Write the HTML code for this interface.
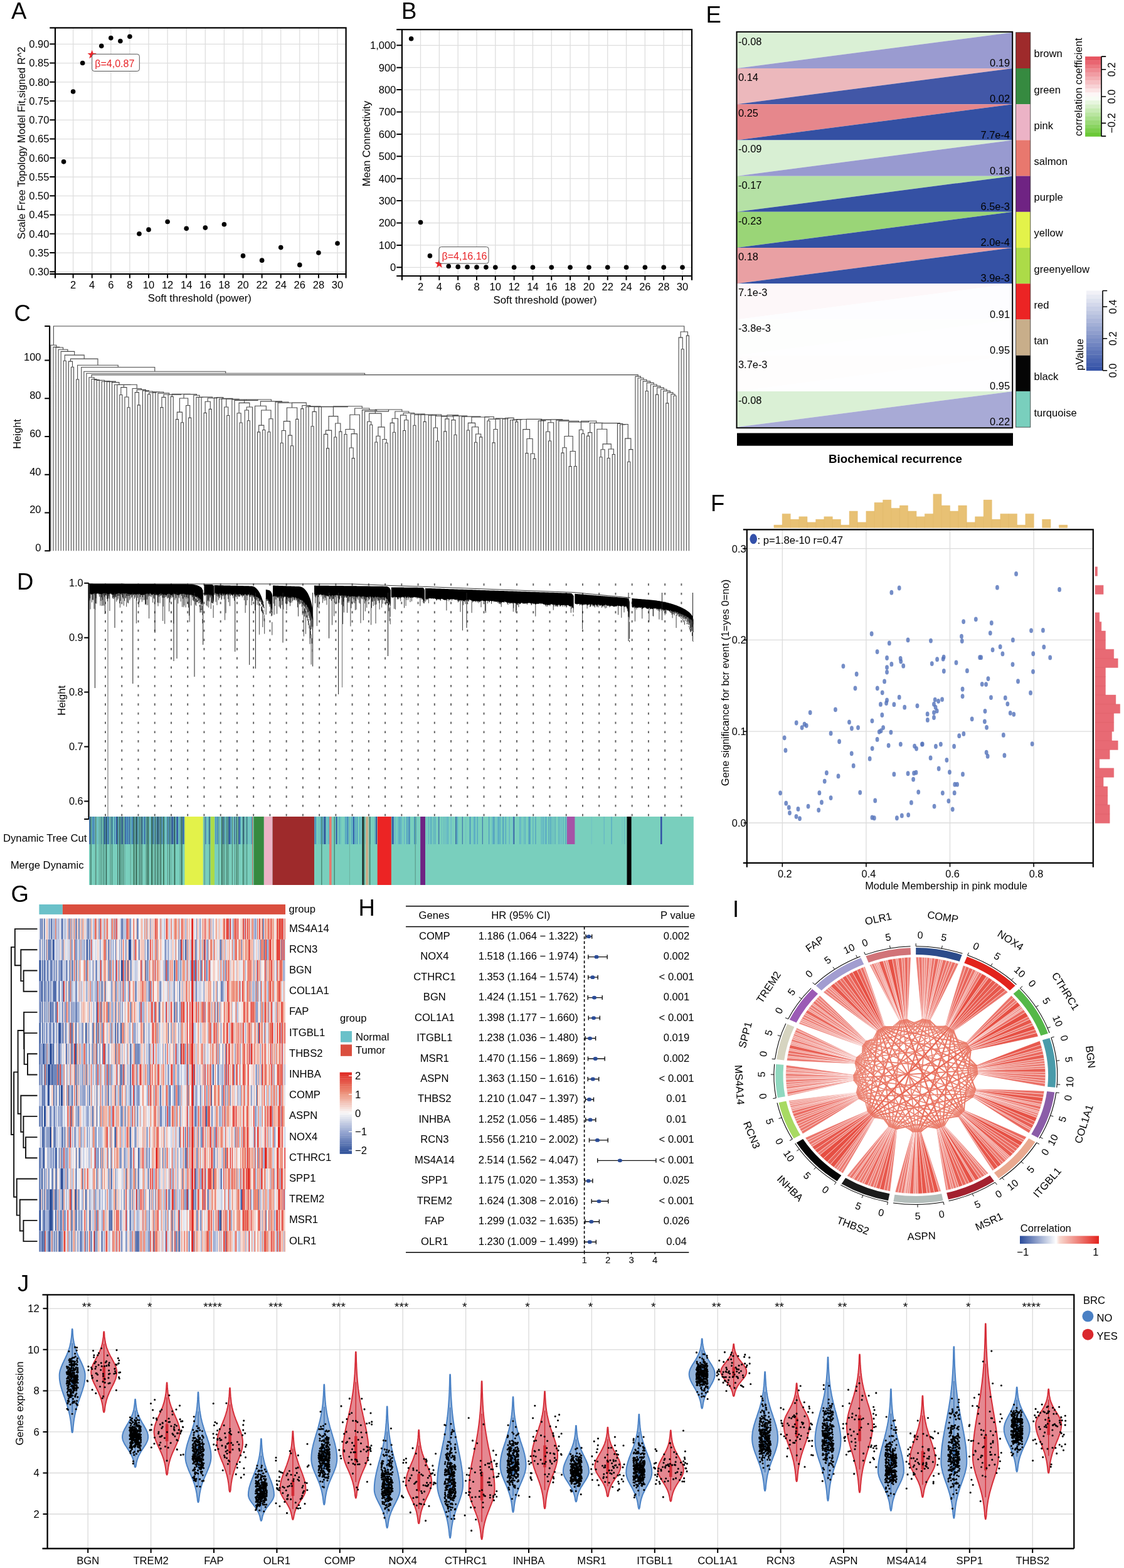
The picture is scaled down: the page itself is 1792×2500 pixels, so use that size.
<!DOCTYPE html>
<html><head><meta charset="utf-8"><title>Figure</title>
<style>html,body{margin:0;padding:0;background:#fff;width:1792px;height:2500px;overflow:hidden}</style>
</head><body>
<svg width="1792" height="2500" viewBox="0 0 1792 2500" style="font-family:'Liberation Sans',sans-serif;display:block">
<line x1="116.6" y1="44.3" x2="116.6" y2="436.8" stroke="#dedede" stroke-width="1.3"/>
<line x1="146.7" y1="44.3" x2="146.7" y2="436.8" stroke="#dedede" stroke-width="1.3"/>
<line x1="176.8" y1="44.3" x2="176.8" y2="436.8" stroke="#dedede" stroke-width="1.3"/>
<line x1="206.9" y1="44.3" x2="206.9" y2="436.8" stroke="#dedede" stroke-width="1.3"/>
<line x1="237" y1="44.3" x2="237" y2="436.8" stroke="#dedede" stroke-width="1.3"/>
<line x1="267.1" y1="44.3" x2="267.1" y2="436.8" stroke="#dedede" stroke-width="1.3"/>
<line x1="297.2" y1="44.3" x2="297.2" y2="436.8" stroke="#dedede" stroke-width="1.3"/>
<line x1="327.3" y1="44.3" x2="327.3" y2="436.8" stroke="#dedede" stroke-width="1.3"/>
<line x1="357.4" y1="44.3" x2="357.4" y2="436.8" stroke="#dedede" stroke-width="1.3"/>
<line x1="387.5" y1="44.3" x2="387.5" y2="436.8" stroke="#dedede" stroke-width="1.3"/>
<line x1="417.6" y1="44.3" x2="417.6" y2="436.8" stroke="#dedede" stroke-width="1.3"/>
<line x1="447.7" y1="44.3" x2="447.7" y2="436.8" stroke="#dedede" stroke-width="1.3"/>
<line x1="477.8" y1="44.3" x2="477.8" y2="436.8" stroke="#dedede" stroke-width="1.3"/>
<line x1="507.9" y1="44.3" x2="507.9" y2="436.8" stroke="#dedede" stroke-width="1.3"/>
<line x1="538" y1="44.3" x2="538" y2="436.8" stroke="#dedede" stroke-width="1.3"/>
<line x1="88" y1="433.3" x2="551.6" y2="433.3" stroke="#dedede" stroke-width="1.3"/>
<line x1="88" y1="403.05" x2="551.6" y2="403.05" stroke="#dedede" stroke-width="1.3"/>
<line x1="88" y1="372.8" x2="551.6" y2="372.8" stroke="#dedede" stroke-width="1.3"/>
<line x1="88" y1="342.55" x2="551.6" y2="342.55" stroke="#dedede" stroke-width="1.3"/>
<line x1="88" y1="312.3" x2="551.6" y2="312.3" stroke="#dedede" stroke-width="1.3"/>
<line x1="88" y1="282.05" x2="551.6" y2="282.05" stroke="#dedede" stroke-width="1.3"/>
<line x1="88" y1="251.8" x2="551.6" y2="251.8" stroke="#dedede" stroke-width="1.3"/>
<line x1="88" y1="221.55" x2="551.6" y2="221.55" stroke="#dedede" stroke-width="1.3"/>
<line x1="88" y1="191.3" x2="551.6" y2="191.3" stroke="#dedede" stroke-width="1.3"/>
<line x1="88" y1="161.05" x2="551.6" y2="161.05" stroke="#dedede" stroke-width="1.3"/>
<line x1="88" y1="130.8" x2="551.6" y2="130.8" stroke="#dedede" stroke-width="1.3"/>
<line x1="88" y1="100.55" x2="551.6" y2="100.55" stroke="#dedede" stroke-width="1.3"/>
<line x1="88" y1="70.3" x2="551.6" y2="70.3" stroke="#dedede" stroke-width="1.3"/>
<path d="M79.3 44.3H551.6V443.6M79.3 436.8H551.6M88 44.3V443.6" fill="none" stroke="#000" stroke-width="2.2"/>
<text x="78.4" y="439.1" font-size="16.5" text-anchor="end">0.30</text>
<text x="78.4" y="408.85" font-size="16.5" text-anchor="end">0.35</text>
<text x="78.4" y="378.6" font-size="16.5" text-anchor="end">0.40</text>
<text x="78.4" y="348.35" font-size="16.5" text-anchor="end">0.45</text>
<text x="78.4" y="318.1" font-size="16.5" text-anchor="end">0.50</text>
<text x="78.4" y="287.85" font-size="16.5" text-anchor="end">0.55</text>
<text x="78.4" y="257.6" font-size="16.5" text-anchor="end">0.60</text>
<text x="78.4" y="227.35" font-size="16.5" text-anchor="end">0.65</text>
<text x="78.4" y="197.1" font-size="16.5" text-anchor="end">0.70</text>
<text x="78.4" y="166.85" font-size="16.5" text-anchor="end">0.75</text>
<text x="78.4" y="136.6" font-size="16.5" text-anchor="end">0.80</text>
<text x="78.4" y="106.35" font-size="16.5" text-anchor="end">0.85</text>
<text x="78.4" y="76.1" font-size="16.5" text-anchor="end">0.90</text>
<text x="116.6" y="459.9" font-size="16.5" text-anchor="middle">2</text>
<text x="146.7" y="459.9" font-size="16.5" text-anchor="middle">4</text>
<text x="176.8" y="459.9" font-size="16.5" text-anchor="middle">6</text>
<text x="206.9" y="459.9" font-size="16.5" text-anchor="middle">8</text>
<text x="237" y="459.9" font-size="16.5" text-anchor="middle">10</text>
<text x="267.1" y="459.9" font-size="16.5" text-anchor="middle">12</text>
<text x="297.2" y="459.9" font-size="16.5" text-anchor="middle">14</text>
<text x="327.3" y="459.9" font-size="16.5" text-anchor="middle">16</text>
<text x="357.4" y="459.9" font-size="16.5" text-anchor="middle">18</text>
<text x="387.5" y="459.9" font-size="16.5" text-anchor="middle">20</text>
<text x="417.6" y="459.9" font-size="16.5" text-anchor="middle">22</text>
<text x="447.7" y="459.9" font-size="16.5" text-anchor="middle">24</text>
<text x="477.8" y="459.9" font-size="16.5" text-anchor="middle">26</text>
<text x="507.9" y="459.9" font-size="16.5" text-anchor="middle">28</text>
<text x="538" y="459.9" font-size="16.5" text-anchor="middle">30</text>
<path d="M79.3 433.3H88M79.3 403.05H88M79.3 372.8H88M79.3 342.55H88M79.3 312.3H88M79.3 282.05H88M79.3 251.8H88M79.3 221.55H88M79.3 191.3H88M79.3 161.05H88M79.3 130.8H88M79.3 100.55H88M79.3 70.3H88M116.6 436.8v6.8M146.7 436.8v6.8M176.8 436.8v6.8M206.9 436.8v6.8M237 436.8v6.8M267.1 436.8v6.8M297.2 436.8v6.8M327.3 436.8v6.8M357.4 436.8v6.8M387.5 436.8v6.8M417.6 436.8v6.8M447.7 436.8v6.8M477.8 436.8v6.8M507.9 436.8v6.8M538 436.8v6.8" stroke="#000" stroke-width="2"/>
<text x="318.4" y="480.5" font-size="16.8" text-anchor="middle">Soft threshold (power)</text>
<text x="40.4" y="228" font-size="16.4" text-anchor="middle" transform="rotate(-90 40.4 228)">Scale Free Topology Model Fit,signed R^2</text>
<circle cx="101.55" cy="257.85" r="3.8" fill="#000"/>
<circle cx="116.6" cy="145.93" r="3.8" fill="#000"/>
<circle cx="131.65" cy="100.55" r="3.8" fill="#000"/>
<circle cx="161.75" cy="73.33" r="3.8" fill="#000"/>
<circle cx="176.8" cy="60.62" r="3.8" fill="#000"/>
<circle cx="191.85" cy="65.46" r="3.8" fill="#000"/>
<circle cx="206.9" cy="58.2" r="3.8" fill="#000"/>
<circle cx="221.95" cy="372.8" r="3.8" fill="#000"/>
<circle cx="237" cy="366.15" r="3.8" fill="#000"/>
<circle cx="267.1" cy="353.44" r="3.8" fill="#000"/>
<circle cx="297.2" cy="364.33" r="3.8" fill="#000"/>
<circle cx="327.3" cy="363.12" r="3.8" fill="#000"/>
<circle cx="357.4" cy="357.68" r="3.8" fill="#000"/>
<circle cx="387.5" cy="407.89" r="3.8" fill="#000"/>
<circle cx="417.6" cy="415.15" r="3.8" fill="#000"/>
<circle cx="447.7" cy="394.58" r="3.8" fill="#000"/>
<circle cx="477.8" cy="422.41" r="3.8" fill="#000"/>
<circle cx="507.9" cy="403.05" r="3.8" fill="#000"/>
<circle cx="538" cy="387.93" r="3.8" fill="#000"/>
<polygon points="146.7,79.74 148.55,84.69 153.83,84.92 149.7,88.21 151.11,93.31 146.7,90.39 142.29,93.31 143.7,88.21 139.57,84.92 144.85,84.69" fill="#e8262a"/>
<rect x="146.7" y="86.3" width="75.6" height="27.2" rx="3.5" fill="#fff" stroke="#555" stroke-width="1"/>
<text x="151.3" y="106.5" font-size="16" fill="#e8262a">β=4,0.87</text>
<text x="18" y="29.5" font-size="36.5">A</text>
<line x1="670.52" y1="47.2" x2="670.52" y2="440" stroke="#dedede" stroke-width="1.3"/>
<line x1="700.34" y1="47.2" x2="700.34" y2="440" stroke="#dedede" stroke-width="1.3"/>
<line x1="730.16" y1="47.2" x2="730.16" y2="440" stroke="#dedede" stroke-width="1.3"/>
<line x1="759.98" y1="47.2" x2="759.98" y2="440" stroke="#dedede" stroke-width="1.3"/>
<line x1="789.8" y1="47.2" x2="789.8" y2="440" stroke="#dedede" stroke-width="1.3"/>
<line x1="819.62" y1="47.2" x2="819.62" y2="440" stroke="#dedede" stroke-width="1.3"/>
<line x1="849.44" y1="47.2" x2="849.44" y2="440" stroke="#dedede" stroke-width="1.3"/>
<line x1="879.26" y1="47.2" x2="879.26" y2="440" stroke="#dedede" stroke-width="1.3"/>
<line x1="909.08" y1="47.2" x2="909.08" y2="440" stroke="#dedede" stroke-width="1.3"/>
<line x1="938.9" y1="47.2" x2="938.9" y2="440" stroke="#dedede" stroke-width="1.3"/>
<line x1="968.72" y1="47.2" x2="968.72" y2="440" stroke="#dedede" stroke-width="1.3"/>
<line x1="998.54" y1="47.2" x2="998.54" y2="440" stroke="#dedede" stroke-width="1.3"/>
<line x1="1028.36" y1="47.2" x2="1028.36" y2="440" stroke="#dedede" stroke-width="1.3"/>
<line x1="1058.18" y1="47.2" x2="1058.18" y2="440" stroke="#dedede" stroke-width="1.3"/>
<line x1="1088" y1="47.2" x2="1088" y2="440" stroke="#dedede" stroke-width="1.3"/>
<line x1="640.9" y1="426.3" x2="1103" y2="426.3" stroke="#dedede" stroke-width="1.3"/>
<line x1="640.9" y1="390.9" x2="1103" y2="390.9" stroke="#dedede" stroke-width="1.3"/>
<line x1="640.9" y1="355.5" x2="1103" y2="355.5" stroke="#dedede" stroke-width="1.3"/>
<line x1="640.9" y1="320.1" x2="1103" y2="320.1" stroke="#dedede" stroke-width="1.3"/>
<line x1="640.9" y1="284.7" x2="1103" y2="284.7" stroke="#dedede" stroke-width="1.3"/>
<line x1="640.9" y1="249.3" x2="1103" y2="249.3" stroke="#dedede" stroke-width="1.3"/>
<line x1="640.9" y1="213.9" x2="1103" y2="213.9" stroke="#dedede" stroke-width="1.3"/>
<line x1="640.9" y1="178.5" x2="1103" y2="178.5" stroke="#dedede" stroke-width="1.3"/>
<line x1="640.9" y1="143.1" x2="1103" y2="143.1" stroke="#dedede" stroke-width="1.3"/>
<line x1="640.9" y1="107.7" x2="1103" y2="107.7" stroke="#dedede" stroke-width="1.3"/>
<line x1="640.9" y1="72.3" x2="1103" y2="72.3" stroke="#dedede" stroke-width="1.3"/>
<path d="M632.2 47.2H1103V446.8M632.2 440H1103M640.9 47.2V446.8" fill="none" stroke="#000" stroke-width="2.2"/>
<text x="631.3" y="432.1" font-size="16.5" text-anchor="end">0</text>
<text x="631.3" y="396.7" font-size="16.5" text-anchor="end">100</text>
<text x="631.3" y="361.3" font-size="16.5" text-anchor="end">200</text>
<text x="631.3" y="325.9" font-size="16.5" text-anchor="end">300</text>
<text x="631.3" y="290.5" font-size="16.5" text-anchor="end">400</text>
<text x="631.3" y="255.1" font-size="16.5" text-anchor="end">500</text>
<text x="631.3" y="219.7" font-size="16.5" text-anchor="end">600</text>
<text x="631.3" y="184.3" font-size="16.5" text-anchor="end">700</text>
<text x="631.3" y="148.9" font-size="16.5" text-anchor="end">800</text>
<text x="631.3" y="113.5" font-size="16.5" text-anchor="end">900</text>
<text x="631.3" y="78.1" font-size="16.5" text-anchor="end">1,000</text>
<text x="670.52" y="463" font-size="16.5" text-anchor="middle">2</text>
<text x="700.34" y="463" font-size="16.5" text-anchor="middle">4</text>
<text x="730.16" y="463" font-size="16.5" text-anchor="middle">6</text>
<text x="759.98" y="463" font-size="16.5" text-anchor="middle">8</text>
<text x="789.8" y="463" font-size="16.5" text-anchor="middle">10</text>
<text x="819.62" y="463" font-size="16.5" text-anchor="middle">12</text>
<text x="849.44" y="463" font-size="16.5" text-anchor="middle">14</text>
<text x="879.26" y="463" font-size="16.5" text-anchor="middle">16</text>
<text x="909.08" y="463" font-size="16.5" text-anchor="middle">18</text>
<text x="938.9" y="463" font-size="16.5" text-anchor="middle">20</text>
<text x="968.72" y="463" font-size="16.5" text-anchor="middle">22</text>
<text x="998.54" y="463" font-size="16.5" text-anchor="middle">24</text>
<text x="1028.36" y="463" font-size="16.5" text-anchor="middle">26</text>
<text x="1058.18" y="463" font-size="16.5" text-anchor="middle">28</text>
<text x="1088" y="463" font-size="16.5" text-anchor="middle">30</text>
<path d="M632.2 426.3H640.9M632.2 390.9H640.9M632.2 355.5H640.9M632.2 320.1H640.9M632.2 284.7H640.9M632.2 249.3H640.9M632.2 213.9H640.9M632.2 178.5H640.9M632.2 143.1H640.9M632.2 107.7H640.9M632.2 72.3H640.9M670.52 440v6.8M700.34 440v6.8M730.16 440v6.8M759.98 440v6.8M789.8 440v6.8M819.62 440v6.8M849.44 440v6.8M879.26 440v6.8M909.08 440v6.8M938.9 440v6.8M968.72 440v6.8M998.54 440v6.8M1028.36 440v6.8M1058.18 440v6.8M1088 440v6.8" stroke="#000" stroke-width="2"/>
<text x="869" y="484" font-size="16.8" text-anchor="middle">Soft threshold (power)</text>
<text x="590" y="229" font-size="16.6" text-anchor="middle" transform="rotate(-90 590 229)">Mean Connectivity</text>
<circle cx="655.61" cy="61.68" r="3.8" fill="#000"/>
<circle cx="670.52" cy="354.44" r="3.8" fill="#000"/>
<circle cx="685.43" cy="407.89" r="3.8" fill="#000"/>
<circle cx="715.25" cy="424.53" r="3.8" fill="#000"/>
<circle cx="730.16" cy="425.42" r="3.8" fill="#000"/>
<circle cx="745.07" cy="425.77" r="3.8" fill="#000"/>
<circle cx="759.98" cy="426.02" r="3.8" fill="#000"/>
<circle cx="774.89" cy="426.12" r="3.8" fill="#000"/>
<circle cx="789.8" cy="426.19" r="3.8" fill="#000"/>
<circle cx="819.62" cy="426.26" r="3.8" fill="#000"/>
<circle cx="849.44" cy="426.3" r="3.8" fill="#000"/>
<circle cx="879.26" cy="426.3" r="3.8" fill="#000"/>
<circle cx="909.08" cy="426.3" r="3.8" fill="#000"/>
<circle cx="938.9" cy="426.3" r="3.8" fill="#000"/>
<circle cx="968.72" cy="426.3" r="3.8" fill="#000"/>
<circle cx="998.54" cy="426.3" r="3.8" fill="#000"/>
<circle cx="1028.36" cy="426.3" r="3.8" fill="#000"/>
<circle cx="1058.18" cy="426.3" r="3.8" fill="#000"/>
<circle cx="1088" cy="426.3" r="3.8" fill="#000"/>
<polygon points="700.34,413.08 702.19,418.03 707.47,418.26 703.34,421.55 704.75,426.65 700.34,423.73 695.93,426.65 697.34,421.55 693.21,418.26 698.49,418.03" fill="#e8262a"/>
<rect x="700" y="393.6" width="79" height="26.5" rx="3.5" fill="#fff" stroke="#555" stroke-width="1"/>
<text x="704.5" y="413.5" font-size="16" fill="#e8262a">β=4,16.16</text>
<text x="640" y="30.3" font-size="36.5">B</text>
<path d="M85.39 550.31V519.95H1090.77V529.06M80.9 878.2V550.31H89.88V553.35M84.97 878.2V553.35H94.79V553.96M89.04 878.2V553.96H100.54V557.29M93.11 878.2V557.29H107.96V560.33M97.18 878.2V560.33H118.74V566.1M103.29 575.21V566.1H134.2V572.17M101.25 878.2V575.21H105.32V878.2M112.44 576.12V572.17H155.95V582.19M109.39 878.2V576.12H115.5V585.23M113.46 878.2V585.23H117.53V878.2M123.64 604.96V582.19H188.26V585.53M121.6 878.2V604.96H125.67V878.2M129.74 878.2V585.53H246.78V592.21M133.81 878.2V592.21H359.75V595.24M137.88 878.2V595.24H581.62V597.67M146.02 601.79V597.67H1017.22V600.1M141.95 878.2V601.79H150.1V604.53M146.02 878.2V604.53H154.17V605.6M150.09 878.2V605.6H158.26V606.48M154.16 878.2V606.48H162.35V606.18M158.23 878.2V606.18H166.47V608.27M162.3 878.2V608.27H170.64V607.43M166.37 878.2V607.43H174.92V608.61M170.44 878.2V608.61H179.39V608.15M174.51 878.2V608.15H184.27V609.58M178.58 878.2V609.58H189.96V613.18M182.65 878.2V613.18H197.27V613.57M186.72 878.2V613.57H207.82V613.21M197.4 617.64V613.21H218.24V619.53M192.82 629.54V617.64H201.98V633M190.79 878.2V629.54H194.86V878.2M198.93 878.2V633H205.04V649.77M203 878.2V649.77H207.07V878.2M211.14 878.2V619.53H225.33V621.37M218.26 625.63V621.37H232.41V622.85M215.21 878.2V625.63H221.32V645.86M219.28 878.2V645.86H223.35V878.2M227.42 878.2V622.85H237.39V624.01M231.49 878.2V624.01H243.29V626.04M237.6 628.81V626.04H248.99V624.84M235.56 878.2V628.81H239.63V878.2M243.7 878.2V624.84H254.27V625.07M247.77 878.2V625.07H260.78V626.88M251.84 878.2V626.88H269.71V629M261 633.34V629H278.43V629.28M257.95 649.62V633.34H264.05V878.2M255.91 878.2V649.62H259.98V878.2M268.12 878.2V629.28H288.74V628.24M274.23 632.35V628.24H303.26V628.59M272.19 878.2V632.35H276.26V878.2M293.05 635.04V628.59H313.48V630.3M286.44 657.1V635.04H299.66V646.45M282.37 668.67V657.1H290.5V673.71M280.33 878.2V668.67H284.4V878.2M288.47 878.2V673.71H292.54V878.2M296.61 878.2V646.45H302.72V666.16M300.68 878.2V666.16H304.75V878.2M308.82 878.2V630.3H318.14V633.37M312.89 878.2V633.37H323.39V633.31M316.96 878.2V633.31H329.82V633.09M321.03 878.2V633.09H338.62V634.69M331.21 640.32V634.69H346.03V633.95M327.13 658.35V640.32H335.28V652.38M325.1 878.2V658.35H329.17V878.2M333.24 878.2V652.38H337.31V878.2M341.38 878.2V633.95H350.67V633.65M345.45 878.2V633.65H355.89V635.99M349.52 878.2V635.99H362.26V635.41M353.59 878.2V635.41H370.94V636.25M360.71 649V636.25H381.16V636.95M357.66 878.2V649H363.76V662.56M361.73 878.2V662.56H365.8V878.2M369.87 878.2V636.95H392.45V638.35M373.94 878.2V638.35H410.96V637.07M389.46 642.39V637.07H432.47V639.87M381.06 658.79V642.39H397.85V648.96M378.01 878.2V658.79H384.12V673.94M382.08 878.2V673.94H386.15V878.2M393.27 654.02V648.96H402.43V878.2M390.22 878.2V654.02H396.33V670.69M394.29 878.2V670.69H398.36V878.2M415.4 647.19V639.87H449.53V640.98M406.5 878.2V647.19H424.31V654.02M416.67 678.17V654.02H431.94V667.77M412.61 688.88V678.17H420.75V685.57M410.57 878.2V688.88H414.64V878.2M418.71 878.2V685.57H422.78V878.2M428.89 688.68V667.77H434.99V878.2M426.85 878.2V688.68H430.92V878.2M439.06 878.2V640.98H460V642.27M443.13 878.2V642.27H476.88V642.15M465.51 650.05V642.15H488.24V646.49M457.38 671.65V650.05H473.66V668.35M452.29 686.43V671.65H462.46V694.12M449.24 706.22V686.43H455.34V878.2M447.2 878.2V706.22H451.27V878.2M459.41 878.2V694.12H465.51V710.78M463.48 878.2V710.78H467.55V878.2M471.62 878.2V668.35H475.69V878.2M481.8 651.62V646.49H494.68V648.33M479.76 878.2V651.62H483.83V878.2M487.9 878.2V648.33H501.46V647.82M491.97 878.2V647.82H510.96V648.8M501.13 656.33V648.8H520.79V648.36M498.08 679.73V656.33H504.18V878.2M496.04 878.2V679.73H500.11V878.2M508.25 878.2V648.36H533.33V648.64M512.32 878.2V648.64H554.35V647.81M531.4 663.63V647.81H577.3V650.95M524.02 686.12V663.63H538.78V674.97M519.44 692.35V686.12H528.6V878.2M516.39 878.2V692.35H522.5V714.86M520.46 878.2V714.86H524.53V878.2M534.71 697.07V674.97H542.85V688.09M532.67 878.2V697.07H536.74V878.2M540.81 878.2V688.09H544.88V878.2M565.61 661.32V650.95H588.99V653.64M557.85 684.55V661.32H573.37V878.2M550.99 692.46V684.55H564.72V691.61M548.95 878.2V692.46H553.02V878.2M560.14 714.02V691.61H569.3V878.2M557.09 878.2V714.02H563.2V730.65M561.16 878.2V730.65H565.23V878.2M577.44 878.2V653.64H600.54V655.91M581.51 878.2V655.91H619.57V653.02M598.3 659.08V653.02H640.84V656.06M588.63 672.2V659.08H607.97V680.84M585.58 878.2V672.2H591.69V677.31M589.65 878.2V677.31H593.72V878.2M602.88 695.29V680.84H613.05V700.47M599.83 704.96V695.29H605.93V878.2M597.79 878.2V704.96H601.86V878.2M610 878.2V700.47H616.11V706.22M614.07 878.2V706.22H618.14V878.2M629.84 667.23V656.06H651.84V658.52M625.26 674.37V667.23H634.42V878.2M622.21 878.2V674.37H628.32V689.25M626.28 878.2V689.25H630.35V878.2M643.07 661.83V658.52H660.62V659.97M638.49 878.2V661.83H647.65V669.78M644.6 686.55V669.78H650.7V878.2M642.56 878.2V686.55H646.63V878.2M654.77 878.2V659.97H666.47V661.28M660.88 678.31V661.28H672.07V660.03M658.84 878.2V678.31H662.91V878.2M666.98 878.2V660.03H677.15V661.12M671.05 878.2V661.12H683.25V660.97M677.16 672.34V660.97H689.35V662.21M675.12 878.2V672.34H679.19V878.2M683.26 878.2V662.21H695.44V661.04M687.33 878.2V661.04H703.56V663.12M694.45 682.06V663.12H712.66V664M691.4 878.2V682.06H697.5V703.19M695.47 878.2V703.19H699.54V878.2M703.61 878.2V664H721.71V661.9M712.77 667.85V661.9H730.66V663.12M709.72 687.87V667.85H715.82V878.2M707.68 878.2V687.87H711.75V878.2M722.94 669.65V663.12H738.37V663.13M719.89 878.2V669.65H726V693.3M723.96 878.2V693.3H728.03V878.2M732.1 878.2V663.13H744.65V664.09M736.17 878.2V664.09H753.12V664.12M740.24 878.2V664.12H766V665M751.94 674.41V665H780.06V664.47M746.35 686V674.41H757.54V680.78M744.31 878.2V686H748.38V878.2M752.45 878.2V680.78H762.62V692M758.55 705.25V692H766.7V696.92M756.52 878.2V705.25H760.59V878.2M764.66 878.2V696.92H768.73V878.2M772.8 878.2V664.47H787.32V668.08M778.9 671.07V668.08H795.74V667.09M776.87 878.2V671.07H780.94V878.2M790.1 684.54V667.09H801.39V667.21M787.05 705.86V684.54H793.15V878.2M785.01 878.2V705.86H789.08V878.2M797.22 878.2V667.21H805.56V668.06M801.29 878.2V668.06H809.83V666.51M805.36 878.2V666.51H814.31V666.33M809.43 878.2V666.33H819.19V669.7M813.5 878.2V669.7H824.87V668.98M817.57 878.2V668.98H832.18V668.45M823.67 672.67V668.45H840.68V668.43M821.64 878.2V672.67H825.71V878.2M829.78 878.2V668.43H851.57V668.33M839.19 684.6V668.33H863.95V670.89M833.85 878.2V684.6H844.53V699.55M839.96 722.62V699.55H849.11V723.24M837.92 878.2V722.62H841.99V878.2M846.06 878.2V723.24H852.17V731.36M850.13 878.2V731.36H854.2V878.2M858.27 878.2V670.89H869.63V669.36M862.34 878.2V669.36H876.92V669.05M866.41 878.2V669.05H887.43V668.75M878.11 673.69V668.75H896.74V669.85M873.53 688.23V673.69H882.69V878.2M870.48 878.2V688.23H876.59V702.93M874.55 878.2V702.93H878.62V878.2M886.76 878.2V669.85H906.73V671.2M890.83 878.2V671.2H922.62V672.92M906.6 695.56V672.92H938.64V671.2M899.99 713.69V695.56H913.22V719.5M896.93 722.16V713.69H903.04V878.2M894.9 878.2V722.16H898.97V878.2M909.15 743.58V719.5H917.29V743.44M907.11 878.2V743.58H911.18V878.2M915.25 878.2V743.44H919.32V878.2M926.44 685.24V671.2H950.84V674.31M923.39 878.2V685.24H929.5V691.46M927.46 878.2V691.46H931.53V878.2M940.69 689.67V674.31H960.99V674.44M937.64 695.12V689.67H943.74V878.2M935.6 878.2V695.12H939.67V878.2M947.81 878.2V674.44H974.17V674.6M959.77 684.23V674.6H988.57V675.48M951.88 878.2V684.23H967.65V707.84M961.04 716.69V707.84H974.27V716M957.99 728.78V716.69H964.09V878.2M955.95 878.2V728.78H960.02V878.2M970.2 730.48V716H978.34V724.52M968.16 878.2V730.48H972.23V878.2M976.3 878.2V724.52H980.37V878.2M984.44 878.2V675.48H992.71V677.02M988.51 878.2V677.02H996.9V676.43M992.58 878.2V676.43H1001.23V699.09M996.65 878.2V699.09H1005.81V716.62M1002.75 736.26V716.62H1008.86V878.2M1000.72 878.2V736.26H1004.79V878.2M1012.93 878.2V600.1H1021.5V602.68M1017 878.2V602.68H1026.01V605.26M1021.07 878.2V605.26H1030.95V607.84M1025.14 878.2V607.84H1036.75V610.42M1031.25 623.47V610.42H1042.26V613.01M1029.21 878.2V623.47H1033.28V878.2M1037.35 878.2V613.01H1047.18V615.59M1041.42 878.2V615.59H1052.93V618.17M1047.53 629.11V618.17H1058.34V620.75M1045.49 878.2V629.11H1049.56V878.2M1053.63 878.2V620.75H1063.04V623.33M1057.7 878.2V623.33H1068.38V625.91M1063.81 642.92V625.91H1072.96V628.49M1061.77 878.2V642.92H1065.84V878.2M1069.91 878.2V628.49H1076.02V631.07M1073.98 878.2V631.07H1078.05V878.2M1085.17 538.17V529.06H1096.37V535.13M1082.12 878.2V538.17H1088.23V556.69M1086.19 878.2V556.69H1090.26V878.2M1094.33 878.2V535.13H1098.4V878.2" fill="none" stroke="#4a4a4a" stroke-width="1.1"/>
<path d="M79.1 520V879" stroke="#000" stroke-width="2.2"/>
<text x="65.5" y="879" font-size="16.5" text-anchor="end">0</text>
<text x="65.5" y="818.28" font-size="16.5" text-anchor="end">20</text>
<text x="65.5" y="757.56" font-size="16.5" text-anchor="end">40</text>
<text x="65.5" y="696.84" font-size="16.5" text-anchor="end">60</text>
<text x="65.5" y="636.12" font-size="16.5" text-anchor="end">80</text>
<text x="65.5" y="575.4" font-size="16.5" text-anchor="end">100</text>
<path d="M71.2 878.2H80M71.2 817.48H80M71.2 756.76H80M71.2 696.04H80M71.2 635.32H80M71.2 574.6H80M71.2 520H80" stroke="#000" stroke-width="2"/>
<text x="33.3" y="692" font-size="16.5" text-anchor="middle" transform="rotate(-90 33.3 692)">Height</text>
<text x="22.5" y="512" font-size="36.5">C</text>
<!-- leaves 251 -->
<path d="M168 930.2V1302M194.24 930.2V1302M220.48 930.2V1302M246.72 930.2V1302M272.96 930.2V1302M299.2 930.2V1302M325.44 930.2V1302M351.68 930.2V1302M377.92 930.2V1302M404.16 930.2V1302M430.4 930.2V1302M456.64 930.2V1302M482.88 930.2V1302M509.12 930.2V1302M535.36 930.2V1302M561.6 930.2V1302M587.84 930.2V1302M614.08 930.2V1302M640.32 930.2V1302M666.56 930.2V1302M692.8 930.2V1302M719.04 930.2V1302M745.28 930.2V1302M771.52 930.2V1302M797.76 930.2V1302M824 930.2V1302M850.24 930.2V1302M876.48 930.2V1302M902.72 930.2V1302M928.96 930.2V1302M955.2 930.2V1302M981.44 930.2V1302M1007.68 930.2V1302M1033.92 930.2V1302M1060.16 930.2V1302M1086.4 930.2V1302" stroke="#666" stroke-width="2" stroke-dasharray="3.6 11.1"/>
<line x1="172" y1="940" x2="172" y2="1302" stroke="#8a8a8a" stroke-width="1.3"/>
<line x1="545.5" y1="950" x2="545.5" y2="1096" stroke="#777" stroke-width="1.1"/>
<path d="M142 931H560L622 933.5L680 935.5L915 944.5L1005 953" fill="none" stroke="#333" stroke-width="1"/>
<polygon points="142.5,930.6 144.76,930.61 147.03,930.62 149.29,930.63 151.56,930.64 153.82,930.66 156.09,930.67 158.35,930.68 160.62,930.69 162.88,930.7 165.15,930.71 167.41,930.72 169.68,930.74 171.94,930.75 174.21,930.76 176.47,930.77 178.74,930.78 181,930.79 183.27,930.8 185.53,930.81 187.8,930.83 190.06,930.84 192.33,930.85 194.59,930.86 196.86,930.87 199.12,930.88 201.39,930.89 203.66,930.9 205.92,930.91 208.19,930.93 210.45,930.94 212.72,930.95 214.98,930.96 217.25,930.97 219.51,930.98 221.78,930.99 224.04,931 226.31,931.02 228.57,931.03 230.83,931.04 233.1,931.05 235.37,931.06 237.63,931.07 239.89,931.08 242.16,931.1 244.42,931.11 246.69,931.12 248.95,931.13 251.22,931.14 253.48,931.15 255.75,931.16 258.01,931.17 260.28,931.19 262.54,931.2 264.81,931.21 267.07,931.22 269.34,931.23 271.61,931.24 273.87,931.25 276.13,931.26 278.4,931.27 280.66,931.29 282.93,931.3 285.19,931.31 287.46,931.32 289.73,931.33 291.99,931.34 294.25,931.35 296.52,931.37 298.78,931.38 301.05,931.39 303.31,931.43 305.58,931.57 307.84,931.82 310.11,932.19 312.38,932.7 314.64,933.37 316.9,934.24 319.17,935.4 321.44,937.07 323.7,941.5 323.7,967.13 321.44,958.08 319.17,955.12 316.9,953.62 314.64,951.35 312.38,951.39 310.11,949.18 307.84,949.85 305.58,947.95 303.31,948.13 301.05,948.1 298.78,947.04 296.52,948.49 294.25,946.7 291.99,946.78 289.73,947.11 287.46,946.78 285.19,948.3 282.93,948.78 280.66,947.24 278.4,946.63 276.13,947.05 273.87,948.26 271.61,947.88 269.34,946.53 267.07,947.29 264.81,948.67 262.54,947.42 260.28,948.46 258.01,946.76 255.75,946.24 253.48,948.25 251.22,948.5 248.95,947.11 246.69,948.19 244.42,947.1 242.16,947.96 239.89,946.27 237.63,946.78 235.37,946.62 233.1,946.81 230.83,947.73 228.57,948.03 226.31,948.38 224.04,948.37 221.78,946.62 219.51,947.04 217.25,947.51 214.98,947.1 212.72,947.42 210.45,947.11 208.19,947.87 205.92,946.88 203.66,946.92 201.39,945.86 199.12,946.35 196.86,946.21 194.59,945.87 192.33,946.98 190.06,945.73 187.8,946.05 185.53,947.13 183.27,947.21 181,947.93 178.74,947.96 176.47,945.68 174.21,947.23 171.94,947.49 169.68,945.74 167.41,946.23 165.15,945.71 162.88,947.37 160.62,946.96 158.35,946.66 156.09,945.86 153.82,946.8 151.56,946.59 149.29,946.47 147.03,947.56 144.76,946.66 142.5,946.39" fill="#000"/>
<polygon points="325.4,932 325.59,932 325.79,932 325.98,932 326.18,932 326.38,932 326.57,932 326.76,932 326.96,932 327.15,932 327.35,932 327.54,932 327.74,932 327.94,932 328.13,932 328.32,932 328.52,932 328.71,932 328.91,932 329.1,932 329.3,932 329.5,932 329.69,932 329.88,932 330.08,932 330.27,932 330.47,932 330.66,932 330.86,932 331.06,932 331.25,932 331.44,932 331.64,932 331.83,932 332.03,932 332.22,932 332.42,932 332.62,932 332.81,932 333,932 333.2,932 333.39,932 333.59,932 333.78,932 333.98,932 334.18,932 334.37,932 334.56,932 334.76,932 334.95,932 335.15,932 335.34,932 335.54,932 335.74,932 335.93,932 336.12,932 336.32,932 336.51,932 336.71,932 336.9,932 337.1,932 337.3,932.01 337.49,932.02 337.69,932.04 337.88,932.07 338.07,932.11 338.27,932.16 338.46,932.21 338.66,932.27 338.86,932.34 339.05,932.42 339.25,932.52 339.44,932.62 339.63,932.74 339.83,932.88 340.02,933.04 340.22,933.22 340.42,933.44 340.61,933.71 340.81,934.07 341,935 341,965.73 340.81,960.59 340.61,959.54 340.42,957.53 340.22,955.96 340.02,956.89 339.83,955.54 339.63,954.29 339.44,954.46 339.25,953.69 339.05,952.26 338.86,952.59 338.66,952.79 338.46,952.47 338.27,950.14 338.07,949.42 337.88,949.19 337.69,950.02 337.49,948.87 337.3,950.16 337.1,949.32 336.9,948.31 336.71,949.7 336.51,948.08 336.32,949.22 336.12,947.41 335.93,948.46 335.74,948.9 335.54,949.25 335.34,949.01 335.15,947.44 334.95,948.14 334.76,948.15 334.56,948.1 334.37,948.97 334.18,947.13 333.98,949.14 333.78,947.1 333.59,947.91 333.39,947.67 333.2,949.03 333,947.59 332.81,948.47 332.62,948.18 332.42,947.39 332.22,947 332.03,947.27 331.83,948.31 331.64,949.07 331.44,947.27 331.25,948.81 331.06,948.52 330.86,948.04 330.66,949.17 330.47,948.51 330.27,947.14 330.08,948 329.88,947.65 329.69,948.12 329.5,948.97 329.3,948.64 329.1,947.18 328.91,948.27 328.71,948.78 328.52,948.69 328.32,948.02 328.13,947.71 327.94,947.06 327.74,948.36 327.54,947.62 327.35,947.59 327.15,946.84 326.96,948.26 326.76,948.38 326.57,948.7 326.38,949.16 326.18,948.48 325.98,947.76 325.79,946.84 325.59,947.79 325.4,947.6" fill="#000"/>
<polygon points="341.5,933 342.52,933.02 343.54,933.05 344.56,933.08 345.57,933.1 346.59,933.12 347.61,933.15 348.63,933.17 349.65,933.2 350.67,933.23 351.69,933.25 352.71,933.27 353.73,933.3 354.74,933.33 355.76,933.35 356.78,933.38 357.8,933.4 358.82,933.42 359.84,933.45 360.86,933.48 361.88,933.5 362.89,933.52 363.91,933.55 364.93,933.58 365.95,933.6 366.97,933.62 367.99,933.65 369.01,933.67 370.02,933.7 371.04,933.73 372.06,933.75 373.08,933.77 374.1,933.8 375.12,933.83 376.14,933.85 377.16,933.88 378.18,933.9 379.19,933.92 380.21,933.95 381.23,933.98 382.25,934 383.27,934.02 384.29,934.05 385.31,934.08 386.32,934.1 387.34,934.12 388.36,934.15 389.38,934.17 390.4,934.2 391.42,934.23 392.44,934.25 393.46,934.27 394.48,934.3 395.49,934.33 396.51,934.35 397.53,934.38 398.55,934.4 399.57,934.42 400.59,934.45 401.61,934.5 402.62,934.65 403.64,934.92 404.66,935.32 405.68,935.83 406.7,936.48 407.72,937.25 408.74,938.16 409.76,939.22 410.77,940.43 411.79,941.8 412.81,943.35 413.83,945.1 414.85,947.07 415.87,949.29 416.89,951.81 417.91,954.68 418.93,958.01 419.94,961.96 420.96,966.83 421.98,973.43 423,990 423,992.13 421.98,974.66 420.96,968.83 419.94,964.99 418.93,959.84 417.91,959.39 416.89,957.53 415.87,955.46 414.85,956.82 413.83,955.75 412.81,953.28 411.79,953.45 410.77,952.16 409.76,951.5 408.74,952.19 407.72,950.57 406.7,949.65 405.68,950.97 404.66,949.28 403.64,949.03 402.62,949.5 401.61,947.91 400.59,948.86 399.57,948.66 398.55,948.3 397.53,949.47 396.51,947.24 395.49,948.5 394.48,947.59 393.46,948.49 392.44,949.09 391.42,947.55 390.4,947.35 389.38,948.18 388.36,948.86 387.34,948.3 386.32,947.57 385.31,948.54 384.29,948.21 383.27,947.15 382.25,946.98 381.23,946.99 380.21,948.19 379.19,947.19 378.18,946.96 377.16,946.58 376.14,947.43 375.12,948.58 374.1,947.97 373.08,946.59 372.06,947.95 371.04,948.29 370.02,948.34 369.01,946.89 367.99,947.85 366.97,946.34 365.95,946.17 364.93,948.13 363.91,946.45 362.89,947.47 361.88,946.41 360.86,948.28 359.84,947.97 358.82,946.24 357.8,946.93 356.78,946.62 355.76,947.75 354.74,946.18 353.73,947.83 352.71,947.86 351.69,946.32 350.67,946.08 349.65,946.68 348.63,947.86 347.61,947.73 346.59,946.65 345.57,946.16 344.56,947.55 343.54,945.44 342.52,945.44 341.5,946.71" fill="#000"/>
<polygon points="423.8,940 423.93,940.02 424.06,940.05 424.2,940.08 424.33,940.1 424.46,940.12 424.6,940.15 424.73,940.17 424.86,940.2 424.99,940.23 425.12,940.25 425.26,940.27 425.39,940.3 425.52,940.33 425.66,940.35 425.79,940.38 425.92,940.4 426.05,940.42 426.19,940.45 426.32,940.48 426.45,940.5 426.58,940.52 426.71,940.55 426.85,940.58 426.98,940.6 427.11,940.62 427.25,940.65 427.38,940.67 427.51,940.7 427.64,940.73 427.77,940.75 427.91,940.77 428.04,940.8 428.17,940.83 428.31,940.85 428.44,940.88 428.57,940.9 428.7,940.94 428.83,940.98 428.97,941.02 429.1,941.07 429.23,941.12 429.37,941.18 429.5,941.24 429.63,941.31 429.76,941.39 429.89,941.47 430.03,941.55 430.16,941.64 430.29,941.74 430.43,941.84 430.56,941.94 430.69,942.06 430.82,942.18 430.95,942.3 431.09,942.43 431.22,942.57 431.35,942.72 431.49,942.87 431.62,943.03 431.75,943.2 431.88,943.38 432.01,943.57 432.15,943.77 432.28,943.97 432.41,944.19 432.54,944.42 432.68,944.66 432.81,944.92 432.94,945.19 433.07,945.48 433.21,945.79 433.34,946.12 433.47,946.48 433.6,946.88 433.74,947.31 433.87,947.79 434,948.35 434.13,949.01 434.27,949.89 434.4,952 434.4,984.58 434.27,981.37 434.13,977.37 434,977.47 433.87,975.21 433.74,975.49 433.6,972.91 433.47,973.83 433.34,972.03 433.21,970.76 433.07,970.25 432.94,969.83 432.81,968.01 432.68,968.43 432.54,967.67 432.41,966.63 432.28,966.02 432.15,965.7 432.01,966.43 431.88,965.65 431.75,965.68 431.62,963.98 431.49,964.85 431.35,963.48 431.22,962.52 431.09,962.7 430.95,963.75 430.82,961.91 430.69,961.76 430.56,962.12 430.43,961.16 430.29,961.94 430.16,961.28 430.03,960.31 429.89,960.09 429.76,959.45 429.63,960.04 429.5,958.47 429.37,960.37 429.23,958.57 429.1,959.44 428.97,958.51 428.83,959.63 428.7,957.4 428.57,959.34 428.44,958.65 428.31,958.62 428.17,958.41 428.04,957.28 427.91,957.95 427.77,957.94 427.64,957.86 427.51,957.05 427.38,955.7 427.25,957.87 427.11,955.97 426.98,955.39 426.85,956.51 426.71,955.94 426.58,956.93 426.45,955.91 426.32,955.17 426.19,955.21 426.05,955.27 425.92,954.86 425.79,955.16 425.66,956.41 425.52,956.61 425.39,955.61 425.26,956.87 425.12,956.5 424.99,956.62 424.86,954.97 424.73,955.73 424.6,955.75 424.46,955.43 424.33,954.19 424.2,954.94 424.06,955.86 423.93,954.86 423.8,954.96" fill="#000"/>
<polygon points="435,933.5 435.8,933.53 436.61,933.56 437.41,933.59 438.21,933.62 439.02,933.66 439.82,933.69 440.63,933.72 441.43,933.75 442.23,933.78 443.04,933.81 443.84,933.84 444.64,933.88 445.45,933.91 446.25,933.94 447.06,933.97 447.86,934 448.66,934.03 449.47,934.06 450.27,934.09 451.07,934.12 451.88,934.16 452.68,934.19 453.49,934.22 454.29,934.25 455.09,934.28 455.9,934.31 456.7,934.34 457.5,934.38 458.31,934.41 459.11,934.44 459.92,934.47 460.72,934.5 461.52,934.53 462.33,934.56 463.13,934.59 463.94,934.62 464.74,934.66 465.54,934.69 466.35,934.72 467.15,934.75 467.95,934.78 468.76,934.81 469.56,934.84 470.37,934.88 471.17,934.91 471.97,934.94 472.78,934.97 473.58,935 474.38,935.03 475.19,935.06 475.99,935.09 476.8,935.12 477.6,935.16 478.4,935.25 479.21,935.41 480.01,935.63 480.81,935.92 481.62,936.28 482.42,936.72 483.23,937.22 484.03,937.8 484.83,938.46 485.64,939.2 486.44,940.02 487.24,940.93 488.05,941.93 488.85,943.04 489.66,944.25 490.46,945.59 491.26,947.05 492.07,948.65 492.87,950.43 493.67,952.39 494.48,954.57 495.28,957.04 496.09,959.85 496.89,963.15 497.69,967.18 498.5,972.58 499.3,986 499.3,1001.79 498.5,990.99 497.69,987.43 496.89,983.96 496.09,981.91 495.28,977.58 494.48,975.84 493.67,974.53 492.87,973.58 492.07,970 491.26,968.55 490.46,967.99 489.66,967.26 488.85,964.71 488.05,963.72 487.24,963.91 486.44,962.72 485.64,961.03 484.83,961.01 484.03,959.46 483.23,958.76 482.42,957.28 481.62,957.63 480.81,957.59 480.01,955.89 479.21,956.63 478.4,956.51 477.6,955.47 476.8,954.04 475.99,955.55 475.19,953.02 474.38,954.71 473.58,953.76 472.78,954.09 471.97,952.8 471.17,952.14 470.37,951.86 469.56,953.49 468.76,953.5 467.95,952.19 467.15,951.39 466.35,951.48 465.54,952.05 464.74,951.48 463.94,952.96 463.13,953.16 462.33,952.24 461.52,952.71 460.72,952.85 459.92,952.66 459.11,951.26 458.31,951.79 457.5,952.44 456.7,951.82 455.9,950.6 455.09,951.91 454.29,950.97 453.49,950.71 452.68,952.25 451.88,951.4 451.07,951.14 450.27,951.92 449.47,950.53 448.66,951.57 447.86,951.89 447.06,949.89 446.25,952.06 445.45,950.84 444.64,951.46 443.84,951.48 443.04,951.68 442.23,950.92 441.43,951.32 440.63,949.8 439.82,950.35 439.02,951.49 438.21,949.35 437.41,951.07 436.61,949.89 435.8,951.24 435,950.57" fill="#000"/>
<polygon points="501,933.6 502.52,933.62 504.05,933.63 505.57,933.65 507.09,933.67 508.61,933.69 510.13,933.71 511.66,933.72 513.18,933.74 514.7,933.76 516.23,933.77 517.75,933.79 519.27,933.81 520.79,933.83 522.31,933.85 523.84,933.86 525.36,933.88 526.88,933.9 528.4,933.91 529.93,933.93 531.45,933.95 532.97,933.97 534.5,933.99 536.02,934 537.54,934.02 539.06,934.04 540.59,934.06 542.11,934.07 543.63,934.09 545.15,934.11 546.67,934.12 548.2,934.14 549.72,934.16 551.24,934.18 552.76,934.2 554.29,934.21 555.81,934.23 557.33,934.25 558.86,934.26 560.38,934.28 561.9,934.3 563.42,934.32 564.94,934.34 566.47,934.35 567.99,934.37 569.51,934.39 571.03,934.4 572.56,934.42 574.08,934.44 575.6,934.46 577.12,934.48 578.65,934.49 580.17,934.51 581.69,934.53 583.21,934.54 584.74,934.56 586.26,934.58 587.78,934.6 589.3,934.62 590.83,934.63 592.35,934.65 593.87,934.67 595.39,934.69 596.92,934.7 598.44,934.72 599.96,934.74 601.49,934.75 603.01,934.77 604.53,934.79 606.05,934.81 607.57,934.83 609.1,934.84 610.62,934.86 612.14,934.88 613.66,934.89 615.19,934.92 616.71,935.1 618.23,935.53 619.75,936.25 621.28,937.46 622.8,941 622.8,968.98 621.28,961.63 619.75,958.43 618.23,957.26 616.71,954.9 615.19,952.62 613.66,952.03 612.14,953.06 610.62,951.45 609.1,953.33 607.57,951.92 606.05,953.49 604.53,951.34 603.01,952.34 601.49,951.17 599.96,953.03 598.44,950.97 596.92,952.31 595.39,952.93 593.87,950.88 592.35,952.83 590.83,951.04 589.3,951.26 587.78,951.72 586.26,951.51 584.74,952.5 583.21,951.93 581.69,951 580.17,951.14 578.65,950.55 577.12,951.81 575.6,950.73 574.08,952.05 572.56,949.87 571.03,950.3 569.51,951.47 567.99,951.76 566.47,951.07 564.94,950.71 563.42,951.12 561.9,950.61 560.38,950.7 558.86,951.23 557.33,951.18 555.81,949.43 554.29,951.08 552.76,950.15 551.24,949.53 549.72,949.48 548.2,949.39 546.67,949.84 545.15,948.93 543.63,949.16 542.11,949.19 540.59,949.03 539.06,949.65 537.54,948.35 536.02,948.84 534.5,948.81 532.97,949.86 531.45,950.11 529.93,948.69 528.4,949.65 526.88,950.14 525.36,948.67 523.84,949.39 522.31,949.89 520.79,949.77 519.27,948.95 517.75,949.32 516.23,947.71 514.7,948.83 513.18,948.58 511.66,947.72 510.13,947.7 508.61,948.99 507.09,947.28 505.57,948.92 504.05,948.76 502.52,949.14 501,947.16" fill="#000"/>
<polygon points="623.8,936.4 624.46,936.41 625.13,936.41 625.79,936.42 626.46,936.43 627.12,936.44 627.79,936.44 628.45,936.45 629.12,936.46 629.78,936.47 630.45,936.48 631.12,936.48 631.78,936.49 632.44,936.5 633.11,936.5 633.77,936.51 634.44,936.52 635.11,936.53 635.77,936.53 636.43,936.54 637.1,936.55 637.76,936.56 638.43,936.56 639.09,936.57 639.76,936.58 640.42,936.59 641.09,936.6 641.75,936.6 642.42,936.61 643.08,936.62 643.75,936.62 644.41,936.63 645.08,936.64 645.75,936.65 646.41,936.65 647.07,936.66 647.74,936.67 648.4,936.68 649.07,936.68 649.74,936.69 650.4,936.7 651.06,936.71 651.73,936.72 652.39,936.72 653.06,936.73 653.73,936.74 654.39,936.75 655.05,936.75 655.72,936.76 656.38,936.77 657.05,936.77 657.72,936.78 658.38,936.79 659.04,936.8 659.71,936.8 660.38,936.81 661.04,936.82 661.7,936.83 662.37,936.84 663.03,936.84 663.7,936.85 664.37,936.86 665.03,936.87 665.69,936.87 666.36,936.88 667.02,936.89 667.69,936.89 668.36,936.9 669.02,936.91 669.68,936.92 670.35,936.92 671.01,936.93 671.68,936.94 672.35,936.95 673.01,936.96 673.67,937.02 674.34,937.2 675,937.52 675.67,938.01 676.34,938.78 677,941 677,963.1 676.34,958.79 675.67,958.57 675,957.04 674.34,955.45 673.67,954.68 673.01,953.94 672.35,953.57 671.68,952.96 671.01,952.8 670.35,952.89 669.68,953.32 669.02,953.23 668.36,953.13 667.69,953.43 667.02,953.74 666.36,952.35 665.69,952.82 665.03,952.7 664.37,953.59 663.7,951.82 663.03,952.18 662.37,952.95 661.7,952.26 661.04,951.54 660.38,952.11 659.71,952.18 659.04,952.06 658.38,952.31 657.72,952.29 657.05,952.77 656.38,952.11 655.72,952.52 655.05,952.16 654.39,953.04 653.73,952.96 653.06,952 652.39,951.76 651.73,953 651.06,951.36 650.4,951.54 649.74,951.44 649.07,953.34 648.4,952.7 647.74,953.61 647.07,952.08 646.41,951.33 645.75,951.44 645.08,952.6 644.41,952.49 643.75,953.19 643.08,951.31 642.42,952.82 641.75,951.25 641.09,952.85 640.42,951.66 639.76,951.97 639.09,951.63 638.43,953.17 637.76,953.18 637.1,951.57 636.43,952.73 635.77,951.88 635.11,951.42 634.44,952.62 633.77,953.18 633.11,952.96 632.44,952 631.78,952.01 631.12,951.76 630.45,953.24 629.78,951.27 629.12,952.39 628.45,951.42 627.79,951.41 627.12,953.23 626.46,952.31 625.79,952.21 625.13,952.77 624.46,951.87 623.8,951.55" fill="#000"/>
<polygon points="678,937.8 680.96,937.9 683.91,938 686.87,938.11 689.83,938.21 692.79,938.31 695.75,938.41 698.7,938.52 701.66,938.62 704.62,938.72 707.58,938.82 710.53,938.93 713.49,939.03 716.45,939.13 719.4,939.24 722.36,939.34 725.32,939.44 728.28,939.54 731.24,939.64 734.19,939.75 737.15,939.85 740.11,939.95 743.07,940.05 746.02,940.16 748.98,940.26 751.94,940.36 754.89,940.46 757.85,940.57 760.81,940.67 763.77,940.77 766.73,940.88 769.68,940.98 772.64,941.08 775.6,941.18 778.56,941.28 781.51,941.39 784.47,941.49 787.43,941.59 790.38,941.69 793.34,941.8 796.3,941.9 799.26,942 802.22,942.11 805.17,942.21 808.13,942.31 811.09,942.41 814.05,942.51 817,942.62 819.96,942.72 822.92,942.82 825.88,942.92 828.83,943.03 831.79,943.13 834.75,943.23 837.71,943.34 840.66,943.44 843.62,943.54 846.58,943.64 849.54,943.75 852.49,943.85 855.45,943.95 858.41,944.05 861.37,944.15 864.32,944.26 867.28,944.36 870.24,944.46 873.2,944.56 876.15,944.67 879.11,944.77 882.07,944.87 885.02,944.98 887.98,945.08 890.94,945.18 893.9,945.28 896.86,945.38 899.81,945.49 902.77,945.59 905.73,945.69 908.69,945.79 911.64,946.25 914.6,950 914.6,972.11 911.64,966.11 908.69,966.92 905.73,964.82 902.77,964.97 899.81,964.63 896.86,964.69 893.9,965.59 890.94,964.19 887.98,965.02 885.02,964.16 882.07,963.9 879.11,963.36 876.15,964.42 873.2,964.75 870.24,963.86 867.28,963.54 864.32,962.25 861.37,961.93 858.41,962.87 855.45,962.72 852.49,962.8 849.54,961.84 846.58,962.21 843.62,960.95 840.66,961.9 837.71,962.15 834.75,962.34 831.79,961.03 828.83,962.53 825.88,961.68 822.92,961.98 819.96,961.16 817,960.94 814.05,961.59 811.09,961.07 808.13,960.79 805.17,959.32 802.22,959.72 799.26,960.72 796.3,960.05 793.34,958.76 790.38,959.59 787.43,958.32 784.47,958.41 781.51,957.95 778.56,958.28 775.6,957.65 772.64,958.98 769.68,957.57 766.73,958.04 763.77,959.06 760.81,958.17 757.85,958.36 754.89,958.55 751.94,957.53 748.98,956.37 746.02,956.37 743.07,956.13 740.11,958.17 737.15,957.32 734.19,956.93 731.24,957.16 728.28,955.7 725.32,956.11 722.36,955.06 719.4,955.22 716.45,956.16 713.49,955.03 710.53,956.72 707.58,956.13 704.62,954.47 701.66,955.61 698.7,954.93 695.75,955.45 692.79,954.28 689.83,954.33 686.87,954 683.91,954.1 680.96,955.19 678,954.86" fill="#000"/>
<polygon points="916.4,946.7 917.49,946.79 918.58,946.88 919.68,946.97 920.77,947.06 921.86,947.14 922.95,947.23 924.05,947.32 925.14,947.41 926.23,947.5 927.32,947.59 928.42,947.68 929.51,947.76 930.6,947.85 931.69,947.94 932.79,948.03 933.88,948.12 934.97,948.21 936.06,948.3 937.16,948.39 938.25,948.48 939.34,948.56 940.43,948.65 941.53,948.74 942.62,948.83 943.71,948.92 944.8,949.01 945.9,949.1 946.99,949.19 948.08,949.27 949.17,949.36 950.27,949.45 951.36,949.54 952.45,949.63 953.54,949.72 954.64,949.81 955.73,949.89 956.82,949.98 957.91,950.07 959.01,950.16 960.1,950.25 961.19,950.34 962.28,950.43 963.38,950.52 964.47,950.61 965.56,950.69 966.65,950.78 967.75,950.87 968.84,950.96 969.93,951.05 971.02,951.14 972.12,951.23 973.21,951.31 974.3,951.4 975.39,951.49 976.49,951.58 977.58,951.67 978.67,951.76 979.76,951.85 980.86,951.94 981.95,952.02 983.04,952.11 984.13,952.2 985.23,952.29 986.32,952.38 987.41,952.47 988.5,952.56 989.6,952.65 990.69,952.74 991.78,952.82 992.88,952.91 993.97,953 995.06,953.09 996.15,953.18 997.25,953.27 998.34,953.36 999.43,953.44 1000.52,953.63 1001.62,954.28 1002.71,955.59 1003.8,959.8 1003.8,992.39 1002.71,979.04 1001.62,974 1000.52,970.47 999.43,968.49 998.34,966.91 997.25,966.32 996.15,967.58 995.06,967.07 993.97,966.08 992.88,965.87 991.78,966.28 990.69,966.66 989.6,966.47 988.5,966.57 987.41,965.65 986.32,966.59 985.23,965.2 984.13,965.49 983.04,966.18 981.95,966.46 980.86,966.6 979.76,966.69 978.67,967.02 977.58,966.71 976.49,965.83 975.39,966.52 974.3,965.44 973.21,965.95 972.12,965.7 971.02,965.83 969.93,965.35 968.84,965.63 967.75,965.41 966.65,964.55 965.56,964.21 964.47,964.44 963.38,965.21 962.28,965.35 961.19,965.77 960.1,965.02 959.01,964.31 957.91,965.54 956.82,965.52 955.73,964.16 954.64,963.71 953.54,965.34 952.45,963.56 951.36,964.99 950.27,965.11 949.17,963.33 948.08,964.13 946.99,965.51 945.9,965.33 944.8,963.16 943.71,963.36 942.62,963.53 941.53,963.23 940.43,964.41 939.34,963.22 938.25,964.57 937.16,963.9 936.06,964.98 934.97,963.37 933.88,963.21 932.79,963.73 931.69,962.75 930.6,963.77 929.51,964.28 928.42,963.37 927.32,963.94 926.23,963.28 925.14,963.63 924.05,962.74 922.95,963.07 921.86,962.66 920.77,963.76 919.68,962.3 918.58,963.13 917.49,963.01 916.4,961.82" fill="#000"/>
<polygon points="1007.4,954 1008.63,954.1 1009.86,954.2 1011.08,954.3 1012.31,954.4 1013.54,954.5 1014.76,954.6 1015.99,954.7 1017.22,954.8 1018.45,954.9 1019.67,955 1020.9,955.1 1022.13,955.2 1023.36,955.3 1024.59,955.4 1025.81,955.5 1027.04,955.6 1028.27,955.7 1029.49,955.8 1030.72,955.9 1031.95,956 1033.18,956.1 1034.4,956.2 1035.63,956.3 1036.86,956.4 1038.09,956.52 1039.32,956.64 1040.54,956.76 1041.77,956.9 1043,957.05 1044.22,957.2 1045.45,957.36 1046.68,957.53 1047.91,957.71 1049.13,957.89 1050.36,958.08 1051.59,958.29 1052.82,958.5 1054.04,958.72 1055.27,958.95 1056.5,959.19 1057.73,959.43 1058.95,959.69 1060.18,959.96 1061.41,960.23 1062.64,960.52 1063.87,960.81 1065.09,961.12 1066.32,961.44 1067.55,961.77 1068.77,962.11 1070,962.46 1071.23,962.82 1072.46,963.2 1073.68,963.58 1074.91,963.99 1076.14,964.4 1077.37,964.84 1078.6,965.28 1079.82,965.75 1081.05,966.23 1082.28,966.72 1083.5,967.24 1084.73,967.78 1085.96,968.34 1087.19,968.93 1088.41,969.54 1089.64,970.17 1090.87,970.84 1092.1,971.55 1093.32,972.29 1094.55,973.08 1095.78,973.92 1097.01,974.82 1098.23,975.79 1099.46,976.85 1100.69,978.03 1101.92,979.38 1103.14,980.97 1104.37,983.05 1105.6,988 1105.6,995.85 1104.37,993.27 1103.14,990.2 1101.92,987.86 1100.69,987.48 1099.46,985.98 1098.23,986.7 1097.01,983.88 1095.78,984.37 1094.55,982.82 1093.32,981.85 1092.1,981.86 1090.87,982.19 1089.64,979.72 1088.41,980.73 1087.19,979.27 1085.96,979.42 1084.73,978.05 1083.5,978.37 1082.28,977.86 1081.05,976.55 1079.82,975.99 1078.6,976.67 1077.37,975.1 1076.14,975.81 1074.91,974.84 1073.68,975.53 1072.46,975.96 1071.23,974.27 1070,974.15 1068.77,973.03 1067.55,974.55 1066.32,973.77 1065.09,972.98 1063.87,973.52 1062.64,971.96 1061.41,972.25 1060.18,972.17 1058.95,972.42 1057.73,972.26 1056.5,971.19 1055.27,972.71 1054.04,970.59 1052.82,970.48 1051.59,971.88 1050.36,970.05 1049.13,972.1 1047.91,970.4 1046.68,970.64 1045.45,969.71 1044.22,969.77 1043,969.75 1041.77,970.61 1040.54,970.68 1039.32,970.95 1038.09,970.2 1036.86,970.77 1035.63,969.03 1034.4,970 1033.18,970.84 1031.95,970.81 1030.72,970.36 1029.49,968.58 1028.27,968.48 1027.04,968.39 1025.81,969.74 1024.59,968.84 1023.36,970.14 1022.13,967.91 1020.9,969.32 1019.67,968.81 1018.45,967.78 1017.22,969.82 1015.99,968.5 1014.76,969.18 1013.54,968.15 1012.31,969.5 1011.08,967.08 1009.86,967.69 1008.63,968.98 1007.4,967.07" fill="#000"/>
<path d="M307.3 948.9V950.5M308.5 948.9V950.9M309.6 948.2V951M310.5 948.2V952.5M311.8 950.4V952.4M312.7 950.4V952.6M313.3 950.4V953M314.3 950.3V954.1M315.5 950.3V956.4M316.2 952.6V958.9M317.3 952.6V956.9M318.2 954.1V960.6M318.9 954.1V959.9M319.9 954.1V963.7M320.5 957.1V963.1M321.3 957.1V970.5M321.9 957.1V963.4M322.8 966.1V980.6M337.5 947.9V950.8M338.4 951.5V955.2M339.4 953.5V961.1M340.1 955.9V959.4M404.4 948.3V951.1M405 948.3V951M405.6 950V952M406.5 948.6V951.7M407.2 949.6V953.1M407.9 949.6V953.6M409.1 951.2V954.9M410.1 950.5V956M411.1 951.2V954.9M412.4 952.3V960.7M413.4 954.8V959.1M414.5 955.8V958.7M415.7 954.5V960.1M416.6 956.5V963.6M417.4 956.5V963.8M418.2 958.4V968.5M418.8 958.8V965M419.4 958.8V967.3M420.4 964V969.2M421.1 967.8V969.2M421.7 973.7V974.7M430 959.3V963.1M431.2 961.5V968.4M432 965.4V969.9M432.5 966.7V976.2M433.8 974.5V981.6M477 953V955.9M477.6 954.5V956.2M478.8 955.5V957.2M480.1 954.9V960.1M481.2 956.6V960.6M482.2 956.3V962.5M483.4 957.8V964.7M484.3 958.5V965.8M485.4 960V967.2M486.2 961.7V966.2M486.8 961.7V971.9M487.4 962.9V969.3M488.1 962.7V972M489.3 966.3V976.5M490.3 967V984.6M491.5 967.5V975.9M492.1 969V981.7M493 972.6V985.1M494 973.5V989.7M494.7 974.8V988.6M495.2 976.6V1004.4M496.2 980.9V1002.9M497.1 983V999.3M498.3 990V1004.6M616.5 953.9V955.5M617.7 956.3V958.4M618.2 956.3V958.3M619.4 957.4V964.2M620 957.4V963.5M621 960.6V963.6M622.1 968V983.4M673.4 953.7V955.6M674.6 954.5V956.6M675.1 956V957.5M676.1 957.8V962M910.3 965.1V968.2M911.2 965.1V968.1M912.1 965.1V969.1M913 965.1V968.4M914 971.1V976.6M999.4 967.5V970.2M1000.4 969.5V974.5M1001.6 973V981M1002.2 978V984.1M1003.5 991.4V1018.6M1067.7 973.5V975.5M1069 972V975.6M1070.1 973.1V976.2M1070.9 973.3V976.8M1072.1 975V977.5M1072.9 975V976.4M1074.2 974.5V978M1075.3 973.8V977.2M1075.9 974.8V978M1077.2 974.1V978.1M1078.1 975.7V978.4M1079.3 975V981.8M1080.3 975V979.7M1081.5 975.6V979.1M1082 976.9V983.1M1082.9 976.9V982.8M1083.8 977.4V984.2M1084.6 977V981.9M1085.8 978.4V985.6M1086.4 978.4V983.2M1087.2 978.3V983.1M1088.4 979.7V986.2M1089.5 978.7V987.1M1090.7 981.2V984.2M1091.5 981.2V986.8M1092.4 980.9V989.9M1093.4 980.8V986.3M1094.3 981.8V986.7M1095 981.8V991.6M1096 983.4V995.3M1097.1 982.9V991M1098.1 985.7V996.1M1098.8 985.7V996.1M1099.3 985V993M1100.2 986.5V1001.8M1100.9 986.5V1000.9M1101.7 986.9V1006.6M1102.7 989.2V1005.5M1103.4 989.2V999.7M1104 992.3V1006.1M1105.1 994.8V1008" stroke="#000" stroke-width="0.75"/>
<path d="M142.9 945.4v11.9M143.6 945.4v8.7M144.1 945.7v25.8M145.3 945.7v2.4M145.8 945.7v2.1M146.6 946.6v13.8M147.6 946.6v9.9M148.8 945.5v11M149.9 945.5v25.3M151.1 945.6v3.2M151.7 945.6v26.6M152.4 945.6v16.5M153 945.8v8.1M153.9 945.8v16.8M155.2 944.9v1.1M156 944.9v1.8M157 944.9v2.8M158.3 945.7v5.7M158.9 945.7v1.1M160 946v19.7M160.8 946v12.1M161.4 946v6.3M162.5 946.4v19.7M163.3 946.4v10.2M164.1 944.7v20.8M165.1 944.7v4.5M165.7 944.7v21M166.7 945.2v6.3M167.6 945.2v8.3M168.1 945.2v3.6M169.2 944.7v4.8M169.9 944.7v2.4M170.5 944.7v10.4M171.4 946.5v12.2M172.1 946.5v7.6M173.3 946.2v4.5M173.9 946.2v8.3M174.9 946.2v27.9M175.8 944.7v2M176.8 944.7v2.5M178.1 947v1.3M179.3 947v5.9M180 946.9v7.3M180.9 946.9v8.1M181.5 946.9v5M182.5 946.2v7.6M183.6 946.2v3.6M184.1 946.2v6M184.8 946.1v5.8M185.8 946.1v13.3M187 945.1v11.8M187.6 945.1v4.9M188.4 945.1v9.5M189.7 944.7v5.2M190.7 944.7v17.3M191.4 946v22.7M192.3 946v12.1M193.5 944.9v1.3M194.5 944.9v14.8M195.6 944.9v7.4M196.4 945.2v9.2M197.3 945.2v20.4M198.6 945.3v12.9M199.2 945.3v2.4M200.2 945.3v8.4M201 944.9v8.5M201.7 944.9v22.5M202.6 945.9v4.1M203.6 945.9v14.9M204.4 945.9v16M205.5 945.9v4.1M206.7 945.9v11.3M207.3 946.9v7.8M208.2 946.9v1.9M209.5 946.1v7M210.1 946.1v5.6M210.9 946.1v1.4M211.5 946.1v2.2M212.4 946.4v2.9M213.3 946.4v1.9M214.4 946.1v8.6M215.5 946.1v6.4M216.8 946.5v2.5M217.4 946.5v47.4M218.1 946.5v11.2M219.3 946v7.2M220.1 946v1.1M221.2 945.6v22.5M222.1 945.6v15M222.7 945.6v1.4M223.7 947.4v4.4M224.3 947.4v8.3M225.6 947.4v1.3M226.4 947.4v12.2M227.3 947.4v4.7M228.4 947v9.9M229.5 947v1.9M230.4 946.7v9.9M231.5 946.7v17.1M232.4 945.8v17.2M233.1 945.8v18.9M234.3 945.6v10.1M235.4 945.6v19.2M236.4 945.6v2.7M236.9 945.8v5.1M237.6 945.8v40.3M238.7 945.8v4M240 945.3v5.8M241.2 947v4.8M241.9 947v1.2M242.7 947v2.2M243.7 946.1v14.7M245 946.1v7.6M246 947.2v7.7M246.6 947.2v1.7M247.6 947.2v12.6M248.5 946.1v2.8M249.5 946.1v2.3M250.3 947.5v2.1M250.9 947.5v13.2M252 947.5v19M252.5 947.3v13.9M253.8 947.3v4M254.9 945.2v16.4M255.9 945.2v4.9M256.5 945.2v4M257.4 945.8v3.4M258.4 945.8v7M259.7 947.5v42.5M260.3 947.5v19.5M261 947.5v5.6M262 946.4v6.6M262.7 946.4v48.3M263.2 946.4v2.3M264.2 947.7v4.1M264.8 947.7v4.2M265.6 947.7v1.9M266.7 946.3v8.2M267.9 946.3v6.9M268.7 945.5v7.6M269.7 945.5v29.4M270.8 946.9v13.8M271.4 946.9v8.3M272.3 946.9v5.6M273.5 947.3v2M274 947.3v6.2M274.8 947.3v2.8M275.5 946.1v5.9M276.8 946.1v48.2M277.9 945.6v2.5M279.2 945.6v11M280 946.2v3M280.6 946.2v7.4M281.8 946.2v1.8M283 947.8v1.1M283.9 947.8v14.6M285.1 947.3v4.2M285.6 947.3v6.3M286.2 947.3v1.6M287.2 945.8v2M288.1 945.8v13.3M289.4 946.1v3.7M290.5 946.1v21.6M291.7 945.8v8.7M292.8 945.8v22.3M293.7 945.7v19.8M294.6 945.7v6.4M295.4 945.7v1.9M296.1 947.5v20.9M296.7 947.5v7M297.3 947.5v4.5M297.8 946v1.8M298.5 946v16.5M299.1 946v1.8M299.9 946v7.8M300.6 947.1v21.6M301.5 947.1v34.4M302.1 947.1v44.6M303 947.1v2.3M304 947.1v1M304.8 947v18.4M305.4 947v2.6M306.6 947v5.1M307.3 950v6.9M308.5 950v8.3M309.6 951.7v3.5M310.5 951.7v7.2M311.8 953.9v10.3M312.7 953.9v12M313.3 953.9v6M314.3 956.6v3.5M315.5 956.6v2.9M316.2 960v1M317.3 960v2.4M318.2 964.4v3M318.9 964.4v12.3M319.9 964.4v8M320.5 970.7v5.9M321.3 970.7v1.4M321.9 970.7v1.3M322.8 987v6.8M325.8 945.8v1.8M326.5 947.7v2.6M327 947.3v1.6M328 946.1v3.1M329.1 946.2v19M330.4 946.1v20.7M331.2 947.8v10.4M332.1 946v10.4M332.7 947.2v21.4M333.7 946.9v11.9M334.2 946.1v3.4M335 947.1v5.7M335.7 947.9v3M336.3 948.2v22.5M337.5 950.6v10.5M338.4 954.3v7.3M339.4 960.1v2.1M340.1 965.1v20M341.9 945.7v2.8M343 944.4v3.8M344.1 946.6v13.1M345.2 945.2v4.7M346 945.2v19.6M346.7 945.7v2M347.6 946.7v4.6M348.6 946.9v9.9M349.1 946.9v3.3M349.8 945.7v8.2M350.8 945.1v7.3M351.4 945.3v1.2M352.4 946.9v2.2M353 946.9v9.7M353.6 946.8v8.1M354.1 946.8v2.8M355.4 946.7v3.7M356.7 945.6v3.4M357.2 945.6v9.8M358 945.9v3.2M358.6 945.2v43.4M359.3 945.2v4.2M360.1 947v30.6M361.4 945.4v1.2M362.4 946.5v2.7M363.6 945.4v9.7M364.4 947.1v13.1M365.1 947.1v1.8M365.7 945.2v2M366.5 945.3v21M367.7 946.9v2.9M368.7 945.9v2.3M369.4 945.9v3M370.5 947.3v2.8M371.7 946.9v6.8M372.9 945.6v2.6M373.5 945.6v12.2M374.4 947v3M374.9 947.6v4.6M375.7 946.4v4.1M376.8 945.6v6.2M377.4 945.6v2.3M378.2 946v9M378.9 946.2v2M379.5 946.2v4.3M380.7 946v5.4M381.4 946v5.4M382.6 946v5M383.4 946.1v1.2M384.2 947.2v2.3M385 947.5v1.7M385.7 947.5v2.7M386.3 946.6v5.8M387.4 947.3v3M387.9 947.9v1.2M388.9 947.2v2.6M389.4 947.2v9.9M390.1 946.3v1.8M391.1 946.6v30.6M392.4 948.1v17M393.2 947.5v2.3M394.4 946.6v10.6M395 947.5v2.5M396.3 946.2v1.9M397.4 948.5v1M398.2 947.3v3.7M399.1 947.7v4.3M400.4 947.9v2.7M401.1 946.9v18.1M402.4 948.5v9.6M403.3 948v2.8M404.4 950.6v2.1M405 950.6v1.3M405.6 951.4v3.4M406.5 952.3v20.9M407.2 953.2v13.3M407.9 953.2v2.6M409.1 954.3v3.2M410.1 955.4v9M411.1 956.7v1.1M412.4 959.6v5.7M413.4 961.2v50.6M414.5 963.1v2.3M415.7 965.1v1.1M416.6 967.4v7.4M417.4 967.4v6.8M418.2 969.9v7.4M418.8 972.9v27M419.4 972.9v4.3M420.4 976.3v3.6M421.1 980.5v9.9M421.7 986.1v24.5M424.2 953.9v26M425.3 955.9v2.3M426.5 955.9v1.8M427.8 956.9v5M428.8 958.6v4.8M430 962.9v4.4M431.2 968.6v5.4M432 973.7v4.4M432.5 977.9v4.6M433.8 991.8v20.8M435.4 949.6v1.6M436.2 948.9v13.5M437.1 950.1v30.1M437.8 948.4v2.3M438.6 948.4v17.8M439.8 949.4v6.4M440.7 948.8v3.2M441.5 950.3v28.4M442.6 949.9v3.1M443.8 950.5v3.2M444.9 950.5v16.5M445.5 949.8v8.4M446.3 951.1v17.7M447.5 950.9v19.7M448.4 950.6v3.5M449.4 949.5v15.1M450.7 950.1v8.1M451.8 950.4v21.1M452.6 951.3v2M453.3 949.7v1.6M454.4 950v1.7M455.4 950.9v11.1M456.5 950.8v8.9M457 950.8v22.1M457.5 951.4v4.1M458.1 950.8v11.8M458.7 950.8v1.6M459.6 951.7v7M460.4 951.9v2M461.4 951.7v8.6M462.5 951.2v15.1M463.4 952.2v9M464.2 952v1.7M465.3 951.1v9.5M465.8 951.1v2.4M466.8 950.4v7.7M467.4 950.4v1.5M468.2 951.2v5.2M469.4 952.5v3.8M470.2 950.9v6.4M471 951.1v3.6M471.9 951.8v1.2M472.4 953.1v4.2M473.1 953.1v2.9M474 952.8v6.5M474.5 953.7v14.6M475.5 952v30.7M476.3 954.5v4.8M477 955.6v6.6M477.6 956.4v7.4M478.8 957.3v5.6M480.1 959.4v2.5M481.2 960.6v6.8M482.2 963.3v17.2M483.4 964.7v1M484.3 966.3v48.3M485.4 969.9v13M486.2 971.8v6.3M486.8 971.8v4.2M487.4 973.9v36.9M488.1 976.2v8.3M489.3 981.1v3.3M490.3 983.9v5.7M491.5 986.8v9.7M492.1 990.1v2.7M493 993.5v8.4M494 997.3v29.5M494.7 1001.5v16.2M495.2 1006.2v6M496.2 1011.5v48.1M497.1 1017.6v8.6M498.3 1034.8v4.4M501.4 946.2v1.3M502 948.1v2.7M502.7 948.1v13.7M503.3 948.1v4.3M504.2 947.8v2.4M505.3 947.9v50.2M506.5 946.3v22M507.4 946.3v5.6M508.4 948v21.8M509.7 946.7v1.5M510.9 946.7v1.1M512 946.7v4.5M513.1 947.6v1.3M514.4 947.8v13.5M515.2 947.8v6.9M516.2 946.7v2.6M517 948.3v9.5M517.6 948.3v3.6M518.4 948.3v5.2M519.3 947.9v9.4M520 947.9v2.6M521.1 948.8v15.6M522.2 948.9v2M523.5 948.4v2.8M524.7 947.7v1.6M525.9 947.7v7.3M526.6 949.1v6.4M527.8 948.6v3.8M528.3 948.6v9.3M529.5 947.7v48.8M530.8 949.1v6M531.4 949.1v5.5M532.5 948.9v33.5M533.1 948.9v12.2M533.7 947.8v1.2M534.4 947.8v4M535.3 947.8v15.4M535.9 947.8v1.3M537 947.3v15.1M537.8 947.3v2.4M539.1 948.7v4.7M539.9 948v12.5M540.4 948v13.4M541.1 948v6.3M541.6 948.2v7.4M542.6 948.2v1.8M543.4 948.2v2.2M544.2 948.2v4.9M544.9 947.9v16.3M545.9 947.9v2.6M546.6 948.8v46.3M547.2 948.8v17.7M547.8 948.4v10.8M548.4 948.4v28.1M549.5 948.5v4.3M550.7 948.5v2.9M551.6 948.5v4.4M552.5 949.1v3.8M553.5 949.1v28M554.1 950.1v10.8M555.2 948.4v10.3M556.1 948.4v12.7M556.9 950.2v8.4M557.7 950.2v2M558.9 950.2v48.3M560 949.7v20M560.6 949.7v11.9M561.9 949.6v3.9M563 950.1v10.7M564 950.1v5.4M565.3 949.7v12M566.4 950.1v22.8M567 950.1v7.9M568.1 950.8v21M569.3 950.5v3.7M570.1 950.5v1.7M570.8 949.3v7M571.7 949.3v2.3M572.7 948.9v12.4M574 951v11.6M575 949.7v43.8M575.7 949.7v3.7M576.9 950.8v3.6M577.6 950.8v4.5M578.3 949.5v1.2M579.3 949.5v39.5M580.1 950.1v3.6M580.7 950.1v5.6M581.6 950v12.1M582.3 950v24.7M583 950.9v7.9M583.9 950.9v6.1M584.7 951.5v17.4M585.6 950.5v1.5M586.8 950.5v7.9M587.5 950.7v3.3M588.4 950.7v6.5M589.4 950.3v4.8M590.5 950v1.2M591 950v3M591.6 950v46.3M592.5 951.8v17.5M593.3 949.9v9M594.1 949.9v9.7M595.2 951.9v14.2M596.1 951.9v2.5M596.9 951.3v6.9M597.8 950v14.3M599 950v44.1M600 952v11.7M601.3 950.2v5.4M602.3 951.3v6.9M603.6 951.3v6M604.4 950.3v11.2M605.1 950.3v21.3M606.4 952.5v4.5M607.5 950.9v4.6M608.6 952.3v16.3M609.7 952.3v4.1M610.3 950.4v12.2M611.6 952.1v4.3M612.5 952.1v4.9M613.5 951v7.6M614.1 951v3.5M615.4 951.6v13.3M616.5 956.2v5.7M617.7 959.1v2.8M618.2 959.1v1.6M619.4 963.2v1.8M620 963.2v11.2M621 969.4v20.8M622.1 986v9.4M624.2 950.9v1.1M625.2 951.8v1.8M628.5 950.4v20.4M630.5 952.2v19.4M631.3 950.8v1.5M633.6 952.2v3.5M634.6 951.6v3.4M635.4 950.4v5M636 950.9v2M637.7 952.2v2.2M638.8 950.6v7.9M639.9 951v1.9M644.5 951.5v17.8M645.1 951.6v2.4M647 951.1v14.9M647.9 952.6v4M650.6 950.5v6.2M651.8 952v1.8M654 952v8M654.7 952v1.1M655.5 951.5v1.2M656.5 951.1v7.6M657.2 951.8v1.5M658.2 951.3v1.7M659.8 951.2v1.2M660.5 951.1v1M665.1 951.7v3M669.8 952.3v13.9M670.6 951.9v1.6M671.2 951.8v2.3M672.1 952.6v3.4M674.6 957.3v2.7M675.1 959.5v2.3M678.4 953.9v5.5M679.9 954.2v2.8M681.7 954.2v2M683.3 953.1v8.7M687.6 953v1.6M691.2 953.3v1.4M695.7 954.4v2.9M696.5 954.4v2.7M698.5 953.9v2.2M699.9 953.9v1.6M701.1 954.6v2.2M702.5 954.6v3.2M704.3 953.5v1.5M705.4 953.5v1.1M706.4 955.1v1.1M708.4 955.1v1.5M709 955.1v1.4M711.9 955.7v17.7M712.8 954v3.9M714.4 954v1.2M715.7 955.2v3.3M720.4 954.2v3.5M721.5 954.1v1.6M722.4 954.1v1M723.6 954.1v1.7M726.1 955.1v1.5M727.4 954.7v2.1M729.3 954.7v3.4M730.4 956.2v4.3M730.9 956.2v2.8M732 956.2v2.8M733.3 955.9v1.1M734 955.9v19.7M735.4 955.9v2.8M737.5 956.3v49M738.8 957.2v7.5M740.7 957.2v2.4M742 955.1v7.9M743.2 955.1v3.1M744 955.1v2.4M745.1 955.4v3.7M745.8 955.4v2.4M746.4 955.4v3.6M747.6 955.4v3.3M752.1 956.5v20.7M753.7 957.5v2.9M754.4 957.5v1.6M756.9 957.4v1.3M758.5 957.4v2.7M760.4 957.2v1.5M761.2 957.2v3.3M763.2 958.1v3.5M764.7 958.1v1.9M765.9 957v2.1M767 957v11.2M770.3 956.6v2.6M773.3 958v16.1M774.4 956.6v20.4M777.3 957.3v5.1M779.8 957.3v3M780.5 956.9v3.1M781.7 956.9v1.1M783.5 957.4v5.4M787.7 957.3v2.8M791.3 958.6v1M793.1 957.8v2.5M793.7 957.8v3.2M795.2 959v2.4M795.9 959v4M796.8 959v2.7M799.2 959.7v7.9M802.8 958.7v1.3M803.5 958.7v2.4M806 958.3v1.3M808.9 959.8v3.4M810 960.1v4M812.7 960.6v2.4M815 960.6v1.7M816.7 959.9v1.6M817.6 959.9v2.8M818.3 959.9v15.5M818.8 960.2v9.3M821 960.2v1.7M822.2 961v15.7M823.5 961v12.7M824.3 961v3.3M825.3 960.7v4.1M826.9 960.7v7.3M828.9 961.5v1.9M829.6 961.5v1.4M830.5 960v1.5M832.8 960v1.3M833.8 961.3v1.5M836.1 961.3v1.1M840.4 960.9v3.3M842.4 959.9v1.3M843.7 959.9v1.6M844.2 959.9v1.3M847 961.2v3.5M847.6 961.2v3.2M850.4 960.8v1.2M853.2 961.8v1.9M853.8 961.8v20.9M854.3 961.7v2.1M862.3 960.9v2.6M864.3 961.3v1.1M867.1 962.5v1.5M869.2 962.9v1.8M869.8 962.9v2.3M870.5 962.9v4M872.5 963.7v3.5M876.9 963.4v2.9M881.4 962.9v1.7M882.2 962.9v9.8M883.2 962.9v3.9M885.6 963.2v3.3M886.2 963.2v3.6M887.4 964v2.6M888.9 964v3.7M889.5 963.2v3.3M892.6 964.6v2.2M893.4 964.6v2.2M897.4 963.7v3.7M897.9 963.7v1.1M900.5 963.6v3.6M901.8 964v1.9M902.9 964v4.5M903.6 964v3.8M906.5 963.8v1.4M907.1 963.8v1.4M910.3 968.3v8.7M911.2 968.3v2.3M914 979.6v2.8M919.6 961.3v2.3M922 961.7v1.1M924.3 961.7v3.7M925 962.6v1.6M927.6 962.9v2.4M928.6 962.4v40.7M929.8 963.3v1.9M931.7 961.8v2.7M932.3 962.7v1.5M934.2 962.2v2.3M936.1 964v6.3M936.9 962.9v2.6M937.5 962.9v1.4M940.7 963.4v4.6M941.5 962.2v4.9M942.6 962.5v3.2M943.8 962.4v1.6M944.5 962.2v3.1M945.4 964.3v2.5M947.4 964.5v2.6M948.3 963.1v5.5M948.8 962.3v2.4M949.6 962.3v1.1M950.7 964.1v1.4M951.2 964v3.7M952.4 962.6v4M953.5 964.3v4.1M955.6 963.2v3.3M956.1 963.2v1.5M957.7 964.5v1M959.5 963.3v5.6M960.4 964v3.1M961.1 964.8v1.9M962 964.3v1.2M963.1 964.2v3.6M964.9 963.4v6.6M966.9 963.6v5.7M968.9 964.6v1.8M970 964.4v1.2M971.2 964.8v1.8M971.8 964.7v3.5M972.5 964.7v1.7M973.5 964.9v2.2M977.4 965.7v1.3M978.5 966v1.2M979.7 965.7v2M981.9 965.5v1.8M983.2 965.2v1.7M984.3 964.5v1.3M985.6 964.2v16.1M990.8 965.7v19.2M991.8 965.3v2M994.3 965.1v2.3M995 966.1v10.3M995.9 966.6v1.1M996.9 965.3v1.3M997.8 965.3v2M1001.6 981v2.2M1003.5 1021v2.7M1010.1 966.7v2.5M1011.8 968.5v1.2M1012.4 968.5v22.3M1013.6 967.2v1M1014.4 968.2v1.3M1014.9 968.2v3.6M1018.1 966.8v1.8M1023.1 969.1v1.8M1023.8 969.1v17.2M1024.5 967.8v3M1029 967.6v2M1034.8 969v22.6M1036.5 969.8v1.8M1037.5 969.2v1.6M1041.1 969.7v12.3M1041.7 969.6v13.2M1043.4 968.7v1.9M1044.5 968.8v1.4M1045.3 968.7v1.7M1046.9 969.6v2.8M1048.5 969.4v1.4M1049.2 971.1v2.8M1050.4 969v2.3M1050.9 969v18.5M1051.9 970.9v4M1053.9 969.6v2.7M1055 971.7v2M1056.7 970.2v2.2M1057.8 971.3v3.4M1058.5 971.4v1.9M1059 971.4v2.2M1060.2 971.2v9.7M1060.9 971.3v3.8M1062 971.3v7.3M1062.8 971v1M1066.8 972.8v1.2M1069 975.1v1.9M1070.1 975.6v1.1M1070.9 976.1v3.7M1072.1 976.7v8.7M1072.9 976.7v3M1074.2 977.3v1.3M1075.3 977.9v3.2M1078.1 980v21.1M1086.4 985.1v1.4M1088.4 987.1v1.7M1089.5 988.3v3.8M1091.5 989.4v6.7M1095 993.5v1.4M1098.1 998.4v1.4M1099.3 1000.4v2.8M1100.2 1002.6v2.8M1100.9 1002.6v5.3M1101.7 1005.2v2.3M1103.4 1008.2v5.7M1105.1 1022v1.1" stroke="#000" stroke-width="0.75"/>
<path d="M151.4 945V1097M167.4 945V979M183 945V1001M211.8 945V1090M247 945V1009M277 945V1054M282 945V1050M310 945V1079M323.7 945V1028M374.7 945V1039M397.7 945V1060M407.4 945V1066M451 945V1024.6M498.6 945V1062.5M524.5 945V1017.7M539.6 945V1107M618.5 945V1046M744 945V1001M1002 945V1022M1055.5 945V988.8M1104.5 945V1022" stroke="#222" stroke-width="1"/>
<path d="M141.5 929.8V1306.5" stroke="#000" stroke-width="2.2"/>
<text x="132.6" y="1283" font-size="16.3" text-anchor="end">0.6</text>
<text x="132.6" y="1196.1" font-size="16.3" text-anchor="end">0.7</text>
<text x="132.6" y="1109.2" font-size="16.3" text-anchor="end">0.8</text>
<text x="132.6" y="1022.3" font-size="16.3" text-anchor="end">0.9</text>
<text x="132.6" y="935.4" font-size="16.3" text-anchor="end">1.0</text>
<path d="M134.2 1277.4H141.5M134.2 1190.5H141.5M134.2 1103.6H141.5M134.2 1016.7H141.5M134.2 929.8H141.5M134.2 1306H141.5" stroke="#000" stroke-width="2"/>
<text x="103.8" y="1116.8" font-size="16.6" text-anchor="middle" transform="rotate(-90 103.8 1116.8)">Height</text>
<text x="27" y="940" font-size="36.5">D</text>
<rect x="142" y="1302" width="963.8" height="109" fill="#79cfbd"/>
<path d="M142.65 1302V1346" stroke="#2a4a9a" stroke-width="0.7"/>
<path d="M143.45 1302V1346M144.35 1302V1346M187.45 1302V1346M266.45 1302V1346M294.25 1302V1346M373.45 1302V1346M737.25 1302V1346M769.25 1302V1346" stroke="#2f55a6" stroke-width="0.9"/>
<path d="M147.5 1302V1346M210.8 1302V1346M257.6 1302V1346M553.5 1302V1346M660.9 1302V1346M749.5 1302V1346M843.6 1302V1346" stroke="#4b95c0" stroke-width="1.8"/>
<path d="M149.1 1302V1346M200.5 1302V1346M216 1302V1346M277.3 1302V1346M327.9 1302V1346M652 1302V1346" stroke="#3b6db2" stroke-width="1.4"/>
<path d="M150.35 1302V1346M755.25 1302V1346M793.25 1302V1346M895.95 1302V1346" stroke="#68b8c6" stroke-width="1.1"/>
<path d="M151.25 1302V1346M161.75 1302V1346M227.35 1302V1346M258.85 1302V1346M260.45 1302V1346" stroke="#2f55a6" stroke-width="0.7"/>
<path d="M151.95 1302V1346M204.95 1302V1346M209.55 1302V1346M265.65 1302V1346M293.45 1302V1346M512.05 1302V1346M636.25 1302V1346M698.95 1302V1346M742.65 1302V1346" stroke="#68b8c6" stroke-width="0.7"/>
<path d="M155.3 1302V1346M184.3 1302V1346M234.2 1302V1346M238.9 1302V1346M351.1 1302V1346M630.3 1302V1346M650.4 1302V1346M719.2 1302V1346M817.8 1302V1346M893.6 1302V1346" stroke="#6dbdc8" stroke-width="1.8"/>
<path d="M158.25 1302V1346M201.65 1302V1346M220.95 1302V1346M228.15 1302V1346M357.35 1302V1346M597.45 1302V1346M729.55 1302V1346M797.65 1302V1346M898.35 1302V1346" stroke="#55a6c3" stroke-width="0.9"/>
<path d="M160.95 1302V1346M242.75 1302V1346M392.75 1302V1346M504.05 1302V1346M543.05 1302V1346M552.15 1302V1346M796.75 1302V1346M830.55 1302V1346M995.65 1302V1346" stroke="#5fb2c4" stroke-width="0.9"/>
<path d="M162.45 1302V1346M163.15 1302V1346M204.25 1302V1346M247.15 1302V1346M395.75 1302V1346M522.85 1302V1346M638.75 1302V1346M704.45 1302V1346M803.05 1302V1346M834.35 1302V1346" stroke="#5fb2c4" stroke-width="0.7"/>
<path d="M165.85 1302V1346M235.65 1302V1346M248.05 1302V1346M276.05 1302V1346M356.35 1302V1346M364.25 1302V1346" stroke="#2f55a6" stroke-width="1.1"/>
<path d="M167.1 1302V1346M226.3 1302V1346M230.4 1302V1346" stroke="#2f55a6" stroke-width="1.4"/>
<path d="M168.25 1302V1346M190.15 1302V1346M217.15 1302V1346M261.25 1302V1346M560.25 1302V1346M884.95 1302V1346M901.75 1302V1346" stroke="#4b95c0" stroke-width="0.9"/>
<path d="M169.05 1302V1346M251.15 1302V1346M663.55 1302V1346M683.45 1302V1346M691.15 1302V1346" stroke="#4b95c0" stroke-width="0.7"/>
<path d="M170.3 1302V1346M203 1302V1346M288.4 1302V1346M354.9 1302V1346M627.1 1302V1346" stroke="#3b6db2" stroke-width="1.8"/>
<path d="M171.9 1302V1346M179.1 1302V1346M196.3 1302V1346M208.5 1302V1346M245 1302V1346M269.4 1302V1346M376.2 1302V1346M502 1302V1346M569.4 1302V1346M589.8 1302V1346M648.8 1302V1346M787.7 1302V1346" stroke="#4b95c0" stroke-width="1.4"/>
<path d="M173.15 1302V1346M243.75 1302V1346M254.55 1302V1346M281.75 1302V1346M346.05 1302V1346M518.55 1302V1346" stroke="#2a4a9a" stroke-width="1.1"/>
<path d="M176.95 1302V1346M383.35 1302V1346M401.45 1302V1346M535.55 1302V1346M540.95 1302V1346M566.75 1302V1346M653.25 1302V1346M779.65 1302V1346M802.15 1302V1346M853.95 1302V1346M875.15 1302V1346" stroke="#4b95c0" stroke-width="1.1"/>
<path d="M177.95 1302V1346M343.65 1302V1346M382.35 1302V1346M503.15 1302V1346M554.85 1302V1346" stroke="#3b6db2" stroke-width="0.9"/>
<path d="M180.35 1302V1346M207.25 1302V1346M249.15 1302V1346M387.65 1302V1346M576.85 1302V1346M829.55 1302V1346M863.85 1302V1346" stroke="#6dbdc8" stroke-width="1.1"/>
<path d="M182.85 1302V1346M250.25 1302V1346M268.15 1302V1346M333.25 1302V1346M365.35 1302V1346M393.75 1302V1346M514.95 1302V1346" stroke="#3b6db2" stroke-width="1.1"/>
<path d="M186.1 1302V1346M274.6 1302V1346M599.9 1302V1346" stroke="#2a4a9a" stroke-width="1.8"/>
<path d="M188.8 1302V1346M347.5 1302V1346M368.9 1302V1346M550.8 1302V1346M637.5 1302V1346M756.7 1302V1346M870.5 1302V1346M878.2 1302V1346" stroke="#55a6c3" stroke-width="1.8"/>
<path d="M191.15 1302V1346M231.65 1302V1346M232.75 1302V1346M246.25 1302V1346M524.45 1302V1346M573.65 1302V1346M687.75 1302V1346M891.05 1302V1346" stroke="#55a6c3" stroke-width="1.1"/>
<path d="M192.4 1302V1346M334.5 1302V1346M562.3 1302V1346M693.6 1302V1346M761.3 1302V1346M794.5 1302V1346M806.3 1302V1346M845.2 1302V1346" stroke="#55a6c3" stroke-width="1.4"/>
<path d="M193.45 1302V1346M256.35 1302V1346M279.05 1302V1346M389.45 1302V1346M390.85 1302V1346M680.05 1302V1346M790.55 1302V1346M868.35 1302V1346M991.95 1302V1346" stroke="#6dbdc8" stroke-width="0.7"/>
<path d="M194.7 1302V1346M218.5 1302V1346M252.4 1302V1346M283.2 1302V1346M292.2 1302V1346M381 1302V1346M563.9 1302V1346" stroke="#2f55a6" stroke-width="1.8"/>
<path d="M199.1 1302V1346M206 1302V1346M224.9 1302V1346M366.6 1302V1346M517.3 1302V1346M536.8 1302V1346M625.5 1302V1346M727 1302V1346M819.4 1302V1346" stroke="#2a4a9a" stroke-width="1.4"/>
<path d="M212.15 1302V1346M213.05 1302V1346M272.35 1302V1346M273.25 1302V1346M388.65 1302V1346M699.75 1302V1346" stroke="#2a4a9a" stroke-width="0.9"/>
<path d="M214.05 1302V1346M286.05 1302V1346M400.35 1302V1346M513.85 1302V1346M635.35 1302V1346M707.85 1302V1346M785.05 1302V1346M795.75 1302V1346M828.45 1302V1346M881.65 1302V1346" stroke="#5fb2c4" stroke-width="1.1"/>
<path d="M221.75 1302V1346M278.35 1302V1346" stroke="#3b6db2" stroke-width="0.7"/>
<path d="M240.5 1302V1346M344.8 1302V1346M386.4 1302V1346M586.6 1302V1346M710.9 1302V1346M713 1302V1346M902.9 1302V1346M963.2 1302V1346" stroke="#68b8c6" stroke-width="1.4"/>
<path d="M262.6 1302V1346M359.6 1302V1346M510.8 1302V1346M583.4 1302V1346M837 1302V1346M866 1302V1346M975 1302V1346" stroke="#5fb2c4" stroke-width="1.8"/>
<path d="M267.25 1302V1346M279.75 1302V1346M520.15 1302V1346M555.65 1302V1346M801.25 1302V1346M862.95 1302V1346" stroke="#55a6c3" stroke-width="0.7"/>
<path d="M284.8 1302V1346M398.2 1302V1346M574.9 1302V1346" stroke="#6dbdc8" stroke-width="1.4"/>
<path d="M331.15 1302V1346M377.35 1302V1346M507.65 1302V1346M520.95 1302V1346M869.15 1302V1346" stroke="#68b8c6" stroke-width="0.9"/>
<path d="M335.65 1302V1346M375.05 1302V1346M634.35 1302V1346M758.05 1302V1346M943.15 1302V1346" stroke="#6dbdc8" stroke-width="0.9"/>
<path d="M362.8 1302V1346M640 1302V1346M644.7 1302V1346M812.2 1302V1346" stroke="#68b8c6" stroke-width="1.8"/>
<path d="M565.5 1302V1346M686.5 1302V1346M714.4 1302V1346M728.4 1302V1346M786.3 1302V1346M849.8 1302V1346" stroke="#5fb2c4" stroke-width="1.4"/>
<path d="M144.35 1302V1411M158.25 1302V1411M198.85 1302V1411M325.85 1302V1411" stroke="#5f968a" stroke-width="0.9"/>
<path d="M145.15 1302V1411M165.65 1302V1411M169.75 1302V1411M334.15 1302V1411" stroke="#244a3a" stroke-width="0.7"/>
<path d="M152.2 1302V1411M253.9 1302V1411M288.1 1302V1411" stroke="#6aa597" stroke-width="1.2"/>
<path d="M152.9 1302V1411M370.4 1302V1411M379.8 1302V1411" stroke="#55897a" stroke-width="1.2"/>
<path d="M160.95 1302V1411M193.55 1302V1411M223.95 1302V1411M356.25 1302V1411" stroke="#477767" stroke-width="0.9"/>
<path d="M163.15 1302V1411M208.15 1302V1411" stroke="#55897a" stroke-width="0.7"/>
<path d="M169.15 1302V1411M241.65 1302V1411M251.25 1302V1411" stroke="#244a3a" stroke-width="0.9"/>
<path d="M175.85 1302V1411M255.45 1302V1411M358.15 1302V1411M662.15 1302V1411" stroke="#477767" stroke-width="0.7"/>
<path d="M176.75 1302V1411M224.55 1302V1411M232.55 1302V1411M557.45 1302V1411" stroke="#6aa597" stroke-width="0.7"/>
<path d="M178.75 1302V1411M251.85 1302V1411M364.05 1302V1411M393.55 1302V1411" stroke="#2d5b47" stroke-width="0.7"/>
<path d="M187.6 1302V1411M196.2 1302V1411M222 1302V1411M226.2 1302V1411M236.8 1302V1411M248.1 1302V1411M256.6 1302V1411" stroke="#477767" stroke-width="1.2"/>
<path d="M190.3 1302V1411M246.3 1302V1411M267.5 1302V1411M374.5 1302V1411" stroke="#5f968a" stroke-width="1.2"/>
<path d="M191.2 1302V1411M217.3 1302V1411M353.7 1302V1411M387.7 1302V1411" stroke="#2d5b47" stroke-width="1.2"/>
<path d="M213.2 1302V1411M242.9 1302V1411M260.7 1302V1411M377.5 1302V1411M589.7 1302V1411" stroke="#3a6e55" stroke-width="1.2"/>
<path d="M213.95 1302V1411M233.75 1302V1411M261.25 1302V1411" stroke="#3a6e55" stroke-width="0.9"/>
<path d="M215.75 1302V1411M273.25 1302V1411M277.05 1302V1411M326.75 1302V1411M390.25 1302V1411" stroke="#6aa597" stroke-width="0.9"/>
<path d="M218.05 1302V1411M235.55 1302V1411M270.55 1302V1411M361.65 1302V1411M512.85 1302V1411M533.15 1302V1411" stroke="#2d5b47" stroke-width="0.9"/>
<path d="M278.6 1302V1411M289.9 1302V1411M580.3 1302V1411" stroke="#244a3a" stroke-width="1.2"/>
<path d="M286.95 1302V1411M362.25 1302V1411" stroke="#5f968a" stroke-width="0.7"/>
<path d="M348.85 1302V1411M354.45 1302V1411" stroke="#55897a" stroke-width="0.9"/>
<path d="M402.6 1302V1411" stroke="#b8735f" stroke-width="1.2"/>
<rect x="294.4" y="1302" width="29.3" height="109" fill="#e3f24a"/>
<rect x="335.7" y="1302" width="6.3" height="109" fill="#acdb48"/>
<rect x="404.6" y="1302" width="16.2" height="109" fill="#368a40"/>
<rect x="420.8" y="1302" width="13.8" height="109" fill="#ecb3c6"/>
<rect x="434.6" y="1302" width="66.4" height="109" fill="#9e2a2b"/>
<rect x="525" y="1302" width="3.6" height="109" fill="#e8786e"/>
<rect x="577.5" y="1302" width="1.9" height="109" fill="#111"/>
<rect x="583" y="1302" width="4.5" height="109" fill="#c8ae8a"/>
<rect x="601.7" y="1302" width="22.1" height="109" fill="#ec2424"/>
<rect x="670.2" y="1302" width="7.8" height="109" fill="#6f2383"/>
<rect x="903.9" y="1302" width="12.5" height="44" fill="#a653a7"/>
<rect x="999.5" y="1302" width="7.1" height="109" fill="#050505"/>
<rect x="1053" y="1302" width="2.5" height="44" fill="#3151a6"/>
<text x="138.5" y="1341.5" font-size="16.7" text-anchor="end">Dynamic Tree Cut</text>
<text x="133.5" y="1385" font-size="16.7" text-anchor="end">Merge Dynamic</text>
<polygon points="1174.5,51.8 1614.2,51.8 1174.5,109.01" fill="#daf0d5"/>
<polygon points="1174.5,109.01 1614.2,51.8 1614.2,109.01" fill="#9a9bd0"/>
<text x="1177" y="71.8" font-size="16.4">-0.08</text>
<text x="1610" y="106.21" font-size="16.4" text-anchor="end">0.19</text>
<rect x="1619.6" y="51.8" width="23.2" height="57.21" fill="#9e2a2b"/>
<text x="1648.5" y="91.41" font-size="16.6">brown</text>
<polygon points="1174.5,109.01 1614.2,109.01 1174.5,166.22" fill="#ecb8bc"/>
<polygon points="1174.5,166.22 1614.2,109.01 1614.2,166.22" fill="#4257a7"/>
<text x="1177" y="129.01" font-size="16.4">0.14</text>
<text x="1610" y="163.42" font-size="16.4" text-anchor="end">0.02</text>
<rect x="1619.6" y="109.01" width="23.2" height="57.21" fill="#368a40"/>
<text x="1648.5" y="148.61" font-size="16.6">green</text>
<polygon points="1174.5,166.22 1614.2,166.22 1174.5,223.43" fill="#e6878c"/>
<polygon points="1174.5,223.43 1614.2,166.22 1614.2,223.43" fill="#3450a3"/>
<text x="1177" y="186.22" font-size="16.4">0.25</text>
<text x="1610" y="220.63" font-size="16.4" text-anchor="end">7.7e-4</text>
<rect x="1619.6" y="166.22" width="23.2" height="57.21" fill="#ecb3c6"/>
<text x="1648.5" y="205.82" font-size="16.6">pink</text>
<polygon points="1174.5,223.43 1614.2,223.43 1174.5,280.64" fill="#d8efd3"/>
<polygon points="1174.5,280.64 1614.2,223.43 1614.2,280.64" fill="#989ad0"/>
<text x="1177" y="243.43" font-size="16.4">-0.09</text>
<text x="1610" y="277.84" font-size="16.4" text-anchor="end">0.18</text>
<rect x="1619.6" y="223.43" width="23.2" height="57.21" fill="#e8786e"/>
<text x="1648.5" y="263.03" font-size="16.6">salmon</text>
<polygon points="1174.5,280.64 1614.2,280.64 1174.5,337.85" fill="#b5e1a5"/>
<polygon points="1174.5,337.85 1614.2,280.64 1614.2,337.85" fill="#3551a4"/>
<text x="1177" y="300.64" font-size="16.4">-0.17</text>
<text x="1610" y="335.05" font-size="16.4" text-anchor="end">6.5e-3</text>
<rect x="1619.6" y="280.64" width="23.2" height="57.21" fill="#6f2383"/>
<text x="1648.5" y="320.25" font-size="16.6">purple</text>
<polygon points="1174.5,337.85 1614.2,337.85 1174.5,395.06" fill="#9ad577"/>
<polygon points="1174.5,395.06 1614.2,337.85 1614.2,395.06" fill="#3450a3"/>
<text x="1177" y="357.85" font-size="16.4">-0.23</text>
<text x="1610" y="392.26" font-size="16.4" text-anchor="end">2.0e-4</text>
<rect x="1619.6" y="337.85" width="23.2" height="57.21" fill="#e3f24a"/>
<text x="1648.5" y="377.46" font-size="16.6">yellow</text>
<polygon points="1174.5,395.06 1614.2,395.06 1174.5,452.27" fill="#e9a0a3"/>
<polygon points="1174.5,452.27 1614.2,395.06 1614.2,452.27" fill="#3551a4"/>
<text x="1177" y="415.06" font-size="16.4">0.18</text>
<text x="1610" y="449.47" font-size="16.4" text-anchor="end">3.9e-3</text>
<rect x="1619.6" y="395.06" width="23.2" height="57.21" fill="#acdb48"/>
<text x="1648.5" y="434.67" font-size="16.6">greenyellow</text>
<polygon points="1174.5,452.27 1614.2,452.27 1174.5,509.48" fill="#fdf7f9"/>
<polygon points="1174.5,509.48 1614.2,452.27 1614.2,509.48" fill="#fdfdff"/>
<text x="1177" y="472.27" font-size="16.4">7.1e-3</text>
<text x="1610" y="506.68" font-size="16.4" text-anchor="end">0.91</text>
<rect x="1619.6" y="452.27" width="23.2" height="57.21" fill="#ec2424"/>
<text x="1648.5" y="491.88" font-size="16.6">red</text>
<polygon points="1174.5,509.48 1614.2,509.48 1174.5,566.69" fill="#fdfefd"/>
<polygon points="1174.5,566.69 1614.2,509.48 1614.2,566.69" fill="#fefeff"/>
<text x="1177" y="529.48" font-size="16.4">-3.8e-3</text>
<text x="1610" y="563.89" font-size="16.4" text-anchor="end">0.95</text>
<rect x="1619.6" y="509.48" width="23.2" height="57.21" fill="#c8ae8a"/>
<text x="1648.5" y="549.09" font-size="16.6">tan</text>
<polygon points="1174.5,566.69 1614.2,566.69 1174.5,623.9" fill="#fefdfd"/>
<polygon points="1174.5,623.9 1614.2,566.69 1614.2,623.9" fill="#fefeff"/>
<text x="1177" y="586.69" font-size="16.4">3.7e-3</text>
<text x="1610" y="621.1" font-size="16.4" text-anchor="end">0.95</text>
<rect x="1619.6" y="566.69" width="23.2" height="57.21" fill="#050505"/>
<text x="1648.5" y="606.29" font-size="16.6">black</text>
<polygon points="1174.5,623.9 1614.2,623.9 1174.5,681.11" fill="#daf0d5"/>
<polygon points="1174.5,681.11 1614.2,623.9 1614.2,681.11" fill="#a8aad6"/>
<text x="1177" y="643.9" font-size="16.4">-0.08</text>
<text x="1610" y="678.31" font-size="16.4" text-anchor="end">0.22</text>
<rect x="1619.6" y="623.9" width="23.2" height="57.21" fill="#79cfbd"/>
<text x="1648.5" y="663.5" font-size="16.6">turquoise</text>
<rect x="1619.6" y="51.8" width="23.2" height="629.31" fill="none" stroke="#333" stroke-width="0.8"/>
<rect x="1174.5" y="50.8" width="439.7" height="631.4" fill="none" stroke="#000" stroke-width="2"/>
<rect x="1175" y="690.5" width="440" height="20.2" fill="#000"/>
<text x="1427.5" y="738" font-size="18.8" text-anchor="middle" font-weight="bold">Biochemical recurrence</text>
<text x="1125.5" y="36.4" font-size="36.5">E</text>
<rect x="1730.1" y="90.1" width="25.6" height="6.67" fill="#e75460"/>
<rect x="1730.1" y="96.47" width="25.6" height="6.67" fill="#e96571"/>
<rect x="1730.1" y="102.84" width="25.6" height="6.67" fill="#ec7881"/>
<rect x="1730.1" y="109.21" width="25.6" height="6.67" fill="#ee8a92"/>
<rect x="1730.1" y="115.58" width="25.6" height="6.67" fill="#f19ca3"/>
<rect x="1730.1" y="121.95" width="25.6" height="6.67" fill="#f3aeb3"/>
<rect x="1730.1" y="128.32" width="25.6" height="6.67" fill="#f6c0c4"/>
<rect x="1730.1" y="134.69" width="25.6" height="6.67" fill="#f8d2d5"/>
<rect x="1730.1" y="141.06" width="25.6" height="6.67" fill="#fbe4e5"/>
<rect x="1730.1" y="147.43" width="25.6" height="6.67" fill="#fdf6f6"/>
<rect x="1730.1" y="153.8" width="25.6" height="6.67" fill="#f7fcf4"/>
<rect x="1730.1" y="160.17" width="25.6" height="6.67" fill="#e7f6df"/>
<rect x="1730.1" y="166.54" width="25.6" height="6.67" fill="#d8f0ca"/>
<rect x="1730.1" y="172.91" width="25.6" height="6.67" fill="#c8ebb5"/>
<rect x="1730.1" y="179.28" width="25.6" height="6.67" fill="#b9e5a0"/>
<rect x="1730.1" y="185.65" width="25.6" height="6.67" fill="#a9df8b"/>
<rect x="1730.1" y="192.02" width="25.6" height="6.67" fill="#9ad976"/>
<rect x="1730.1" y="198.39" width="25.6" height="6.67" fill="#8ad461"/>
<rect x="1730.1" y="204.76" width="25.6" height="6.67" fill="#7bce4c"/>
<rect x="1730.1" y="211.13" width="25.6" height="6.67" fill="#6bc837"/>
<path d="M1756 90.1V217.5M1756 90.1h7.2M1756 110.8h7.2M1756 154h7.2M1756 196.4h7.2M1756 217.1h7.2" stroke="#000" stroke-width="1.6" fill="none"/>
<text x="1778" y="110.8" font-size="16.4" text-anchor="middle" transform="rotate(-90 1778 110.8)">0.2</text>
<text x="1778" y="154" font-size="16.4" text-anchor="middle" transform="rotate(-90 1778 154)">0.0</text>
<text x="1778" y="196.4" font-size="16.4" text-anchor="middle" transform="rotate(-90 1778 196.4)">−0.2</text>
<text x="1725.3" y="217" font-size="16.6" transform="rotate(-90 1725.3 217)">correlation coefficient</text>
<rect x="1731.9" y="463.5" width="25.6" height="6.66" fill="#f1f1f7"/>
<rect x="1731.9" y="469.87" width="25.6" height="6.66" fill="#e7e9f3"/>
<rect x="1731.9" y="476.23" width="25.6" height="6.66" fill="#dde1ef"/>
<rect x="1731.9" y="482.59" width="25.6" height="6.66" fill="#d3d8eb"/>
<rect x="1731.9" y="488.96" width="25.6" height="6.66" fill="#c9d0e7"/>
<rect x="1731.9" y="495.32" width="25.6" height="6.66" fill="#c0c8e2"/>
<rect x="1731.9" y="501.69" width="25.6" height="6.66" fill="#b6c0de"/>
<rect x="1731.9" y="508.06" width="25.6" height="6.66" fill="#acb7da"/>
<rect x="1731.9" y="514.42" width="25.6" height="6.66" fill="#a2afd6"/>
<rect x="1731.9" y="520.78" width="25.6" height="6.66" fill="#98a7d2"/>
<rect x="1731.9" y="527.15" width="25.6" height="6.66" fill="#8f9ecd"/>
<rect x="1731.9" y="533.51" width="25.6" height="6.66" fill="#8596c9"/>
<rect x="1731.9" y="539.88" width="25.6" height="6.66" fill="#7b8ec5"/>
<rect x="1731.9" y="546.25" width="25.6" height="6.66" fill="#7185c1"/>
<rect x="1731.9" y="552.61" width="25.6" height="6.66" fill="#677dbd"/>
<rect x="1731.9" y="558.97" width="25.6" height="6.66" fill="#5e75b8"/>
<rect x="1731.9" y="565.34" width="25.6" height="6.66" fill="#546db4"/>
<rect x="1731.9" y="571.7" width="25.6" height="6.66" fill="#4a64b0"/>
<rect x="1731.9" y="578.07" width="25.6" height="6.66" fill="#405cac"/>
<rect x="1731.9" y="584.43" width="25.6" height="6.66" fill="#3654a8"/>
<path d="M1758 463.5V590.8M1758 463.5h7.2M1758 489h7.2M1758 539.7h7.2M1758 590.8h7.2" stroke="#000" stroke-width="1.6" fill="none"/>
<text x="1780" y="489" font-size="16.4" text-anchor="middle" transform="rotate(-90 1780 489)">0.4</text>
<text x="1780" y="539.7" font-size="16.4" text-anchor="middle" transform="rotate(-90 1780 539.7)">0.2</text>
<text x="1780" y="590.8" font-size="16.4" text-anchor="middle" transform="rotate(-90 1780 590.8)">0.0</text>
<text x="1726.9" y="590.5" font-size="16.6" transform="rotate(-90 1726.9 590.5)">pValue</text>
<line x1="1247.3" y1="844.4" x2="1247.3" y2="1375.8" stroke="#dcdcdc" stroke-width="1.3"/>
<line x1="1380.9" y1="844.4" x2="1380.9" y2="1375.8" stroke="#dcdcdc" stroke-width="1.3"/>
<line x1="1514.5" y1="844.4" x2="1514.5" y2="1375.8" stroke="#dcdcdc" stroke-width="1.3"/>
<line x1="1648.1" y1="844.4" x2="1648.1" y2="1375.8" stroke="#dcdcdc" stroke-width="1.3"/>
<line x1="1190.8" y1="1312" x2="1742.8" y2="1312" stroke="#dcdcdc" stroke-width="1.3"/>
<line x1="1190.8" y1="1166.2" x2="1742.8" y2="1166.2" stroke="#dcdcdc" stroke-width="1.3"/>
<line x1="1190.8" y1="1020.4" x2="1742.8" y2="1020.4" stroke="#dcdcdc" stroke-width="1.3"/>
<line x1="1190.8" y1="874.6" x2="1742.8" y2="874.6" stroke="#dcdcdc" stroke-width="1.3"/>
<path d="M1233.84 837.04H1247.06V841.5H1233.84ZM1247.06 819.2H1260.28V841.5H1247.06ZM1260.28 828.12H1273.81V841.5H1260.28ZM1273.81 823.81H1287.04V841.5H1273.81ZM1287.04 832.73H1300.57V841.5H1287.04ZM1300.57 828.12H1313.79V841.5H1300.57ZM1313.79 823.81H1327.32V841.5H1313.79ZM1327.32 828.12H1340.54V841.5H1327.32ZM1340.54 837.04H1354.07V841.5H1340.54ZM1354.07 814.9H1367.29V841.5H1354.07ZM1367.29 832.73H1380.82V841.5H1367.29ZM1380.82 814.9H1394.05V841.5H1380.82ZM1394.05 801.37H1407.58V841.5H1394.05ZM1407.58 797.06H1420.8V841.5H1407.58ZM1420.8 810.28H1434.33V841.5H1420.8ZM1434.33 805.98H1447.55V841.5H1434.33ZM1447.55 814.9H1461.08V841.5H1447.55ZM1461.08 823.81H1474.31V841.5H1461.08ZM1474.31 819.2H1487.84V841.5H1474.31ZM1487.84 787.84H1501.06V841.5H1487.84ZM1501.06 805.98H1514.59V841.5H1501.06ZM1514.59 814.9H1527.81V841.5H1514.59ZM1527.81 805.98H1541.34V841.5H1527.81ZM1541.34 832.73H1554.56V841.5H1541.34ZM1554.56 823.81H1568.09V841.5H1554.56ZM1568.09 797.06H1581.32V841.5H1568.09ZM1581.32 828.12H1594.85V841.5H1581.32ZM1594.85 819.2H1608.07V841.5H1594.85ZM1608.07 819.2H1621.6V841.5H1608.07ZM1621.6 837.04H1634.82V841.5H1621.6ZM1634.82 819.2H1648.35V841.5H1634.82ZM1661.57 828.12H1675.1V841.5H1661.57ZM1688.33 837.04H1701.86V841.5H1688.33Z" fill="#e8c174" stroke="#e3bb6c" stroke-width="0.4"/>
<path d="M1746 903.8H1749.57V918.27H1746ZM1746 933.14H1759.09V947.42H1746ZM1746 976.77H1752.75V991.44H1746ZM1746 991.44H1755.92V1005.92H1746ZM1746 1005.92H1762.46V1020.59H1746ZM1746 1020.59H1762.46V1035.26H1746ZM1746 1035.26H1775.75V1049.94H1746ZM1746 1049.94H1782.29V1064.41H1746ZM1746 1064.41H1762.46V1078.89H1746ZM1746 1078.89H1762.46V1093.56H1746ZM1746 1093.56H1762.46V1108.04H1746ZM1746 1108.04H1778.92V1122.71H1746ZM1746 1122.71H1785.66V1137.19H1746ZM1746 1137.19H1775.75V1151.66H1746ZM1746 1151.66H1775.75V1166.34H1746ZM1746 1166.34H1772.58V1181.01H1746ZM1746 1181.01H1782.29V1195.49H1746ZM1746 1195.49H1769.2V1210.16H1746ZM1746 1210.16H1752.75V1224.83H1746ZM1746 1224.83H1775.75V1239.31H1746ZM1746 1239.31H1759.09V1253.98H1746ZM1746 1253.98H1765.83V1268.66H1746ZM1746 1268.66H1765.83V1283.13H1746ZM1746 1283.13H1769.2V1297.81H1746ZM1746 1297.81H1769.2V1312.38H1746Z" fill="#e86a74" stroke="#e0636d" stroke-width="0.4"/>
<g fill="#5574bb" fill-opacity="0.82"><ellipse cx="1433.69" cy="937.52" rx="2.9" ry="3.9"/><ellipse cx="1421.39" cy="944.66" rx="2.9" ry="3.9"/><ellipse cx="1389.66" cy="1010.5" rx="2.9" ry="3.9"/><ellipse cx="1447.57" cy="1020.42" rx="2.9" ry="3.9"/><ellipse cx="1417.82" cy="1025.38" rx="2.9" ry="3.9"/><ellipse cx="1398.58" cy="1039.06" rx="2.9" ry="3.9"/><ellipse cx="1414.05" cy="1048.98" rx="2.9" ry="3.9"/><ellipse cx="1435.67" cy="1049.97" rx="2.9" ry="3.9"/><ellipse cx="1436.27" cy="1054.53" rx="2.9" ry="3.9"/><ellipse cx="1421.39" cy="1058.9" rx="2.9" ry="3.9"/><ellipse cx="1440.23" cy="1061.67" rx="2.9" ry="3.9"/><ellipse cx="1414.05" cy="1064.05" rx="2.9" ry="3.9"/><ellipse cx="1344.44" cy="1062.07" rx="2.9" ry="3.9"/><ellipse cx="1365.66" cy="1074.76" rx="2.9" ry="3.9"/><ellipse cx="1414.05" cy="1071.59" rx="2.9" ry="3.9"/><ellipse cx="1410.09" cy="1086.47" rx="2.9" ry="3.9"/><ellipse cx="1363.48" cy="1097.37" rx="2.9" ry="3.9"/><ellipse cx="1398.78" cy="1097.37" rx="2.9" ry="3.9"/><ellipse cx="1406.72" cy="1104.32" rx="2.9" ry="3.9"/><ellipse cx="1433.69" cy="1111.65" rx="2.9" ry="3.9"/><ellipse cx="1414.05" cy="1116.41" rx="2.9" ry="3.9"/><ellipse cx="1413.06" cy="1120.98" rx="2.9" ry="3.9"/><ellipse cx="1403.94" cy="1122.96" rx="2.9" ry="3.9"/><ellipse cx="1425.36" cy="1123.16" rx="2.9" ry="3.9"/><ellipse cx="1442.22" cy="1127.72" rx="2.9" ry="3.9"/><ellipse cx="1462.45" cy="1125.34" rx="2.9" ry="3.9"/><ellipse cx="1291.68" cy="1136.05" rx="2.9" ry="3.9"/><ellipse cx="1331.94" cy="1131.29" rx="2.9" ry="3.9"/><ellipse cx="1406.32" cy="1140.02" rx="2.9" ry="3.9"/><ellipse cx="1269.67" cy="1152.51" rx="2.9" ry="3.9"/><ellipse cx="1282.56" cy="1154.69" rx="2.9" ry="3.9"/><ellipse cx="1285.73" cy="1156.87" rx="2.9" ry="3.9"/><ellipse cx="1278.59" cy="1160.05" rx="2.9" ry="3.9"/><ellipse cx="1353.96" cy="1151.32" rx="2.9" ry="3.9"/><ellipse cx="1357.93" cy="1161.24" rx="2.9" ry="3.9"/><ellipse cx="1368.04" cy="1160.05" rx="2.9" ry="3.9"/><ellipse cx="1390.45" cy="1149.34" rx="2.9" ry="3.9"/><ellipse cx="1408.1" cy="1160.05" rx="2.9" ry="3.9"/><ellipse cx="1404.53" cy="1165.2" rx="2.9" ry="3.9"/><ellipse cx="1401.76" cy="1166.79" rx="2.9" ry="3.9"/><ellipse cx="1420.4" cy="1167.58" rx="2.9" ry="3.9"/><ellipse cx="1324.61" cy="1169.17" rx="2.9" ry="3.9"/><ellipse cx="1250.63" cy="1176.31" rx="2.9" ry="3.9"/><ellipse cx="1338.09" cy="1182.26" rx="2.9" ry="3.9"/><ellipse cx="1398.58" cy="1178.89" rx="2.9" ry="3.9"/><ellipse cx="1416.63" cy="1188.61" rx="2.9" ry="3.9"/><ellipse cx="1435.87" cy="1186.62" rx="2.9" ry="3.9"/><ellipse cx="1458.08" cy="1189.6" rx="2.9" ry="3.9"/><ellipse cx="1461.06" cy="1193.57" rx="2.9" ry="3.9"/><ellipse cx="1469.98" cy="1186.62" rx="2.9" ry="3.9"/><ellipse cx="1252.41" cy="1196.34" rx="2.9" ry="3.9"/><ellipse cx="1357.73" cy="1201.3" rx="2.9" ry="3.9"/><ellipse cx="1390.65" cy="1193.37" rx="2.9" ry="3.9"/><ellipse cx="1386.68" cy="1209.63" rx="2.9" ry="3.9"/><ellipse cx="1360.7" cy="1220.94" rx="2.9" ry="3.9"/><ellipse cx="1317.86" cy="1232.24" rx="2.9" ry="3.9"/><ellipse cx="1336.51" cy="1237.4" rx="2.9" ry="3.9"/><ellipse cx="1314.69" cy="1245.53" rx="2.9" ry="3.9"/><ellipse cx="1425.36" cy="1234.42" rx="2.9" ry="3.9"/><ellipse cx="1447.57" cy="1233.23" rx="2.9" ry="3.9"/><ellipse cx="1457.09" cy="1232.64" rx="2.9" ry="3.9"/><ellipse cx="1460.46" cy="1231.65" rx="2.9" ry="3.9"/><ellipse cx="1456.1" cy="1242.55" rx="2.9" ry="3.9"/><ellipse cx="1244.08" cy="1264.37" rx="2.9" ry="3.9"/><ellipse cx="1306.36" cy="1264.17" rx="2.9" ry="3.9"/><ellipse cx="1371.21" cy="1263.58" rx="2.9" ry="3.9"/><ellipse cx="1464.23" cy="1262.78" rx="2.9" ry="3.9"/><ellipse cx="1324.61" cy="1272.11" rx="2.9" ry="3.9"/><ellipse cx="1395.21" cy="1276.47" rx="2.9" ry="3.9"/><ellipse cx="1452.93" cy="1279.64" rx="2.9" ry="3.9"/><ellipse cx="1253.21" cy="1280.63" rx="2.9" ry="3.9"/><ellipse cx="1309.93" cy="1279.25" rx="2.9" ry="3.9"/><ellipse cx="1257.77" cy="1287.38" rx="2.9" ry="3.9"/><ellipse cx="1272.44" cy="1289.96" rx="2.9" ry="3.9"/><ellipse cx="1288.51" cy="1285.59" rx="2.9" ry="3.9"/><ellipse cx="1305.17" cy="1291.54" rx="2.9" ry="3.9"/><ellipse cx="1258.96" cy="1296.1" rx="2.9" ry="3.9"/><ellipse cx="1269.47" cy="1301.86" rx="2.9" ry="3.9"/><ellipse cx="1275.02" cy="1305.03" rx="2.9" ry="3.9"/><ellipse cx="1390.45" cy="1303.44" rx="2.9" ry="3.9"/><ellipse cx="1393.82" cy="1304.24" rx="2.9" ry="3.9"/><ellipse cx="1429.92" cy="1304.24" rx="2.9" ry="3.9"/><ellipse cx="1437.85" cy="1300.47" rx="2.9" ry="3.9"/><ellipse cx="1448.17" cy="1299.28" rx="2.9" ry="3.9"/><ellipse cx="1620.06" cy="914.91" rx="2.9" ry="3.9"/><ellipse cx="1589.91" cy="936.72" rx="2.9" ry="3.9"/><ellipse cx="1689.08" cy="939.9" rx="2.9" ry="3.9"/><ellipse cx="1536.16" cy="991.07" rx="2.9" ry="3.9"/><ellipse cx="1555.8" cy="987.3" rx="2.9" ry="3.9"/><ellipse cx="1580.79" cy="993.25" rx="2.9" ry="3.9"/><ellipse cx="1578.8" cy="1009.31" rx="2.9" ry="3.9"/><ellipse cx="1644.05" cy="1005.35" rx="2.9" ry="3.9"/><ellipse cx="1662.9" cy="1004.95" rx="2.9" ry="3.9"/><ellipse cx="1484" cy="1021.61" rx="2.9" ry="3.9"/><ellipse cx="1532.99" cy="1014.67" rx="2.9" ry="3.9"/><ellipse cx="1533.78" cy="1022.01" rx="2.9" ry="3.9"/><ellipse cx="1614.9" cy="1020.42" rx="2.9" ry="3.9"/><ellipse cx="1594.67" cy="1031.13" rx="2.9" ry="3.9"/><ellipse cx="1582.57" cy="1036.09" rx="2.9" ry="3.9"/><ellipse cx="1664.28" cy="1031.53" rx="2.9" ry="3.9"/><ellipse cx="1598.44" cy="1042.44" rx="2.9" ry="3.9"/><ellipse cx="1647.23" cy="1042.24" rx="2.9" ry="3.9"/><ellipse cx="1504.63" cy="1047.59" rx="2.9" ry="3.9"/><ellipse cx="1503.63" cy="1050.57" rx="2.9" ry="3.9"/><ellipse cx="1494.11" cy="1051.16" rx="2.9" ry="3.9"/><ellipse cx="1485.78" cy="1058.1" rx="2.9" ry="3.9"/><ellipse cx="1524.46" cy="1056.52" rx="2.9" ry="3.9"/><ellipse cx="1562.14" cy="1048.19" rx="2.9" ry="3.9"/><ellipse cx="1564.13" cy="1048.19" rx="2.9" ry="3.9"/><ellipse cx="1674.2" cy="1048.39" rx="2.9" ry="3.9"/><ellipse cx="1614.5" cy="1059.29" rx="2.9" ry="3.9"/><ellipse cx="1504.82" cy="1070" rx="2.9" ry="3.9"/><ellipse cx="1541.91" cy="1069.41" rx="2.9" ry="3.9"/><ellipse cx="1647.03" cy="1070.8" rx="2.9" ry="3.9"/><ellipse cx="1575.43" cy="1082.1" rx="2.9" ry="3.9"/><ellipse cx="1565.71" cy="1090.83" rx="2.9" ry="3.9"/><ellipse cx="1572.06" cy="1091.03" rx="2.9" ry="3.9"/><ellipse cx="1623.03" cy="1086.27" rx="2.9" ry="3.9"/><ellipse cx="1534.57" cy="1098.76" rx="2.9" ry="3.9"/><ellipse cx="1534.57" cy="1110.07" rx="2.9" ry="3.9"/><ellipse cx="1643.06" cy="1104.71" rx="2.9" ry="3.9"/><ellipse cx="1490.74" cy="1115.62" rx="2.9" ry="3.9"/><ellipse cx="1496.1" cy="1117.8" rx="2.9" ry="3.9"/><ellipse cx="1502.05" cy="1115.03" rx="2.9" ry="3.9"/><ellipse cx="1579.99" cy="1112.05" rx="2.9" ry="3.9"/><ellipse cx="1602.8" cy="1112.65" rx="2.9" ry="3.9"/><ellipse cx="1488.96" cy="1122.76" rx="2.9" ry="3.9"/><ellipse cx="1491.54" cy="1127.72" rx="2.9" ry="3.9"/><ellipse cx="1493.72" cy="1133.47" rx="2.9" ry="3.9"/><ellipse cx="1606.37" cy="1122.36" rx="2.9" ry="3.9"/><ellipse cx="1488.96" cy="1136.05" rx="2.9" ry="3.9"/><ellipse cx="1478.64" cy="1138.43" rx="2.9" ry="3.9"/><ellipse cx="1478.84" cy="1147.95" rx="2.9" ry="3.9"/><ellipse cx="1488.96" cy="1143.98" rx="2.9" ry="3.9"/><ellipse cx="1570.47" cy="1133.87" rx="2.9" ry="3.9"/><ellipse cx="1610.73" cy="1136.84" rx="2.9" ry="3.9"/><ellipse cx="1616.29" cy="1138.83" rx="2.9" ry="3.9"/><ellipse cx="1549.65" cy="1146.36" rx="2.9" ry="3.9"/><ellipse cx="1569.88" cy="1150.33" rx="2.9" ry="3.9"/><ellipse cx="1573.05" cy="1159.85" rx="2.9" ry="3.9"/><ellipse cx="1536.36" cy="1169.96" rx="2.9" ry="3.9"/><ellipse cx="1529.22" cy="1173.14" rx="2.9" ry="3.9"/><ellipse cx="1599.83" cy="1171.95" rx="2.9" ry="3.9"/><ellipse cx="1470.71" cy="1186.43" rx="2.9" ry="3.9"/><ellipse cx="1491.93" cy="1190" rx="2.9" ry="3.9"/><ellipse cx="1499.87" cy="1186.62" rx="2.9" ry="3.9"/><ellipse cx="1521.09" cy="1190" rx="2.9" ry="3.9"/><ellipse cx="1645.64" cy="1186.03" rx="2.9" ry="3.9"/><ellipse cx="1572.65" cy="1199.71" rx="2.9" ry="3.9"/><ellipse cx="1574.64" cy="1205.66" rx="2.9" ry="3.9"/><ellipse cx="1601.41" cy="1204.47" rx="2.9" ry="3.9"/><ellipse cx="1483.6" cy="1208.44" rx="2.9" ry="3.9"/><ellipse cx="1509.39" cy="1211.81" rx="2.9" ry="3.9"/><ellipse cx="1496.69" cy="1225.5" rx="2.9" ry="3.9"/><ellipse cx="1513.95" cy="1231.05" rx="2.9" ry="3.9"/><ellipse cx="1534.97" cy="1234.42" rx="2.9" ry="3.9"/><ellipse cx="1522.28" cy="1250.69" rx="2.9" ry="3.9"/><ellipse cx="1526.05" cy="1250.69" rx="2.9" ry="3.9"/><ellipse cx="1502.84" cy="1264.37" rx="2.9" ry="3.9"/><ellipse cx="1521.68" cy="1264.17" rx="2.9" ry="3.9"/><ellipse cx="1512.36" cy="1277.06" rx="2.9" ry="3.9"/><ellipse cx="1489.55" cy="1285.59" rx="2.9" ry="3.9"/><ellipse cx="1518.71" cy="1290.35" rx="2.9" ry="3.9"/></g>
<path d="M1184.8 844.4H1742.8V1382.8M1184.8 1375.8H1742.8M1190.8 844.4V1382.8" fill="none" stroke="#000" stroke-width="2.2"/>
<text x="1251.3" y="1398.5" font-size="16.3" text-anchor="middle">0.2</text>
<text x="1384.9" y="1398.5" font-size="16.3" text-anchor="middle">0.4</text>
<text x="1518.5" y="1398.5" font-size="16.3" text-anchor="middle">0.6</text>
<text x="1652.1" y="1398.5" font-size="16.3" text-anchor="middle">0.8</text>
<text x="1189.5" y="1318" font-size="16.3" text-anchor="end">0.0</text>
<text x="1189.5" y="1172.2" font-size="16.3" text-anchor="end">0.1</text>
<text x="1189.5" y="1026.4" font-size="16.3" text-anchor="end">0.2</text>
<text x="1189.5" y="880.6" font-size="16.3" text-anchor="end">0.3</text>
<path d="M1247.3 1375.8v6.5M1380.9 1375.8v6.5M1514.5 1375.8v6.5M1648.1 1375.8v6.5M1185.5 1312H1190.8M1185.5 1166.2H1190.8M1185.5 1020.4H1190.8M1185.5 874.6H1190.8" stroke="#000" stroke-width="1.6"/>
<text x="1508.6" y="1418" font-size="16.4" text-anchor="middle">Module Membership in pink module</text>
<text x="1161.8" y="1088.5" font-size="16.5" text-anchor="middle" transform="rotate(-90 1161.8 1088.5)">Gene significance for bcr event (1=yes 0=no)</text>
<ellipse cx="1201.2" cy="859.3" rx="5.8" ry="8" fill="#3350aa"/>
<text x="1207.5" y="867.1" font-size="16.6">: p=1.8e-10 r=0.47</text>
<text x="1133" y="815" font-size="36.5">F</text>
<rect x="62.4" y="1442" width="37.46" height="15.9" fill="#6ac1c9"/>
<rect x="99.86" y="1442" width="355.14" height="15.9" fill="#da4e3e"/>
<text x="460.6" y="1455" font-size="16.6">group</text>
<path d="M69.9 1481.1h1.5M81.9 1481.1h1.5M120.8 1481.1h1.5M125.3 1481.1h1.5M194.3 1481.1h1.5M218.2 1481.1h1.5M419 1481.1h1.5M69.9 1514.3h1.5M77.4 1514.3h1.5M80.4 1514.3h1.5M83.4 1514.3h3M141.8 1514.3h1.5M204.8 1514.3h4.5M221.2 1514.3h1.5M234.7 1514.3h1.5M287.2 1514.3h1.5M62.4 1547.5h3M66.9 1547.5h1.5M69.9 1547.5h1.5M75.9 1547.5h1.5M80.4 1547.5h1.5M89.4 1547.5h1.5M96.9 1547.5h1.5M105.9 1547.5h1.5M110.4 1547.5h1.5M120.8 1547.5h1.5M137.3 1547.5h1.5M176.3 1547.5h1.5M192.8 1547.5h3M198.8 1547.5h1.5M203.3 1547.5h1.5M231.7 1547.5h1.5M329.1 1547.5h1.5M66.9 1580.7h1.5M69.9 1580.7h1.5M75.9 1580.7h1.5M87.9 1580.7h1.5M93.9 1580.7h1.5M120.8 1580.7h1.5M161.3 1580.7h1.5M167.3 1580.7h1.5M276.7 1580.7h1.5M285.7 1580.7h1.5M66.9 1613.9h1.5M75.9 1613.9h1.5M83.4 1613.9h1.5M153.8 1613.9h1.5M62.4 1647.1h1.5M66.9 1647.1h1.5M93.9 1647.1h3M99.9 1647.1h1.5M113.3 1647.1h1.5M120.8 1647.1h1.5M137.3 1647.1h1.5M147.8 1647.1h1.5M153.8 1647.1h1.5M156.8 1647.1h1.5M183.8 1647.1h1.5M186.8 1647.1h1.5M228.7 1647.1h1.5M62.4 1680.3h1.5M68.4 1680.3h3M78.9 1680.3h3M84.9 1680.3h1.5M93.9 1680.3h1.5M113.3 1680.3h1.5M119.3 1680.3h3M153.8 1680.3h1.5M183.8 1680.3h1.5M207.8 1680.3h1.5M287.2 1680.3h1.5M69.9 1713.5h1.5M72.9 1713.5h1.5M75.9 1713.5h4.5M83.4 1713.5h1.5M92.4 1713.5h1.5M120.8 1713.5h1.5M137.3 1713.5h1.5M207.8 1713.5h1.5M276.7 1713.5h1.5M299.2 1713.5h1.5M339.6 1713.5h1.5M347.1 1713.5h1.5M69.9 1746.7h1.5M75.9 1746.7h3M84.9 1746.7h1.5M93.9 1746.7h1.5M96.9 1746.7h3M108.9 1746.7h1.5M120.8 1746.7h1.5M141.8 1746.7h1.5M153.8 1746.7h1.5M171.8 1746.7h1.5M191.3 1746.7h1.5M207.8 1746.7h1.5M284.2 1746.7h1.5M336.6 1746.7h1.5M408.5 1746.7h1.5M66.9 1779.9h1.5M69.9 1779.9h3M86.4 1779.9h1.5M113.3 1779.9h1.5M153.8 1779.9h1.5M198.8 1779.9h1.5M329.1 1779.9h1.5M66.9 1813.1h1.5M69.9 1813.1h1.5M75.9 1813.1h1.5M78.9 1813.1h3M86.4 1813.1h1.5M98.4 1813.1h1.5M182.3 1813.1h1.5M207.8 1813.1h1.5M294.7 1813.1h1.5M68.4 1846.3h3M120.8 1846.3h1.5M207.8 1846.3h1.5M296.2 1846.3h1.5M359.1 1846.3h1.5M66.9 1879.5h1.5M83.4 1879.5h1.5M89.4 1879.5h1.5M96.9 1879.5h3M120.8 1879.5h1.5M131.3 1879.5h1.5M153.8 1879.5h1.5M200.3 1879.5h1.5M219.7 1879.5h1.5M311.1 1879.5h1.5M339.6 1879.5h1.5M351.6 1879.5h1.5M63.9 1912.7h1.5M69.9 1912.7h1.5M75.9 1912.7h1.5M78.9 1912.7h4.5M98.4 1912.7h1.5M113.3 1912.7h1.5M119.3 1912.7h3M135.8 1912.7h1.5M197.3 1912.7h1.5M299.2 1912.7h1.5M308.1 1912.7h1.5M330.6 1912.7h1.5M384.6 1912.7h1.5M62.4 1945.9h3M69.9 1945.9h1.5M78.9 1945.9h4.5M87.9 1945.9h1.5M96.9 1945.9h1.5M113.3 1945.9h1.5M120.8 1945.9h1.5M125.3 1945.9h1.5M143.3 1945.9h1.5M173.3 1945.9h1.5M177.8 1945.9h1.5M273.7 1945.9h1.5M66.9 1979.1h1.5M69.9 1979.1h1.5M78.9 1979.1h1.5M86.4 1979.1h1.5M89.4 1979.1h1.5M93.9 1979.1h1.5M113.3 1979.1h1.5M150.8 1979.1h1.5M161.3 1979.1h1.5M218.2 1979.1h1.5M245.2 1979.1h1.5M273.7 1979.1h1.5" stroke="#2c4e98" stroke-width="33.300000000000004"/>
<path d="M98.4 1481.1h1.5M140.3 1481.1h1.5M137.3 1514.3h3M263.2 1514.3h1.5M294.7 1514.3h1.5M351.6 1514.3h1.5M114.8 1547.5h1.5M173.3 1547.5h1.5M207.8 1547.5h1.5M263.2 1547.5h1.5M278.2 1547.5h1.5M320.1 1547.5h1.5M65.4 1580.7h1.5M72.9 1580.7h1.5M99.9 1580.7h1.5M215.2 1580.7h1.5M72.9 1613.9h1.5M80.4 1613.9h1.5M120.8 1613.9h1.5M161.3 1613.9h1.5M183.8 1613.9h1.5M207.8 1613.9h1.5M84.9 1647.1h1.5M104.4 1647.1h1.5M135.8 1647.1h1.5M176.3 1647.1h1.5M192.8 1647.1h1.5M411.5 1647.1h1.5M72.9 1680.3h1.5M105.9 1680.3h1.5M215.2 1680.3h1.5M81.9 1713.5h1.5M86.4 1713.5h1.5M123.8 1713.5h1.5M191.3 1713.5h1.5M66.9 1746.7h1.5M89.4 1746.7h1.5M114.8 1746.7h1.5M270.7 1746.7h1.5M278.2 1746.7h1.5M329.1 1746.7h1.5M62.4 1779.9h1.5M123.8 1779.9h1.5M218.2 1779.9h1.5M255.7 1779.9h1.5M263.2 1779.9h1.5M311.1 1779.9h1.5M102.9 1813.1h1.5M183.8 1813.1h1.5M285.7 1813.1h1.5M62.4 1846.3h1.5M87.9 1846.3h3M126.8 1846.3h1.5M176.3 1846.3h1.5M233.2 1846.3h1.5M341.1 1846.3h1.5M62.4 1879.5h1.5M236.2 1879.5h1.5M89.4 1912.7h1.5M183.8 1912.7h1.5M221.2 1912.7h1.5M237.7 1912.7h1.5M269.2 1912.7h1.5M311.1 1912.7h1.5M83.4 1945.9h1.5M153.8 1945.9h1.5M350.1 1945.9h3M77.4 1979.1h1.5M95.4 1979.1h1.5M144.8 1979.1h1.5M153.8 1979.1h1.5M219.7 1979.1h1.5M284.2 1979.1h1.5M300.7 1979.1h1.5" stroke="#3d5ca1" stroke-width="33.300000000000004"/>
<path d="M66.9 1481.1h1.5M183.8 1514.3h1.5M284.2 1514.3h1.5M296.2 1514.3h1.5M311.1 1514.3h1.5M324.6 1514.3h1.5M420.5 1514.3h1.5M86.4 1547.5h1.5M234.7 1547.5h1.5M287.2 1547.5h1.5M309.6 1547.5h1.5M84.9 1580.7h3M183.8 1580.7h1.5M254.2 1580.7h1.5M351.6 1580.7h1.5M63.9 1613.9h1.5M69.9 1613.9h1.5M78.9 1613.9h1.5M89.4 1613.9h1.5M113.3 1613.9h1.5M171.8 1613.9h1.5M194.3 1613.9h1.5M281.2 1613.9h1.5M345.6 1613.9h1.5M63.9 1647.1h1.5M89.4 1647.1h1.5M92.4 1647.1h1.5M110.4 1647.1h1.5M131.3 1647.1h1.5M191.3 1647.1h1.5M267.7 1647.1h1.5M81.9 1680.3h1.5M137.3 1680.3h1.5M158.3 1680.3h1.5M218.2 1680.3h1.5M263.2 1680.3h1.5M62.4 1713.5h1.5M89.4 1713.5h1.5M176.3 1713.5h1.5M192.8 1713.5h1.5M197.3 1713.5h1.5M308.1 1713.5h1.5M131.3 1746.7h1.5M134.3 1746.7h1.5M183.8 1746.7h1.5M255.7 1746.7h1.5M299.2 1746.7h1.5M308.1 1746.7h1.5M147.8 1779.9h1.5M327.6 1779.9h1.5M68.4 1813.1h1.5M110.4 1813.1h1.5M215.2 1813.1h1.5M320.1 1813.1h1.5M96.9 1846.3h1.5M155.3 1846.3h1.5M159.8 1846.3h1.5M191.3 1846.3h1.5M219.7 1846.3h3M258.7 1846.3h1.5M69.9 1879.5h1.5M99.9 1879.5h1.5M215.2 1879.5h1.5M290.2 1879.5h1.5M62.4 1912.7h1.5M66.9 1912.7h1.5M83.4 1912.7h1.5M87.9 1912.7h1.5M150.8 1912.7h1.5M383.1 1912.7h1.5M191.3 1945.9h1.5M206.3 1945.9h1.5M285.7 1945.9h1.5M62.4 1979.1h1.5M200.3 1979.1h1.5M281.2 1979.1h1.5M285.7 1979.1h1.5" stroke="#4e6aaa" stroke-width="33.300000000000004"/>
<path d="M63.9 1481.1h1.5M110.4 1481.1h1.5M66.9 1514.3h1.5M72.9 1514.3h1.5M99.9 1514.3h1.5M120.8 1514.3h1.5M192.8 1514.3h1.5M384.6 1514.3h1.5M93.9 1547.5h1.5M98.4 1547.5h1.5M147.8 1547.5h1.5M183.8 1547.5h1.5M188.3 1547.5h1.5M276.7 1547.5h1.5M303.7 1547.5h1.5M312.6 1547.5h1.5M80.4 1580.7h1.5M104.4 1580.7h1.5M110.4 1580.7h1.5M153.8 1580.7h1.5M158.3 1580.7h1.5M177.8 1580.7h1.5M191.3 1580.7h1.5M198.8 1580.7h1.5M204.8 1580.7h1.5M237.7 1580.7h1.5M312.6 1580.7h1.5M354.6 1580.7h1.5M408.5 1580.7h1.5M87.9 1613.9h1.5M98.4 1613.9h1.5M188.3 1613.9h1.5M245.2 1613.9h1.5M252.7 1613.9h3M276.7 1613.9h3M69.9 1647.1h1.5M114.8 1647.1h1.5M272.2 1647.1h1.5M75.9 1680.3h1.5M141.8 1680.3h1.5M146.3 1680.3h1.5M162.8 1680.3h1.5M167.3 1680.3h1.5M237.7 1680.3h1.5M294.7 1680.3h1.5M354.6 1680.3h1.5M359.1 1680.3h1.5M65.4 1713.5h1.5M171.8 1713.5h1.5M218.2 1713.5h1.5M237.7 1713.5h1.5M267.7 1713.5h1.5M282.7 1713.5h1.5M372.6 1713.5h1.5M128.3 1746.7h1.5M213.7 1746.7h1.5M221.2 1746.7h1.5M269.2 1746.7h1.5M318.6 1746.7h1.5M359.1 1746.7h1.5M146.3 1779.9h1.5M407 1779.9h1.5M72.9 1813.1h1.5M119.3 1813.1h1.5M152.3 1813.1h1.5M206.3 1813.1h1.5M93.9 1846.3h1.5M104.4 1846.3h1.5M107.4 1846.3h1.5M125.3 1846.3h1.5M152.3 1846.3h1.5M237.7 1846.3h1.5M294.7 1846.3h1.5M65.4 1879.5h1.5M77.4 1879.5h1.5M107.4 1879.5h1.5M176.3 1879.5h3M183.8 1879.5h1.5M207.8 1879.5h1.5M86.4 1912.7h1.5M137.3 1912.7h1.5M158.3 1912.7h1.5M210.7 1912.7h1.5M218.2 1912.7h1.5M296.2 1912.7h1.5M411.5 1912.7h1.5M68.4 1945.9h1.5M77.4 1945.9h1.5M102.9 1945.9h1.5M128.3 1945.9h1.5M137.3 1945.9h1.5M141.8 1945.9h1.5M174.8 1945.9h3M207.8 1945.9h1.5M237.7 1945.9h1.5M263.2 1945.9h1.5M314.1 1945.9h1.5M423.5 1945.9h1.5M68.4 1979.1h1.5M75.9 1979.1h1.5M98.4 1979.1h1.5M135.8 1979.1h1.5M138.8 1979.1h1.5M192.8 1979.1h1.5M215.2 1979.1h3M236.2 1979.1h1.5M263.2 1979.1h1.5M308.1 1979.1h1.5M359.1 1979.1h1.5" stroke="#5f79b4" stroke-width="33.300000000000004"/>
<path d="M77.4 1481.1h1.5M102.9 1481.1h1.5M113.3 1481.1h1.5M192.8 1481.1h1.5M207.8 1481.1h1.5M239.2 1481.1h1.5M63.9 1514.3h1.5M113.3 1514.3h1.5M119.3 1514.3h1.5M126.8 1514.3h1.5M171.8 1514.3h3M176.3 1514.3h1.5M330.6 1514.3h1.5M350.1 1514.3h1.5M414.5 1514.3h1.5M71.4 1547.5h1.5M81.9 1547.5h1.5M152.3 1547.5h3M266.2 1547.5h3M284.2 1547.5h1.5M308.1 1547.5h1.5M359.1 1547.5h1.5M452 1547.5h1.5M62.4 1580.7h1.5M108.9 1580.7h1.5M137.3 1580.7h1.5M236.2 1580.7h1.5M345.6 1580.7h1.5M353.1 1580.7h1.5M402.6 1580.7h1.5M62.4 1613.9h1.5M102.9 1613.9h1.5M108.9 1613.9h1.5M116.3 1613.9h1.5M158.3 1613.9h1.5M177.8 1613.9h1.5M191.3 1613.9h1.5M285.7 1613.9h1.5M342.6 1613.9h1.5M408.5 1613.9h1.5M78.9 1647.1h3M119.3 1647.1h1.5M140.3 1647.1h1.5M162.8 1647.1h1.5M206.3 1647.1h1.5M215.2 1647.1h1.5M284.2 1647.1h1.5M351.6 1647.1h1.5M83.4 1680.3h1.5M92.4 1680.3h1.5M104.4 1680.3h1.5M114.8 1680.3h1.5M219.7 1680.3h3M276.7 1680.3h1.5M66.9 1713.5h1.5M87.9 1713.5h1.5M96.9 1713.5h1.5M119.3 1713.5h1.5M131.3 1713.5h1.5M173.3 1713.5h1.5M234.7 1713.5h1.5M354.6 1713.5h1.5M359.1 1713.5h1.5M408.5 1713.5h1.5M68.4 1746.7h1.5M105.9 1746.7h1.5M113.3 1746.7h1.5M162.8 1746.7h1.5M176.3 1746.7h1.5M254.2 1746.7h1.5M353.1 1746.7h1.5M366.6 1746.7h1.5M65.4 1779.9h1.5M78.9 1779.9h3M92.4 1779.9h1.5M98.4 1779.9h1.5M120.8 1779.9h1.5M140.3 1779.9h1.5M192.8 1779.9h3M269.2 1779.9h3M287.2 1779.9h1.5M309.6 1779.9h1.5M336.6 1779.9h1.5M350.1 1779.9h1.5M84.9 1813.1h1.5M138.8 1813.1h1.5M156.8 1813.1h1.5M176.3 1813.1h1.5M198.8 1813.1h1.5M233.2 1813.1h1.5M315.6 1813.1h1.5M341.1 1813.1h1.5M374.1 1813.1h1.5M63.9 1846.3h1.5M80.4 1846.3h1.5M84.9 1846.3h1.5M162.8 1846.3h1.5M209.3 1846.3h1.5M263.2 1846.3h1.5M282.7 1846.3h1.5M314.1 1846.3h1.5M72.9 1879.5h1.5M87.9 1879.5h1.5M102.9 1879.5h1.5M161.3 1879.5h1.5M173.3 1879.5h1.5M245.2 1879.5h1.5M72.9 1912.7h1.5M99.9 1912.7h1.5M125.3 1912.7h1.5M167.3 1912.7h1.5M206.3 1912.7h1.5M246.7 1912.7h1.5M276.7 1912.7h1.5M293.2 1912.7h1.5M399.6 1912.7h1.5M92.4 1945.9h1.5M95.4 1945.9h1.5M119.3 1945.9h1.5M348.6 1945.9h1.5M368.1 1945.9h1.5M65.4 1979.1h1.5M83.4 1979.1h1.5M123.8 1979.1h1.5M126.8 1979.1h4.5M221.2 1979.1h1.5M279.7 1979.1h1.5" stroke="#7087bd" stroke-width="33.300000000000004"/>
<path d="M65.4 1481.1h1.5M96.9 1481.1h1.5M99.9 1481.1h1.5M108.9 1481.1h1.5M138.8 1481.1h1.5M143.3 1481.1h1.5M206.3 1481.1h1.5M219.7 1481.1h1.5M312.6 1481.1h1.5M318.6 1481.1h1.5M371.1 1481.1h1.5M405.6 1481.1h1.5M75.9 1514.3h1.5M78.9 1514.3h1.5M129.8 1514.3h1.5M134.3 1514.3h1.5M168.8 1514.3h1.5M200.3 1514.3h1.5M236.2 1514.3h1.5M267.7 1514.3h1.5M291.7 1514.3h1.5M312.6 1514.3h1.5M426.5 1514.3h1.5M74.4 1547.5h1.5M113.3 1547.5h1.5M161.3 1547.5h1.5M404.1 1547.5h1.5M63.9 1580.7h1.5M83.4 1580.7h1.5M113.3 1580.7h1.5M162.8 1580.7h1.5M216.7 1580.7h1.5M240.7 1580.7h1.5M255.7 1580.7h1.5M324.6 1580.7h1.5M414.5 1580.7h1.5M81.9 1613.9h1.5M104.4 1613.9h1.5M119.3 1613.9h1.5M122.3 1613.9h1.5M125.3 1613.9h1.5M141.8 1613.9h1.5M173.3 1613.9h1.5M228.7 1613.9h1.5M72.9 1647.1h3M96.9 1647.1h1.5M161.3 1647.1h1.5M182.3 1647.1h1.5M197.3 1647.1h1.5M212.2 1647.1h1.5M236.2 1647.1h1.5M249.7 1647.1h1.5M276.7 1647.1h1.5M287.2 1647.1h1.5M308.1 1647.1h1.5M365.1 1647.1h1.5M420.5 1647.1h1.5M66.9 1680.3h1.5M89.4 1680.3h1.5M96.9 1680.3h1.5M108.9 1680.3h1.5M147.8 1680.3h1.5M171.8 1680.3h1.5M216.7 1680.3h1.5M236.2 1680.3h1.5M251.2 1680.3h1.5M281.2 1680.3h1.5M348.6 1680.3h1.5M80.4 1713.5h1.5M84.9 1713.5h1.5M93.9 1713.5h1.5M105.9 1713.5h1.5M126.8 1713.5h1.5M134.3 1713.5h1.5M141.8 1713.5h1.5M147.8 1713.5h1.5M152.3 1713.5h3M194.3 1713.5h1.5M206.3 1713.5h1.5M263.2 1713.5h1.5M338.1 1713.5h1.5M411.5 1713.5h1.5M138.8 1746.7h1.5M218.2 1746.7h3M245.2 1746.7h1.5M287.2 1746.7h1.5M354.6 1746.7h1.5M362.1 1746.7h1.5M378.6 1746.7h1.5M399.6 1746.7h1.5M89.4 1779.9h1.5M96.9 1779.9h1.5M110.4 1779.9h1.5M158.3 1779.9h1.5M191.3 1779.9h1.5M207.8 1779.9h1.5M215.2 1779.9h1.5M257.2 1779.9h1.5M278.2 1779.9h1.5M312.6 1779.9h1.5M318.6 1779.9h3M338.1 1779.9h1.5M87.9 1813.1h1.5M99.9 1813.1h1.5M128.3 1813.1h1.5M321.6 1813.1h1.5M342.6 1813.1h1.5M404.1 1813.1h1.5M437 1813.1h1.5M75.9 1846.3h1.5M99.9 1846.3h1.5M171.8 1846.3h1.5M197.3 1846.3h3M287.2 1846.3h1.5M312.6 1846.3h1.5M411.5 1846.3h1.5M81.9 1879.5h1.5M95.4 1879.5h1.5M105.9 1879.5h1.5M282.7 1879.5h1.5M314.1 1879.5h1.5M320.1 1879.5h1.5M123.8 1912.7h1.5M141.8 1912.7h1.5M174.8 1912.7h1.5M207.8 1912.7h1.5M243.7 1912.7h1.5M267.7 1912.7h1.5M278.2 1912.7h1.5M101.4 1945.9h1.5M114.8 1945.9h1.5M129.8 1945.9h1.5M201.8 1945.9h1.5M218.2 1945.9h1.5M245.2 1945.9h1.5M312.6 1945.9h1.5M318.6 1945.9h3M339.6 1945.9h1.5M437 1945.9h1.5M63.9 1979.1h1.5M92.4 1979.1h1.5M96.9 1979.1h1.5M119.3 1979.1h1.5M162.8 1979.1h1.5M207.8 1979.1h1.5M237.7 1979.1h1.5M320.1 1979.1h1.5M333.6 1979.1h1.5M339.6 1979.1h1.5" stroke="#8296c6" stroke-width="33.300000000000004"/>
<path d="M80.4 1481.1h1.5M84.9 1481.1h1.5M89.4 1481.1h1.5M92.4 1481.1h1.5M156.8 1481.1h3M407 1481.1h1.5M62.4 1514.3h1.5M86.4 1514.3h1.5M89.4 1514.3h1.5M98.4 1514.3h1.5M114.8 1514.3h1.5M132.8 1514.3h1.5M159.8 1514.3h1.5M179.3 1514.3h1.5M189.8 1514.3h1.5M213.7 1514.3h1.5M249.7 1514.3h1.5M299.2 1514.3h1.5M318.6 1514.3h1.5M329.1 1514.3h1.5M404.1 1514.3h1.5M425 1514.3h1.5M447.5 1514.3h1.5M83.4 1547.5h1.5M95.4 1547.5h1.5M171.8 1547.5h1.5M225.7 1547.5h1.5M318.6 1547.5h1.5M354.6 1547.5h1.5M408.5 1547.5h1.5M71.4 1580.7h1.5M77.4 1580.7h1.5M89.4 1580.7h1.5M92.4 1580.7h1.5M129.8 1580.7h1.5M146.3 1580.7h1.5M150.8 1580.7h1.5M185.3 1580.7h1.5M194.3 1580.7h1.5M233.2 1580.7h1.5M290.2 1580.7h1.5M311.1 1580.7h1.5M339.6 1580.7h1.5M398.1 1580.7h1.5M405.6 1580.7h1.5M426.5 1580.7h1.5M99.9 1613.9h1.5M110.4 1613.9h1.5M221.2 1613.9h3M225.7 1613.9h1.5M263.2 1613.9h1.5M269.2 1613.9h1.5M287.2 1613.9h1.5M324.6 1613.9h1.5M350.1 1613.9h1.5M410 1613.9h1.5M414.5 1613.9h1.5M419 1613.9h1.5M428 1613.9h1.5M77.4 1647.1h1.5M83.4 1647.1h1.5M98.4 1647.1h1.5M125.3 1647.1h1.5M129.8 1647.1h1.5M146.3 1647.1h1.5M152.3 1647.1h1.5M170.3 1647.1h1.5M179.3 1647.1h1.5M188.3 1647.1h1.5M213.7 1647.1h1.5M218.2 1647.1h1.5M390.6 1647.1h1.5M63.9 1680.3h3M95.4 1680.3h1.5M125.3 1680.3h1.5M129.8 1680.3h1.5M173.3 1680.3h1.5M194.3 1680.3h1.5M201.8 1680.3h1.5M206.3 1680.3h1.5M222.7 1680.3h1.5M233.2 1680.3h1.5M258.7 1680.3h1.5M300.7 1680.3h1.5M324.6 1680.3h1.5M345.6 1680.3h1.5M374.1 1680.3h1.5M414.5 1680.3h1.5M98.4 1713.5h1.5M129.8 1713.5h1.5M158.3 1713.5h1.5M167.3 1713.5h3M186.8 1713.5h1.5M203.3 1713.5h1.5M284.2 1713.5h1.5M407 1713.5h1.5M416 1713.5h1.5M71.4 1746.7h1.5M167.3 1746.7h3M189.8 1746.7h1.5M200.3 1746.7h1.5M206.3 1746.7h1.5M234.7 1746.7h1.5M276.7 1746.7h1.5M282.7 1746.7h1.5M311.1 1746.7h3M63.9 1779.9h1.5M84.9 1779.9h1.5M95.4 1779.9h1.5M125.3 1779.9h1.5M137.3 1779.9h3M162.8 1779.9h1.5M254.2 1779.9h1.5M267.7 1779.9h1.5M434 1779.9h1.5M108.9 1813.1h1.5M114.8 1813.1h1.5M117.8 1813.1h1.5M141.8 1813.1h1.5M150.8 1813.1h1.5M159.8 1813.1h1.5M234.7 1813.1h1.5M261.7 1813.1h1.5M309.6 1813.1h1.5M381.6 1813.1h1.5M66.9 1846.3h1.5M83.4 1846.3h1.5M98.4 1846.3h1.5M192.8 1846.3h1.5M230.2 1846.3h1.5M299.2 1846.3h1.5M345.6 1846.3h1.5M407 1846.3h1.5M171.8 1879.5h1.5M206.3 1879.5h1.5M209.3 1879.5h1.5M254.2 1879.5h1.5M296.2 1879.5h1.5M312.6 1879.5h1.5M318.6 1879.5h1.5M327.6 1879.5h1.5M353.1 1879.5h1.5M381.6 1879.5h1.5M407 1879.5h1.5M446 1879.5h1.5M74.4 1912.7h1.5M92.4 1912.7h1.5M131.3 1912.7h1.5M147.8 1912.7h1.5M173.3 1912.7h1.5M176.3 1912.7h1.5M240.7 1912.7h1.5M263.2 1912.7h1.5M285.7 1912.7h1.5M294.7 1912.7h1.5M324.6 1912.7h1.5M332.1 1912.7h1.5M71.4 1945.9h1.5M75.9 1945.9h1.5M89.4 1945.9h1.5M152.3 1945.9h1.5M192.8 1945.9h1.5M212.2 1945.9h1.5M233.2 1945.9h1.5M260.2 1945.9h1.5M267.7 1945.9h1.5M278.2 1945.9h1.5M362.1 1945.9h1.5M143.3 1979.1h1.5M165.8 1979.1h1.5M173.3 1979.1h1.5M194.3 1979.1h1.5M206.3 1979.1h1.5M209.3 1979.1h1.5M345.6 1979.1h1.5" stroke="#93a4cf" stroke-width="33.300000000000004"/>
<path d="M78.9 1481.1h1.5M86.4 1481.1h1.5M116.3 1481.1h1.5M119.3 1481.1h1.5M129.8 1481.1h1.5M137.3 1481.1h1.5M147.8 1481.1h1.5M176.3 1481.1h1.5M180.8 1481.1h1.5M183.8 1481.1h1.5M195.8 1481.1h1.5M261.7 1481.1h1.5M269.2 1481.1h1.5M285.7 1481.1h1.5M294.7 1481.1h1.5M335.1 1481.1h1.5M339.6 1481.1h1.5M365.1 1481.1h1.5M93.9 1514.3h1.5M110.4 1514.3h1.5M122.3 1514.3h1.5M143.3 1514.3h1.5M146.3 1514.3h1.5M158.3 1514.3h1.5M198.8 1514.3h1.5M230.2 1514.3h1.5M272.2 1514.3h1.5M303.7 1514.3h1.5M339.6 1514.3h1.5M354.6 1514.3h1.5M372.6 1514.3h1.5M450.5 1514.3h1.5M78.9 1547.5h1.5M92.4 1547.5h1.5M104.4 1547.5h1.5M125.3 1547.5h1.5M143.3 1547.5h1.5M209.3 1547.5h1.5M215.2 1547.5h1.5M233.2 1547.5h1.5M260.2 1547.5h1.5M357.6 1547.5h1.5M390.6 1547.5h1.5M423.5 1547.5h1.5M440 1547.5h1.5M78.9 1580.7h1.5M119.3 1580.7h1.5M126.8 1580.7h1.5M144.8 1580.7h1.5M152.3 1580.7h1.5M176.3 1580.7h1.5M188.3 1580.7h1.5M266.2 1580.7h1.5M269.2 1580.7h1.5M273.7 1580.7h1.5M282.7 1580.7h1.5M308.1 1580.7h1.5M411.5 1580.7h1.5M84.9 1613.9h1.5M93.9 1613.9h1.5M114.8 1613.9h1.5M117.8 1613.9h1.5M123.8 1613.9h1.5M152.3 1613.9h1.5M179.3 1613.9h1.5M227.2 1613.9h1.5M336.6 1613.9h1.5M407 1613.9h1.5M440 1613.9h1.5M86.4 1647.1h1.5M102.9 1647.1h1.5M345.6 1647.1h1.5M71.4 1680.3h1.5M131.3 1680.3h1.5M186.8 1680.3h1.5M191.3 1680.3h1.5M228.7 1680.3h1.5M269.2 1680.3h1.5M330.6 1680.3h1.5M383.1 1680.3h1.5M63.9 1713.5h1.5M74.4 1713.5h1.5M99.9 1713.5h1.5M110.4 1713.5h1.5M156.8 1713.5h1.5M228.7 1713.5h1.5M236.2 1713.5h1.5M288.7 1713.5h1.5M296.2 1713.5h1.5M314.1 1713.5h1.5M317.1 1713.5h1.5M351.6 1713.5h1.5M437 1713.5h1.5M453.5 1713.5h1.5M62.4 1746.7h1.5M86.4 1746.7h1.5M99.9 1746.7h1.5M110.4 1746.7h1.5M132.8 1746.7h1.5M150.8 1746.7h1.5M173.3 1746.7h1.5M204.8 1746.7h1.5M216.7 1746.7h1.5M267.7 1746.7h1.5M285.7 1746.7h1.5M320.1 1746.7h1.5M381.6 1746.7h3M401.1 1746.7h1.5M423.5 1746.7h1.5M72.9 1779.9h1.5M93.9 1779.9h1.5M143.3 1779.9h1.5M176.3 1779.9h3M201.8 1779.9h1.5M209.3 1779.9h1.5M251.2 1779.9h1.5M282.7 1779.9h1.5M299.2 1779.9h1.5M353.1 1779.9h1.5M359.1 1779.9h1.5M414.5 1779.9h1.5M447.5 1779.9h1.5M63.9 1813.1h1.5M96.9 1813.1h1.5M123.8 1813.1h1.5M129.8 1813.1h1.5M132.8 1813.1h1.5M146.3 1813.1h1.5M161.3 1813.1h1.5M192.8 1813.1h1.5M213.7 1813.1h1.5M216.7 1813.1h1.5M299.2 1813.1h3M327.6 1813.1h1.5M336.6 1813.1h1.5M428 1813.1h1.5M431 1813.1h1.5M65.4 1846.3h1.5M78.9 1846.3h1.5M81.9 1846.3h1.5M105.9 1846.3h1.5M132.8 1846.3h1.5M141.8 1846.3h1.5M153.8 1846.3h1.5M156.8 1846.3h1.5M189.8 1846.3h1.5M201.8 1846.3h1.5M206.3 1846.3h1.5M213.7 1846.3h1.5M236.2 1846.3h1.5M254.2 1846.3h1.5M276.7 1846.3h1.5M339.6 1846.3h1.5M419 1846.3h3M63.9 1879.5h1.5M75.9 1879.5h1.5M119.3 1879.5h1.5M221.2 1879.5h1.5M234.7 1879.5h1.5M260.2 1879.5h1.5M272.2 1879.5h3M276.7 1879.5h1.5M303.7 1879.5h1.5M377.1 1879.5h1.5M431 1879.5h1.5M437 1879.5h1.5M77.4 1912.7h1.5M95.4 1912.7h1.5M105.9 1912.7h1.5M129.8 1912.7h1.5M153.8 1912.7h1.5M162.8 1912.7h1.5M192.8 1912.7h1.5M228.7 1912.7h3M261.7 1912.7h1.5M270.7 1912.7h1.5M309.6 1912.7h1.5M353.1 1912.7h1.5M365.1 1912.7h1.5M402.6 1912.7h1.5M414.5 1912.7h1.5M426.5 1912.7h1.5M66.9 1945.9h1.5M72.9 1945.9h3M104.4 1945.9h1.5M147.8 1945.9h1.5M156.8 1945.9h1.5M161.3 1945.9h3M167.3 1945.9h1.5M221.2 1945.9h1.5M236.2 1945.9h1.5M276.7 1945.9h1.5M417.5 1945.9h1.5M72.9 1979.1h1.5M80.4 1979.1h1.5M108.9 1979.1h3M131.3 1979.1h1.5M201.8 1979.1h1.5M231.7 1979.1h1.5M341.1 1979.1h3M350.1 1979.1h1.5M381.6 1979.1h1.5M390.6 1979.1h1.5M414.5 1979.1h1.5M440 1979.1h1.5M443 1979.1h1.5M452 1979.1h1.5" stroke="#a6b4d7" stroke-width="33.300000000000004"/>
<path d="M93.9 1481.1h1.5M141.8 1481.1h1.5M149.3 1481.1h1.5M164.3 1481.1h1.5M167.3 1481.1h1.5M191.3 1481.1h1.5M197.3 1481.1h4.5M234.7 1481.1h1.5M254.2 1481.1h1.5M296.2 1481.1h1.5M317.1 1481.1h1.5M389.1 1481.1h1.5M404.1 1481.1h1.5M408.5 1481.1h1.5M96.9 1514.3h1.5M107.4 1514.3h1.5M125.3 1514.3h1.5M131.3 1514.3h1.5M180.8 1514.3h1.5M231.7 1514.3h1.5M245.2 1514.3h1.5M261.7 1514.3h1.5M278.2 1514.3h1.5M359.1 1514.3h1.5M371.1 1514.3h1.5M411.5 1514.3h1.5M68.4 1547.5h1.5M84.9 1547.5h1.5M102.9 1547.5h1.5M116.3 1547.5h1.5M123.8 1547.5h1.5M135.8 1547.5h1.5M141.8 1547.5h1.5M180.8 1547.5h1.5M197.3 1547.5h1.5M218.2 1547.5h1.5M236.2 1547.5h1.5M261.7 1547.5h1.5M282.7 1547.5h1.5M299.2 1547.5h1.5M324.6 1547.5h1.5M350.1 1547.5h1.5M414.5 1547.5h1.5M96.9 1580.7h3M114.8 1580.7h1.5M147.8 1580.7h1.5M197.3 1580.7h1.5M270.7 1580.7h1.5M317.1 1580.7h1.5M341.1 1580.7h1.5M65.4 1613.9h1.5M95.4 1613.9h1.5M147.8 1613.9h3M182.3 1613.9h1.5M233.2 1613.9h1.5M239.2 1613.9h1.5M282.7 1613.9h1.5M348.6 1613.9h1.5M369.6 1613.9h1.5M377.1 1613.9h3M68.4 1647.1h1.5M141.8 1647.1h1.5M233.2 1647.1h1.5M237.7 1647.1h1.5M252.7 1647.1h3M311.1 1647.1h1.5M318.6 1647.1h3M330.6 1647.1h1.5M336.6 1647.1h1.5M426.5 1647.1h1.5M437 1647.1h1.5M447.5 1647.1h1.5M99.9 1680.3h1.5M116.3 1680.3h1.5M135.8 1680.3h1.5M140.3 1680.3h1.5M150.8 1680.3h1.5M209.3 1680.3h1.5M245.2 1680.3h1.5M282.7 1680.3h3M312.6 1680.3h1.5M398.1 1680.3h1.5M161.3 1713.5h1.5M177.8 1713.5h3M266.2 1713.5h1.5M269.2 1713.5h1.5M293.2 1713.5h1.5M312.6 1713.5h1.5M324.6 1713.5h1.5M327.6 1713.5h1.5M348.6 1713.5h1.5M353.1 1713.5h1.5M362.1 1713.5h1.5M434 1713.5h1.5M65.4 1746.7h1.5M74.4 1746.7h1.5M87.9 1746.7h1.5M95.4 1746.7h1.5M111.8 1746.7h1.5M123.8 1746.7h1.5M146.3 1746.7h1.5M186.8 1746.7h1.5M192.8 1746.7h1.5M201.8 1746.7h1.5M233.2 1746.7h1.5M263.2 1746.7h1.5M275.2 1746.7h1.5M314.1 1746.7h1.5M404.1 1746.7h1.5M447.5 1746.7h1.5M81.9 1779.9h1.5M101.4 1779.9h1.5M122.3 1779.9h1.5M132.8 1779.9h1.5M171.8 1779.9h1.5M183.8 1779.9h1.5M219.7 1779.9h1.5M260.2 1779.9h1.5M314.1 1779.9h1.5M342.6 1779.9h1.5M348.6 1779.9h1.5M351.6 1779.9h1.5M405.6 1779.9h1.5M408.5 1779.9h1.5M74.4 1813.1h1.5M77.4 1813.1h1.5M89.4 1813.1h3M101.4 1813.1h1.5M120.8 1813.1h1.5M137.3 1813.1h1.5M158.3 1813.1h1.5M194.3 1813.1h1.5M272.2 1813.1h1.5M278.2 1813.1h1.5M284.2 1813.1h1.5M312.6 1813.1h1.5M345.6 1813.1h1.5M365.1 1813.1h1.5M377.1 1813.1h1.5M386.1 1813.1h1.5M438.5 1813.1h1.5M453.5 1813.1h1.5M77.4 1846.3h1.5M86.4 1846.3h1.5M102.9 1846.3h1.5M113.3 1846.3h1.5M140.3 1846.3h1.5M167.3 1846.3h1.5M200.3 1846.3h1.5M234.7 1846.3h1.5M261.7 1846.3h1.5M269.2 1846.3h1.5M275.2 1846.3h1.5M278.2 1846.3h1.5M293.2 1846.3h1.5M353.1 1846.3h3M71.4 1879.5h1.5M113.3 1879.5h3M156.8 1879.5h1.5M159.8 1879.5h1.5M186.8 1879.5h1.5M230.2 1879.5h1.5M243.7 1879.5h1.5M252.7 1879.5h1.5M269.2 1879.5h1.5M384.6 1879.5h1.5M414.5 1879.5h1.5M425 1879.5h1.5M90.9 1912.7h1.5M96.9 1912.7h1.5M108.9 1912.7h1.5M143.3 1912.7h3M152.3 1912.7h1.5M156.8 1912.7h1.5M177.8 1912.7h1.5M188.3 1912.7h1.5M201.8 1912.7h1.5M204.8 1912.7h1.5M213.7 1912.7h1.5M281.2 1912.7h3M366.6 1912.7h1.5M420.5 1912.7h1.5M453.5 1912.7h1.5M93.9 1945.9h1.5M98.4 1945.9h1.5M122.3 1945.9h1.5M131.3 1945.9h1.5M210.7 1945.9h1.5M219.7 1945.9h1.5M234.7 1945.9h1.5M414.5 1945.9h1.5M429.5 1945.9h1.5M74.4 1979.1h1.5M114.8 1979.1h1.5M122.3 1979.1h1.5M137.3 1979.1h1.5M146.3 1979.1h1.5M152.3 1979.1h1.5M183.8 1979.1h1.5M227.2 1979.1h1.5M233.2 1979.1h3M257.2 1979.1h1.5M276.7 1979.1h1.5M353.1 1979.1h1.5M380.1 1979.1h1.5M419 1979.1h1.5" stroke="#b8c3de" stroke-width="33.300000000000004"/>
<path d="M62.4 1481.1h1.5M71.4 1481.1h1.5M83.4 1481.1h1.5M90.9 1481.1h1.5M105.9 1481.1h1.5M123.8 1481.1h1.5M134.3 1481.1h1.5M153.8 1481.1h1.5M162.8 1481.1h1.5M228.7 1481.1h1.5M231.7 1481.1h1.5M242.2 1481.1h1.5M309.6 1481.1h1.5M338.1 1481.1h1.5M351.6 1481.1h1.5M369.6 1481.1h1.5M399.6 1481.1h1.5M90.9 1514.3h3M104.4 1514.3h1.5M123.8 1514.3h1.5M140.3 1514.3h1.5M152.3 1514.3h1.5M209.3 1514.3h1.5M219.7 1514.3h1.5M264.7 1514.3h3M269.2 1514.3h1.5M285.7 1514.3h1.5M314.1 1514.3h1.5M320.1 1514.3h1.5M327.6 1514.3h1.5M453.5 1514.3h1.5M65.4 1547.5h1.5M72.9 1547.5h1.5M99.9 1547.5h3M119.3 1547.5h1.5M146.3 1547.5h1.5M150.8 1547.5h1.5M156.8 1547.5h3M216.7 1547.5h1.5M245.2 1547.5h1.5M269.2 1547.5h1.5M288.7 1547.5h1.5M294.7 1547.5h3M302.2 1547.5h1.5M314.1 1547.5h1.5M327.6 1547.5h1.5M330.6 1547.5h1.5M335.1 1547.5h1.5M366.6 1547.5h1.5M375.6 1547.5h1.5M381.6 1547.5h1.5M437 1547.5h1.5M450.5 1547.5h1.5M453.5 1547.5h1.5M116.3 1580.7h1.5M122.3 1580.7h1.5M138.8 1580.7h1.5M141.8 1580.7h1.5M156.8 1580.7h1.5M164.3 1580.7h1.5M189.8 1580.7h1.5M203.3 1580.7h1.5M234.7 1580.7h1.5M257.2 1580.7h1.5M278.2 1580.7h1.5M303.7 1580.7h1.5M318.6 1580.7h3M323.1 1580.7h1.5M356.1 1580.7h3M380.1 1580.7h1.5M383.1 1580.7h1.5M392.1 1580.7h1.5M404.1 1580.7h1.5M419 1580.7h1.5M425 1580.7h1.5M437 1580.7h1.5M71.4 1613.9h1.5M86.4 1613.9h1.5M128.3 1613.9h1.5M176.3 1613.9h1.5M206.3 1613.9h1.5M218.2 1613.9h1.5M314.1 1613.9h1.5M318.6 1613.9h1.5M327.6 1613.9h1.5M434 1613.9h1.5M126.8 1647.1h3M174.8 1647.1h1.5M204.8 1647.1h1.5M230.2 1647.1h1.5M258.7 1647.1h1.5M309.6 1647.1h1.5M384.6 1647.1h1.5M401.1 1647.1h1.5M408.5 1647.1h1.5M423.5 1647.1h1.5M128.3 1680.3h1.5M155.3 1680.3h1.5M240.7 1680.3h1.5M252.7 1680.3h3M311.1 1680.3h1.5M327.6 1680.3h1.5M350.1 1680.3h1.5M432.5 1680.3h1.5M438.5 1680.3h1.5M450.5 1680.3h1.5M113.3 1713.5h1.5M128.3 1713.5h1.5M140.3 1713.5h1.5M201.8 1713.5h1.5M215.2 1713.5h1.5M219.7 1713.5h1.5M249.7 1713.5h1.5M255.7 1713.5h1.5M285.7 1713.5h1.5M294.7 1713.5h1.5M318.6 1713.5h1.5M336.6 1713.5h1.5M345.6 1713.5h1.5M350.1 1713.5h1.5M378.6 1713.5h1.5M383.1 1713.5h1.5M450.5 1713.5h1.5M63.9 1746.7h1.5M78.9 1746.7h1.5M126.8 1746.7h1.5M129.8 1746.7h1.5M135.8 1746.7h1.5M140.3 1746.7h1.5M143.3 1746.7h1.5M158.3 1746.7h1.5M161.3 1746.7h1.5M185.3 1746.7h1.5M209.3 1746.7h1.5M215.2 1746.7h1.5M237.7 1746.7h1.5M290.2 1746.7h1.5M296.2 1746.7h1.5M333.6 1746.7h1.5M374.1 1746.7h1.5M416 1746.7h1.5M428 1746.7h3M434 1746.7h1.5M438.5 1746.7h1.5M441.5 1746.7h1.5M75.9 1779.9h1.5M83.4 1779.9h1.5M119.3 1779.9h1.5M131.3 1779.9h1.5M135.8 1779.9h1.5M224.2 1779.9h1.5M236.2 1779.9h1.5M264.7 1779.9h1.5M410 1779.9h1.5M413 1779.9h1.5M416 1779.9h1.5M93.9 1813.1h3M105.9 1813.1h1.5M131.3 1813.1h1.5M153.8 1813.1h1.5M162.8 1813.1h1.5M219.7 1813.1h1.5M228.7 1813.1h1.5M239.2 1813.1h1.5M281.2 1813.1h1.5M318.6 1813.1h1.5M357.6 1813.1h1.5M416 1813.1h1.5M74.4 1846.3h1.5M92.4 1846.3h1.5M116.3 1846.3h1.5M129.8 1846.3h1.5M137.3 1846.3h1.5M143.3 1846.3h1.5M149.3 1846.3h1.5M222.7 1846.3h1.5M288.7 1846.3h3M308.1 1846.3h1.5M320.1 1846.3h1.5M342.6 1846.3h1.5M404.1 1846.3h1.5M434 1846.3h3M93.9 1879.5h1.5M101.4 1879.5h1.5M110.4 1879.5h1.5M135.8 1879.5h1.5M146.3 1879.5h1.5M194.3 1879.5h3M198.8 1879.5h1.5M210.7 1879.5h1.5M218.2 1879.5h1.5M264.7 1879.5h1.5M294.7 1879.5h1.5M348.6 1879.5h3M366.6 1879.5h1.5M408.5 1879.5h1.5M104.4 1912.7h1.5M114.8 1912.7h1.5M161.3 1912.7h1.5M249.7 1912.7h1.5M257.2 1912.7h3M284.2 1912.7h1.5M287.2 1912.7h1.5M312.6 1912.7h1.5M318.6 1912.7h1.5M335.1 1912.7h1.5M347.1 1912.7h1.5M350.1 1912.7h1.5M359.1 1912.7h1.5M416 1912.7h1.5M437 1912.7h1.5M450.5 1912.7h1.5M110.4 1945.9h1.5M146.3 1945.9h1.5M149.3 1945.9h1.5M194.3 1945.9h1.5M209.3 1945.9h1.5M216.7 1945.9h1.5M228.7 1945.9h1.5M255.7 1945.9h1.5M264.7 1945.9h1.5M282.7 1945.9h1.5M329.1 1945.9h1.5M438.5 1945.9h1.5M84.9 1979.1h1.5M105.9 1979.1h1.5M132.8 1979.1h1.5M164.3 1979.1h1.5M174.8 1979.1h1.5M186.8 1979.1h1.5M212.2 1979.1h1.5M260.2 1979.1h1.5M266.2 1979.1h3M302.2 1979.1h1.5M344.1 1979.1h1.5M372.6 1979.1h1.5M378.6 1979.1h1.5M395.1 1979.1h1.5M404.1 1979.1h1.5M416 1979.1h1.5" stroke="#cbd2e6" stroke-width="33.300000000000004"/>
<path d="M75.9 1481.1h1.5M104.4 1481.1h1.5M173.3 1481.1h1.5M186.8 1481.1h1.5M257.2 1481.1h4.5M273.7 1481.1h3M282.7 1481.1h1.5M320.1 1481.1h1.5M330.6 1481.1h1.5M347.1 1481.1h1.5M368.1 1481.1h1.5M420.5 1481.1h1.5M452 1481.1h1.5M102.9 1514.3h1.5M108.9 1514.3h1.5M147.8 1514.3h1.5M150.8 1514.3h1.5M162.8 1514.3h1.5M177.8 1514.3h1.5M194.3 1514.3h1.5M210.7 1514.3h1.5M233.2 1514.3h1.5M237.7 1514.3h1.5M243.7 1514.3h1.5M258.7 1514.3h1.5M293.2 1514.3h1.5M345.6 1514.3h3M360.6 1514.3h1.5M407 1514.3h1.5M410 1514.3h1.5M77.4 1547.5h1.5M87.9 1547.5h1.5M107.4 1547.5h3M182.3 1547.5h1.5M191.3 1547.5h1.5M206.3 1547.5h1.5M212.2 1547.5h3M248.2 1547.5h1.5M255.7 1547.5h1.5M285.7 1547.5h1.5M348.6 1547.5h1.5M353.1 1547.5h1.5M384.6 1547.5h1.5M426.5 1547.5h1.5M68.4 1580.7h1.5M81.9 1580.7h1.5M117.8 1580.7h1.5M123.8 1580.7h1.5M135.8 1580.7h1.5M149.3 1580.7h1.5M170.3 1580.7h1.5M174.8 1580.7h1.5M218.2 1580.7h1.5M252.7 1580.7h1.5M263.2 1580.7h1.5M287.2 1580.7h1.5M294.7 1580.7h1.5M314.1 1580.7h3M348.6 1580.7h1.5M360.6 1580.7h1.5M401.1 1580.7h1.5M449 1580.7h3M453.5 1580.7h1.5M197.3 1613.9h1.5M200.3 1613.9h1.5M266.2 1613.9h1.5M294.7 1613.9h3M308.1 1613.9h1.5M339.6 1613.9h1.5M374.1 1613.9h1.5M425 1613.9h1.5M435.5 1613.9h3M71.4 1647.1h1.5M75.9 1647.1h1.5M81.9 1647.1h1.5M105.9 1647.1h3M158.3 1647.1h1.5M207.8 1647.1h1.5M221.2 1647.1h1.5M239.2 1647.1h1.5M282.7 1647.1h1.5M293.2 1647.1h1.5M338.1 1647.1h1.5M372.6 1647.1h1.5M77.4 1680.3h1.5M86.4 1680.3h1.5M110.4 1680.3h1.5M143.3 1680.3h1.5M156.8 1680.3h1.5M170.3 1680.3h1.5M176.3 1680.3h1.5M198.8 1680.3h1.5M210.7 1680.3h1.5M234.7 1680.3h1.5M242.2 1680.3h1.5M246.7 1680.3h1.5M255.7 1680.3h1.5M296.2 1680.3h1.5M308.1 1680.3h1.5M336.6 1680.3h1.5M372.6 1680.3h1.5M425 1680.3h1.5M102.9 1713.5h1.5M108.9 1713.5h1.5M143.3 1713.5h1.5M146.3 1713.5h1.5M149.3 1713.5h1.5M162.8 1713.5h1.5M183.8 1713.5h1.5M204.8 1713.5h1.5M275.2 1713.5h1.5M278.2 1713.5h1.5M287.2 1713.5h1.5M374.1 1713.5h1.5M402.6 1713.5h1.5M72.9 1746.7h1.5M102.9 1746.7h1.5M119.3 1746.7h1.5M156.8 1746.7h1.5M164.3 1746.7h1.5M203.3 1746.7h1.5M210.7 1746.7h1.5M222.7 1746.7h1.5M273.7 1746.7h1.5M323.1 1746.7h3M350.1 1746.7h1.5M380.1 1746.7h1.5M390.6 1746.7h3M443 1746.7h1.5M453.5 1746.7h1.5M87.9 1779.9h1.5M102.9 1779.9h1.5M105.9 1779.9h1.5M134.3 1779.9h1.5M150.8 1779.9h1.5M197.3 1779.9h1.5M227.2 1779.9h1.5M233.2 1779.9h1.5M258.7 1779.9h1.5M288.7 1779.9h1.5M300.7 1779.9h1.5M308.1 1779.9h1.5M384.6 1779.9h1.5M420.5 1779.9h1.5M65.4 1813.1h1.5M71.4 1813.1h1.5M92.4 1813.1h1.5M113.3 1813.1h1.5M140.3 1813.1h1.5M143.3 1813.1h1.5M171.8 1813.1h3M246.7 1813.1h1.5M263.2 1813.1h1.5M273.7 1813.1h1.5M276.7 1813.1h1.5M282.7 1813.1h1.5M293.2 1813.1h1.5M303.7 1813.1h1.5M356.1 1813.1h1.5M372.6 1813.1h1.5M398.1 1813.1h1.5M401.1 1813.1h1.5M407 1813.1h3M413 1813.1h1.5M423.5 1813.1h1.5M123.8 1846.3h1.5M179.3 1846.3h1.5M240.7 1846.3h1.5M281.2 1846.3h1.5M317.1 1846.3h1.5M324.6 1846.3h1.5M374.1 1846.3h1.5M392.1 1846.3h1.5M426.5 1846.3h1.5M122.3 1879.5h1.5M125.3 1879.5h1.5M141.8 1879.5h3M152.3 1879.5h1.5M185.3 1879.5h1.5M192.8 1879.5h1.5M222.7 1879.5h1.5M225.7 1879.5h1.5M231.7 1879.5h1.5M258.7 1879.5h1.5M278.2 1879.5h1.5M281.2 1879.5h1.5M324.6 1879.5h1.5M357.6 1879.5h1.5M380.1 1879.5h1.5M440 1879.5h1.5M68.4 1912.7h1.5M102.9 1912.7h1.5M126.8 1912.7h1.5M159.8 1912.7h1.5M171.8 1912.7h1.5M179.3 1912.7h1.5M194.3 1912.7h1.5M236.2 1912.7h1.5M272.2 1912.7h1.5M300.7 1912.7h1.5M351.6 1912.7h1.5M360.6 1912.7h1.5M375.6 1912.7h1.5M390.6 1912.7h1.5M428 1912.7h1.5M86.4 1945.9h1.5M123.8 1945.9h1.5M126.8 1945.9h1.5M158.3 1945.9h3M198.8 1945.9h1.5M215.2 1945.9h1.5M225.7 1945.9h1.5M254.2 1945.9h1.5M270.7 1945.9h1.5M279.7 1945.9h1.5M291.7 1945.9h3M296.2 1945.9h1.5M324.6 1945.9h1.5M345.6 1945.9h1.5M369.6 1945.9h1.5M384.6 1945.9h1.5M87.9 1979.1h1.5M99.9 1979.1h1.5M111.8 1979.1h1.5M171.8 1979.1h1.5M177.8 1979.1h1.5M191.3 1979.1h1.5M198.8 1979.1h1.5M242.2 1979.1h1.5M254.2 1979.1h1.5M287.2 1979.1h1.5M299.2 1979.1h1.5M311.1 1979.1h1.5M324.6 1979.1h1.5M371.1 1979.1h1.5M377.1 1979.1h1.5M393.6 1979.1h1.5M399.6 1979.1h1.5M402.6 1979.1h1.5M428 1979.1h1.5M438.5 1979.1h1.5" stroke="#dee2ed" stroke-width="33.300000000000004"/>
<path d="M95.4 1481.1h1.5M101.4 1481.1h1.5M174.8 1481.1h1.5M189.8 1481.1h1.5M209.3 1481.1h3M215.2 1481.1h1.5M221.2 1481.1h3M227.2 1481.1h1.5M245.2 1481.1h1.5M270.7 1481.1h1.5M287.2 1481.1h1.5M303.7 1481.1h1.5M437 1481.1h1.5M68.4 1514.3h1.5M71.4 1514.3h1.5M81.9 1514.3h1.5M87.9 1514.3h1.5M153.8 1514.3h1.5M182.3 1514.3h1.5M186.8 1514.3h3M260.2 1514.3h1.5M276.7 1514.3h1.5M281.2 1514.3h1.5M308.1 1514.3h1.5M333.6 1514.3h1.5M342.6 1514.3h1.5M366.6 1514.3h3M378.6 1514.3h1.5M405.6 1514.3h1.5M129.8 1547.5h1.5M144.8 1547.5h1.5M162.8 1547.5h1.5M168.8 1547.5h1.5M177.8 1547.5h1.5M257.2 1547.5h1.5M323.1 1547.5h1.5M345.6 1547.5h1.5M392.1 1547.5h1.5M419 1547.5h1.5M74.4 1580.7h1.5M90.9 1580.7h1.5M95.4 1580.7h1.5M131.3 1580.7h1.5M171.8 1580.7h1.5M200.3 1580.7h1.5M207.8 1580.7h1.5M258.7 1580.7h1.5M261.7 1580.7h1.5M275.2 1580.7h1.5M284.2 1580.7h1.5M299.2 1580.7h1.5M347.1 1580.7h1.5M390.6 1580.7h1.5M417.5 1580.7h1.5M74.4 1613.9h1.5M92.4 1613.9h1.5M96.9 1613.9h1.5M126.8 1613.9h1.5M137.3 1613.9h1.5M146.3 1613.9h1.5M167.3 1613.9h1.5M192.8 1613.9h1.5M201.8 1613.9h1.5M234.7 1613.9h1.5M261.7 1613.9h1.5M275.2 1613.9h1.5M284.2 1613.9h1.5M300.7 1613.9h1.5M353.1 1613.9h1.5M381.6 1613.9h1.5M65.4 1647.1h1.5M87.9 1647.1h1.5M122.3 1647.1h1.5M180.8 1647.1h1.5M209.3 1647.1h1.5M234.7 1647.1h1.5M255.7 1647.1h1.5M285.7 1647.1h1.5M296.2 1647.1h1.5M312.6 1647.1h1.5M381.6 1647.1h1.5M389.1 1647.1h1.5M419 1647.1h1.5M435.5 1647.1h1.5M87.9 1680.3h1.5M101.4 1680.3h1.5M161.3 1680.3h1.5M174.8 1680.3h1.5M200.3 1680.3h1.5M204.8 1680.3h1.5M231.7 1680.3h1.5M249.7 1680.3h1.5M261.7 1680.3h1.5M267.7 1680.3h1.5M285.7 1680.3h1.5M329.1 1680.3h1.5M342.6 1680.3h1.5M384.6 1680.3h1.5M407 1680.3h1.5M447.5 1680.3h1.5M68.4 1713.5h1.5M164.3 1713.5h1.5M188.3 1713.5h1.5M209.3 1713.5h1.5M281.2 1713.5h1.5M290.2 1713.5h3M303.7 1713.5h1.5M341.1 1713.5h1.5M344.1 1713.5h1.5M356.1 1713.5h1.5M368.1 1713.5h1.5M392.1 1713.5h1.5M405.6 1713.5h1.5M438.5 1713.5h1.5M80.4 1746.7h1.5M92.4 1746.7h1.5M116.3 1746.7h1.5M147.8 1746.7h1.5M174.8 1746.7h1.5M230.2 1746.7h1.5M252.7 1746.7h1.5M257.2 1746.7h1.5M261.7 1746.7h1.5M272.2 1746.7h1.5M302.2 1746.7h1.5M315.6 1746.7h3M339.6 1746.7h1.5M368.1 1746.7h1.5M375.6 1746.7h1.5M407 1746.7h1.5M414.5 1746.7h1.5M68.4 1779.9h1.5M77.4 1779.9h1.5M90.9 1779.9h1.5M99.9 1779.9h1.5M104.4 1779.9h1.5M129.8 1779.9h1.5M141.8 1779.9h1.5M156.8 1779.9h1.5M221.2 1779.9h1.5M225.7 1779.9h1.5M237.7 1779.9h1.5M242.2 1779.9h1.5M293.2 1779.9h1.5M339.6 1779.9h1.5M368.1 1779.9h1.5M390.6 1779.9h1.5M398.1 1779.9h1.5M419 1779.9h1.5M62.4 1813.1h1.5M83.4 1813.1h1.5M122.3 1813.1h1.5M155.3 1813.1h1.5M179.3 1813.1h3M197.3 1813.1h1.5M209.3 1813.1h1.5M212.2 1813.1h1.5M222.7 1813.1h1.5M225.7 1813.1h1.5M236.2 1813.1h1.5M255.7 1813.1h1.5M258.7 1813.1h1.5M267.7 1813.1h4.5M290.2 1813.1h1.5M363.6 1813.1h1.5M420.5 1813.1h1.5M432.5 1813.1h1.5M440 1813.1h1.5M452 1813.1h1.5M90.9 1846.3h1.5M131.3 1846.3h1.5M134.3 1846.3h1.5M146.3 1846.3h3M168.8 1846.3h1.5M180.8 1846.3h1.5M210.7 1846.3h1.5M216.7 1846.3h1.5M239.2 1846.3h1.5M246.7 1846.3h1.5M267.7 1846.3h1.5M270.7 1846.3h3M285.7 1846.3h1.5M332.1 1846.3h1.5M368.1 1846.3h1.5M378.6 1846.3h1.5M408.5 1846.3h1.5M438.5 1846.3h1.5M444.5 1846.3h1.5M452 1846.3h1.5M80.4 1879.5h1.5M108.9 1879.5h1.5M117.8 1879.5h1.5M123.8 1879.5h1.5M132.8 1879.5h1.5M144.8 1879.5h1.5M158.3 1879.5h1.5M167.3 1879.5h1.5M189.8 1879.5h1.5M224.2 1879.5h1.5M255.7 1879.5h1.5M266.2 1879.5h1.5M285.7 1879.5h1.5M308.1 1879.5h1.5M329.1 1879.5h1.5M345.6 1879.5h1.5M354.6 1879.5h1.5M419 1879.5h1.5M452 1879.5h1.5M128.3 1912.7h1.5M164.3 1912.7h1.5M168.8 1912.7h1.5M215.2 1912.7h1.5M245.2 1912.7h1.5M320.1 1912.7h1.5M345.6 1912.7h1.5M356.1 1912.7h1.5M362.1 1912.7h1.5M372.6 1912.7h1.5M381.6 1912.7h1.5M401.1 1912.7h1.5M438.5 1912.7h1.5M441.5 1912.7h1.5M65.4 1945.9h1.5M84.9 1945.9h1.5M105.9 1945.9h1.5M189.8 1945.9h1.5M203.3 1945.9h3M287.2 1945.9h1.5M294.7 1945.9h1.5M299.2 1945.9h3M317.1 1945.9h1.5M323.1 1945.9h1.5M363.6 1945.9h1.5M374.1 1945.9h1.5M398.1 1945.9h1.5M407 1945.9h1.5M104.4 1979.1h1.5M125.3 1979.1h1.5M158.3 1979.1h1.5M197.3 1979.1h1.5M261.7 1979.1h1.5M269.2 1979.1h1.5M291.7 1979.1h1.5M318.6 1979.1h1.5M338.1 1979.1h1.5M398.1 1979.1h1.5M408.5 1979.1h1.5" stroke="#f0f1f5" stroke-width="33.300000000000004"/>
<path d="M68.4 1481.1h1.5M146.3 1481.1h1.5M252.7 1481.1h1.5M299.2 1481.1h1.5M308.1 1481.1h1.5M311.1 1481.1h1.5M324.6 1481.1h1.5M341.1 1481.1h1.5M353.1 1481.1h1.5M359.1 1481.1h1.5M380.1 1481.1h1.5M392.1 1481.1h1.5M65.4 1514.3h1.5M105.9 1514.3h1.5M116.3 1514.3h1.5M135.8 1514.3h1.5M149.3 1514.3h1.5M156.8 1514.3h1.5M161.3 1514.3h1.5M197.3 1514.3h1.5M218.2 1514.3h1.5M240.7 1514.3h1.5M252.7 1514.3h1.5M257.2 1514.3h1.5M270.7 1514.3h1.5M282.7 1514.3h1.5M315.6 1514.3h1.5M389.1 1514.3h1.5M437 1514.3h1.5M90.9 1547.5h1.5M128.3 1547.5h1.5M131.3 1547.5h1.5M155.3 1547.5h1.5M186.8 1547.5h1.5M219.7 1547.5h3M228.7 1547.5h1.5M240.7 1547.5h1.5M275.2 1547.5h1.5M336.6 1547.5h3M342.6 1547.5h3M369.6 1547.5h1.5M374.1 1547.5h1.5M383.1 1547.5h1.5M386.1 1547.5h1.5M417.5 1547.5h1.5M438.5 1547.5h1.5M102.9 1580.7h1.5M173.3 1580.7h1.5M245.2 1580.7h4.5M264.7 1580.7h1.5M281.2 1580.7h1.5M321.6 1580.7h1.5M336.6 1580.7h3M350.1 1580.7h1.5M413 1580.7h1.5M68.4 1613.9h1.5M143.3 1613.9h1.5M150.8 1613.9h1.5M195.8 1613.9h1.5M219.7 1613.9h1.5M243.7 1613.9h1.5M249.7 1613.9h1.5M257.2 1613.9h1.5M303.7 1613.9h1.5M329.1 1613.9h1.5M354.6 1613.9h1.5M359.1 1613.9h1.5M366.6 1613.9h1.5M371.1 1613.9h3M383.1 1613.9h1.5M386.1 1613.9h1.5M413 1613.9h1.5M90.9 1647.1h1.5M117.8 1647.1h1.5M134.3 1647.1h1.5M143.3 1647.1h3M167.3 1647.1h1.5M171.8 1647.1h1.5M189.8 1647.1h1.5M216.7 1647.1h1.5M219.7 1647.1h1.5M222.7 1647.1h1.5M240.7 1647.1h1.5M270.7 1647.1h1.5M281.2 1647.1h1.5M300.7 1647.1h1.5M317.1 1647.1h1.5M327.6 1647.1h1.5M353.1 1647.1h1.5M359.1 1647.1h1.5M363.6 1647.1h1.5M404.1 1647.1h1.5M425 1647.1h1.5M440 1647.1h1.5M98.4 1680.3h1.5M138.8 1680.3h1.5M179.3 1680.3h1.5M195.8 1680.3h1.5M227.2 1680.3h1.5M257.2 1680.3h1.5M264.7 1680.3h1.5M273.7 1680.3h1.5M317.1 1680.3h1.5M332.1 1680.3h1.5M351.6 1680.3h3M356.1 1680.3h1.5M362.1 1680.3h1.5M366.6 1680.3h1.5M429.5 1680.3h1.5M104.4 1713.5h1.5M116.3 1713.5h1.5M180.8 1713.5h1.5M243.7 1713.5h1.5M261.7 1713.5h1.5M270.7 1713.5h1.5M300.7 1713.5h1.5M311.1 1713.5h1.5M321.6 1713.5h1.5M380.1 1713.5h1.5M384.6 1713.5h1.5M396.6 1713.5h4.5M426.5 1713.5h1.5M440 1713.5h1.5M90.9 1746.7h1.5M104.4 1746.7h1.5M152.3 1746.7h1.5M197.3 1746.7h1.5M224.2 1746.7h1.5M231.7 1746.7h1.5M242.2 1746.7h1.5M291.7 1746.7h1.5M294.7 1746.7h1.5M303.7 1746.7h1.5M327.6 1746.7h1.5M338.1 1746.7h1.5M386.1 1746.7h1.5M402.6 1746.7h1.5M411.5 1746.7h1.5M419 1746.7h1.5M422 1746.7h1.5M117.8 1779.9h1.5M155.3 1779.9h1.5M189.8 1779.9h1.5M212.2 1779.9h1.5M216.7 1779.9h1.5M234.7 1779.9h1.5M261.7 1779.9h1.5M272.2 1779.9h1.5M284.2 1779.9h1.5M291.7 1779.9h1.5M296.2 1779.9h1.5M324.6 1779.9h1.5M335.1 1779.9h1.5M401.1 1779.9h1.5M428 1779.9h1.5M453.5 1779.9h1.5M135.8 1813.1h1.5M144.8 1813.1h1.5M200.3 1813.1h1.5M240.7 1813.1h1.5M288.7 1813.1h1.5M324.6 1813.1h1.5M360.6 1813.1h1.5M366.6 1813.1h1.5M383.1 1813.1h1.5M399.6 1813.1h1.5M417.5 1813.1h1.5M441.5 1813.1h1.5M71.4 1846.3h3M108.9 1846.3h1.5M114.8 1846.3h1.5M117.8 1846.3h3M135.8 1846.3h1.5M138.8 1846.3h1.5M158.3 1846.3h1.5M173.3 1846.3h3M183.8 1846.3h1.5M218.2 1846.3h1.5M257.2 1846.3h1.5M321.6 1846.3h1.5M363.6 1846.3h1.5M371.1 1846.3h1.5M380.1 1846.3h3M384.6 1846.3h1.5M68.4 1879.5h1.5M78.9 1879.5h1.5M84.9 1879.5h1.5M92.4 1879.5h1.5M126.8 1879.5h1.5M164.3 1879.5h1.5M179.3 1879.5h1.5M182.3 1879.5h1.5M188.3 1879.5h1.5M191.3 1879.5h1.5M237.7 1879.5h1.5M300.7 1879.5h1.5M401.1 1879.5h1.5M423.5 1879.5h1.5M428 1879.5h1.5M107.4 1912.7h1.5M134.3 1912.7h1.5M140.3 1912.7h1.5M146.3 1912.7h1.5M165.8 1912.7h1.5M191.3 1912.7h1.5M195.8 1912.7h1.5M203.3 1912.7h1.5M233.2 1912.7h3M339.6 1912.7h1.5M348.6 1912.7h1.5M354.6 1912.7h1.5M368.1 1912.7h1.5M132.8 1945.9h1.5M138.8 1945.9h1.5M171.8 1945.9h1.5M183.8 1945.9h1.5M222.7 1945.9h1.5M239.2 1945.9h1.5M252.7 1945.9h1.5M258.7 1945.9h1.5M269.2 1945.9h1.5M290.2 1945.9h1.5M309.6 1945.9h1.5M327.6 1945.9h1.5M354.6 1945.9h1.5M383.1 1945.9h1.5M404.1 1945.9h1.5M408.5 1945.9h1.5M426.5 1945.9h1.5M140.3 1979.1h1.5M147.8 1979.1h1.5M159.8 1979.1h1.5M176.3 1979.1h1.5M195.8 1979.1h1.5M303.7 1979.1h1.5M347.1 1979.1h1.5M354.6 1979.1h1.5M407 1979.1h1.5" stroke="#f8efed" stroke-width="33.300000000000004"/>
<path d="M72.9 1481.1h1.5M135.8 1481.1h1.5M171.8 1481.1h1.5M188.3 1481.1h1.5M236.2 1481.1h1.5M251.2 1481.1h1.5M263.2 1481.1h1.5M267.7 1481.1h1.5M315.6 1481.1h1.5M342.6 1481.1h1.5M345.6 1481.1h1.5M350.1 1481.1h1.5M381.6 1481.1h3M411.5 1481.1h1.5M429.5 1481.1h1.5M438.5 1481.1h1.5M95.4 1514.3h1.5M170.3 1514.3h1.5M191.3 1514.3h1.5M203.3 1514.3h1.5M222.7 1514.3h1.5M254.2 1514.3h1.5M273.7 1514.3h1.5M348.6 1514.3h1.5M363.6 1514.3h1.5M432.5 1514.3h1.5M438.5 1514.3h1.5M149.3 1547.5h1.5M210.7 1547.5h1.5M222.7 1547.5h1.5M258.7 1547.5h1.5M272.2 1547.5h1.5M380.1 1547.5h1.5M416 1547.5h1.5M420.5 1547.5h1.5M107.4 1580.7h1.5M134.3 1580.7h1.5M159.8 1580.7h1.5M168.8 1580.7h1.5M209.3 1580.7h3M213.7 1580.7h1.5M221.2 1580.7h1.5M242.2 1580.7h1.5M249.7 1580.7h1.5M272.2 1580.7h1.5M279.7 1580.7h1.5M302.2 1580.7h1.5M326.1 1580.7h1.5M329.1 1580.7h1.5M342.6 1580.7h1.5M366.6 1580.7h1.5M384.6 1580.7h1.5M432.5 1580.7h1.5M438.5 1580.7h3M77.4 1613.9h1.5M111.8 1613.9h1.5M135.8 1613.9h1.5M162.8 1613.9h1.5M186.8 1613.9h1.5M212.2 1613.9h1.5M216.7 1613.9h1.5M255.7 1613.9h1.5M270.7 1613.9h1.5M344.1 1613.9h1.5M380.1 1613.9h1.5M384.6 1613.9h1.5M396.6 1613.9h3M411.5 1613.9h1.5M446 1613.9h1.5M101.4 1647.1h1.5M132.8 1647.1h1.5M138.8 1647.1h1.5M150.8 1647.1h1.5M168.8 1647.1h1.5M200.3 1647.1h3M231.7 1647.1h1.5M257.2 1647.1h1.5M261.7 1647.1h3M269.2 1647.1h1.5M299.2 1647.1h1.5M303.7 1647.1h1.5M314.1 1647.1h1.5M321.6 1647.1h1.5M329.1 1647.1h1.5M348.6 1647.1h3M375.6 1647.1h1.5M392.1 1647.1h1.5M402.6 1647.1h1.5M414.5 1647.1h1.5M443 1647.1h1.5M90.9 1680.3h1.5M102.9 1680.3h1.5M107.4 1680.3h1.5M144.8 1680.3h1.5M159.8 1680.3h1.5M168.8 1680.3h1.5M192.8 1680.3h1.5M272.2 1680.3h1.5M278.2 1680.3h1.5M318.6 1680.3h1.5M333.6 1680.3h1.5M380.1 1680.3h1.5M390.6 1680.3h3M395.1 1680.3h1.5M402.6 1680.3h1.5M416 1680.3h1.5M426.5 1680.3h1.5M435.5 1680.3h1.5M443 1680.3h1.5M452 1680.3h1.5M125.3 1713.5h1.5M200.3 1713.5h1.5M240.7 1713.5h1.5M254.2 1713.5h1.5M264.7 1713.5h1.5M315.6 1713.5h1.5M329.1 1713.5h1.5M332.1 1713.5h1.5M365.1 1713.5h1.5M137.3 1746.7h1.5M149.3 1746.7h1.5M155.3 1746.7h1.5M177.8 1746.7h1.5M180.8 1746.7h1.5M195.8 1746.7h1.5M225.7 1746.7h1.5M228.7 1746.7h1.5M249.7 1746.7h1.5M293.2 1746.7h1.5M309.6 1746.7h1.5M345.6 1746.7h1.5M351.6 1746.7h1.5M396.6 1746.7h3M452 1746.7h1.5M74.4 1779.9h1.5M152.3 1779.9h1.5M182.3 1779.9h1.5M200.3 1779.9h1.5M230.2 1779.9h1.5M321.6 1779.9h1.5M356.1 1779.9h1.5M374.1 1779.9h1.5M402.6 1779.9h1.5M104.4 1813.1h1.5M116.3 1813.1h1.5M164.3 1813.1h1.5M188.3 1813.1h1.5M221.2 1813.1h1.5M224.2 1813.1h1.5M231.7 1813.1h1.5M252.7 1813.1h3M296.2 1813.1h1.5M329.1 1813.1h1.5M332.1 1813.1h1.5M348.6 1813.1h1.5M396.6 1813.1h1.5M402.6 1813.1h1.5M447.5 1813.1h1.5M122.3 1846.3h1.5M128.3 1846.3h1.5M165.8 1846.3h1.5M194.3 1846.3h3M215.2 1846.3h1.5M284.2 1846.3h1.5M303.7 1846.3h1.5M335.1 1846.3h1.5M344.1 1846.3h1.5M348.6 1846.3h1.5M351.6 1846.3h1.5M365.1 1846.3h1.5M450.5 1846.3h1.5M74.4 1879.5h1.5M86.4 1879.5h1.5M90.9 1879.5h1.5M137.3 1879.5h1.5M168.8 1879.5h3M203.3 1879.5h1.5M240.7 1879.5h1.5M249.7 1879.5h1.5M284.2 1879.5h1.5M287.2 1879.5h1.5M390.6 1879.5h1.5M426.5 1879.5h1.5M438.5 1879.5h1.5M116.3 1912.7h1.5M138.8 1912.7h1.5M155.3 1912.7h1.5M189.8 1912.7h1.5M198.8 1912.7h1.5M219.7 1912.7h1.5M225.7 1912.7h1.5M266.2 1912.7h1.5M329.1 1912.7h1.5M396.6 1912.7h1.5M417.5 1912.7h1.5M108.9 1945.9h1.5M140.3 1945.9h1.5M144.8 1945.9h1.5M179.3 1945.9h1.5M195.8 1945.9h1.5M240.7 1945.9h1.5M261.7 1945.9h1.5M338.1 1945.9h1.5M341.1 1945.9h1.5M375.6 1945.9h1.5M420.5 1945.9h1.5M425 1945.9h1.5M447.5 1945.9h1.5M453.5 1945.9h1.5M90.9 1979.1h1.5M120.8 1979.1h1.5M155.3 1979.1h1.5M203.3 1979.1h3M240.7 1979.1h1.5M251.2 1979.1h1.5M255.7 1979.1h1.5M294.7 1979.1h1.5M315.6 1979.1h1.5M384.6 1979.1h1.5M413 1979.1h1.5M447.5 1979.1h1.5" stroke="#f6ddd6" stroke-width="33.300000000000004"/>
<path d="M114.8 1481.1h1.5M126.8 1481.1h1.5M132.8 1481.1h1.5M155.3 1481.1h1.5M161.3 1481.1h1.5M213.7 1481.1h1.5M216.7 1481.1h1.5M224.2 1481.1h1.5M237.7 1481.1h1.5M240.7 1481.1h1.5M302.2 1481.1h1.5M321.6 1481.1h1.5M327.6 1481.1h1.5M377.1 1481.1h1.5M384.6 1481.1h1.5M398.1 1481.1h1.5M416 1481.1h1.5M423.5 1481.1h1.5M440 1481.1h1.5M155.3 1514.3h1.5M174.8 1514.3h1.5M185.3 1514.3h1.5M201.8 1514.3h1.5M224.2 1514.3h1.5M227.2 1514.3h1.5M300.7 1514.3h3M338.1 1514.3h1.5M344.1 1514.3h1.5M356.1 1514.3h1.5M362.1 1514.3h1.5M386.1 1514.3h1.5M399.6 1514.3h1.5M402.6 1514.3h1.5M408.5 1514.3h1.5M413 1514.3h1.5M140.3 1547.5h1.5M170.3 1547.5h1.5M200.3 1547.5h1.5M227.2 1547.5h1.5M239.2 1547.5h1.5M254.2 1547.5h1.5M300.7 1547.5h1.5M317.1 1547.5h1.5M339.6 1547.5h3M362.1 1547.5h1.5M368.1 1547.5h1.5M378.6 1547.5h1.5M402.6 1547.5h1.5M407 1547.5h1.5M434 1547.5h1.5M443 1547.5h1.5M105.9 1580.7h1.5M128.3 1580.7h1.5M179.3 1580.7h3M192.8 1580.7h1.5M201.8 1580.7h1.5M219.7 1580.7h1.5M228.7 1580.7h1.5M260.2 1580.7h1.5M288.7 1580.7h1.5M291.7 1580.7h1.5M309.6 1580.7h1.5M327.6 1580.7h1.5M330.6 1580.7h1.5M359.1 1580.7h1.5M420.5 1580.7h1.5M101.4 1613.9h1.5M131.3 1613.9h1.5M134.3 1613.9h1.5M138.8 1613.9h3M215.2 1613.9h1.5M230.2 1613.9h1.5M237.7 1613.9h1.5M267.7 1613.9h1.5M299.2 1613.9h1.5M429.5 1613.9h1.5M453.5 1613.9h1.5M108.9 1647.1h1.5M123.8 1647.1h1.5M165.8 1647.1h1.5M185.3 1647.1h1.5M245.2 1647.1h1.5M260.2 1647.1h1.5M291.7 1647.1h1.5M324.6 1647.1h1.5M354.6 1647.1h1.5M366.6 1647.1h1.5M378.6 1647.1h1.5M123.8 1680.3h1.5M224.2 1680.3h1.5M270.7 1680.3h1.5M323.1 1680.3h1.5M341.1 1680.3h1.5M368.1 1680.3h1.5M377.1 1680.3h1.5M413 1680.3h1.5M419 1680.3h1.5M423.5 1680.3h1.5M441.5 1680.3h1.5M107.4 1713.5h1.5M114.8 1713.5h1.5M122.3 1713.5h1.5M150.8 1713.5h1.5M182.3 1713.5h1.5M198.8 1713.5h1.5M221.2 1713.5h1.5M225.7 1713.5h3M233.2 1713.5h1.5M245.2 1713.5h1.5M320.1 1713.5h1.5M401.1 1713.5h1.5M410 1713.5h1.5M414.5 1713.5h1.5M420.5 1713.5h1.5M431 1713.5h1.5M452 1713.5h1.5M81.9 1746.7h3M125.3 1746.7h1.5M165.8 1746.7h1.5M260.2 1746.7h1.5M321.6 1746.7h1.5M330.6 1746.7h1.5M360.6 1746.7h1.5M371.1 1746.7h3M377.1 1746.7h1.5M405.6 1746.7h1.5M413 1746.7h1.5M425 1746.7h1.5M128.3 1779.9h1.5M144.8 1779.9h1.5M149.3 1779.9h1.5M170.3 1779.9h1.5M206.3 1779.9h1.5M240.7 1779.9h1.5M243.7 1779.9h1.5M249.7 1779.9h1.5M290.2 1779.9h1.5M294.7 1779.9h1.5M341.1 1779.9h1.5M347.1 1779.9h1.5M365.1 1779.9h3M377.1 1779.9h1.5M380.1 1779.9h1.5M386.1 1779.9h1.5M389.1 1779.9h1.5M396.6 1779.9h1.5M399.6 1779.9h1.5M441.5 1779.9h1.5M81.9 1813.1h1.5M165.8 1813.1h1.5M186.8 1813.1h1.5M189.8 1813.1h1.5M210.7 1813.1h1.5M218.2 1813.1h1.5M242.2 1813.1h3M266.2 1813.1h1.5M311.1 1813.1h1.5M317.1 1813.1h1.5M362.1 1813.1h1.5M371.1 1813.1h1.5M392.1 1813.1h1.5M414.5 1813.1h1.5M419 1813.1h1.5M429.5 1813.1h1.5M450.5 1813.1h1.5M95.4 1846.3h1.5M111.8 1846.3h1.5M203.3 1846.3h1.5M225.7 1846.3h1.5M228.7 1846.3h1.5M231.7 1846.3h1.5M255.7 1846.3h1.5M300.7 1846.3h1.5M327.6 1846.3h1.5M330.6 1846.3h1.5M347.1 1846.3h1.5M350.1 1846.3h1.5M372.6 1846.3h1.5M414.5 1846.3h1.5M437 1846.3h1.5M440 1846.3h1.5M128.3 1879.5h1.5M204.8 1879.5h1.5M216.7 1879.5h1.5M233.2 1879.5h1.5M246.7 1879.5h1.5M257.2 1879.5h1.5M261.7 1879.5h3M267.7 1879.5h1.5M293.2 1879.5h1.5M347.1 1879.5h1.5M362.1 1879.5h1.5M399.6 1879.5h1.5M402.6 1879.5h1.5M65.4 1912.7h1.5M71.4 1912.7h1.5M186.8 1912.7h1.5M209.3 1912.7h1.5M239.2 1912.7h1.5M302.2 1912.7h1.5M327.6 1912.7h1.5M344.1 1912.7h1.5M371.1 1912.7h1.5M374.1 1912.7h1.5M425 1912.7h1.5M434 1912.7h1.5M440 1912.7h1.5M447.5 1912.7h1.5M135.8 1945.9h1.5M168.8 1945.9h3M180.8 1945.9h1.5M197.3 1945.9h1.5M224.2 1945.9h1.5M242.2 1945.9h1.5M281.2 1945.9h1.5M326.1 1945.9h1.5M357.6 1945.9h1.5M401.1 1945.9h1.5M410 1945.9h1.5M416 1945.9h1.5M443 1945.9h1.5M167.3 1979.1h1.5M275.2 1979.1h1.5M290.2 1979.1h1.5M296.2 1979.1h1.5M317.1 1979.1h1.5M369.6 1979.1h1.5M383.1 1979.1h1.5M386.1 1979.1h1.5M411.5 1979.1h1.5M450.5 1979.1h1.5" stroke="#f3cac0" stroke-width="33.300000000000004"/>
<path d="M74.4 1481.1h1.5M107.4 1481.1h1.5M122.3 1481.1h1.5M128.3 1481.1h1.5M168.8 1481.1h1.5M243.7 1481.1h1.5M276.7 1481.1h1.5M291.7 1481.1h3M300.7 1481.1h1.5M314.1 1481.1h1.5M329.1 1481.1h1.5M336.6 1481.1h1.5M348.6 1481.1h1.5M354.6 1481.1h1.5M414.5 1481.1h1.5M434 1481.1h1.5M74.4 1514.3h1.5M101.4 1514.3h1.5M128.3 1514.3h1.5M225.7 1514.3h1.5M228.7 1514.3h1.5M275.2 1514.3h1.5M332.1 1514.3h1.5M377.1 1514.3h1.5M393.6 1514.3h1.5M111.8 1547.5h1.5M122.3 1547.5h1.5M132.8 1547.5h1.5M164.3 1547.5h1.5M252.7 1547.5h1.5M347.1 1547.5h1.5M372.6 1547.5h1.5M377.1 1547.5h1.5M393.6 1547.5h1.5M401.1 1547.5h1.5M405.6 1547.5h1.5M411.5 1547.5h1.5M444.5 1547.5h1.5M125.3 1580.7h1.5M132.8 1580.7h1.5M140.3 1580.7h1.5M186.8 1580.7h1.5M222.7 1580.7h1.5M231.7 1580.7h1.5M267.7 1580.7h1.5M293.2 1580.7h1.5M333.6 1580.7h1.5M378.6 1580.7h1.5M447.5 1580.7h1.5M107.4 1613.9h1.5M129.8 1613.9h1.5M144.8 1613.9h1.5M180.8 1613.9h1.5M185.3 1613.9h1.5M189.8 1613.9h1.5M198.8 1613.9h1.5M210.7 1613.9h1.5M231.7 1613.9h1.5M251.2 1613.9h1.5M260.2 1613.9h1.5M273.7 1613.9h1.5M309.6 1613.9h3M317.1 1613.9h1.5M335.1 1613.9h1.5M351.6 1613.9h1.5M356.1 1613.9h1.5M362.1 1613.9h1.5M390.6 1613.9h3M420.5 1613.9h1.5M438.5 1613.9h1.5M443 1613.9h1.5M452 1613.9h1.5M198.8 1647.1h1.5M203.3 1647.1h1.5M227.2 1647.1h1.5M266.2 1647.1h1.5M273.7 1647.1h3M278.2 1647.1h3M342.6 1647.1h1.5M407 1647.1h1.5M438.5 1647.1h1.5M452 1647.1h1.5M74.4 1680.3h1.5M177.8 1680.3h1.5M180.8 1680.3h3M197.3 1680.3h1.5M212.2 1680.3h1.5M225.7 1680.3h1.5M230.2 1680.3h1.5M260.2 1680.3h1.5M275.2 1680.3h1.5M314.1 1680.3h1.5M326.1 1680.3h1.5M357.6 1680.3h1.5M371.1 1680.3h1.5M404.1 1680.3h1.5M408.5 1680.3h4.5M420.5 1680.3h1.5M453.5 1680.3h1.5M132.8 1713.5h1.5M138.8 1713.5h1.5M189.8 1713.5h1.5M230.2 1713.5h1.5M258.7 1713.5h1.5M393.6 1713.5h1.5M413 1713.5h1.5M425 1713.5h1.5M179.3 1746.7h1.5M288.7 1746.7h1.5M344.1 1746.7h1.5M357.6 1746.7h1.5M369.6 1746.7h1.5M431 1746.7h1.5M450.5 1746.7h1.5M108.9 1779.9h1.5M126.8 1779.9h1.5M165.8 1779.9h3M186.8 1779.9h1.5M231.7 1779.9h1.5M248.2 1779.9h1.5M279.7 1779.9h1.5M303.7 1779.9h1.5M317.1 1779.9h1.5M369.6 1779.9h1.5M378.6 1779.9h1.5M381.6 1779.9h1.5M425 1779.9h1.5M438.5 1779.9h3M125.3 1813.1h1.5M177.8 1813.1h1.5M195.8 1813.1h1.5M257.2 1813.1h1.5M264.7 1813.1h1.5M275.2 1813.1h1.5M338.1 1813.1h3M350.1 1813.1h1.5M354.6 1813.1h1.5M368.1 1813.1h3M380.1 1813.1h1.5M426.5 1813.1h1.5M188.3 1846.3h1.5M204.8 1846.3h1.5M243.7 1846.3h3M264.7 1846.3h1.5M311.1 1846.3h1.5M329.1 1846.3h1.5M375.6 1846.3h3M398.1 1846.3h3M104.4 1879.5h1.5M111.8 1879.5h1.5M140.3 1879.5h1.5M150.8 1879.5h1.5M155.3 1879.5h1.5M174.8 1879.5h1.5M288.7 1879.5h1.5M315.6 1879.5h1.5M360.6 1879.5h1.5M371.1 1879.5h1.5M374.1 1879.5h1.5M386.1 1879.5h1.5M411.5 1879.5h1.5M429.5 1879.5h1.5M450.5 1879.5h1.5M84.9 1912.7h1.5M93.9 1912.7h1.5M122.3 1912.7h1.5M132.8 1912.7h1.5M185.3 1912.7h1.5M212.2 1912.7h1.5M222.7 1912.7h1.5M254.2 1912.7h1.5M290.2 1912.7h1.5M317.1 1912.7h1.5M333.6 1912.7h1.5M341.1 1912.7h1.5M393.6 1912.7h1.5M116.3 1945.9h1.5M246.7 1945.9h1.5M288.7 1945.9h1.5M297.7 1945.9h1.5M303.7 1945.9h1.5M311.1 1945.9h1.5M335.1 1945.9h1.5M342.6 1945.9h1.5M371.1 1945.9h1.5M405.6 1945.9h1.5M434 1945.9h3M446 1945.9h1.5M452 1945.9h1.5M188.3 1979.1h1.5M258.7 1979.1h1.5M270.7 1979.1h1.5M282.7 1979.1h1.5M321.6 1979.1h3M327.6 1979.1h1.5M348.6 1979.1h1.5M351.6 1979.1h1.5M365.1 1979.1h1.5M368.1 1979.1h1.5M387.6 1979.1h3M392.1 1979.1h1.5M429.5 1979.1h3M434 1979.1h1.5" stroke="#f1b7a9" stroke-width="33.300000000000004"/>
<path d="M111.8 1481.1h1.5M144.8 1481.1h1.5M225.7 1481.1h1.5M281.2 1481.1h1.5M386.1 1481.1h1.5M395.1 1481.1h1.5M425 1481.1h3M164.3 1514.3h1.5M212.2 1514.3h1.5M216.7 1514.3h1.5M246.7 1514.3h1.5M255.7 1514.3h1.5M290.2 1514.3h1.5M309.6 1514.3h1.5M317.1 1514.3h1.5M321.6 1514.3h3M353.1 1514.3h1.5M357.6 1514.3h1.5M365.1 1514.3h1.5M383.1 1514.3h1.5M387.6 1514.3h1.5M401.1 1514.3h1.5M428 1514.3h1.5M435.5 1514.3h1.5M189.8 1547.5h1.5M242.2 1547.5h1.5M279.7 1547.5h1.5M290.2 1547.5h1.5M365.1 1547.5h1.5M371.1 1547.5h1.5M389.1 1547.5h1.5M435.5 1547.5h1.5M182.3 1580.7h1.5M224.2 1580.7h1.5M344.1 1580.7h1.5M365.1 1580.7h1.5M368.1 1580.7h3M374.1 1580.7h1.5M389.1 1580.7h1.5M407 1580.7h1.5M423.5 1580.7h1.5M452 1580.7h1.5M132.8 1613.9h1.5M156.8 1613.9h1.5M164.3 1613.9h1.5M236.2 1613.9h1.5M279.7 1613.9h1.5M330.6 1613.9h1.5M338.1 1613.9h1.5M368.1 1613.9h1.5M395.1 1613.9h1.5M431 1613.9h1.5M444.5 1613.9h1.5M173.3 1647.1h1.5M177.8 1647.1h1.5M225.7 1647.1h1.5M294.7 1647.1h1.5M323.1 1647.1h1.5M339.6 1647.1h1.5M357.6 1647.1h1.5M374.1 1647.1h1.5M393.6 1647.1h3M398.1 1647.1h1.5M410 1647.1h1.5M428 1647.1h1.5M450.5 1647.1h1.5M111.8 1680.3h1.5M203.3 1680.3h1.5M239.2 1680.3h1.5M290.2 1680.3h1.5M299.2 1680.3h1.5M315.6 1680.3h1.5M320.1 1680.3h1.5M339.6 1680.3h1.5M428 1680.3h1.5M135.8 1713.5h1.5M174.8 1713.5h1.5M213.7 1713.5h1.5M248.2 1713.5h1.5M257.2 1713.5h1.5M366.6 1713.5h1.5M386.1 1713.5h1.5M404.1 1713.5h1.5M419 1713.5h1.5M428 1713.5h3M444.5 1713.5h1.5M101.4 1746.7h1.5M170.3 1746.7h1.5M188.3 1746.7h1.5M198.8 1746.7h1.5M240.7 1746.7h1.5M243.7 1746.7h1.5M246.7 1746.7h1.5M258.7 1746.7h1.5M279.7 1746.7h1.5M393.6 1746.7h1.5M116.3 1779.9h1.5M161.3 1779.9h1.5M168.8 1779.9h1.5M195.8 1779.9h1.5M203.3 1779.9h1.5M222.7 1779.9h1.5M252.7 1779.9h1.5M276.7 1779.9h1.5M360.6 1779.9h1.5M383.1 1779.9h1.5M392.1 1779.9h1.5M423.5 1779.9h1.5M435.5 1779.9h3M450.5 1779.9h1.5M134.3 1813.1h1.5M204.8 1813.1h1.5M230.2 1813.1h1.5M279.7 1813.1h1.5M390.6 1813.1h1.5M434 1813.1h1.5M144.8 1846.3h1.5M161.3 1846.3h1.5M164.3 1846.3h1.5M177.8 1846.3h1.5M260.2 1846.3h1.5M279.7 1846.3h1.5M309.6 1846.3h1.5M323.1 1846.3h1.5M357.6 1846.3h1.5M387.6 1846.3h1.5M401.1 1846.3h1.5M432.5 1846.3h1.5M447.5 1846.3h1.5M116.3 1879.5h1.5M147.8 1879.5h1.5M162.8 1879.5h1.5M180.8 1879.5h1.5M197.3 1879.5h1.5M227.2 1879.5h1.5M279.7 1879.5h1.5M297.7 1879.5h1.5M338.1 1879.5h1.5M420.5 1879.5h1.5M434 1879.5h1.5M117.8 1912.7h1.5M149.3 1912.7h1.5M180.8 1912.7h3M231.7 1912.7h1.5M242.2 1912.7h1.5M248.2 1912.7h1.5M260.2 1912.7h1.5M303.7 1912.7h1.5M314.1 1912.7h1.5M336.6 1912.7h1.5M413 1912.7h1.5M422 1912.7h1.5M431 1912.7h1.5M90.9 1945.9h1.5M111.8 1945.9h1.5M117.8 1945.9h1.5M165.8 1945.9h1.5M213.7 1945.9h1.5M230.2 1945.9h1.5M249.7 1945.9h1.5M275.2 1945.9h1.5M315.6 1945.9h1.5M321.6 1945.9h1.5M330.6 1945.9h1.5M372.6 1945.9h1.5M377.1 1945.9h1.5M419 1945.9h1.5M116.3 1979.1h3M156.8 1979.1h1.5M180.8 1979.1h3M213.7 1979.1h1.5M222.7 1979.1h1.5M225.7 1979.1h1.5M230.2 1979.1h1.5M252.7 1979.1h1.5M272.2 1979.1h1.5M288.7 1979.1h1.5M314.1 1979.1h1.5M326.1 1979.1h1.5M335.1 1979.1h1.5M363.6 1979.1h1.5M374.1 1979.1h1.5M401.1 1979.1h1.5M410 1979.1h1.5M437 1979.1h1.5M449 1979.1h1.5M453.5 1979.1h1.5" stroke="#efa592" stroke-width="33.300000000000004"/>
<path d="M117.8 1481.1h1.5M131.3 1481.1h1.5M179.3 1481.1h1.5M203.3 1481.1h1.5M230.2 1481.1h1.5M297.7 1481.1h1.5M332.1 1481.1h1.5M344.1 1481.1h1.5M401.1 1481.1h1.5M435.5 1481.1h1.5M443 1481.1h1.5M111.8 1514.3h1.5M251.2 1514.3h1.5M279.7 1514.3h1.5M297.7 1514.3h1.5M374.1 1514.3h1.5M380.1 1514.3h3M390.6 1514.3h3M395.1 1514.3h1.5M398.1 1514.3h1.5M434 1514.3h1.5M440 1514.3h1.5M126.8 1547.5h1.5M165.8 1547.5h1.5M174.8 1547.5h1.5M204.8 1547.5h1.5M230.2 1547.5h1.5M249.7 1547.5h3M291.7 1547.5h3M396.6 1547.5h1.5M399.6 1547.5h1.5M413 1547.5h1.5M425 1547.5h1.5M428 1547.5h4.5M165.8 1580.7h1.5M225.7 1580.7h1.5M230.2 1580.7h1.5M251.2 1580.7h1.5M297.7 1580.7h1.5M332.1 1580.7h1.5M335.1 1580.7h1.5M372.6 1580.7h1.5M375.6 1580.7h1.5M387.6 1580.7h1.5M395.1 1580.7h1.5M399.6 1580.7h1.5M410 1580.7h1.5M428 1580.7h1.5M174.8 1613.9h1.5M204.8 1613.9h1.5M209.3 1613.9h1.5M258.7 1613.9h1.5M321.6 1613.9h1.5M360.6 1613.9h1.5M401.1 1613.9h1.5M404.1 1613.9h1.5M416 1613.9h1.5M450.5 1613.9h1.5M116.3 1647.1h1.5M149.3 1647.1h1.5M155.3 1647.1h1.5M159.8 1647.1h1.5M251.2 1647.1h1.5M264.7 1647.1h1.5M288.7 1647.1h3M315.6 1647.1h1.5M326.1 1647.1h1.5M347.1 1647.1h1.5M416 1647.1h1.5M122.3 1680.3h1.5M126.8 1680.3h1.5M132.8 1680.3h1.5M149.3 1680.3h1.5M185.3 1680.3h1.5M213.7 1680.3h1.5M309.6 1680.3h1.5M335.1 1680.3h1.5M347.1 1680.3h1.5M369.6 1680.3h1.5M375.6 1680.3h1.5M386.1 1680.3h1.5M437 1680.3h1.5M444.5 1680.3h1.5M159.8 1713.5h1.5M165.8 1713.5h1.5M302.2 1713.5h1.5M333.6 1713.5h1.5M342.6 1713.5h1.5M369.6 1713.5h1.5M390.6 1713.5h1.5M435.5 1713.5h1.5M447.5 1713.5h1.5M107.4 1746.7h1.5M122.3 1746.7h1.5M144.8 1746.7h1.5M363.6 1746.7h3M387.6 1746.7h1.5M410 1746.7h1.5M417.5 1746.7h1.5M426.5 1746.7h1.5M114.8 1779.9h1.5M164.3 1779.9h1.5M173.3 1779.9h3M185.3 1779.9h1.5M188.3 1779.9h1.5M204.8 1779.9h1.5M228.7 1779.9h1.5M239.2 1779.9h1.5M285.7 1779.9h1.5M344.1 1779.9h3M362.1 1779.9h3M395.1 1779.9h1.5M411.5 1779.9h1.5M452 1779.9h1.5M126.8 1813.1h1.5M147.8 1813.1h3M167.3 1813.1h1.5M174.8 1813.1h1.5M191.3 1813.1h1.5M203.3 1813.1h1.5M227.2 1813.1h1.5M248.2 1813.1h3M260.2 1813.1h1.5M314.1 1813.1h1.5M326.1 1813.1h1.5M330.6 1813.1h1.5M347.1 1813.1h1.5M351.6 1813.1h1.5M425 1813.1h1.5M186.8 1846.3h1.5M224.2 1846.3h1.5M242.2 1846.3h1.5M251.2 1846.3h1.5M291.7 1846.3h1.5M315.6 1846.3h1.5M318.6 1846.3h1.5M333.6 1846.3h1.5M383.1 1846.3h1.5M389.1 1846.3h1.5M402.6 1846.3h1.5M429.5 1846.3h1.5M165.8 1879.5h1.5M212.2 1879.5h3M228.7 1879.5h1.5M251.2 1879.5h1.5M302.2 1879.5h1.5M330.6 1879.5h1.5M336.6 1879.5h1.5M344.1 1879.5h1.5M368.1 1879.5h1.5M378.6 1879.5h1.5M410 1879.5h1.5M413 1879.5h1.5M444.5 1879.5h1.5M101.4 1912.7h1.5M255.7 1912.7h1.5M279.7 1912.7h1.5M321.6 1912.7h1.5M369.6 1912.7h1.5M378.6 1912.7h1.5M392.1 1912.7h1.5M407 1912.7h3M419 1912.7h1.5M423.5 1912.7h1.5M432.5 1912.7h1.5M435.5 1912.7h1.5M182.3 1945.9h1.5M186.8 1945.9h1.5M231.7 1945.9h1.5M257.2 1945.9h1.5M266.2 1945.9h1.5M353.1 1945.9h1.5M360.6 1945.9h1.5M380.1 1945.9h1.5M395.1 1945.9h3M402.6 1945.9h1.5M431 1945.9h3M81.9 1979.1h1.5M170.3 1979.1h1.5M246.7 1979.1h1.5M312.6 1979.1h1.5M362.1 1979.1h1.5M366.6 1979.1h1.5M417.5 1979.1h1.5M425 1979.1h1.5" stroke="#ec927b" stroke-width="33.300000000000004"/>
<path d="M87.9 1481.1h1.5M165.8 1481.1h1.5M204.8 1481.1h1.5M233.2 1481.1h1.5M248.2 1481.1h1.5M255.7 1481.1h1.5M278.2 1481.1h3M284.2 1481.1h1.5M323.1 1481.1h1.5M372.6 1481.1h1.5M402.6 1481.1h1.5M410 1481.1h1.5M417.5 1481.1h1.5M432.5 1481.1h1.5M242.2 1514.3h1.5M335.1 1514.3h3M369.6 1514.3h1.5M417.5 1514.3h3M422 1514.3h1.5M446 1514.3h1.5M138.8 1547.5h1.5M167.3 1547.5h1.5M201.8 1547.5h1.5M237.7 1547.5h1.5M270.7 1547.5h1.5M315.6 1547.5h1.5M332.1 1547.5h1.5M351.6 1547.5h1.5M356.1 1547.5h1.5M111.8 1580.7h1.5M143.3 1580.7h1.5M212.2 1580.7h1.5M300.7 1580.7h1.5M396.6 1580.7h1.5M435.5 1580.7h1.5M441.5 1580.7h1.5M165.8 1613.9h1.5M168.8 1613.9h1.5M203.3 1613.9h1.5M213.7 1613.9h1.5M290.2 1613.9h1.5M320.1 1613.9h1.5M347.1 1613.9h1.5M417.5 1613.9h1.5M423.5 1613.9h1.5M426.5 1613.9h1.5M447.5 1613.9h1.5M194.3 1647.1h1.5M210.7 1647.1h1.5M246.7 1647.1h3M332.1 1647.1h1.5M386.1 1647.1h1.5M399.6 1647.1h1.5M417.5 1647.1h1.5M422 1647.1h1.5M429.5 1647.1h1.5M444.5 1647.1h1.5M152.3 1680.3h1.5M188.3 1680.3h3M248.2 1680.3h1.5M302.2 1680.3h1.5M381.6 1680.3h1.5M434 1680.3h1.5M440 1680.3h1.5M71.4 1713.5h1.5M101.4 1713.5h1.5M111.8 1713.5h1.5M117.8 1713.5h1.5M216.7 1713.5h1.5M231.7 1713.5h1.5M246.7 1713.5h1.5M279.7 1713.5h1.5M375.6 1713.5h1.5M423.5 1713.5h1.5M159.8 1746.7h1.5M182.3 1746.7h1.5M194.3 1746.7h1.5M227.2 1746.7h1.5M251.2 1746.7h1.5M266.2 1746.7h1.5M300.7 1746.7h1.5M341.1 1746.7h3M347.1 1746.7h3M384.6 1746.7h1.5M432.5 1746.7h1.5M435.5 1746.7h3M440 1746.7h1.5M159.8 1779.9h1.5M213.7 1779.9h1.5M245.2 1779.9h1.5M302.2 1779.9h1.5M330.6 1779.9h1.5M417.5 1779.9h1.5M107.4 1813.1h1.5M168.8 1813.1h1.5M237.7 1813.1h1.5M308.1 1813.1h1.5M333.6 1813.1h1.5M384.6 1813.1h1.5M110.4 1846.3h1.5M182.3 1846.3h1.5M185.3 1846.3h1.5M252.7 1846.3h1.5M360.6 1846.3h1.5M395.1 1846.3h1.5M413 1846.3h1.5M416 1846.3h1.5M425 1846.3h1.5M428 1846.3h1.5M431 1846.3h1.5M446 1846.3h1.5M129.8 1879.5h1.5M149.3 1879.5h1.5M201.8 1879.5h1.5M291.7 1879.5h1.5M317.1 1879.5h1.5M342.6 1879.5h1.5M359.1 1879.5h1.5M375.6 1879.5h1.5M389.1 1879.5h1.5M432.5 1879.5h1.5M110.4 1912.7h1.5M170.3 1912.7h1.5M251.2 1912.7h1.5M288.7 1912.7h1.5M291.7 1912.7h1.5M338.1 1912.7h1.5M377.1 1912.7h1.5M404.1 1912.7h1.5M243.7 1945.9h1.5M248.2 1945.9h1.5M272.2 1945.9h1.5M308.1 1945.9h1.5M333.6 1945.9h1.5M344.1 1945.9h1.5M366.6 1945.9h1.5M378.6 1945.9h1.5M386.1 1945.9h1.5M389.1 1945.9h1.5M392.1 1945.9h1.5M450.5 1945.9h1.5M107.4 1979.1h1.5M210.7 1979.1h1.5M224.2 1979.1h1.5M332.1 1979.1h1.5M420.5 1979.1h1.5M423.5 1979.1h1.5M426.5 1979.1h1.5M444.5 1979.1h1.5" stroke="#ea806b" stroke-width="33.300000000000004"/>
<path d="M150.8 1481.1h3M177.8 1481.1h1.5M212.2 1481.1h1.5M266.2 1481.1h1.5M272.2 1481.1h1.5M288.7 1481.1h1.5M333.6 1481.1h1.5M356.1 1481.1h3M422 1481.1h1.5M447.5 1481.1h1.5M453.5 1481.1h1.5M117.8 1514.3h1.5M165.8 1514.3h3M195.8 1514.3h1.5M341.1 1514.3h1.5M416 1514.3h1.5M117.8 1547.5h1.5M134.3 1547.5h1.5M179.3 1547.5h1.5M273.7 1547.5h1.5M297.7 1547.5h1.5M321.6 1547.5h1.5M360.6 1547.5h1.5M387.6 1547.5h1.5M447.5 1547.5h3M363.6 1580.7h1.5M371.1 1580.7h1.5M377.1 1580.7h1.5M416 1580.7h1.5M434 1580.7h1.5M443 1580.7h1.5M446 1580.7h1.5M105.9 1613.9h1.5M159.8 1613.9h1.5M170.3 1613.9h1.5M293.2 1613.9h1.5M332.1 1613.9h3M341.1 1613.9h1.5M365.1 1613.9h1.5M375.6 1613.9h1.5M387.6 1613.9h1.5M405.6 1613.9h1.5M441.5 1613.9h1.5M195.8 1647.1h1.5M224.2 1647.1h1.5M333.6 1647.1h1.5M371.1 1647.1h1.5M377.1 1647.1h1.5M383.1 1647.1h1.5M405.6 1647.1h1.5M431 1647.1h3M293.2 1680.3h1.5M338.1 1680.3h1.5M363.6 1680.3h1.5M387.6 1680.3h1.5M405.6 1680.3h1.5M446 1680.3h1.5M90.9 1713.5h1.5M144.8 1713.5h1.5M212.2 1713.5h1.5M252.7 1713.5h1.5M260.2 1713.5h1.5M323.1 1713.5h1.5M381.6 1713.5h1.5M441.5 1713.5h1.5M117.8 1746.7h1.5M297.7 1746.7h1.5M332.1 1746.7h1.5M449 1746.7h1.5M180.8 1779.9h1.5M273.7 1779.9h3M281.2 1779.9h1.5M354.6 1779.9h1.5M446 1779.9h1.5M185.3 1813.1h1.5M245.2 1813.1h1.5M287.2 1813.1h1.5M353.1 1813.1h1.5M359.1 1813.1h1.5M375.6 1813.1h1.5M411.5 1813.1h1.5M435.5 1813.1h1.5M446 1813.1h1.5M170.3 1846.3h1.5M273.7 1846.3h1.5M302.2 1846.3h1.5M338.1 1846.3h1.5M356.1 1846.3h1.5M405.6 1846.3h1.5M449 1846.3h1.5M134.3 1879.5h1.5M275.2 1879.5h1.5M323.1 1879.5h1.5M363.6 1879.5h1.5M383.1 1879.5h1.5M393.6 1879.5h1.5M398.1 1879.5h1.5M405.6 1879.5h1.5M422 1879.5h1.5M443 1879.5h1.5M453.5 1879.5h1.5M342.6 1912.7h1.5M357.6 1912.7h1.5M398.1 1912.7h1.5M405.6 1912.7h1.5M410 1912.7h1.5M446 1912.7h1.5M99.9 1945.9h1.5M150.8 1945.9h1.5M155.3 1945.9h1.5M356.1 1945.9h1.5M381.6 1945.9h1.5M422 1945.9h1.5M134.3 1979.1h1.5M228.7 1979.1h1.5M249.7 1979.1h1.5M293.2 1979.1h1.5M297.7 1979.1h1.5M309.6 1979.1h1.5M336.6 1979.1h1.5M357.6 1979.1h1.5M405.6 1979.1h1.5" stroke="#e86e5c" stroke-width="33.300000000000004"/>
<path d="M182.3 1481.1h1.5M290.2 1481.1h1.5M374.1 1481.1h1.5M396.6 1481.1h1.5M248.2 1514.3h1.5M243.7 1547.5h1.5M395.1 1547.5h1.5M398.1 1547.5h1.5M441.5 1547.5h1.5M155.3 1580.7h1.5M206.3 1580.7h1.5M243.7 1580.7h1.5M296.2 1580.7h1.5M393.6 1580.7h1.5M422 1580.7h1.5M431 1580.7h1.5M240.7 1613.9h1.5M248.2 1613.9h1.5M315.6 1613.9h1.5M357.6 1613.9h1.5M111.8 1647.1h1.5M242.2 1647.1h1.5M360.6 1647.1h1.5M368.1 1647.1h1.5M380.1 1647.1h1.5M266.2 1680.3h1.5M303.7 1680.3h1.5M321.6 1680.3h1.5M344.1 1680.3h1.5M393.6 1680.3h1.5M417.5 1680.3h1.5M224.2 1713.5h1.5M239.2 1713.5h1.5M242.2 1713.5h1.5M297.7 1713.5h1.5M357.6 1713.5h1.5M389.1 1713.5h1.5M236.2 1746.7h1.5M264.7 1746.7h1.5M281.2 1746.7h1.5M335.1 1746.7h1.5M389.1 1746.7h1.5M444.5 1746.7h1.5M315.6 1779.9h1.5M333.6 1779.9h1.5M422 1779.9h1.5M443 1779.9h3M302.2 1813.1h1.5M378.6 1813.1h1.5M389.1 1813.1h1.5M395.1 1813.1h1.5M266.2 1846.3h1.5M297.7 1846.3h1.5M386.1 1846.3h1.5M390.6 1846.3h1.5M410 1846.3h1.5M417.5 1846.3h1.5M270.7 1879.5h1.5M299.2 1879.5h1.5M341.1 1879.5h1.5M365.1 1879.5h1.5M372.6 1879.5h1.5M417.5 1879.5h1.5M435.5 1879.5h1.5M447.5 1879.5h1.5M227.2 1912.7h1.5M363.6 1912.7h1.5M380.1 1912.7h1.5M387.6 1912.7h1.5M429.5 1912.7h1.5M164.3 1945.9h1.5M227.2 1945.9h1.5M428 1945.9h1.5M444.5 1945.9h1.5M71.4 1979.1h1.5M141.8 1979.1h1.5M179.3 1979.1h1.5M248.2 1979.1h1.5M329.1 1979.1h1.5M435.5 1979.1h1.5" stroke="#e65d4e" stroke-width="33.300000000000004"/>
<path d="M170.3 1481.1h1.5M249.7 1481.1h1.5M363.6 1481.1h1.5M428 1481.1h1.5M431 1481.1h1.5M444.5 1481.1h1.5M450.5 1481.1h1.5M144.8 1514.3h1.5M431 1514.3h1.5M264.7 1547.5h1.5M281.2 1547.5h1.5M333.6 1547.5h1.5M363.6 1547.5h1.5M446 1547.5h1.5M195.8 1580.7h1.5M227.2 1580.7h1.5M239.2 1580.7h1.5M429.5 1580.7h1.5M90.9 1613.9h1.5M246.7 1613.9h1.5M326.1 1613.9h1.5M393.6 1613.9h1.5M164.3 1647.1h1.5M335.1 1647.1h1.5M344.1 1647.1h1.5M356.1 1647.1h1.5M453.5 1647.1h1.5M134.3 1680.3h1.5M389.1 1680.3h1.5M401.1 1680.3h1.5M422 1680.3h1.5M155.3 1713.5h1.5M170.3 1713.5h1.5M185.3 1713.5h1.5M195.8 1713.5h1.5M272.2 1713.5h1.5M330.6 1713.5h1.5M335.1 1713.5h1.5M422 1713.5h1.5M446 1713.5h1.5M356.1 1746.7h1.5M395.1 1746.7h1.5M420.5 1746.7h1.5M107.4 1779.9h1.5M111.8 1779.9h1.5M210.7 1779.9h1.5M246.7 1779.9h1.5M305.2 1779.9h1.5M432.5 1779.9h1.5M101.4 1846.3h1.5M212.2 1846.3h1.5M369.6 1846.3h1.5M396.6 1846.3h1.5M443 1846.3h1.5M138.8 1879.5h1.5M356.1 1879.5h1.5M369.6 1879.5h1.5M404.1 1879.5h1.5M200.3 1912.7h1.5M252.7 1912.7h1.5M389.1 1912.7h1.5M443 1912.7h1.5M449 1912.7h1.5M134.3 1945.9h1.5M188.3 1945.9h1.5M302.2 1945.9h1.5M336.6 1945.9h1.5M359.1 1945.9h1.5M390.6 1945.9h1.5M411.5 1945.9h3M440 1945.9h1.5M101.4 1979.1h3M185.3 1979.1h1.5M189.8 1979.1h1.5M239.2 1979.1h1.5M243.7 1979.1h1.5M278.2 1979.1h1.5M375.6 1979.1h1.5M441.5 1979.1h1.5M446 1979.1h1.5" stroke="#e44b3f" stroke-width="33.300000000000004"/>
<path d="M159.8 1481.1h1.5M246.7 1481.1h1.5M264.7 1481.1h1.5M326.1 1481.1h1.5M360.6 1481.1h1.5M375.6 1481.1h1.5M393.6 1481.1h1.5M215.2 1514.3h1.5M375.6 1514.3h1.5M423.5 1514.3h1.5M443 1514.3h1.5M246.7 1547.5h1.5M410 1547.5h1.5M422 1547.5h1.5M381.6 1580.7h1.5M444.5 1580.7h1.5M288.7 1613.9h1.5M312.6 1613.9h1.5M389.1 1613.9h1.5M243.7 1647.1h1.5M387.6 1647.1h1.5M396.6 1647.1h1.5M164.3 1680.3h1.5M378.6 1680.3h1.5M95.4 1713.5h1.5M326.1 1713.5h1.5M360.6 1713.5h1.5M377.1 1713.5h1.5M248.2 1746.7h1.5M326.1 1746.7h1.5M446 1746.7h1.5M323.1 1779.9h1.5M357.6 1779.9h1.5M371.1 1779.9h1.5M387.6 1779.9h1.5M393.6 1779.9h1.5M404.1 1779.9h1.5M429.5 1779.9h1.5M111.8 1813.1h1.5M201.8 1813.1h1.5M291.7 1813.1h1.5M297.7 1813.1h1.5M387.6 1813.1h1.5M449 1813.1h1.5M150.8 1846.3h1.5M362.1 1846.3h1.5M366.6 1846.3h1.5M333.6 1879.5h1.5M111.8 1912.7h1.5M264.7 1912.7h1.5M273.7 1912.7h3M365.1 1945.9h1.5M399.6 1945.9h1.5M149.3 1979.1h1.5M330.6 1979.1h1.5" stroke="#e23931" stroke-width="33.300000000000004"/>
<path d="M185.3 1481.1h1.5M201.8 1481.1h1.5M305.2 1481.1h3M362.1 1481.1h1.5M366.6 1481.1h1.5M378.6 1481.1h1.5M387.6 1481.1h1.5M390.6 1481.1h1.5M413 1481.1h1.5M441.5 1481.1h1.5M446 1481.1h1.5M449 1481.1h1.5M239.2 1514.3h1.5M288.7 1514.3h1.5M305.2 1514.3h3M326.1 1514.3h1.5M396.6 1514.3h1.5M429.5 1514.3h1.5M441.5 1514.3h1.5M444.5 1514.3h1.5M449 1514.3h1.5M452 1514.3h1.5M159.8 1547.5h1.5M185.3 1547.5h1.5M195.8 1547.5h1.5M224.2 1547.5h1.5M305.2 1547.5h3M311.1 1547.5h1.5M326.1 1547.5h1.5M432.5 1547.5h1.5M101.4 1580.7h1.5M305.2 1580.7h3M362.1 1580.7h1.5M386.1 1580.7h1.5M155.3 1613.9h1.5M224.2 1613.9h1.5M242.2 1613.9h1.5M264.7 1613.9h1.5M272.2 1613.9h1.5M291.7 1613.9h1.5M297.7 1613.9h1.5M302.2 1613.9h1.5M305.2 1613.9h3M323.1 1613.9h1.5M363.6 1613.9h1.5M399.6 1613.9h1.5M402.6 1613.9h1.5M422 1613.9h1.5M432.5 1613.9h1.5M449 1613.9h1.5M297.7 1647.1h1.5M302.2 1647.1h1.5M305.2 1647.1h3M341.1 1647.1h1.5M362.1 1647.1h1.5M369.6 1647.1h1.5M413 1647.1h1.5M434 1647.1h1.5M441.5 1647.1h1.5M446 1647.1h1.5M449 1647.1h1.5M117.8 1680.3h1.5M165.8 1680.3h1.5M243.7 1680.3h1.5M279.7 1680.3h1.5M288.7 1680.3h1.5M291.7 1680.3h1.5M297.7 1680.3h1.5M305.2 1680.3h3M360.6 1680.3h1.5M365.1 1680.3h1.5M396.6 1680.3h1.5M399.6 1680.3h1.5M431 1680.3h1.5M449 1680.3h1.5M210.7 1713.5h1.5M222.7 1713.5h1.5M251.2 1713.5h1.5M273.7 1713.5h1.5M305.2 1713.5h3M309.6 1713.5h1.5M363.6 1713.5h1.5M371.1 1713.5h1.5M387.6 1713.5h1.5M395.1 1713.5h1.5M417.5 1713.5h1.5M432.5 1713.5h1.5M443 1713.5h1.5M449 1713.5h1.5M212.2 1746.7h1.5M239.2 1746.7h1.5M305.2 1746.7h3M179.3 1779.9h1.5M266.2 1779.9h1.5M297.7 1779.9h1.5M306.7 1779.9h1.5M326.1 1779.9h1.5M332.1 1779.9h1.5M372.6 1779.9h1.5M375.6 1779.9h1.5M426.5 1779.9h1.5M431 1779.9h1.5M449 1779.9h1.5M170.3 1813.1h1.5M251.2 1813.1h1.5M305.2 1813.1h3M323.1 1813.1h1.5M335.1 1813.1h1.5M344.1 1813.1h1.5M393.6 1813.1h1.5M405.6 1813.1h1.5M410 1813.1h1.5M422 1813.1h1.5M443 1813.1h3M227.2 1846.3h1.5M248.2 1846.3h3M305.2 1846.3h3M326.1 1846.3h1.5M336.6 1846.3h1.5M393.6 1846.3h1.5M422 1846.3h3M441.5 1846.3h1.5M453.5 1846.3h1.5M239.2 1879.5h1.5M242.2 1879.5h1.5M248.2 1879.5h1.5M305.2 1879.5h3M309.6 1879.5h1.5M321.6 1879.5h1.5M326.1 1879.5h1.5M332.1 1879.5h1.5M335.1 1879.5h1.5M387.6 1879.5h1.5M392.1 1879.5h1.5M395.1 1879.5h3M416 1879.5h1.5M441.5 1879.5h1.5M449 1879.5h1.5M216.7 1912.7h1.5M224.2 1912.7h1.5M297.7 1912.7h1.5M305.2 1912.7h3M315.6 1912.7h1.5M323.1 1912.7h1.5M326.1 1912.7h1.5M386.1 1912.7h1.5M395.1 1912.7h1.5M444.5 1912.7h1.5M452 1912.7h1.5M107.4 1945.9h1.5M185.3 1945.9h1.5M200.3 1945.9h1.5M251.2 1945.9h1.5M284.2 1945.9h1.5M305.2 1945.9h3M332.1 1945.9h1.5M347.1 1945.9h1.5M387.6 1945.9h1.5M393.6 1945.9h1.5M441.5 1945.9h1.5M449 1945.9h1.5M168.8 1979.1h1.5M264.7 1979.1h1.5M305.2 1979.1h3M356.1 1979.1h1.5M360.6 1979.1h1.5M396.6 1979.1h1.5M422 1979.1h1.5M432.5 1979.1h1.5" stroke="#e02823" stroke-width="33.300000000000004"/>
<text x="461" y="1485.6" font-size="16.6">MS4A14</text>
<text x="461" y="1518.8" font-size="16.6">RCN3</text>
<text x="461" y="1552" font-size="16.6">BGN</text>
<text x="461" y="1585.2" font-size="16.6">COL1A1</text>
<text x="461" y="1618.4" font-size="16.6">FAP</text>
<text x="461" y="1651.6" font-size="16.6">ITGBL1</text>
<text x="461" y="1684.8" font-size="16.6">THBS2</text>
<text x="461" y="1718" font-size="16.6">INHBA</text>
<text x="461" y="1751.2" font-size="16.6">COMP</text>
<text x="461" y="1784.4" font-size="16.6">ASPN</text>
<text x="461" y="1817.6" font-size="16.6">NOX4</text>
<text x="461" y="1850.8" font-size="16.6">CTHRC1</text>
<text x="461" y="1884" font-size="16.6">SPP1</text>
<text x="461" y="1917.2" font-size="16.6">TREM2</text>
<text x="461" y="1950.4" font-size="16.6">MSR1</text>
<text x="461" y="1983.6" font-size="16.6">OLR1</text>
<path d="M59.5 1547.5H37.6V1580.7H59.5M59.5 1514.3H33.3V1564.1H37.6M59.5 1481.1H23.8V1539.2H33.3M59.5 1680.3H44V1713.5H59.5M59.5 1647.1H38.6V1696.9H44M59.5 1613.9H38.1V1672H38.6M59.5 1813.1H41V1846.3H59.5M59.5 1779.9H37.4V1829.7H41M59.5 1746.7H33.3V1804.8H37.4M38.1 1642.95H28.6V1775.75H33.3M59.5 1945.9H37.4V1979.1H59.5M59.5 1912.7H31.7V1962.5H37.4M59.5 1879.5H26.7V1937.6H31.7M28.6 1709.35H22.1V1908.55H26.7M23.8 1510.15H17.9V1808.95H22.1" fill="none" stroke="#111" stroke-width="1.9"/>
<text x="542" y="1628.5" font-size="16.6">group</text>
<rect x="543" y="1644" width="18" height="17.7" fill="#6ac1c9"/>
<rect x="543" y="1665.4" width="18" height="18.4" fill="#da4e3e"/>
<text x="567" y="1658.5" font-size="16.6">Normal</text>
<text x="567" y="1680" font-size="16.6">Tumor</text>
<rect x="541.7" y="1709.7" width="19.3" height="3.54" fill="#e02d27"/>
<rect x="541.7" y="1712.94" width="19.3" height="3.54" fill="#e1372f"/>
<rect x="541.7" y="1716.19" width="19.3" height="3.54" fill="#e34137"/>
<rect x="541.7" y="1719.43" width="19.3" height="3.54" fill="#e44b40"/>
<rect x="541.7" y="1722.68" width="19.3" height="3.54" fill="#e55548"/>
<rect x="541.7" y="1725.92" width="19.3" height="3.54" fill="#e66050"/>
<rect x="541.7" y="1729.17" width="19.3" height="3.54" fill="#e76a58"/>
<rect x="541.7" y="1732.41" width="19.3" height="3.54" fill="#e97461"/>
<rect x="541.7" y="1735.66" width="19.3" height="3.54" fill="#ea7e69"/>
<rect x="541.7" y="1738.9" width="19.3" height="3.54" fill="#eb8871"/>
<rect x="541.7" y="1742.15" width="19.3" height="3.54" fill="#ec937c"/>
<rect x="541.7" y="1745.39" width="19.3" height="3.54" fill="#ee9e89"/>
<rect x="541.7" y="1748.64" width="19.3" height="3.54" fill="#efa896"/>
<rect x="541.7" y="1751.88" width="19.3" height="3.54" fill="#f0b3a3"/>
<rect x="541.7" y="1755.13" width="19.3" height="3.54" fill="#f2beb0"/>
<rect x="541.7" y="1758.38" width="19.3" height="3.54" fill="#f3c8be"/>
<rect x="541.7" y="1761.62" width="19.3" height="3.54" fill="#f5d3cb"/>
<rect x="541.7" y="1764.87" width="19.3" height="3.54" fill="#f6ded8"/>
<rect x="541.7" y="1768.11" width="19.3" height="3.54" fill="#f7e8e5"/>
<rect x="541.7" y="1771.36" width="19.3" height="3.54" fill="#f9f3f2"/>
<rect x="541.7" y="1774.6" width="19.3" height="3.54" fill="#f4f4f6"/>
<rect x="541.7" y="1777.85" width="19.3" height="3.54" fill="#e9ebf2"/>
<rect x="541.7" y="1781.09" width="19.3" height="3.54" fill="#dfe3ee"/>
<rect x="541.7" y="1784.34" width="19.3" height="3.54" fill="#d4dae9"/>
<rect x="541.7" y="1787.58" width="19.3" height="3.54" fill="#c9d1e5"/>
<rect x="541.7" y="1790.83" width="19.3" height="3.54" fill="#bfc8e1"/>
<rect x="541.7" y="1794.07" width="19.3" height="3.54" fill="#b4bfdd"/>
<rect x="541.7" y="1797.32" width="19.3" height="3.54" fill="#a9b7d8"/>
<rect x="541.7" y="1800.56" width="19.3" height="3.54" fill="#9faed4"/>
<rect x="541.7" y="1803.81" width="19.3" height="3.54" fill="#94a5d0"/>
<rect x="541.7" y="1807.05" width="19.3" height="3.54" fill="#8a9ccb"/>
<rect x="541.7" y="1810.3" width="19.3" height="3.54" fill="#8094c5"/>
<rect x="541.7" y="1813.54" width="19.3" height="3.54" fill="#768cc0"/>
<rect x="541.7" y="1816.79" width="19.3" height="3.54" fill="#6c83bb"/>
<rect x="541.7" y="1820.03" width="19.3" height="3.54" fill="#627bb5"/>
<rect x="541.7" y="1823.28" width="19.3" height="3.54" fill="#5873b0"/>
<rect x="541.7" y="1826.52" width="19.3" height="3.54" fill="#4e6baa"/>
<rect x="541.7" y="1829.77" width="19.3" height="3.54" fill="#4462a5"/>
<rect x="541.7" y="1833.01" width="19.3" height="3.54" fill="#3a5aa0"/>
<rect x="541.7" y="1836.26" width="19.3" height="3.54" fill="#30529a"/>
<text x="566" y="1721.2" font-size="16.6">2</text>
<text x="566" y="1750.9" font-size="16.6">1</text>
<text x="566" y="1780.6" font-size="16.6">0</text>
<text x="566" y="1810.3" font-size="16.6">−1</text>
<text x="566" y="1840" font-size="16.6">−2</text>
<path d="M556 1715.2h5M556 1744.9h5M556 1774.6h5M556 1804.3h5M556 1834h5" stroke="#fff" stroke-width="1.2"/>
<text x="17.5" y="1437.5" font-size="36.5">G</text>
<path d="M647 1444.7H1098.3M647 1477.5H1098.3M647 1996.8H1098.3" stroke="#000" stroke-width="1.6"/>
<text x="692" y="1465" font-size="16.6" text-anchor="middle">Genes</text>
<text x="830.3" y="1465" font-size="16.6" text-anchor="middle">HR (95% CI)</text>
<text x="1080.6" y="1465" font-size="16.6" text-anchor="middle">P value</text>
<line x1="931.6" y1="1477.5" x2="931.6" y2="1996.8" stroke="#000" stroke-width="1.6" stroke-dasharray="4.5 3.2"/>
<text x="692.8" y="1497.7" font-size="16.6" text-anchor="middle">COMP</text>
<text x="762.7" y="1497.7" font-size="16.6">1.186 (1.064 − 1.322)</text>
<text x="1078.5" y="1497.7" font-size="16.6" text-anchor="middle">0.002</text>
<text x="692.8" y="1530.17" font-size="16.6" text-anchor="middle">NOX4</text>
<text x="762.7" y="1530.17" font-size="16.6">1.518 (1.166 − 1.974)</text>
<text x="1078.5" y="1530.17" font-size="16.6" text-anchor="middle">0.002</text>
<text x="692.8" y="1562.64" font-size="16.6" text-anchor="middle">CTHRC1</text>
<text x="762.7" y="1562.64" font-size="16.6">1.353 (1.164 − 1.574)</text>
<text x="1078.5" y="1562.64" font-size="16.6" text-anchor="middle">&lt; 0.001</text>
<text x="692.8" y="1595.11" font-size="16.6" text-anchor="middle">BGN</text>
<text x="762.7" y="1595.11" font-size="16.6">1.424 (1.151 − 1.762)</text>
<text x="1078.5" y="1595.11" font-size="16.6" text-anchor="middle">0.001</text>
<text x="692.8" y="1627.58" font-size="16.6" text-anchor="middle">COL1A1</text>
<text x="762.7" y="1627.58" font-size="16.6">1.398 (1.177 − 1.660)</text>
<text x="1078.5" y="1627.58" font-size="16.6" text-anchor="middle">&lt; 0.001</text>
<text x="692.8" y="1660.05" font-size="16.6" text-anchor="middle">ITGBL1</text>
<text x="762.7" y="1660.05" font-size="16.6">1.238 (1.036 − 1.480)</text>
<text x="1078.5" y="1660.05" font-size="16.6" text-anchor="middle">0.019</text>
<text x="692.8" y="1692.52" font-size="16.6" text-anchor="middle">MSR1</text>
<text x="762.7" y="1692.52" font-size="16.6">1.470 (1.156 − 1.869)</text>
<text x="1078.5" y="1692.52" font-size="16.6" text-anchor="middle">0.002</text>
<text x="692.8" y="1724.99" font-size="16.6" text-anchor="middle">ASPN</text>
<text x="762.7" y="1724.99" font-size="16.6">1.363 (1.150 − 1.616)</text>
<text x="1078.5" y="1724.99" font-size="16.6" text-anchor="middle">&lt; 0.001</text>
<text x="692.8" y="1757.46" font-size="16.6" text-anchor="middle">THBS2</text>
<text x="762.7" y="1757.46" font-size="16.6">1.210 (1.047 − 1.397)</text>
<text x="1078.5" y="1757.46" font-size="16.6" text-anchor="middle">0.01</text>
<text x="692.8" y="1789.93" font-size="16.6" text-anchor="middle">INHBA</text>
<text x="762.7" y="1789.93" font-size="16.6">1.252 (1.056 − 1.485)</text>
<text x="1078.5" y="1789.93" font-size="16.6" text-anchor="middle">0.01</text>
<text x="692.8" y="1822.4" font-size="16.6" text-anchor="middle">RCN3</text>
<text x="762.7" y="1822.4" font-size="16.6">1.556 (1.210 − 2.002)</text>
<text x="1078.5" y="1822.4" font-size="16.6" text-anchor="middle">&lt; 0.001</text>
<text x="692.8" y="1854.87" font-size="16.6" text-anchor="middle">MS4A14</text>
<text x="762.7" y="1854.87" font-size="16.6">2.514 (1.562 − 4.047)</text>
<text x="1078.5" y="1854.87" font-size="16.6" text-anchor="middle">&lt; 0.001</text>
<text x="692.8" y="1887.34" font-size="16.6" text-anchor="middle">SPP1</text>
<text x="762.7" y="1887.34" font-size="16.6">1.175 (1.020 − 1.353)</text>
<text x="1078.5" y="1887.34" font-size="16.6" text-anchor="middle">0.025</text>
<text x="692.8" y="1919.81" font-size="16.6" text-anchor="middle">TREM2</text>
<text x="762.7" y="1919.81" font-size="16.6">1.624 (1.308 − 2.016)</text>
<text x="1078.5" y="1919.81" font-size="16.6" text-anchor="middle">&lt; 0.001</text>
<text x="692.8" y="1952.28" font-size="16.6" text-anchor="middle">FAP</text>
<text x="762.7" y="1952.28" font-size="16.6">1.299 (1.032 − 1.635)</text>
<text x="1078.5" y="1952.28" font-size="16.6" text-anchor="middle">0.026</text>
<text x="692.8" y="1984.75" font-size="16.6" text-anchor="middle">OLR1</text>
<text x="762.7" y="1984.75" font-size="16.6">1.230 (1.009 − 1.499)</text>
<text x="1078.5" y="1984.75" font-size="16.6" text-anchor="middle">0.04</text>
<path d="M934 1493.2H943.68M934 1489.7v7M943.68 1489.7v7M937.83 1525.67H968.12M937.83 1522.17v7M968.12 1522.17v7M937.75 1558.14H953.12M937.75 1554.64v7M953.12 1554.64v7M937.26 1590.61H960.18M937.26 1587.11v7M960.18 1587.11v7M938.24 1623.08H956.35M938.24 1619.58v7M956.35 1619.58v7M932.95 1655.55H949.6M932.95 1652.05v7M949.6 1652.05v7M937.45 1688.02H964.19M937.45 1684.52v7M964.19 1684.52v7M937.23 1720.49H954.7M937.23 1716.99v7M954.7 1716.99v7M933.36 1752.96H946.49M933.36 1749.46v7M946.49 1749.46v7M933.7 1785.43H949.79M933.7 1781.93v7M949.79 1781.93v7M939.48 1817.9H969.17M939.48 1814.4v7M969.17 1814.4v7M952.68 1850.37H1045.86M952.68 1846.87v7M1045.86 1846.87v7M932.35 1882.84H944.84M932.35 1879.34v7M944.84 1879.34v7M943.15 1915.31H969.7M943.15 1911.81v7M969.7 1911.81v7M932.8 1947.78H955.41M932.8 1944.28v7M955.41 1944.28v7M931.94 1980.25H950.31M931.94 1976.75v7M950.31 1976.75v7" stroke="#111" stroke-width="1.4" fill="none"/>
<g fill="#2b4c96"><ellipse cx="938.58" cy="1493.2" rx="3.6" ry="2.9"/><ellipse cx="951.02" cy="1525.67" rx="3.6" ry="2.9"/><ellipse cx="944.84" cy="1558.14" rx="3.6" ry="2.9"/><ellipse cx="947.5" cy="1590.61" rx="3.6" ry="2.9"/><ellipse cx="946.52" cy="1623.08" rx="3.6" ry="2.9"/><ellipse cx="940.52" cy="1655.55" rx="3.6" ry="2.9"/><ellipse cx="949.23" cy="1688.02" rx="3.6" ry="2.9"/><ellipse cx="945.21" cy="1720.49" rx="3.6" ry="2.9"/><ellipse cx="939.48" cy="1752.96" rx="3.6" ry="2.9"/><ellipse cx="941.05" cy="1785.43" rx="3.6" ry="2.9"/><ellipse cx="952.45" cy="1817.9" rx="3.6" ry="2.9"/><ellipse cx="988.38" cy="1850.37" rx="3.6" ry="2.9"/><ellipse cx="938.16" cy="1882.84" rx="3.6" ry="2.9"/><ellipse cx="955" cy="1915.31" rx="3.6" ry="2.9"/><ellipse cx="942.81" cy="1947.78" rx="3.6" ry="2.9"/><ellipse cx="940.23" cy="1980.25" rx="3.6" ry="2.9"/></g>
<text x="931.6" y="2014.3" font-size="15" text-anchor="middle">1</text>
<text x="969.1" y="2014.3" font-size="15" text-anchor="middle">2</text>
<text x="1006.6" y="2014.3" font-size="15" text-anchor="middle">3</text>
<text x="1044.1" y="2014.3" font-size="15" text-anchor="middle">4</text>
<path d="M931.6 1996.8v3M969.1 1996.8v3M1006.6 1996.8v3M1044.1 1996.8v3" stroke="#000" stroke-width="1.3"/>
<text x="571.5" y="1460" font-size="36.5">H</text>
<g transform="translate(1459.8 1714.6) scale(1 0.911)">
<g fill-opacity="0.85" stroke="#fff" stroke-width="0.6" stroke-opacity="0.9"><path d="M-16.2 206.37A207 207 0 0 1 -18.59 206.16Q-8.55 136.35 -2.65 99.32Q-50.85 53.57 -99.05 7.81Q-135.86 14.39 -205.36 25.98A207 207 0 0 1 -205.65 23.61Q-135.98 13.21 -99.09 7.33Q-50.63 53.33 -2.16 99.34Q-7.37 136.42 -16.2 206.37Z" fill="#ee8981"/><path d="M170.53 -117.34A207 207 0 0 1 172 -115.18Q114.49 -74.54 84.18 -52.79Q-7.55 -24.36 -99.28 4.06Q-136.52 5.19 -206.87 7.42A207 207 0 0 1 -206.94 4.81Q-136.56 3.9 -99.3 3.53Q-7.7 -24.85 83.9 -53.23Q113.78 -75.63 170.53 -117.34Z" fill="#ed857d"/><path d="M-206.97 -3.38A207 207 0 0 1 -206.91 -6.07Q-136.61 -1.48 -99.35 1.34Q-61.85 -47.49 -24.35 -96.33Q-38.44 -131.1 -63.87 -196.9A207 207 0 0 1 -61.3 -197.71Q-37.16 -131.47 -23.83 -96.46Q-61.59 -47.29 -99.34 1.88Q-136.62 -0.15 -206.97 -3.38Z" fill="#ed847c"/><path d="M-201.63 46.84A207 207 0 0 1 -202.25 44.1Q-132.29 34.12 -94.86 29.58Q-55.22 11.25 -98.87 9.9Q-135.22 19.52 -203.79 36.3A207 207 0 0 1 -204.27 33.53Q-135.41 18.14 -98.92 9.34Q-55.19 11.25 -94.69 30.12Q-131.94 35.46 -201.63 46.84Z" fill="#ed8279"/><path d="M-198.41 59.02A207 207 0 0 1 -199.2 56.27Q-130.6 40.1 -94.07 31.98Q-58.95 -32.24 -23.83 -96.46Q-37.16 -131.47 -61.3 -197.71A207 207 0 0 1 -58.57 -198.54Q-35.8 -131.85 -23.27 -96.6Q-58.58 -32.04 -93.89 32.53Q-130.18 41.45 -198.41 59.02Z" fill="#ed8179"/><path d="M167.07 -122.22A207 207 0 0 1 168.76 -119.88Q112.92 -76.9 83.56 -53.76Q1.25 -55.61 -81.07 -57.45Q-110.24 -80.7 -165.58 -124.22A207 207 0 0 1 -163.84 -126.52Q-109.39 -81.85 -80.73 -57.92Q1.26 -56.09 83.24 -54.25Q112.11 -78.08 167.07 -122.22Z" fill="#ed8178"/><path d="M-98.88 181.86A207 207 0 0 1 -101.45 180.44Q-62.89 121.28 -41.76 90.16Q-70.38 49.28 -99 8.4Q-135.7 15.84 -204.97 28.9A207 207 0 0 1 -205.36 25.98Q-135.86 14.39 -99.05 7.81Q-70.14 49.11 -41.22 90.41Q-61.6 121.95 -98.88 181.86Z" fill="#ed8077"/><path d="M-83.58 -189.38A207 207 0 0 1 -80.88 -190.54Q-59.43 -123.01 -48.88 -86.51Q-23.12 -56.02 -26.35 -95.8Q-43.27 -129.59 -73.51 -193.51A207 207 0 0 1 -70.75 -194.53Q-41.88 -130.04 -25.78 -95.96Q-23.1 -55.98 -49.39 -86.21Q-60.74 -122.37 -83.58 -189.38Z" fill="#ed8077"/><path d="M95.92 -183.43A207 207 0 0 1 98.52 -182.05Q67.62 -118.71 51.63 -84.89Q-21.73 -56.86 -95.09 -28.82Q-129.95 -42.16 -195.94 -66.77A207 207 0 0 1 -194.97 -69.55Q-129.49 -43.55 -94.91 -29.39Q-21.89 -57.3 51.12 -85.2Q66.35 -119.43 95.92 -183.43Z" fill="#ed8077"/><path d="M197.04 63.43A207 207 0 0 1 196.11 66.24Q129.49 43.57 94.22 31.55Q-0.73 2.39 -95.69 -26.77Q-131.48 -37.12 -199.11 -56.61A207 207 0 0 1 -198.28 -59.46Q-131.07 -38.53 -95.52 -27.34Q-0.56 1.82 94.41 30.98Q129.95 42.18 197.04 63.43Z" fill="#ed7f77"/><path d="M-200.93 49.75A207 207 0 0 1 -201.63 46.84Q-131.94 35.46 -94.69 30.12Q-72.46 3.22 -96.98 -21.6Q-134.43 -24.39 -204.69 -30.81A207 207 0 0 1 -204.23 -33.77Q-134.15 -25.84 -96.85 -22.19Q-72.34 3.21 -94.5 30.69Q-131.54 36.89 -200.93 49.75Z" fill="#ed7f76"/><path d="M150.55 142.07A207 207 0 0 1 148.45 144.26Q98.65 94.51 72.39 68.06Q-5.01 6.28 -82.41 -55.5Q-113.57 -75.94 -172.36 -114.63A207 207 0 0 1 -170.67 -117.14Q-112.73 -77.18 -82.07 -56.01Q-4.63 5.8 72.81 67.61Q99.69 93.42 150.55 142.07Z" fill="#ed7e76"/><path d="M148.45 144.26A207 207 0 0 1 146.3 146.44Q97.6 95.6 71.97 68.51Q-11.94 21.17 -95.85 -26.17Q-131.88 -35.66 -199.92 -53.66A207 207 0 0 1 -199.11 -56.61Q-131.48 -37.12 -95.69 -26.77Q-11.65 20.65 72.39 68.06Q98.65 94.51 148.45 144.26Z" fill="#ec7e75"/><path d="M-193.67 -73.08A207 207 0 0 1 -192.57 -75.94Q-128.38 -46.74 -94.5 -30.7Q-59.73 -63.44 -24.95 -96.18Q-39.89 -130.67 -66.78 -195.93A207 207 0 0 1 -63.87 -196.9Q-38.44 -131.1 -24.35 -96.33Q-59.52 -63.22 -94.69 -30.12Q-128.89 -45.3 -193.67 -73.08Z" fill="#ec7e75"/><path d="M168.76 -119.88A207 207 0 0 1 170.53 -117.34Q113.78 -75.63 83.9 -53.23Q-5.69 -40.73 -95.27 -28.23Q-130.42 -40.7 -196.91 -63.83A207 207 0 0 1 -195.94 -66.77Q-129.95 -42.16 -95.09 -28.82Q-5.76 -41.29 83.56 -53.76Q112.92 -76.9 168.76 -119.88Z" fill="#ec7d74"/><path d="M-200.15 52.83A207 207 0 0 1 -200.93 49.75Q-131.54 36.89 -94.5 30.69Q-85.12 -10.07 -84.73 -51.9Q-119.08 -66.98 -183.21 -96.35A207 207 0 0 1 -181.71 -99.16Q-118.3 -68.34 -84.39 -52.44Q-84.87 -10.04 -94.3 31.3Q-131.11 38.41 -200.15 52.83Z" fill="#ec7c73"/><path d="M40.39 -203.02A207 207 0 0 1 43.52 -202.37Q27.3 -133.86 18.49 -97.62Q30.49 -3.91 42.5 89.81Q61 122.25 95.34 183.74A207 207 0 0 1 92.49 185.19Q59.58 122.94 41.91 90.09Q29.88 -3.83 17.85 -97.74Q25.75 -134.17 40.39 -203.02Z" fill="#ec7b73"/><path d="M-206.76 -9.91A207 207 0 0 1 -206.58 -13.14Q-136.53 -4.99 -99.36 -0.09Q-70.06 -19.54 -85.07 -51.34Q-119.85 -65.57 -184.69 -93.48A207 207 0 0 1 -183.21 -96.35Q-119.08 -66.98 -84.73 -51.9Q-69.93 -19.5 -99.36 0.57Q-136.58 -3.38 -206.76 -9.91Z" fill="#ec7b72"/><path d="M22.69 -205.75A207 207 0 0 1 25.93 -205.37Q18.59 -135.35 14.94 -98.23Q-39.36 -32.54 -93.67 33.15Q-129.68 42.99 -197.45 62.14A207 207 0 0 1 -198.41 59.02Q-130.18 41.45 -93.89 32.53Q-39.8 -32.9 14.29 -98.33Q16.99 -135.56 22.69 -205.75Z" fill="#ec7a71"/><path d="M-12.94 206.6A207 207 0 0 1 -16.2 206.37Q-7.37 136.42 -2.16 99.34Q-49.26 37.55 -96.36 -24.23Q-133.08 -30.89 -202.27 -44A207 207 0 0 1 -201.55 -47.19Q-132.71 -32.46 -96.2 -24.87Q-48.85 37.24 -1.5 99.35Q-5.75 136.5 -12.94 206.6Z" fill="#ec7a71"/><path d="M0.1 207A207 207 0 0 1 -3.25 206.97Q-0.95 136.62 0.45 99.36Q-10.34 1.14 -21.13 -97.09Q-30.56 -133.16 -48.03 -201.35A207 207 0 0 1 -44.77 -202.1Q-28.94 -133.52 -20.47 -97.23Q-9.67 1.06 1.13 99.35Q0.7 136.62 0.1 207Z" fill="#ec7970"/><path d="M200.64 50.92A207 207 0 0 1 199.78 54.21Q131.34 37.63 94.99 29.13Q38.59 -34.31 -17.81 -97.75Q-22.43 -134.77 -31.6 -204.57A207 207 0 0 1 -28.23 -205.07Q-20.76 -135.03 -17.14 -97.87Q39.03 -34.7 95.19 28.47Q131.79 36 200.64 50.92Z" fill="#ec786f"/><path d="M-9.54 206.78A207 207 0 0 1 -12.94 206.6Q-5.75 136.5 -1.5 99.35Q-42.48 22.72 -83.46 -53.92Q-116.1 -72.02 -177.4 -106.66A207 207 0 0 1 -175.62 -109.57Q-115.2 -73.44 -83.08 -54.49Q-41.95 22.43 -0.82 99.36Q-4.07 136.56 -9.54 206.78Z" fill="#ec786f"/><path d="M-190.89 -80.07A207 207 0 0 1 -189.54 -83.2Q-126.99 -50.38 -93.99 -32.21Q-51.47 -23.8 -85.42 -50.75Q-120.66 -64.09 -186.21 -90.42A207 207 0 0 1 -184.69 -93.48Q-119.85 -65.57 -85.07 -51.34Q-51.43 -23.78 -94.22 -31.56Q-127.61 -48.8 -190.89 -80.07Z" fill="#ec786f"/><path d="M146.3 146.44A207 207 0 0 1 143.84 148.86Q96.39 96.82 71.48 69.01Q-13.83 37.75 -99.15 6.49Q-136.16 11.16 -206.08 19.46A207 207 0 0 1 -206.38 16.01Q-136.29 9.45 -99.19 5.79Q-13.61 37.15 71.97 68.51Q97.6 95.6 146.3 146.44Z" fill="#ec776e"/><path d="M51.69 200.44A207 207 0 0 1 48.32 201.28Q37.83 131.28 33.12 93.68Q13.04 59.18 9.32 98.92Q20.78 135.03 40.56 202.99A207 207 0 0 1 37.15 203.64Q19.08 135.28 8.63 98.98Q13.03 59.13 33.78 93.44Q39.48 130.79 51.69 200.44Z" fill="#ec776e"/><path d="M98.52 -182.05A207 207 0 0 1 101.57 -180.37Q69.11 -117.85 52.23 -84.52Q-23.53 -40.5 -99.3 3.53Q-136.56 3.9 -206.94 4.81A207 207 0 0 1 -207 1.33Q-136.6 2.18 -99.32 2.83Q-23.84 -41.03 51.63 -84.89Q67.62 -118.71 98.52 -182.05Z" fill="#ec776e"/><path d="M125.35 164.73A207 207 0 0 1 122.55 166.83Q86.14 106.04 67.47 72.94Q35.69 50.13 46.84 87.63Q71.43 116.46 116.05 171.41A207 207 0 0 1 113.14 173.34Q69.95 117.35 46.22 87.96Q35.65 50.08 67.98 72.46Q87.48 104.94 125.35 164.73Z" fill="#eb776d"/><path d="M185.1 92.67A207 207 0 0 1 183.48 95.83Q123.53 58.35 91.96 37.63Q60.38 54.88 46.22 87.96Q69.95 117.35 113.14 173.34A207 207 0 0 1 110.15 175.26Q68.44 118.24 45.58 88.29Q60.22 54.73 92.23 36.97Q124.27 56.75 185.1 92.67Z" fill="#eb766c"/><path d="M-199.2 56.27A207 207 0 0 1 -200.15 52.83Q-131.11 38.41 -94.3 31.3Q-77.33 -23.81 -60.37 -78.92Q-87.77 -104.69 -138.29 -154.03A207 207 0 0 1 -135.61 -156.39Q-86.41 -105.82 -59.79 -79.35Q-76.93 -23.69 -94.07 31.98Q-130.6 40.1 -199.2 56.27Z" fill="#eb756c"/><path d="M36.82 -203.7A207 207 0 0 1 40.39 -203.02Q25.75 -134.17 17.85 -97.74Q9.86 0.8 1.86 99.34Q2.5 136.6 3.73 206.97A207 207 0 0 1 0.1 207Q0.7 136.62 1.13 99.35Q9.13 0.74 17.13 -97.87Q23.98 -134.5 36.82 -203.7Z" fill="#eb746b"/><path d="M14.25 -206.51A207 207 0 0 1 18 -206.22Q14.67 -135.83 13.35 -98.46Q-40.78 -63.93 -94.91 -29.39Q-129.49 -43.55 -194.97 -69.55A207 207 0 0 1 -193.67 -73.08Q-128.89 -45.3 -94.69 -30.12Q-41.04 -64.34 12.6 -98.56Q12.82 -136.02 14.25 -206.51Z" fill="#eb7269"/><path d="M-206.91 -6.07A207 207 0 0 1 -206.76 -9.91Q-136.58 -3.38 -99.36 0.57Q-78.84 -38.3 -60.98 -78.45Q-89.22 -103.46 -141.13 -151.43A207 207 0 0 1 -138.29 -154.03Q-87.77 -104.69 -60.37 -78.92Q-78.54 -38.15 -99.35 1.34Q-136.61 -1.48 -206.91 -6.07Z" fill="#eb7167"/><path d="M60.57 197.94A207 207 0 0 1 56.85 199.04Q42.01 130 34.8 93.07Q-15.93 83.37 -66.66 73.68Q-85.95 106.2 -123.4 166.2A207 207 0 0 1 -126.49 163.86Q-87.43 104.98 -67.24 73.15Q-15.86 82.97 35.53 92.79Q43.83 129.4 60.57 197.94Z" fill="#eb7067"/><path d="M-155.24 -136.93A207 207 0 0 1 -152.62 -139.85Q-104 -88.59 -78.63 -60.74Q-42.54 -41.7 -62.3 -77.4Q-92.32 -100.71 -147.14 -145.6A207 207 0 0 1 -144.35 -148.36Q-90.88 -102.01 -61.69 -77.89Q-42.5 -41.66 -79.11 -60.12Q-105.25 -87.11 -155.24 -136.93Z" fill="#ea7066"/><path d="M196.11 66.24A207 207 0 0 1 194.82 69.97Q128.85 45.42 93.96 32.3Q-2.61 19.05 -99.19 5.79Q-136.29 9.45 -206.38 16.01A207 207 0 0 1 -206.65 12.08Q-136.41 7.5 -99.23 5Q-2.51 18.27 94.22 31.55Q129.49 43.57 196.11 66.24Z" fill="#ea6f66"/><path d="M-82.16 190A207 207 0 0 1 -85.85 188.36Q-55.08 125.02 -38.53 91.58Q-30.23 -2.66 -21.92 -96.91Q-32.5 -132.7 -51.95 -200.37A207 207 0 0 1 -48.03 -201.35Q-30.56 -133.16 -21.13 -97.09Q-29.45 -2.6 -37.78 91.9Q-53.25 125.82 -82.16 190Z" fill="#ea6e64"/><path d="M198.27 59.49A207 207 0 0 1 197.04 63.43Q129.95 42.18 94.41 30.98Q6.17 -12.51 -82.07 -56.01Q-112.73 -77.18 -170.67 -117.14A207 207 0 0 1 -168.3 -120.52Q-111.56 -78.86 -81.6 -56.69Q6.53 -13.25 94.66 30.19Q130.56 40.23 198.27 59.49Z" fill="#ea6c62"/><path d="M194.82 69.97A207 207 0 0 1 193.38 73.84Q128.16 47.34 93.69 33.09Q0.69 34.93 -92.3 36.77Q-126.38 51.9 -190.84 80.17A207 207 0 0 1 -192.41 76.35Q-127.14 50 -92.61 36Q0.68 34.15 93.96 32.3Q128.85 45.42 194.82 69.97Z" fill="#ea6c62"/><path d="M10.1 -206.75A207 207 0 0 1 14.25 -206.51Q12.82 -136.02 12.6 -98.56Q-33.76 -78.66 -80.12 -58.76Q-107.84 -83.87 -160.65 -130.54A207 207 0 0 1 -157.99 -133.75Q-106.57 -85.49 -79.62 -59.44Q-33.93 -79.05 11.77 -98.66Q10.77 -136.19 10.1 -206.75Z" fill="#ea6c62"/><path d="M68.96 195.18A207 207 0 0 1 65.02 196.52Q46.01 128.64 36.4 92.45Q-31.34 49.89 -99.09 7.33Q-135.98 13.21 -205.65 23.61A207 207 0 0 1 -206.08 19.46Q-136.16 11.16 -99.15 6.49Q-30.98 49.31 37.18 92.14Q47.95 127.93 68.96 195.18Z" fill="#ea6c62"/><path d="M113.2 -173.31A207 207 0 0 1 116.69 -170.97Q76.57 -113.15 55.25 -82.58Q9.69 5.04 -35.87 92.66Q-48.57 127.7 -72.71 193.81A207 207 0 0 1 -76.63 192.29Q-50.51 126.94 -36.66 92.35Q8.94 4.65 54.54 -83.05Q74.84 -114.3 113.2 -173.31Z" fill="#ea6b61"/><path d="M-157.99 -133.75A207 207 0 0 1 -155.24 -136.93Q-105.25 -87.11 -79.11 -60.12Q-43.96 -65.42 -25.78 -95.96Q-41.88 -130.04 -70.75 -194.53A207 207 0 0 1 -66.78 -195.93Q-39.89 -130.67 -24.95 -96.18Q-43.83 -65.22 -79.62 -59.44Q-106.57 -85.49 -157.99 -133.75Z" fill="#ea6b61"/><path d="M-105.78 177.93A207 207 0 0 1 -109.39 175.74Q-66.91 119.11 -43.44 89.36Q-34.45 52.04 -65.3 74.89Q-82.43 108.95 -116.05 171.41A207 207 0 0 1 -119.52 169.01Q-84.09 107.68 -65.94 74.33Q-34.41 51.98 -42.68 89.73Q-65.08 120.12 -105.78 177.93Z" fill="#ea6b61"/><path d="M-165.13 124.82A207 207 0 0 1 -167.68 121.38Q-107.82 83.9 -75.54 64.54Q-79.97 6.05 -84.39 -52.44Q-118.3 -68.34 -181.71 -99.16A207 207 0 0 1 -179.62 -102.89Q-117.22 -70.17 -83.93 -53.17Q-79.46 6.01 -74.98 65.2Q-106.51 85.56 -165.13 124.82Z" fill="#ea6a60"/><path d="M206.34 -16.51A207 207 0 0 1 206.64 -12.15Q136.29 -9.47 99.01 -8.27Q3.2 13.86 -92.61 36Q-127.14 50 -192.41 76.35A207 207 0 0 1 -193.98 72.26Q-127.92 47.98 -92.93 35.17Q3.01 13.01 98.94 -9.15Q136.12 -11.62 206.34 -16.51Z" fill="#e9685e"/><path d="M-90.28 186.28A207 207 0 0 1 -94.2 184.33Q-59.25 123.1 -40.25 90.84Q-62.09 18.83 -83.93 -53.17Q-117.22 -70.17 -179.62 -102.89A207 207 0 0 1 -177.4 -106.66Q-116.1 -72.02 -83.46 -53.92Q-61.45 18.64 -39.44 91.2Q-57.29 124.03 -90.28 186.28Z" fill="#e9685e"/><path d="M159.6 -131.82A207 207 0 0 1 162.37 -128.4Q109.87 -81.2 82.38 -55.55Q33.21 -76.81 -15.96 -98.07Q-17.85 -135.45 -22.34 -205.79A207 207 0 0 1 -17.96 -206.22Q-15.69 -135.72 -15.08 -98.21Q33.4 -77.25 81.88 -56.29Q108.56 -82.94 159.6 -131.82Z" fill="#e9685e"/><path d="M-192.57 -75.94A207 207 0 0 1 -190.89 -80.07Q-127.61 -48.8 -94.22 -31.56Q-62.16 -43.64 -61.69 -77.89Q-90.88 -102.01 -144.35 -148.36A207 207 0 0 1 -141.13 -151.43Q-89.22 -103.46 -60.98 -78.45Q-61.99 -43.52 -94.5 -30.7Q-128.38 -46.74 -192.57 -75.94Z" fill="#e9675d"/><path d="M0.36 -207A207 207 0 0 1 4.92 -206.94Q8.21 -136.37 10.73 -98.78Q-0.96 -59 -13.92 -98.38Q-12.82 -136.02 -12.14 -206.64A207 207 0 0 1 -7.59 -206.86Q-10.57 -136.21 -13.01 -98.5Q-0.96 -59.07 9.81 -98.87Q5.96 -136.49 0.36 -207Z" fill="#e9655b"/><path d="M205.4 -25.7A207 207 0 0 1 205.92 -21.15Q135.91 -13.92 98.85 -10.09Q1.66 -18.71 -95.52 -27.34Q-131.07 -38.53 -198.28 -59.46A207 207 0 0 1 -196.91 -63.83Q-130.42 -40.7 -95.27 -28.23Q1.74 -19.62 98.75 -11.01Q135.66 -16.17 205.4 -25.7Z" fill="#e9655a"/><path d="M204.78 -30.25A207 207 0 0 1 205.4 -25.7Q135.66 -16.17 98.75 -11.01Q8.58 -33.85 -81.6 -56.69Q-111.56 -78.86 -168.3 -120.52A207 207 0 0 1 -165.58 -124.22Q-110.24 -80.7 -81.07 -57.45Q8.79 -34.69 98.64 -11.92Q135.37 -18.43 204.78 -30.25Z" fill="#e9655a"/><path d="M206.93 -5.55A207 207 0 0 1 207 -0.96Q136.56 -3.93 99.18 -6.02Q32.58 43.67 -34.01 93.36Q-43.96 129.35 -63.37 197.06A207 207 0 0 1 -67.73 195.61Q-46.11 128.61 -34.88 93.04Q32.12 43.05 99.12 -6.95Q136.48 -6.2 206.93 -5.55Z" fill="#e9655a"/><path d="M54.08 -199.81A207 207 0 0 1 58.5 -198.56Q34.75 -132.13 21.54 -97Q59.85 -56.19 98.16 -15.38Q133.95 -26.88 201.53 -47.26A207 207 0 0 1 202.53 -42.77Q134.38 -24.65 98.3 -14.47Q59.47 -55.83 20.64 -97.19Q32.55 -132.69 54.08 -199.81Z" fill="#e9655a"/><path d="M205.92 -21.15A207 207 0 0 1 206.34 -16.51Q136.12 -11.62 98.94 -9.15Q-0.15 -2.08 -99.23 5Q-136.41 7.5 -206.65 12.08A207 207 0 0 1 -206.87 7.42Q-136.52 5.19 -99.28 4.06Q-0.22 -3.01 98.85 -10.09Q135.91 -13.92 205.92 -21.15Z" fill="#e96459"/><path d="M65.02 196.52A207 207 0 0 1 60.57 197.94Q43.83 129.4 35.53 92.79Q-28.01 65.7 -91.55 38.62Q-124.44 56.4 -186.8 89.2A207 207 0 0 1 -188.76 84.96Q-125.37 54.29 -91.91 37.75Q-27.75 65.1 36.4 92.45Q46.01 128.64 65.02 196.52Z" fill="#e96359"/><path d="M-170.63 117.19A207 207 0 0 1 -173.24 113.29Q-110.74 80.01 -76.81 63.03Q-70.89 29.19 -98.92 9.34Q-135.41 18.14 -204.27 33.53A207 207 0 0 1 -204.97 28.9Q-135.7 15.84 -99 8.4Q-70.68 29.11 -76.21 63.75Q-109.36 81.88 -170.63 117.19Z" fill="#e96359"/><path d="M18 -206.22A207 207 0 0 1 22.69 -205.75Q16.99 -135.56 14.29 -98.33Q-42.52 -47.75 -99.32 2.83Q-136.6 2.18 -207 1.33A207 207 0 0 1 -206.97 -3.38Q-136.62 -0.15 -99.34 1.88Q-43 -48.29 13.35 -98.46Q14.67 -135.83 18 -206.22Z" fill="#e96358"/><path d="M-18.59 206.16A207 207 0 0 1 -23.28 205.69Q-10.88 136.19 -3.6 99.29Q-47.39 69.39 -91.17 39.49Q-123.45 58.52 -184.71 93.43A207 207 0 0 1 -186.8 89.2Q-124.44 56.4 -91.55 38.62Q-47.1 68.97 -2.65 99.32Q-8.55 136.35 -18.59 206.16Z" fill="#e96358"/><path d="M-28.04 205.09A207 207 0 0 1 -32.74 204.39Q-15.58 135.73 -5.52 99.21Q-10.76 59.64 -29.5 94.88Q-32.76 132.63 -40.56 202.99A207 207 0 0 1 -45.21 202Q-35.04 132.05 -30.42 94.59Q-10.75 59.57 -4.56 99.26Q-13.24 135.98 -28.04 205.09Z" fill="#e96257"/><path d="M140.03 152.45A207 207 0 0 1 136.49 155.63Q92.83 100.24 70.07 70.45Q1.42 71.8 -67.24 73.15Q-87.43 104.98 -126.49 163.86A207 207 0 0 1 -130.22 160.91Q-89.23 103.46 -67.94 72.5Q1.4 71.13 70.75 69.77Q94.54 98.62 140.03 152.45Z" fill="#e96257"/><path d="M206.79 9.29A207 207 0 0 1 206.52 14.07Q136.57 3.51 99.31 -2.99Q77.86 25.92 77.71 61.92Q111.36 79.15 173.56 112.81A207 207 0 0 1 170.91 116.79Q109.97 81.07 77.1 62.67Q77.58 25.82 99.28 -3.96Q136.62 1.14 206.79 9.29Z" fill="#e96257"/><path d="M-23.28 205.69A207 207 0 0 1 -28.04 205.09Q-13.24 135.98 -4.56 99.26Q-30.61 75.36 -65.94 74.33Q-84.09 107.68 -119.52 169.01A207 207 0 0 1 -123.4 166.2Q-85.95 106.2 -66.66 73.68Q-30.5 75.09 -3.6 99.29Q-10.88 136.19 -23.28 205.69Z" fill="#e86157"/><path d="M63.84 -196.91A207 207 0 0 1 68.42 -195.37Q39.72 -130.72 23.59 -96.52Q22.14 -57.47 47.26 -87.4Q56.6 -124.34 75.87 -192.6A207 207 0 0 1 80.34 -190.78Q58.77 -123.33 48.11 -86.93Q22.11 -57.39 22.64 -96.75Q37.42 -131.39 63.84 -196.91Z" fill="#e86156"/><path d="M-85.85 188.36A207 207 0 0 1 -90.28 186.28Q-57.29 124.03 -39.44 91.2Q-49.05 5.5 -58.65 -80.2Q-83.68 -107.99 -130.21 -160.92A207 207 0 0 1 -126.36 -163.96Q-81.75 -109.46 -57.85 -80.78Q-48.19 5.4 -38.53 91.58Q-55.08 125.02 -85.85 188.36Z" fill="#e86055"/><path d="M-206.58 -13.14A207 207 0 0 1 -206.21 -18.04Q-136.42 -7.42 -99.35 -1.08Q-55.62 -6.14 -97.19 -20.63Q-134.84 -21.99 -205.37 -25.94A207 207 0 0 1 -204.69 -30.81Q-134.43 -24.39 -96.98 -21.6Q-55.57 -6.14 -99.36 -0.09Q-136.53 -4.99 -206.58 -13.14Z" fill="#e85f55"/><path d="M-173.24 113.29A207 207 0 0 1 -175.93 109.08Q-112.17 78 -77.45 62.24Q-51.74 31.94 -90.35 41.33Q-121.25 62.95 -179.99 102.25A207 207 0 0 1 -182.4 97.87Q-122.37 60.75 -90.77 40.42Q-51.67 31.89 -76.81 63.03Q-110.74 80.01 -173.24 113.29Z" fill="#e85e53"/><path d="M185.46 -91.94A207 207 0 0 1 187.63 -87.43Q122.32 -60.85 87.41 -47.24Q66.04 20.76 44.67 88.75Q66.25 119.48 105.82 177.91A207 207 0 0 1 101.48 180.42Q64.07 120.66 43.77 89.2Q65.35 20.54 86.93 -48.12Q121.19 -63.06 185.46 -91.94Z" fill="#e85e53"/><path d="M-101.45 180.44A207 207 0 0 1 -105.78 177.93Q-65.08 120.12 -42.68 89.73Q-58.07 56.63 -90.77 40.42Q-122.37 60.75 -182.4 97.87A207 207 0 0 1 -184.71 93.43Q-123.45 58.52 -91.17 39.49Q-57.85 56.42 -41.76 90.16Q-62.89 121.28 -101.45 180.44Z" fill="#e85e53"/><path d="M25.93 -205.37A207 207 0 0 1 30.91 -204.68Q21.06 -134.99 15.94 -98.07Q-28.24 -15.02 -72.42 68.03Q-100.39 92.67 -153.03 139.39A207 207 0 0 1 -156.37 135.64Q-102.06 90.82 -73.11 67.29Q-29.08 -15.47 14.94 -98.23Q18.59 -135.35 25.93 -205.37Z" fill="#e85e53"/><path d="M143.54 -149.15A207 207 0 0 1 147.14 -145.6Q91.99 -101.01 61.71 -77.87Q45.99 -43.9 80.65 -58.04Q105.29 -87.06 152.62 -139.85A207 207 0 0 1 155.98 -136.08Q106.86 -85.12 81.24 -57.21Q45.92 -43.84 60.91 -78.5Q90.13 -102.67 143.54 -149.15Z" fill="#e85d52"/><path d="M206.96 4.22A207 207 0 0 1 206.79 9.29Q136.62 1.14 99.28 -3.96Q72.43 42.16 45.58 88.29Q68.44 118.24 110.15 175.26A207 207 0 0 1 105.82 177.91Q66.25 119.48 44.67 88.75Q71.95 41.89 99.24 -4.98Q136.61 -1.37 206.96 4.22Z" fill="#e85d52"/><path d="M101.57 -180.37A207 207 0 0 1 105.98 -177.81Q71.28 -116.55 53.1 -83.98Q-20.11 -24.93 -93.32 34.12Q-128.86 45.38 -195.86 66.99A207 207 0 0 1 -197.45 62.14Q-129.68 42.99 -93.67 33.15Q-20.72 -25.69 52.23 -84.52Q69.11 -117.85 101.57 -180.37Z" fill="#e85c51"/><path d="M-167.68 121.38A207 207 0 0 1 -170.63 117.19Q-109.36 81.88 -76.21 63.75Q-85.9 20.63 -96.85 -22.19Q-134.15 -25.84 -204.23 -33.77A207 207 0 0 1 -203.33 -38.82Q-133.65 -28.33 -96.61 -23.2Q-85.46 20.52 -75.54 64.54Q-107.82 83.9 -167.68 121.38Z" fill="#e85c51"/><path d="M49.11 -201.09A207 207 0 0 1 54.08 -199.81Q32.55 -132.69 20.64 -97.19Q58.06 -34.86 95.48 27.48Q132.44 33.55 201.84 45.92A207 207 0 0 1 200.64 50.92Q131.79 36 95.19 28.47Q57.41 -34.47 19.62 -97.4Q30.08 -133.27 49.11 -201.09Z" fill="#e85c51"/><path d="M91.34 -185.76A207 207 0 0 1 95.92 -183.43Q66.35 -119.43 51.12 -85.2Q-14.8 -71.56 -80.73 -57.92Q-109.39 -81.85 -163.84 -126.52A207 207 0 0 1 -160.65 -130.54Q-107.84 -83.87 -80.12 -58.76Q-14.94 -72.24 50.23 -85.73Q64.11 -120.64 91.34 -185.76Z" fill="#e85c51"/><path d="M207 -0.96A207 207 0 0 1 206.96 4.22Q136.61 -1.37 99.24 -4.98Q52.53 47.1 5.83 99.19Q12.24 136.07 23.38 205.67A207 207 0 0 1 18.23 206.2Q9.68 136.28 4.78 99.24Q51.98 46.61 99.18 -6.02Q136.56 -3.93 207 -0.96Z" fill="#e85b50"/><path d="M4.92 -206.94A207 207 0 0 1 10.1 -206.75Q10.77 -136.19 11.77 -98.66Q-16.05 -76.79 -50.3 -85.69Q-63.03 -121.21 -88.29 -187.23A207 207 0 0 1 -83.58 -189.38Q-60.74 -122.37 -49.39 -86.21Q-16.11 -77.06 10.73 -98.78Q8.21 -136.37 4.92 -206.94Z" fill="#e85b50"/><path d="M143.84 148.86A207 207 0 0 1 140.03 152.45Q94.54 98.62 70.75 69.77Q-10.58 53.76 -91.91 37.75Q-125.37 54.29 -188.76 84.96A207 207 0 0 1 -190.84 80.17Q-126.38 51.9 -92.3 36.77Q-10.41 52.89 71.48 69.01Q96.39 96.82 143.84 148.86Z" fill="#e75a4f"/><path d="M-94.2 184.33A207 207 0 0 1 -98.88 181.86Q-61.6 121.95 -41.22 90.41Q-68.92 33.6 -96.61 -23.2Q-133.65 -28.33 -203.33 -38.82A207 207 0 0 1 -202.27 -44Q-133.08 -30.89 -96.36 -24.23Q-68.3 33.31 -40.25 90.84Q-59.25 123.1 -94.2 184.33Z" fill="#e7594e"/><path d="M179.54 -103.03A207 207 0 0 1 182.12 -98.4Q119.49 -66.23 86.21 -49.4Q25.67 21.82 -34.88 93.04Q-46.11 128.61 -67.73 195.61A207 207 0 0 1 -72.71 193.81Q-48.57 127.7 -35.87 92.66Q24.9 21.17 85.67 -50.32Q118.2 -68.51 179.54 -103.03Z" fill="#e7594e"/><path d="M85.65 188.45A207 207 0 0 1 80.79 190.58Q53.78 125.59 39.54 91.15Q-8.64 4.82 -56.82 -81.51Q-79.23 -111.3 -121.32 -167.72A207 207 0 0 1 -116.98 -170.78Q-77.08 -112.8 -55.93 -82.12Q-7.71 4.3 40.52 90.72Q56.18 124.53 85.65 188.45Z" fill="#e7594e"/><path d="M56.85 199.04A207 207 0 0 1 51.69 200.44Q39.48 130.79 33.78 93.44Q1.43 79.83 -30.42 94.59Q-35.04 132.05 -45.21 202A207 207 0 0 1 -50.42 200.77Q-37.59 131.35 -31.44 94.25Q1.42 79.53 34.8 93.07Q42.01 130 56.85 199.04Z" fill="#e7584d"/><path d="M206.52 14.07A207 207 0 0 1 206.08 19.48Q136.48 6.2 99.34 -1.9Q61.69 6.9 96.47 23.81Q134.42 24.43 205.18 27.38A207 207 0 0 1 204.39 32.75Q133.91 27.07 96.2 24.87Q61.59 6.89 99.31 -2.99Q136.57 3.51 206.52 14.07Z" fill="#e7574c"/><path d="M199.78 54.21A207 207 0 0 1 198.27 59.49Q130.56 40.23 94.66 30.19Q19.93 -26.35 -54.8 -82.88Q-74.28 -114.66 -111.31 -174.53A207 207 0 0 1 -106.64 -177.42Q-71.98 -116.12 -53.87 -83.49Q20.56 -27.18 94.99 29.13Q131.34 37.63 199.78 54.21Z" fill="#e7564b"/><path d="M58.5 -198.56A207 207 0 0 1 63.84 -196.91Q37.42 -131.39 22.64 -96.75Q46.28 -68.59 81.24 -57.21Q106.86 -85.12 155.98 -136.08A207 207 0 0 1 159.6 -131.82Q108.56 -82.94 81.88 -56.29Q46.07 -68.29 21.54 -97Q34.75 -132.13 58.5 -198.56Z" fill="#e75449"/><path d="M172 -115.18A207 207 0 0 1 175.05 -110.48Q115.98 -72.21 84.77 -51.83Q-4.08 -8.33 -92.93 35.17Q-127.92 47.98 -193.98 72.26A207 207 0 0 1 -195.86 66.99Q-128.86 45.38 -93.32 34.12Q-4.57 -9.34 84.18 -52.79Q114.49 -74.54 172 -115.18Z" fill="#e75449"/><path d="M43.52 -202.37A207 207 0 0 1 49.11 -201.09Q30.08 -133.27 19.62 -97.4Q47.45 -16.27 75.27 64.86Q105.67 86.59 162.54 128.18A207 207 0 0 1 158.93 132.63Q103.85 88.77 74.51 65.73Q46.5 -15.95 18.49 -97.62Q27.3 -133.86 43.52 -202.37Z" fill="#e65246"/><path d="M158.93 132.63A207 207 0 0 1 155.13 137.05Q101.96 90.94 73.73 66.6Q27.38 -15.47 -18.97 -97.53Q-25.26 -134.26 -37.34 -203.6A207 207 0 0 1 -31.6 -204.57Q-22.43 -134.77 -17.81 -97.75Q28.35 -16.01 74.51 65.73Q103.85 88.77 158.93 132.63Z" fill="#e65145"/><path d="M80.34 -190.78A207 207 0 0 1 85.68 -188.43Q61.36 -122.06 49.14 -86.36Q14.36 -77.84 -15.08 -98.21Q-15.69 -135.72 -17.96 -206.22A207 207 0 0 1 -12.14 -206.64Q-12.82 -136.02 -13.92 -98.38Q14.42 -78.15 48.11 -86.93Q58.77 -123.33 80.34 -190.78Z" fill="#e65045"/><path d="M183.48 95.83A207 207 0 0 1 180.69 100.99Q122.27 60.96 91.5 38.72Q53.49 31.39 78.44 60.99Q113.01 76.77 176.69 107.85A207 207 0 0 1 173.56 112.81Q111.36 79.15 77.71 61.92Q53.41 31.34 91.96 37.63Q123.53 58.35 183.48 95.83Z" fill="#e65044"/><path d="M202.53 -42.77A207 207 0 0 1 203.68 -36.95Q134.88 -21.75 98.47 -13.28Q40.66 -55.58 -17.14 -97.87Q-20.76 -135.03 -28.23 -205.07A207 207 0 0 1 -22.34 -205.79Q-17.85 -135.45 -15.96 -98.07Q41.17 -56.27 98.3 -14.47Q134.38 -24.65 202.53 -42.77Z" fill="#e64f43"/><path d="M30.91 -204.68A207 207 0 0 1 36.82 -203.7Q23.98 -134.5 17.13 -97.87Q-9.77 -2.76 -36.66 92.35Q-50.51 126.94 -76.63 192.29A207 207 0 0 1 -82.16 190Q-53.25 125.82 -37.78 91.9Q-10.92 -3.09 15.94 -98.07Q21.06 -134.99 30.91 -204.68Z" fill="#e64e42"/><path d="M80.79 190.58A207 207 0 0 1 75.21 192.85Q51.02 126.73 38.43 91.63Q-22.33 18.57 -83.08 -54.49Q-115.2 -73.44 -175.62 -109.57A207 207 0 0 1 -172.36 -114.63Q-113.57 -75.94 -82.41 -55.5Q-21.43 17.82 39.54 91.15Q53.78 125.59 80.79 190.58Z" fill="#e64d41"/><path d="M190.72 -80.46A207 207 0 0 1 193.04 -74.73Q125.21 -54.66 88.7 -44.77Q82.18 -8.85 96.2 24.87Q133.91 27.07 204.39 32.75A207 207 0 0 1 203.32 38.83Q133.27 30.06 95.88 26.07Q81.79 -8.8 88.13 -45.88Q123.95 -57.45 190.72 -80.46Z" fill="#e54b3f"/><path d="M85.68 -188.43A207 207 0 0 1 91.34 -185.76Q64.11 -120.64 50.23 -85.73Q-0.57 -85.39 -51.38 -85.04Q-65.76 -119.75 -93.91 -184.47A207 207 0 0 1 -88.29 -187.23Q-63.03 -121.21 -50.3 -85.69Q-0.58 -86.02 49.14 -86.36Q61.36 -122.06 85.68 -188.43Z" fill="#e5493d"/><path d="M-3.25 206.97A207 207 0 0 1 -9.54 206.78Q-4.07 136.56 -0.82 99.36Q-29.33 9.29 -57.85 -80.78Q-81.75 -109.46 -126.36 -163.96A207 207 0 0 1 -121.32 -167.72Q-79.23 -111.3 -56.82 -81.51Q-28.18 8.92 0.45 99.36Q-0.95 136.62 -3.25 206.97Z" fill="#e5493d"/><path d="M190.55 80.86A207 207 0 0 1 187.97 86.69Q125.6 53.75 92.72 35.72Q29.96 64.76 -32.8 93.79Q-40.96 130.33 -57.28 198.92A207 207 0 0 1 -63.37 197.06Q-43.96 129.35 -34.01 93.36Q29.58 63.94 93.17 34.52Q126.81 50.84 190.55 80.86Z" fill="#e5483b"/><path d="M128.17 -162.55A207 207 0 0 1 133.22 -158.44Q84.85 -107.08 58.68 -80.18Q67.4 -8.16 76.12 63.86Q107.69 84.08 166.49 123.01A207 207 0 0 1 162.54 128.18Q105.67 86.59 75.27 64.86Q66.44 -8.05 57.61 -80.95Q82.3 -109.05 128.17 -162.55Z" fill="#e54539"/><path d="M206.64 -12.15A207 207 0 0 1 206.93 -5.55Q136.48 -6.2 99.12 -6.95Q15.04 32.25 -69.05 71.45Q-92.03 100.97 -136.02 156.04A207 207 0 0 1 -140.93 151.62Q-94.42 98.74 -70 70.52Q14.51 31.12 99.01 -8.27Q136.29 -9.47 206.64 -12.15Z" fill="#e44437"/><path d="M187.97 86.69A207 207 0 0 1 185.1 92.67Q124.27 56.75 92.23 36.97Q49.69 68.03 7.16 99.1Q15.51 135.74 29.96 204.82A207 207 0 0 1 23.38 205.67Q12.24 136.07 5.83 99.19Q49.27 67.46 92.72 35.72Q125.6 53.75 187.97 86.69Z" fill="#e44337"/><path d="M138.68 -153.68A207 207 0 0 1 143.54 -149.15Q90.13 -102.67 60.91 -78.5Q71.88 -43.08 97.95 -16.71Q133.26 -30.1 199.91 -53.7A207 207 0 0 1 201.53 -47.26Q133.95 -26.88 98.16 -15.38Q71.49 -42.85 59.85 -79.31Q87.63 -104.81 138.68 -153.68Z" fill="#e44336"/><path d="M75.21 192.85A207 207 0 0 1 68.96 195.18Q47.95 127.93 37.18 92.14Q-29.51 33.63 -96.2 -24.87Q-132.71 -32.46 -201.55 -47.19A207 207 0 0 1 -199.92 -53.66Q-131.88 -35.66 -95.85 -26.17Q-28.71 32.73 38.43 91.63Q51.02 126.73 75.21 192.85Z" fill="#e44336"/><path d="M203.68 -36.95A207 207 0 0 1 204.78 -30.25Q135.37 -18.43 98.64 -11.92Q22.39 -47.71 -53.87 -83.49Q-71.98 -116.12 -106.64 -177.42A207 207 0 0 1 -100.76 -180.82Q-69.1 -117.86 -52.71 -84.22Q22.88 -48.75 98.47 -13.28Q134.88 -21.75 203.68 -36.95Z" fill="#e44134"/><path d="M155.13 137.05A207 207 0 0 1 150.55 142.07Q99.69 93.42 72.81 67.61Q8.44 -7.25 -55.93 -82.12Q-77.08 -112.8 -116.98 -170.78A207 207 0 0 1 -111.31 -174.53Q-74.28 -114.66 -54.8 -82.88Q9.47 -8.14 73.73 66.6Q101.96 90.94 155.13 137.05Z" fill="#e44134"/><path d="M-156.37 135.64A207 207 0 0 1 -160.78 130.38Q-104.29 88.26 -74.04 66.26Q-48.65 -15.17 -23.27 -96.6Q-35.8 -131.85 -58.57 -198.54A207 207 0 0 1 -51.95 -200.37Q-32.5 -132.7 -21.92 -96.91Q-47.51 -14.81 -73.11 67.29Q-102.06 90.82 -156.37 135.64Z" fill="#e43f33"/><path d="M122.62 -166.78A207 207 0 0 1 128.17 -162.55Q82.3 -109.05 57.61 -80.95Q50.69 4.13 43.77 89.2Q64.07 120.66 101.48 180.42A207 207 0 0 1 95.34 183.74Q61 122.25 42.5 89.81Q49.48 4.03 56.46 -81.76Q79.52 -111.1 122.62 -166.78Z" fill="#e33e31"/><path d="M-160.78 130.38A207 207 0 0 1 -165.13 124.82Q-106.51 85.56 -74.98 65.2Q-67.39 -7.08 -59.79 -79.35Q-86.41 -105.82 -135.61 -156.39A207 207 0 0 1 -130.21 -160.92Q-83.68 -107.99 -58.65 -80.2Q-66.34 -6.97 -74.04 66.26Q-104.29 88.26 -160.78 130.38Z" fill="#e33c2f"/><path d="M193.04 -74.73A207 207 0 0 1 195.49 -68.08Q126.57 -51.43 89.34 -43.49Q59.74 -19.68 97.69 -18.11Q132.45 -33.51 197.96 -60.52A207 207 0 0 1 199.91 -53.7Q133.26 -30.1 97.95 -16.71Q59.62 -19.64 88.7 -44.77Q125.21 -54.66 193.04 -74.73Z" fill="#e33c2f"/><path d="M136.49 155.63A207 207 0 0 1 131.06 160.22Q90.21 102.6 69.05 71.45Q18.8 82.85 -31.44 94.25Q-37.59 131.35 -50.42 200.77A207 207 0 0 1 -57.28 198.92Q-40.96 130.33 -32.8 93.79Q18.64 82.12 70.07 70.45Q92.83 100.24 136.49 155.63Z" fill="#e33b2e"/><path d="M133.22 -158.44A207 207 0 0 1 138.68 -153.68Q87.63 -104.81 59.85 -79.31Q77.86 -26.62 95.88 26.07Q133.27 30.06 203.32 38.83A207 207 0 0 1 201.84 45.92Q132.44 33.55 95.48 27.48Q77.08 -26.35 58.68 -80.18Q84.85 -107.08 133.22 -158.44Z" fill="#e3392c"/><path d="M116.69 -170.97A207 207 0 0 1 122.62 -166.78Q79.52 -111.1 56.46 -81.76Q29.89 8.77 3.32 99.3Q6.09 136.48 10.98 206.71A207 207 0 0 1 3.73 206.97Q2.5 136.6 1.86 99.34Q28.55 8.38 55.25 -82.58Q76.57 -113.15 116.69 -170.97Z" fill="#e3392c"/><path d="M182.12 -98.4A207 207 0 0 1 185.46 -91.94Q121.19 -63.06 86.93 -48.12Q45.86 25.56 4.78 99.24Q9.68 136.28 18.23 206.2A207 207 0 0 1 10.98 206.71Q6.09 136.48 3.32 99.3Q44.77 24.95 86.21 -49.4Q119.49 -66.23 182.12 -98.4Z" fill="#e3392c"/><path d="M131.06 160.22A207 207 0 0 1 125.35 164.73Q87.48 104.94 67.98 72.46Q32.9 73.63 8.63 98.98Q19.08 135.28 37.15 203.64A207 207 0 0 1 29.96 204.82Q15.51 135.74 7.16 99.1Q32.73 73.25 69.05 71.45Q90.21 102.6 131.06 160.22Z" fill="#e3392b"/><path d="M193.38 73.84A207 207 0 0 1 190.55 80.86Q126.81 50.84 93.17 34.52Q12.61 53.51 -67.94 72.5Q-89.23 103.46 -130.22 160.91A207 207 0 0 1 -136.02 156.04Q-92.03 100.97 -69.05 71.45Q12.32 52.27 93.69 33.09Q128.16 47.34 193.38 73.84Z" fill="#e23426"/><path d="M92.49 185.19A207 207 0 0 1 85.65 188.45Q56.18 124.53 40.52 90.72Q10.03 -3.25 -20.47 -97.23Q-28.94 -133.52 -44.77 -202.1A207 207 0 0 1 -37.34 -203.6Q-25.26 -134.26 -18.97 -97.53Q11.47 -3.72 41.91 90.09Q59.58 122.94 92.49 185.19Z" fill="#e23426"/><path d="M187.63 -87.43A207 207 0 0 1 190.72 -80.46Q123.95 -57.45 88.13 -45.88Q82.62 8.4 77.1 62.67Q109.97 81.07 170.91 116.79A207 207 0 0 1 166.49 123.01Q107.69 84.08 76.12 63.86Q81.77 8.31 87.41 -47.24Q122.32 -60.85 187.63 -87.43Z" fill="#e23325"/><path d="M162.37 -128.4A207 207 0 0 1 167.07 -122.22Q112.11 -78.08 83.24 -54.25Q15.27 -69.24 -52.71 -84.22Q-69.1 -117.86 -100.76 -180.82A207 207 0 0 1 -93.91 -184.47Q-65.76 -119.75 -51.38 -85.04Q15.5 -70.3 82.38 -55.55Q109.87 -81.2 162.37 -128.4Z" fill="#e23123"/><path d="M105.98 -177.81A207 207 0 0 1 113.2 -173.31Q74.84 -114.3 54.54 -83.05Q-8.34 -6.89 -71.23 69.27Q-97.48 95.72 -147.17 145.56A207 207 0 0 1 -153.03 139.39Q-100.39 92.67 -72.42 68.03Q-9.66 -7.97 53.1 -83.98Q71.28 -116.55 105.98 -177.81Z" fill="#e23022"/><path d="M175.05 -110.48A207 207 0 0 1 179.54 -103.03Q118.2 -68.51 85.67 -50.32Q7.84 10.1 -70 70.52Q-94.42 98.74 -140.93 151.62A207 207 0 0 1 -147.17 145.56Q-97.48 95.72 -71.23 69.27Q6.77 8.72 84.77 -51.83Q115.98 -72.21 175.05 -110.48Z" fill="#e23022"/></g>
<path d="M-2.65 99.32Q-50.85 53.57 -99.05 7.81M-2.16 99.34Q-50.63 53.33 -99.09 7.33M84.18 -52.79Q-7.55 -24.36 -99.28 4.06M83.9 -53.23Q-7.7 -24.85 -99.3 3.53M-99.35 1.34Q-61.85 -47.49 -24.35 -96.33M-99.34 1.88Q-61.59 -47.29 -23.83 -96.46M-94.86 29.58Q-55.22 11.25 -98.87 9.9M-94.69 30.12Q-55.19 11.25 -98.92 9.34M-94.07 31.98Q-58.95 -32.24 -23.83 -96.46M-93.89 32.53Q-58.58 -32.04 -23.27 -96.6M83.56 -53.76Q1.25 -55.61 -81.07 -57.45M83.24 -54.25Q1.26 -56.09 -80.73 -57.92M-41.76 90.16Q-70.38 49.28 -99 8.4M-41.22 90.41Q-70.14 49.11 -99.05 7.81M-48.88 -86.51Q-23.12 -56.02 -26.35 -95.8M-49.39 -86.21Q-23.1 -55.98 -25.78 -95.96M51.63 -84.89Q-21.73 -56.86 -95.09 -28.82M51.12 -85.2Q-21.89 -57.3 -94.91 -29.39M94.22 31.55Q-0.73 2.39 -95.69 -26.77M94.41 30.98Q-0.56 1.82 -95.52 -27.34M-94.69 30.12Q-72.46 3.22 -96.98 -21.6M-94.5 30.69Q-72.34 3.21 -96.85 -22.19M72.39 68.06Q-5.01 6.28 -82.41 -55.5M72.81 67.61Q-4.63 5.8 -82.07 -56.01M71.97 68.51Q-11.94 21.17 -95.85 -26.17M72.39 68.06Q-11.65 20.65 -95.69 -26.77M-94.5 -30.7Q-59.73 -63.44 -24.95 -96.18M-94.69 -30.12Q-59.52 -63.22 -24.35 -96.33M83.9 -53.23Q-5.69 -40.73 -95.27 -28.23M83.56 -53.76Q-5.76 -41.29 -95.09 -28.82M-94.5 30.69Q-85.12 -10.07 -84.73 -51.9M-94.3 31.3Q-84.87 -10.04 -84.39 -52.44M18.49 -97.62Q30.49 -3.91 42.5 89.81M17.85 -97.74Q29.88 -3.83 41.91 90.09M-99.36 -0.09Q-70.06 -19.54 -85.07 -51.34M-99.36 0.57Q-69.93 -19.5 -84.73 -51.9M14.94 -98.23Q-39.36 -32.54 -93.67 33.15M14.29 -98.33Q-39.8 -32.9 -93.89 32.53M-2.16 99.34Q-49.26 37.55 -96.36 -24.23M-1.5 99.35Q-48.85 37.24 -96.2 -24.87M0.45 99.36Q-10.34 1.14 -21.13 -97.09M1.13 99.35Q-9.67 1.06 -20.47 -97.23M94.99 29.13Q38.59 -34.31 -17.81 -97.75M95.19 28.47Q39.03 -34.7 -17.14 -97.87M-1.5 99.35Q-42.48 22.72 -83.46 -53.92M-0.82 99.36Q-41.95 22.43 -83.08 -54.49M-93.99 -32.21Q-51.47 -23.8 -85.42 -50.75M-94.22 -31.56Q-51.43 -23.78 -85.07 -51.34M71.48 69.01Q-13.83 37.75 -99.15 6.49M71.97 68.51Q-13.61 37.15 -99.19 5.79M33.12 93.68Q13.04 59.18 9.32 98.92M33.78 93.44Q13.03 59.13 8.63 98.98M52.23 -84.52Q-23.53 -40.5 -99.3 3.53M51.63 -84.89Q-23.84 -41.03 -99.32 2.83M67.47 72.94Q35.69 50.13 46.84 87.63M67.98 72.46Q35.65 50.08 46.22 87.96M91.96 37.63Q60.38 54.88 46.22 87.96M92.23 36.97Q60.22 54.73 45.58 88.29M-94.3 31.3Q-77.33 -23.81 -60.37 -78.92M-94.07 31.98Q-76.93 -23.69 -59.79 -79.35M17.85 -97.74Q9.86 0.8 1.86 99.34M17.13 -97.87Q9.13 0.74 1.13 99.35M13.35 -98.46Q-40.78 -63.93 -94.91 -29.39M12.6 -98.56Q-41.04 -64.34 -94.69 -30.12M-99.36 0.57Q-78.84 -38.3 -60.98 -78.45M-99.35 1.34Q-78.54 -38.15 -60.37 -78.92M34.8 93.07Q-15.93 83.37 -66.66 73.68M35.53 92.79Q-15.86 82.97 -67.24 73.15M-78.63 -60.74Q-42.54 -41.7 -62.3 -77.4M-79.11 -60.12Q-42.5 -41.66 -61.69 -77.89M93.96 32.3Q-2.61 19.05 -99.19 5.79M94.22 31.55Q-2.51 18.27 -99.23 5M-38.53 91.58Q-30.23 -2.66 -21.92 -96.91M-37.78 91.9Q-29.45 -2.6 -21.13 -97.09M94.41 30.98Q6.17 -12.51 -82.07 -56.01M94.66 30.19Q6.53 -13.25 -81.6 -56.69M93.69 33.09Q0.69 34.93 -92.3 36.77M93.96 32.3Q0.68 34.15 -92.61 36M12.6 -98.56Q-33.76 -78.66 -80.12 -58.76M11.77 -98.66Q-33.93 -79.05 -79.62 -59.44M36.4 92.45Q-31.34 49.89 -99.09 7.33M37.18 92.14Q-30.98 49.31 -99.15 6.49M55.25 -82.58Q9.69 5.04 -35.87 92.66M54.54 -83.05Q8.94 4.65 -36.66 92.35M-79.11 -60.12Q-43.96 -65.42 -25.78 -95.96M-79.62 -59.44Q-43.83 -65.22 -24.95 -96.18M-43.44 89.36Q-34.45 52.04 -65.3 74.89M-42.68 89.73Q-34.41 51.98 -65.94 74.33M-75.54 64.54Q-79.97 6.05 -84.39 -52.44M-74.98 65.2Q-79.46 6.01 -83.93 -53.17M99.01 -8.27Q3.2 13.86 -92.61 36M98.94 -9.15Q3.01 13.01 -92.93 35.17M-40.25 90.84Q-62.09 18.83 -83.93 -53.17M-39.44 91.2Q-61.45 18.64 -83.46 -53.92M82.38 -55.55Q33.21 -76.81 -15.96 -98.07M81.88 -56.29Q33.4 -77.25 -15.08 -98.21M-94.22 -31.56Q-62.16 -43.64 -61.69 -77.89M-94.5 -30.7Q-61.99 -43.52 -60.98 -78.45M10.73 -98.78Q-0.96 -59 -13.92 -98.38M9.81 -98.87Q-0.96 -59.07 -13.01 -98.5M98.85 -10.09Q1.66 -18.71 -95.52 -27.34M98.75 -11.01Q1.74 -19.62 -95.27 -28.23M98.75 -11.01Q8.58 -33.85 -81.6 -56.69M98.64 -11.92Q8.79 -34.69 -81.07 -57.45M99.18 -6.02Q32.58 43.67 -34.01 93.36M99.12 -6.95Q32.12 43.05 -34.88 93.04M21.54 -97Q59.85 -56.19 98.16 -15.38M20.64 -97.19Q59.47 -55.83 98.3 -14.47M98.94 -9.15Q-0.15 -2.08 -99.23 5M98.85 -10.09Q-0.22 -3.01 -99.28 4.06M35.53 92.79Q-28.01 65.7 -91.55 38.62M36.4 92.45Q-27.75 65.1 -91.91 37.75M-76.81 63.03Q-70.89 29.19 -98.92 9.34M-76.21 63.75Q-70.68 29.11 -99 8.4M14.29 -98.33Q-42.52 -47.75 -99.32 2.83M13.35 -98.46Q-43 -48.29 -99.34 1.88M-3.6 99.29Q-47.39 69.39 -91.17 39.49M-2.65 99.32Q-47.1 68.97 -91.55 38.62M-5.52 99.21Q-10.76 59.64 -29.5 94.88M-4.56 99.26Q-10.75 59.57 -30.42 94.59M70.07 70.45Q1.42 71.8 -67.24 73.15M70.75 69.77Q1.4 71.13 -67.94 72.5M99.31 -2.99Q77.86 25.92 77.71 61.92M99.28 -3.96Q77.58 25.82 77.1 62.67M-4.56 99.26Q-30.61 75.36 -65.94 74.33M-3.6 99.29Q-30.5 75.09 -66.66 73.68M23.59 -96.52Q22.14 -57.47 47.26 -87.4M22.64 -96.75Q22.11 -57.39 48.11 -86.93M-39.44 91.2Q-49.05 5.5 -58.65 -80.2M-38.53 91.58Q-48.19 5.4 -57.85 -80.78M-99.35 -1.08Q-55.62 -6.14 -97.19 -20.63M-99.36 -0.09Q-55.57 -6.14 -96.98 -21.6M-77.45 62.24Q-51.74 31.94 -90.35 41.33M-76.81 63.03Q-51.67 31.89 -90.77 40.42M87.41 -47.24Q66.04 20.76 44.67 88.75M86.93 -48.12Q65.35 20.54 43.77 89.2M-42.68 89.73Q-58.07 56.63 -90.77 40.42M-41.76 90.16Q-57.85 56.42 -91.17 39.49M15.94 -98.07Q-28.24 -15.02 -72.42 68.03M14.94 -98.23Q-29.08 -15.47 -73.11 67.29M61.71 -77.87Q45.99 -43.9 80.65 -58.04M60.91 -78.5Q45.92 -43.84 81.24 -57.21M99.28 -3.96Q72.43 42.16 45.58 88.29M99.24 -4.98Q71.95 41.89 44.67 88.75M53.1 -83.98Q-20.11 -24.93 -93.32 34.12M52.23 -84.52Q-20.72 -25.69 -93.67 33.15M-76.21 63.75Q-85.9 20.63 -96.85 -22.19M-75.54 64.54Q-85.46 20.52 -96.61 -23.2M20.64 -97.19Q58.06 -34.86 95.48 27.48M19.62 -97.4Q57.41 -34.47 95.19 28.47M51.12 -85.2Q-14.8 -71.56 -80.73 -57.92M50.23 -85.73Q-14.94 -72.24 -80.12 -58.76M99.24 -4.98Q52.53 47.1 5.83 99.19M99.18 -6.02Q51.98 46.61 4.78 99.24M11.77 -98.66Q-16.05 -76.79 -50.3 -85.69M10.73 -98.78Q-16.11 -77.06 -49.39 -86.21M70.75 69.77Q-10.58 53.76 -91.91 37.75M71.48 69.01Q-10.41 52.89 -92.3 36.77M-41.22 90.41Q-68.92 33.6 -96.61 -23.2M-40.25 90.84Q-68.3 33.31 -96.36 -24.23M86.21 -49.4Q25.67 21.82 -34.88 93.04M85.67 -50.32Q24.9 21.17 -35.87 92.66M39.54 91.15Q-8.64 4.82 -56.82 -81.51M40.52 90.72Q-7.71 4.3 -55.93 -82.12M33.78 93.44Q1.43 79.83 -30.42 94.59M34.8 93.07Q1.42 79.53 -31.44 94.25M99.34 -1.9Q61.69 6.9 96.47 23.81M99.31 -2.99Q61.59 6.89 96.2 24.87M94.66 30.19Q19.93 -26.35 -54.8 -82.88M94.99 29.13Q20.56 -27.18 -53.87 -83.49M22.64 -96.75Q46.28 -68.59 81.24 -57.21M21.54 -97Q46.07 -68.29 81.88 -56.29M84.77 -51.83Q-4.08 -8.33 -92.93 35.17M84.18 -52.79Q-4.57 -9.34 -93.32 34.12M19.62 -97.4Q47.45 -16.27 75.27 64.86M18.49 -97.62Q46.5 -15.95 74.51 65.73M73.73 66.6Q27.38 -15.47 -18.97 -97.53M74.51 65.73Q28.35 -16.01 -17.81 -97.75M49.14 -86.36Q14.36 -77.84 -15.08 -98.21M48.11 -86.93Q14.42 -78.15 -13.92 -98.38M91.5 38.72Q53.49 31.39 78.44 60.99M91.96 37.63Q53.41 31.34 77.71 61.92M98.47 -13.28Q40.66 -55.58 -17.14 -97.87M98.3 -14.47Q41.17 -56.27 -15.96 -98.07M17.13 -97.87Q-9.77 -2.76 -36.66 92.35M15.94 -98.07Q-10.92 -3.09 -37.78 91.9M38.43 91.63Q-22.33 18.57 -83.08 -54.49M39.54 91.15Q-21.43 17.82 -82.41 -55.5M88.7 -44.77Q82.18 -8.85 96.2 24.87M88.13 -45.88Q81.79 -8.8 95.88 26.07M50.23 -85.73Q-0.57 -85.39 -51.38 -85.04M49.14 -86.36Q-0.58 -86.02 -50.3 -85.69M-0.82 99.36Q-29.33 9.29 -57.85 -80.78M0.45 99.36Q-28.18 8.92 -56.82 -81.51M92.72 35.72Q29.96 64.76 -32.8 93.79M93.17 34.52Q29.58 63.94 -34.01 93.36M58.68 -80.18Q67.4 -8.16 76.12 63.86M57.61 -80.95Q66.44 -8.05 75.27 64.86M99.12 -6.95Q15.04 32.25 -69.05 71.45M99.01 -8.27Q14.51 31.12 -70 70.52M92.23 36.97Q49.69 68.03 7.16 99.1M92.72 35.72Q49.27 67.46 5.83 99.19M60.91 -78.5Q71.88 -43.08 97.95 -16.71M59.85 -79.31Q71.49 -42.85 98.16 -15.38M37.18 92.14Q-29.51 33.63 -96.2 -24.87M38.43 91.63Q-28.71 32.73 -95.85 -26.17M98.64 -11.92Q22.39 -47.71 -53.87 -83.49M98.47 -13.28Q22.88 -48.75 -52.71 -84.22M72.81 67.61Q8.44 -7.25 -55.93 -82.12M73.73 66.6Q9.47 -8.14 -54.8 -82.88M-74.04 66.26Q-48.65 -15.17 -23.27 -96.6M-73.11 67.29Q-47.51 -14.81 -21.92 -96.91M57.61 -80.95Q50.69 4.13 43.77 89.2M56.46 -81.76Q49.48 4.03 42.5 89.81M-74.98 65.2Q-67.39 -7.08 -59.79 -79.35M-74.04 66.26Q-66.34 -6.97 -58.65 -80.2M89.34 -43.49Q59.74 -19.68 97.69 -18.11M88.7 -44.77Q59.62 -19.64 97.95 -16.71M69.05 71.45Q18.8 82.85 -31.44 94.25M70.07 70.45Q18.64 82.12 -32.8 93.79M59.85 -79.31Q77.86 -26.62 95.88 26.07M58.68 -80.18Q77.08 -26.35 95.48 27.48M56.46 -81.76Q29.89 8.77 3.32 99.3M55.25 -82.58Q28.55 8.38 1.86 99.34M86.93 -48.12Q45.86 25.56 4.78 99.24M86.21 -49.4Q44.77 24.95 3.32 99.3M67.98 72.46Q32.9 73.63 8.63 98.98M69.05 71.45Q32.73 73.25 7.16 99.1M93.17 34.52Q12.61 53.51 -67.94 72.5M93.69 33.09Q12.32 52.27 -69.05 71.45M40.52 90.72Q10.03 -3.25 -20.47 -97.23M41.91 90.09Q11.47 -3.72 -18.97 -97.53M88.13 -45.88Q82.62 8.4 77.1 62.67M87.41 -47.24Q81.77 8.31 76.12 63.86M83.24 -54.25Q15.27 -69.24 -52.71 -84.22M82.38 -55.55Q15.5 -70.3 -51.38 -85.04M54.54 -83.05Q-8.34 -6.89 -71.23 69.27M53.1 -83.98Q-9.66 -7.97 -72.42 68.03M85.67 -50.32Q7.84 10.1 -70 70.52M84.77 -51.83Q6.77 8.72 -71.23 69.27" fill="none" stroke="#e4553c" stroke-width="1.15" stroke-opacity="0.65"/>
<path d="M0.39 -223.5A223.5 223.5 0 0 1 73.87 -210.94L69.84 -199.43A211.3 211.3 0 0 0 0.37 -211.3Z" fill="#2b4b8a"/>
<path d="M0.39 -226A226 226 0 0 1 74.7 -213.3" fill="none" stroke="#000" stroke-width="1.1"/>
<path d="M81.91 -207.95A223.5 223.5 0 0 1 158.86 -157.21L150.19 -148.63A211.3 211.3 0 0 0 77.44 -196.6Z" fill="#e2231b"/>
<path d="M82.83 -210.27A226 226 0 0 1 160.64 -158.97" fill="none" stroke="#000" stroke-width="1.1"/>
<path d="M164.78 -150.99A223.5 223.5 0 0 1 211.07 -73.5L199.55 -69.49A211.3 211.3 0 0 0 155.79 -142.75Z" fill="#55b848"/>
<path d="M166.62 -152.68A226 226 0 0 1 213.43 -74.32" fill="none" stroke="#000" stroke-width="1.1"/>
<path d="M213.73 -65.35A223.5 223.5 0 0 1 222.51 21.03L210.36 19.89A211.3 211.3 0 0 0 202.07 -61.78Z" fill="#4a9baa"/>
<path d="M216.12 -66.08A226 226 0 0 1 225 21.27" fill="none" stroke="#000" stroke-width="1.1"/>
<path d="M221.54 29.56A223.5 223.5 0 0 1 195.1 109.04L184.45 103.08A211.3 211.3 0 0 0 209.44 27.95Z" fill="#8b5da8"/>
<path d="M224.01 29.89A226 226 0 0 1 197.28 110.26" fill="none" stroke="#000" stroke-width="1.1"/>
<path d="M190.77 116.45A223.5 223.5 0 0 1 132.31 180.12L125.09 170.29A211.3 211.3 0 0 0 180.36 110.09Z" fill="#eaa990"/>
<path d="M192.9 117.75A226 226 0 0 1 133.79 182.14" fill="none" stroke="#000" stroke-width="1.1"/>
<path d="M125.3 185.07A223.5 223.5 0 0 1 52.18 217.32L49.33 205.46A211.3 211.3 0 0 0 118.46 174.97Z" fill="#a3212f"/>
<path d="M126.7 187.14A226 226 0 0 1 52.76 219.76" fill="none" stroke="#000" stroke-width="1.1"/>
<path d="M43.79 219.17A223.5 223.5 0 0 1 -35.35 220.69L-33.42 208.64A211.3 211.3 0 0 0 41.4 207.2Z" fill="#b4bebb"/>
<path d="M44.28 221.62A226 226 0 0 1 -35.74 223.16" fill="none" stroke="#000" stroke-width="1.1"/>
<path d="M-43.79 219.17A223.5 223.5 0 0 1 -118.11 189.75L-111.66 179.39A211.3 211.3 0 0 0 -41.4 207.2Z" fill="#1a1a1a"/>
<path d="M-44.28 221.62A226 226 0 0 1 -119.43 191.87" fill="none" stroke="#000" stroke-width="1.1"/>
<path d="M-125.3 185.07A223.5 223.5 0 0 1 -189.95 117.77L-179.58 111.35A211.3 211.3 0 0 0 -118.46 174.97Z" fill="#050505"/>
<path d="M-126.7 187.14A226 226 0 0 1 -192.08 119.09" fill="none" stroke="#000" stroke-width="1.1"/>
<path d="M-194.33 110.4A223.5 223.5 0 0 1 -218.37 47.61L-206.45 45.01A211.3 211.3 0 0 0 -183.72 104.37Z" fill="#a8da62"/>
<path d="M-196.51 111.63A226 226 0 0 1 -220.81 48.14" fill="none" stroke="#000" stroke-width="1.1"/>
<path d="M-220.04 39.19A223.5 223.5 0 0 1 -222.65 -19.48L-210.5 -18.42A211.3 211.3 0 0 0 -208.03 37.05Z" fill="#8fd8bf"/>
<path d="M-222.5 39.63A226 226 0 0 1 -225.14 -19.7" fill="none" stroke="#000" stroke-width="1.1"/>
<path d="M-221.74 -28.01A223.5 223.5 0 0 1 -204.65 -89.84L-193.48 -84.93A211.3 211.3 0 0 0 -209.63 -26.48Z" fill="#d6d4c0"/>
<path d="M-224.22 -28.33A226 226 0 0 1 -206.94 -90.84" fill="none" stroke="#000" stroke-width="1.1"/>
<path d="M-201.05 -97.63A223.5 223.5 0 0 1 -164.78 -150.99L-155.79 -142.75A211.3 211.3 0 0 0 -190.08 -92.3Z" fill="#9b5bb5"/>
<path d="M-203.3 -98.72A226 226 0 0 1 -166.62 -152.68" fill="none" stroke="#000" stroke-width="1.1"/>
<path d="M-158.86 -157.21A223.5 223.5 0 0 1 -87.33 -205.73L-82.56 -194.5A211.3 211.3 0 0 0 -150.19 -148.63Z" fill="#a29dd0"/>
<path d="M-160.64 -158.97A226 226 0 0 1 -88.31 -208.03" fill="none" stroke="#000" stroke-width="1.1"/>
<path d="M-79.37 -208.93A223.5 223.5 0 0 1 -8.19 -223.35L-7.74 -211.16A211.3 211.3 0 0 0 -75.03 -197.53Z" fill="#d17378"/>
<path d="M-80.25 -211.27A226 226 0 0 1 -8.28 -225.85" fill="none" stroke="#000" stroke-width="1.1"/>
<path d="M0.39 -226L0.4 -231M41.57 -222.14L42.49 -227.06M82.83 -210.27L84.66 -214.93M119.76 -191.66L122.41 -195.9M152.68 -166.62L156.06 -170.31M166.62 -152.68L170.31 -156.06M191.66 -119.76L195.9 -122.41M210.27 -82.83L214.93 -84.66M216.12 -66.08L220.91 -67.54M224.55 -25.58L229.52 -26.15M225.45 15.76L230.44 16.11M224.01 29.89L228.97 30.55M214.82 70.21L219.57 71.77M198.42 108.18L202.81 110.58M192.9 117.75L197.17 120.35M168.21 150.93L171.94 154.27M137.89 179.06L140.94 183.02M126.7 187.14L129.51 191.28M90.48 207.1L92.48 211.68M44.28 221.62L45.26 226.52M3.16 225.98L3.23 230.98M-44.28 221.62L-45.26 226.52M-83.93 209.84L-85.79 214.48M-126.7 187.14L-129.51 191.28M-158.69 160.92L-162.2 164.48M-185.35 129.3L-189.46 132.17M-196.51 111.63L-200.85 114.1M-213.56 73.95L-218.28 75.59M-222.5 39.63L-227.42 40.51M-225.99 -1.58L-230.99 -1.61M-224.22 -28.33L-229.18 -28.95M-215.3 -68.71L-220.06 -70.23M-203.3 -98.72L-207.8 -100.9M-181.91 -134.11L-185.93 -137.08M-160.64 -158.97L-164.19 -162.48M-128.98 -185.58L-131.83 -189.69M-93 -205.98L-95.06 -210.53M-80.25 -211.27L-82.03 -215.94M-40.41 -222.36L-41.3 -227.28" stroke="#000" stroke-width="1"/>
</g>
<text transform="translate(1467.1 1490.59) rotate(1.7)" y="5.76" font-size="16" text-anchor="middle">0</text>
<text transform="translate(1505.05 1494.32) rotate(10.6)" y="5.76" font-size="16" text-anchor="middle">5</text>
<text transform="translate(1556.31 1508.46) rotate(23.1)" y="5.76" font-size="16" text-anchor="middle">0</text>
<text transform="translate(1590.16 1524.55) rotate(32)" y="5.76" font-size="16" text-anchor="middle">5</text>
<text transform="translate(1626 1549.37) rotate(42.5)" y="5.76" font-size="16" text-anchor="middle">10</text>
<text transform="translate(1645.74 1567.87) rotate(49.1)" y="5.76" font-size="16" text-anchor="middle">0</text>
<text transform="translate(1668.42 1595.84) rotate(58)" y="5.76" font-size="16" text-anchor="middle">5</text>
<text transform="translate(1686.58 1627.76) rotate(67.2)" y="5.76" font-size="16" text-anchor="middle">10</text>
<text transform="translate(1696.97 1655.09) rotate(74.6)" y="5.76" font-size="16" text-anchor="middle">0</text>
<text transform="translate(1704.22 1689.23) rotate(83.5)" y="5.76" font-size="16" text-anchor="middle">5</text>
<text transform="translate(1705.53 1725.16) rotate(-87.3)" y="5.76" font-size="16" text-anchor="middle">10</text>
<text transform="translate(1702.64 1750.43) rotate(-80.8)" y="5.76" font-size="16" text-anchor="middle">0</text>
<text transform="translate(1693.63 1784.22) rotate(-71.9)" y="5.76" font-size="16" text-anchor="middle">5</text>
<text transform="translate(1678.4 1817.39) rotate(-62.7)" y="5.76" font-size="16" text-anchor="middle">10</text>
<text transform="translate(1666.11 1836.66) rotate(-57)" y="5.76" font-size="16" text-anchor="middle">0</text>
<text transform="translate(1642.9 1864.27) rotate(-48.1)" y="5.76" font-size="16" text-anchor="middle">5</text>
<text transform="translate(1614.28 1889.01) rotate(-38.9)" y="5.76" font-size="16" text-anchor="middle">10</text>
<text transform="translate(1591.98 1903.61) rotate(-32.5)" y="5.76" font-size="16" text-anchor="middle">0</text>
<text transform="translate(1558.29 1919.96) rotate(-23.6)" y="5.76" font-size="16" text-anchor="middle">5</text>
<text transform="translate(1501.25 1935.5) rotate(-9.7)" y="5.76" font-size="16" text-anchor="middle">0</text>
<text transform="translate(1463.23 1938.68) rotate(-0.8)" y="5.76" font-size="16" text-anchor="middle">5</text>
<text transform="translate(1404.88 1933.05) rotate(12.9)" y="5.76" font-size="16" text-anchor="middle">0</text>
<text transform="translate(1368.44 1922.68) rotate(21.8)" y="5.76" font-size="16" text-anchor="middle">5</text>
<text transform="translate(1316.25 1896.59) rotate(35.7)" y="5.76" font-size="16" text-anchor="middle">0</text>
<text transform="translate(1287.07 1874.17) rotate(44.6)" y="5.76" font-size="16" text-anchor="middle">5</text>
<text transform="translate(1258.04 1842.82) rotate(55.1)" y="5.76" font-size="16" text-anchor="middle">10</text>
<text transform="translate(1242.59 1819.81) rotate(62)" y="5.76" font-size="16" text-anchor="middle">0</text>
<text transform="translate(1227.34 1787.93) rotate(70.9)" y="5.76" font-size="16" text-anchor="middle">5</text>
<text transform="translate(1216.5 1747.72) rotate(81.5)" y="5.76" font-size="16" text-anchor="middle">0</text>
<text transform="translate(1213.81 1713.04) rotate(-89.6)" y="5.76" font-size="16" text-anchor="middle">5</text>
<text transform="translate(1216.7 1680.31) rotate(-81.2)" y="5.76" font-size="16" text-anchor="middle">0</text>
<text transform="translate(1225.45 1646.46) rotate(-72.3)" y="5.76" font-size="16" text-anchor="middle">5</text>
<text transform="translate(1241.6 1611.12) rotate(-62.5)" y="5.76" font-size="16" text-anchor="middle">0</text>
<text transform="translate(1261.8 1581.61) rotate(-53.6)" y="5.76" font-size="16" text-anchor="middle">5</text>
<text transform="translate(1289.84 1552.58) rotate(-43.7)" y="5.76" font-size="16" text-anchor="middle">0</text>
<text transform="translate(1319.4 1530.58) rotate(-34.8)" y="5.76" font-size="16" text-anchor="middle">5</text>
<text transform="translate(1353.51 1512.49) rotate(-25.6)" y="5.76" font-size="16" text-anchor="middle">10</text>
<text transform="translate(1378.9 1502.96) rotate(-19.2)" y="5.76" font-size="16" text-anchor="middle">0</text>
<text transform="translate(1415.81 1494.11) rotate(-10.3)" y="5.76" font-size="16" text-anchor="middle">5</text>
<text transform="translate(1503.27 1461.69) rotate(8.9)" y="5.98" font-size="16.6" text-anchor="middle">COMP</text>
<text transform="translate(1611.19 1498.94) rotate(32.6)" y="5.98" font-size="16.6" text-anchor="middle">NOX4</text>
<text transform="translate(1699.01 1580.27) rotate(58.35)" y="5.98" font-size="16.6" text-anchor="middle">CTHRC1</text>
<text transform="translate(1738.94 1685.18) rotate(83.4)" y="5.98" font-size="16.6" text-anchor="middle">BGN</text>
<text transform="translate(1727.65 1792) rotate(-72.4)" y="5.98" font-size="16.6" text-anchor="middle">COL1A1</text>
<text transform="translate(1669.44 1885.06) rotate(-48.25)" y="5.98" font-size="16.6" text-anchor="middle">ITGBL1</text>
<text transform="translate(1576.77 1947.36) rotate(-24.6)" y="5.98" font-size="16.6" text-anchor="middle">MSR1</text>
<text transform="translate(1469.12 1970.45) rotate(-1.9)" y="5.98" font-size="16.6" text-anchor="middle">ASPN</text>
<text transform="translate(1360.01 1953.91) rotate(20.8)" y="5.98" font-size="16.6" text-anchor="middle">THBS2</text>
<text transform="translate(1259.89 1894.5) rotate(45.35)" y="5.98" font-size="16.6" text-anchor="middle">INHBA</text>
<text transform="translate(1198.8 1809.46) rotate(68.25)" y="5.98" font-size="16.6" text-anchor="middle">RCN3</text>
<text transform="translate(1179.28 1729.56) rotate(86.65)" y="5.98" font-size="16.6" text-anchor="middle">MS4A14</text>
<text transform="translate(1187.94 1649.86) rotate(-75.35)" y="5.98" font-size="16.6" text-anchor="middle">SPP1</text>
<text transform="translate(1225.21 1573.68) rotate(-56.6)" y="5.98" font-size="16.6" text-anchor="middle">TREM2</text>
<text transform="translate(1298.83 1504.78) rotate(-34.95)" y="5.98" font-size="16.6" text-anchor="middle">FAP</text>
<text transform="translate(1400.18 1464.44) rotate(-12.25)" y="5.98" font-size="16.6" text-anchor="middle">OLR1</text>
<defs><linearGradient id="cg" x1="0" x2="1" y1="0" y2="0"><stop offset="0" stop-color="#2a4b9b"/><stop offset="0.46" stop-color="#ffffff"/><stop offset="0.5" stop-color="#f8d8cf"/><stop offset="1" stop-color="#e3231d"/></linearGradient></defs>
<rect x="1626" y="1970.5" width="126" height="12.5" fill="url(#cg)"/>
<text x="1626.7" y="1963.6" font-size="16.6">Correlation</text>
<text x="1630.8" y="2002" font-size="16.6" text-anchor="middle">−1</text>
<text x="1746.9" y="2002" font-size="16.6" text-anchor="middle">1</text>
<text x="1168" y="1462" font-size="36.5">I</text>
<path d="M75.6 2414H1712.3M75.6 2348.5H1712.3M75.6 2282.9H1712.3M75.6 2217.4H1712.3M75.6 2151.8H1712.3M75.6 2086.3H1712.3M140.2 2064.3V2469M240.6 2064.3V2469M341 2064.3V2469M441.4 2064.3V2469M541.8 2064.3V2469M642.2 2064.3V2469M742.6 2064.3V2469M843 2064.3V2469M943.4 2064.3V2469M1043.8 2064.3V2469M1144.2 2064.3V2469M1244.6 2064.3V2469M1345 2064.3V2469M1445.4 2064.3V2469M1545.8 2064.3V2469M1646.2 2064.3V2469" stroke="#dadada" stroke-width="1.3"/>
<path d="M115.5 2283.9L116.2 2281.2L116.4 2278.4L116.6 2275.7L116.9 2272.9L117.2 2270.2L117.5 2267.4L117.9 2264.7L118.3 2261.9L118.8 2259.2L119.3 2256.4L119.9 2253.7L120.5 2250.9L121.2 2248.2L121.9 2245.4L122.7 2242.7L123.5 2239.9L124.4 2237.2L125.3 2234.5L126.3 2231.7L127.2 2229L128.2 2226.2L129.2 2223.5L130.1 2220.7L131 2218L131.9 2215.2L132.7 2212.5L133.5 2209.7L134.1 2207L134.7 2204.2L135.1 2201.5L135.5 2198.7L135.6 2196L135.7 2193.2L135.6 2190.5L135.2 2187.8L134.6 2185L133.7 2182.3L132.7 2179.5L131.6 2176.8L130.4 2174L129.1 2171.3L127.8 2168.5L126.5 2165.8L125.2 2163L124 2160.3L122.8 2157.5L121.8 2154.8L120.8 2152L119.9 2149.3L119.1 2146.5L118.5 2143.8L117.9 2141L117.4 2138.3L117 2135.6L116.6 2132.8L116.3 2130.1L116.1 2127.3L115.9 2124.6L115.8 2121.8L115.5 2119.1L114.9 2119.1L114.6 2121.8L114.5 2124.6L114.3 2127.3L114.1 2130.1L113.8 2132.8L113.4 2135.6L113 2138.3L112.5 2141L111.9 2143.8L111.3 2146.5L110.5 2149.3L109.6 2152L108.6 2154.8L107.6 2157.5L106.4 2160.3L105.2 2163L103.9 2165.8L102.6 2168.5L101.3 2171.3L100 2174L98.8 2176.8L97.7 2179.5L96.7 2182.3L95.8 2185L95.2 2187.8L94.8 2190.5L94.7 2193.2L94.8 2196L94.9 2198.7L95.3 2201.5L95.7 2204.2L96.3 2207L96.9 2209.7L97.7 2212.5L98.5 2215.2L99.4 2218L100.3 2220.7L101.2 2223.5L102.2 2226.2L103.2 2229L104.1 2231.7L105.1 2234.5L106 2237.2L106.9 2239.9L107.7 2242.7L108.5 2245.4L109.2 2248.2L109.9 2250.9L110.5 2253.7L111.1 2256.4L111.6 2259.2L112.1 2261.9L112.5 2264.7L112.9 2267.4L113.2 2270.2L113.5 2272.9L113.8 2275.7L114 2278.4L114.2 2281.2L114.9 2283.9Z" fill="#93b3da" stroke="#4a82c6" stroke-width="2" stroke-linejoin="round"/>
<path d="M166 2251.8L166.7 2249.6L167 2247.5L167.2 2245.4L167.5 2243.2L167.8 2241.1L168.2 2238.9L168.7 2236.8L169.2 2234.7L169.7 2232.5L170.4 2230.4L171.1 2228.2L171.8 2226.1L172.7 2224L173.6 2221.8L174.5 2219.7L175.5 2217.5L176.5 2215.4L177.6 2213.3L178.6 2211.1L179.7 2209L180.8 2206.8L181.8 2204.7L182.7 2202.5L183.6 2200.4L184.4 2198.3L185 2196.1L185.5 2194L185.9 2191.8L186.1 2189.7L186.2 2187.6L186.1 2185.4L185.7 2183.3L185.2 2181.1L184.5 2179L183.7 2176.9L182.8 2174.7L181.7 2172.6L180.6 2170.4L179.4 2168.3L178.3 2166.1L177.1 2164L175.9 2161.9L174.8 2159.7L173.8 2157.6L172.8 2155.4L171.8 2153.3L171 2151.2L170.2 2149L169.6 2146.9L169 2144.7L168.4 2142.6L168 2140.5L167.6 2138.3L167.3 2136.2L167 2134L166.7 2131.9L166.5 2129.8L166.4 2127.6L166.3 2125.5L166 2123.3L165.4 2123.3L165.1 2125.5L165 2127.6L164.9 2129.8L164.7 2131.9L164.4 2134L164.1 2136.2L163.8 2138.3L163.4 2140.5L163 2142.6L162.4 2144.7L161.8 2146.9L161.2 2149L160.4 2151.2L159.6 2153.3L158.6 2155.4L157.6 2157.6L156.6 2159.7L155.5 2161.9L154.3 2164L153.1 2166.1L152 2168.3L150.8 2170.4L149.7 2172.6L148.6 2174.7L147.7 2176.9L146.9 2179L146.2 2181.1L145.7 2183.3L145.3 2185.4L145.2 2187.6L145.3 2189.7L145.5 2191.8L145.9 2194L146.4 2196.1L147 2198.3L147.8 2200.4L148.7 2202.5L149.6 2204.7L150.6 2206.8L151.7 2209L152.8 2211.1L153.8 2213.3L154.9 2215.4L155.9 2217.5L156.9 2219.7L157.8 2221.8L158.7 2224L159.6 2226.1L160.3 2228.2L161 2230.4L161.7 2232.5L162.2 2234.7L162.7 2236.8L163.2 2238.9L163.6 2241.1L163.9 2243.2L164.2 2245.4L164.4 2247.5L164.7 2249.6L165.4 2251.8Z" fill="#e58891" stroke="#d62d38" stroke-width="2" stroke-linejoin="round"/>
<path d="M215.9 2339.3L216.7 2337.5L216.9 2335.7L217.2 2333.9L217.5 2332.1L218 2330.3L218.4 2328.5L219 2326.7L219.6 2324.9L220.3 2323.1L221.1 2321.3L222 2319.5L222.9 2317.7L223.9 2315.9L225 2314.1L226.2 2312.2L227.3 2310.4L228.5 2308.6L229.7 2306.8L230.9 2305L232 2303.2L233 2301.4L233.9 2299.6L234.7 2297.8L235.4 2296L235.8 2294.2L236.1 2292.4L236.1 2290.6L236 2288.8L235.7 2287L235.2 2285.2L234.7 2283.4L233.9 2281.6L233.1 2279.8L232.2 2278L231.2 2276.2L230.2 2274.4L229.2 2272.6L228.1 2270.8L227 2269L226 2267.2L225 2265.4L224 2263.6L223.1 2261.8L222.2 2260L221.4 2258.2L220.7 2256.4L220 2254.6L219.4 2252.8L218.8 2251L218.4 2249.2L217.9 2247.4L217.6 2245.6L217.3 2243.8L217 2242L216.8 2240.2L216.6 2238.4L216.4 2236.6L216.3 2234.7L216.1 2232.9L215.9 2231.1L215.3 2231.1L215.1 2232.9L214.9 2234.7L214.8 2236.6L214.6 2238.4L214.4 2240.2L214.2 2242L213.9 2243.8L213.6 2245.6L213.3 2247.4L212.8 2249.2L212.4 2251L211.8 2252.8L211.2 2254.6L210.5 2256.4L209.8 2258.2L209 2260L208.1 2261.8L207.2 2263.6L206.2 2265.4L205.2 2267.2L204.2 2269L203.1 2270.8L202 2272.6L201 2274.4L200 2276.2L199 2278L198.1 2279.8L197.3 2281.6L196.5 2283.4L196 2285.2L195.5 2287L195.2 2288.8L195.1 2290.6L195.1 2292.4L195.4 2294.2L195.8 2296L196.5 2297.8L197.3 2299.6L198.2 2301.4L199.2 2303.2L200.3 2305L201.5 2306.8L202.7 2308.6L203.9 2310.4L205 2312.2L206.2 2314.1L207.3 2315.9L208.3 2317.7L209.2 2319.5L210.1 2321.3L210.9 2323.1L211.6 2324.9L212.2 2326.7L212.8 2328.5L213.2 2330.3L213.7 2332.1L214 2333.9L214.3 2335.7L214.5 2337.5L215.3 2339.3Z" fill="#93b3da" stroke="#4a82c6" stroke-width="2" stroke-linejoin="round"/>
<path d="M266.4 2351.4L267.2 2349L267.4 2346.5L267.7 2344.1L268 2341.6L268.4 2339.2L268.8 2336.7L269.3 2334.3L269.9 2331.8L270.5 2329.4L271.2 2326.9L272 2324.5L272.9 2322L273.8 2319.6L274.8 2317.2L275.9 2314.7L277 2312.3L278.1 2309.8L279.3 2307.4L280.4 2304.9L281.5 2302.5L282.5 2300L283.5 2297.6L284.4 2295.1L285.2 2292.7L285.8 2290.2L286.2 2287.8L286.5 2285.3L286.6 2282.9L286.5 2280.5L286.2 2278L285.8 2275.6L285.2 2273.1L284.5 2270.7L283.6 2268.2L282.7 2265.8L281.7 2263.3L280.6 2260.9L279.5 2258.4L278.4 2256L277.3 2253.5L276.2 2251.1L275.2 2248.6L274.2 2246.2L273.2 2243.7L272.4 2241.3L271.6 2238.9L270.8 2236.4L270.2 2234L269.6 2231.5L269 2229.1L268.6 2226.6L268.2 2224.2L267.8 2221.7L267.5 2219.3L267.3 2216.8L267.1 2214.4L266.9 2211.9L266.8 2209.5L266.6 2207L266.4 2204.6L265.8 2204.6L265.6 2207L265.4 2209.5L265.3 2211.9L265.1 2214.4L264.9 2216.8L264.7 2219.3L264.4 2221.7L264 2224.2L263.6 2226.6L263.2 2229.1L262.6 2231.5L262 2234L261.4 2236.4L260.6 2238.9L259.8 2241.3L259 2243.7L258 2246.2L257 2248.6L256 2251.1L254.9 2253.5L253.8 2256L252.7 2258.4L251.6 2260.9L250.5 2263.3L249.5 2265.8L248.6 2268.2L247.7 2270.7L247 2273.1L246.4 2275.6L246 2278L245.7 2280.5L245.6 2282.9L245.7 2285.3L246 2287.8L246.4 2290.2L247 2292.7L247.8 2295.1L248.7 2297.6L249.7 2300L250.7 2302.5L251.8 2304.9L252.9 2307.4L254.1 2309.8L255.2 2312.3L256.3 2314.7L257.4 2317.2L258.4 2319.6L259.3 2322L260.2 2324.5L261 2326.9L261.7 2329.4L262.3 2331.8L262.9 2334.3L263.4 2336.7L263.8 2339.2L264.2 2341.6L264.5 2344.1L264.8 2346.5L265 2349L265.8 2351.4Z" fill="#e58891" stroke="#d62d38" stroke-width="2" stroke-linejoin="round"/>
<path d="M316.3 2395.3L317.1 2392.4L317.3 2389.5L317.7 2386.5L318.1 2383.6L318.5 2380.7L319.1 2377.8L319.7 2374.8L320.4 2371.9L321.2 2369L322.1 2366L323.1 2363.1L324.2 2360.2L325.4 2357.3L326.6 2354.3L327.9 2351.4L329.2 2348.5L330.5 2345.6L331.7 2342.6L332.8 2339.7L333.9 2336.8L334.8 2333.8L335.6 2330.9L336.1 2328L336.4 2325.1L336.5 2322.1L336.4 2319.2L336.2 2316.3L335.8 2313.4L335.3 2310.4L334.6 2307.5L333.9 2304.6L333.1 2301.6L332.2 2298.7L331.2 2295.8L330.3 2292.9L329.3 2289.9L328.2 2287L327.2 2284.1L326.2 2281.2L325.3 2278.2L324.4 2275.3L323.5 2272.4L322.7 2269.4L321.9 2266.5L321.2 2263.6L320.5 2260.7L320 2257.7L319.4 2254.8L319 2251.9L318.5 2248.9L318.2 2246L317.8 2243.1L317.6 2240.2L317.3 2237.2L317.1 2234.3L316.9 2231.4L316.8 2228.5L316.6 2225.5L316.5 2222.6L316.3 2219.7L315.7 2219.7L315.5 2222.6L315.4 2225.5L315.2 2228.5L315.1 2231.4L314.9 2234.3L314.7 2237.2L314.4 2240.2L314.2 2243.1L313.8 2246L313.5 2248.9L313 2251.9L312.6 2254.8L312 2257.7L311.5 2260.7L310.8 2263.6L310.1 2266.5L309.3 2269.4L308.5 2272.4L307.6 2275.3L306.7 2278.2L305.8 2281.2L304.8 2284.1L303.8 2287L302.7 2289.9L301.7 2292.9L300.8 2295.8L299.8 2298.7L298.9 2301.6L298.1 2304.6L297.4 2307.5L296.7 2310.4L296.2 2313.4L295.8 2316.3L295.6 2319.2L295.5 2322.1L295.6 2325.1L295.9 2328L296.4 2330.9L297.2 2333.8L298.1 2336.8L299.2 2339.7L300.3 2342.6L301.5 2345.6L302.8 2348.5L304.1 2351.4L305.4 2354.3L306.6 2357.3L307.8 2360.2L308.9 2363.1L309.9 2366L310.8 2369L311.6 2371.9L312.3 2374.8L312.9 2377.8L313.5 2380.7L313.9 2383.6L314.3 2386.5L314.7 2389.5L314.9 2392.4L315.7 2395.3Z" fill="#93b3da" stroke="#4a82c6" stroke-width="2" stroke-linejoin="round"/>
<path d="M366.8 2378.6L367.6 2375.9L367.8 2373.1L368 2370.3L368.4 2367.6L368.7 2364.8L369.2 2362.1L369.6 2359.3L370.2 2356.5L370.8 2353.8L371.5 2351L372.3 2348.3L373.1 2345.5L374.1 2342.8L375 2340L376.1 2337.2L377.1 2334.5L378.2 2331.7L379.4 2329L380.5 2326.2L381.6 2323.4L382.6 2320.7L383.6 2317.9L384.5 2315.2L385.3 2312.4L386 2309.7L386.5 2306.9L386.8 2304.1L387 2301.4L387 2298.6L386.8 2295.9L386.4 2293.1L385.9 2290.3L385.2 2287.6L384.3 2284.8L383.4 2282.1L382.4 2279.3L381.3 2276.6L380.2 2273.8L379.1 2271L378 2268.3L376.9 2265.5L375.8 2262.8L374.8 2260L373.8 2257.3L372.9 2254.5L372.1 2251.7L371.3 2249L370.7 2246.2L370 2243.5L369.5 2240.7L369 2237.9L368.6 2235.2L368.3 2232.4L368 2229.7L367.7 2226.9L367.5 2224.2L367.3 2221.4L367.2 2218.6L367 2215.9L366.8 2213.1L366.2 2213.1L366 2215.9L365.8 2218.6L365.7 2221.4L365.5 2224.2L365.3 2226.9L365 2229.7L364.7 2232.4L364.4 2235.2L364 2237.9L363.5 2240.7L363 2243.5L362.3 2246.2L361.7 2249L360.9 2251.7L360.1 2254.5L359.2 2257.3L358.2 2260L357.2 2262.8L356.1 2265.5L355 2268.3L353.9 2271L352.8 2273.8L351.7 2276.6L350.6 2279.3L349.6 2282.1L348.7 2284.8L347.8 2287.6L347.1 2290.3L346.6 2293.1L346.2 2295.9L346 2298.6L346 2301.4L346.2 2304.1L346.5 2306.9L347 2309.7L347.7 2312.4L348.5 2315.2L349.4 2317.9L350.4 2320.7L351.4 2323.4L352.5 2326.2L353.6 2329L354.8 2331.7L355.9 2334.5L356.9 2337.2L358 2340L358.9 2342.8L359.9 2345.5L360.7 2348.3L361.5 2351L362.2 2353.8L362.8 2356.5L363.4 2359.3L363.8 2362.1L364.3 2364.8L364.6 2367.6L365 2370.3L365.2 2373.1L365.4 2375.9L366.2 2378.6Z" fill="#e58891" stroke="#d62d38" stroke-width="2" stroke-linejoin="round"/>
<path d="M416.7 2424.8L417.6 2422.6L417.9 2420.5L418.4 2418.3L419 2416.1L419.8 2413.9L420.7 2411.7L421.8 2409.6L423 2407.4L424.4 2405.2L425.9 2403L427.6 2400.8L429.2 2398.7L430.9 2396.5L432.5 2394.3L434 2392.1L435.2 2389.9L436.1 2387.8L436.7 2385.6L436.9 2383.4L436.8 2381.2L436.7 2379.1L436.4 2376.9L436 2374.7L435.6 2372.5L435 2370.3L434.4 2368.2L433.7 2366L433 2363.8L432.2 2361.6L431.3 2359.4L430.5 2357.3L429.6 2355.1L428.8 2352.9L427.9 2350.7L427 2348.5L426.2 2346.4L425.4 2344.2L424.6 2342L423.9 2339.8L423.2 2337.6L422.5 2335.5L421.9 2333.3L421.3 2331.1L420.8 2328.9L420.3 2326.7L419.8 2324.6L419.4 2322.4L419 2320.2L418.7 2318L418.4 2315.9L418.1 2313.7L417.9 2311.5L417.7 2309.3L417.5 2307.1L417.4 2305L417.2 2302.8L417.1 2300.6L417 2298.4L416.9 2296.2L416.7 2294.1L416.1 2294.1L415.9 2296.2L415.8 2298.4L415.7 2300.6L415.6 2302.8L415.4 2305L415.3 2307.1L415.1 2309.3L414.9 2311.5L414.7 2313.7L414.4 2315.9L414.1 2318L413.8 2320.2L413.4 2322.4L413 2324.6L412.5 2326.7L412 2328.9L411.5 2331.1L410.9 2333.3L410.3 2335.5L409.6 2337.6L408.9 2339.8L408.2 2342L407.4 2344.2L406.6 2346.4L405.8 2348.5L404.9 2350.7L404 2352.9L403.2 2355.1L402.3 2357.3L401.5 2359.4L400.6 2361.6L399.8 2363.8L399.1 2366L398.4 2368.2L397.8 2370.3L397.2 2372.5L396.8 2374.7L396.4 2376.9L396.1 2379.1L396 2381.2L395.9 2383.4L396.1 2385.6L396.7 2387.8L397.6 2389.9L398.8 2392.1L400.3 2394.3L401.9 2396.5L403.6 2398.7L405.2 2400.8L406.9 2403L408.4 2405.2L409.8 2407.4L411 2409.6L412.1 2411.7L413 2413.9L413.8 2416.1L414.4 2418.3L414.9 2420.5L415.2 2422.6L416.1 2424.8Z" fill="#93b3da" stroke="#4a82c6" stroke-width="2" stroke-linejoin="round"/>
<path d="M467.2 2422.8L468 2420.5L468.4 2418.2L468.8 2415.8L469.3 2413.5L470 2411.1L470.7 2408.8L471.6 2406.4L472.7 2404.1L473.9 2401.7L475.2 2399.4L476.6 2397L478.1 2394.7L479.6 2392.3L481.2 2390L482.7 2387.6L484 2385.3L485.2 2382.9L486.2 2380.6L486.9 2378.2L487.3 2375.9L487.4 2373.5L487.3 2371.2L487.1 2368.8L486.8 2366.5L486.3 2364.1L485.8 2361.8L485.2 2359.4L484.5 2357.1L483.7 2354.7L482.9 2352.4L482.1 2350L481.2 2347.7L480.3 2345.3L479.4 2343L478.5 2340.6L477.6 2338.3L476.7 2336L475.9 2333.6L475.1 2331.3L474.3 2328.9L473.6 2326.6L472.9 2324.2L472.2 2321.9L471.6 2319.5L471.1 2317.2L470.6 2314.8L470.1 2312.5L469.7 2310.1L469.4 2307.8L469 2305.4L468.7 2303.1L468.5 2300.7L468.3 2298.4L468.1 2296L467.9 2293.7L467.8 2291.3L467.6 2289L467.5 2286.6L467.4 2284.3L467.2 2281.9L466.6 2281.9L466.4 2284.3L466.3 2286.6L466.2 2289L466 2291.3L465.9 2293.7L465.7 2296L465.5 2298.4L465.3 2300.7L465.1 2303.1L464.8 2305.4L464.4 2307.8L464.1 2310.1L463.7 2312.5L463.2 2314.8L462.7 2317.2L462.2 2319.5L461.6 2321.9L460.9 2324.2L460.2 2326.6L459.5 2328.9L458.7 2331.3L457.9 2333.6L457.1 2336L456.2 2338.3L455.3 2340.6L454.4 2343L453.5 2345.3L452.6 2347.7L451.7 2350L450.9 2352.4L450.1 2354.7L449.3 2357.1L448.6 2359.4L448 2361.8L447.5 2364.1L447 2366.5L446.7 2368.8L446.5 2371.2L446.4 2373.5L446.5 2375.9L446.9 2378.2L447.6 2380.6L448.6 2382.9L449.8 2385.3L451.1 2387.6L452.6 2390L454.2 2392.3L455.7 2394.7L457.2 2397L458.6 2399.4L459.9 2401.7L461.1 2404.1L462.2 2406.4L463.1 2408.8L463.8 2411.1L464.5 2413.5L465 2415.8L465.4 2418.2L465.8 2420.5L466.6 2422.8Z" fill="#e58891" stroke="#d62d38" stroke-width="2" stroke-linejoin="round"/>
<path d="M517.1 2398.9L517.9 2395.7L518.2 2392.5L518.6 2389.4L519 2386.2L519.6 2383L520.2 2379.8L520.9 2376.6L521.8 2373.4L522.8 2370.2L523.8 2367L525 2363.8L526.3 2360.7L527.6 2357.5L529 2354.3L530.4 2351.1L531.8 2347.9L533.1 2344.7L534.3 2341.5L535.4 2338.3L536.2 2335.1L536.8 2331.9L537.2 2328.8L537.3 2325.6L537.2 2322.4L537 2319.2L536.6 2316L536.2 2312.8L535.6 2309.6L534.9 2306.4L534.2 2303.2L533.4 2300L532.5 2296.9L531.6 2293.7L530.6 2290.5L529.7 2287.3L528.7 2284.1L527.8 2280.9L526.8 2277.7L525.9 2274.5L525.1 2271.3L524.3 2268.2L523.5 2265L522.8 2261.8L522.1 2258.6L521.5 2255.4L520.9 2252.2L520.4 2249L519.9 2245.8L519.5 2242.6L519.1 2239.4L518.8 2236.3L518.5 2233.1L518.3 2229.9L518 2226.7L517.8 2223.5L517.7 2220.3L517.5 2217.1L517.4 2213.9L517.3 2210.7L517.1 2207.5L516.5 2207.5L516.3 2210.7L516.2 2213.9L516.1 2217.1L515.9 2220.3L515.8 2223.5L515.6 2226.7L515.3 2229.9L515.1 2233.1L514.8 2236.3L514.5 2239.4L514.1 2242.6L513.7 2245.8L513.2 2249L512.7 2252.2L512.1 2255.4L511.5 2258.6L510.8 2261.8L510.1 2265L509.3 2268.2L508.5 2271.3L507.7 2274.5L506.8 2277.7L505.8 2280.9L504.9 2284.1L503.9 2287.3L503 2290.5L502 2293.7L501.1 2296.9L500.2 2300L499.4 2303.2L498.7 2306.4L498 2309.6L497.4 2312.8L497 2316L496.6 2319.2L496.4 2322.4L496.3 2325.6L496.4 2328.8L496.8 2331.9L497.4 2335.1L498.2 2338.3L499.3 2341.5L500.5 2344.7L501.8 2347.9L503.2 2351.1L504.6 2354.3L506 2357.5L507.3 2360.7L508.6 2363.8L509.8 2367L510.8 2370.2L511.8 2373.4L512.7 2376.6L513.4 2379.8L514 2383L514.6 2386.2L515 2389.4L515.4 2392.5L515.7 2395.7L516.5 2398.9Z" fill="#93b3da" stroke="#4a82c6" stroke-width="2" stroke-linejoin="round"/>
<path d="M567.6 2388.4L568.5 2384.6L568.8 2380.7L569.3 2376.8L570 2372.9L570.7 2369L571.7 2365.1L572.7 2361.3L574 2357.4L575.4 2353.5L576.9 2349.6L578.6 2345.7L580.3 2341.8L582 2338L583.6 2334.1L585 2330.2L586.2 2326.3L587.1 2322.4L587.7 2318.5L587.8 2314.7L587.7 2310.8L587.5 2306.9L587.3 2303L586.9 2299.1L586.4 2295.2L585.8 2291.4L585.2 2287.5L584.5 2283.6L583.8 2279.7L583 2275.8L582.2 2271.9L581.3 2268.1L580.4 2264.2L579.6 2260.3L578.7 2256.4L577.9 2252.5L577 2248.6L576.2 2244.8L575.5 2240.9L574.7 2237L574 2233.1L573.4 2229.2L572.7 2225.3L572.2 2221.5L571.6 2217.6L571.1 2213.7L570.7 2209.8L570.3 2205.9L569.9 2202L569.6 2198.2L569.3 2194.3L569 2190.4L568.8 2186.5L568.6 2182.6L568.4 2178.7L568.3 2174.9L568.1 2171L568 2167.1L567.9 2163.2L567.8 2159.3L567.6 2155.4L567 2155.4L566.8 2159.3L566.7 2163.2L566.6 2167.1L566.5 2171L566.3 2174.9L566.2 2178.7L566 2182.6L565.8 2186.5L565.6 2190.4L565.3 2194.3L565 2198.2L564.7 2202L564.3 2205.9L563.9 2209.8L563.5 2213.7L563 2217.6L562.4 2221.5L561.9 2225.3L561.2 2229.2L560.6 2233.1L559.9 2237L559.1 2240.9L558.4 2244.8L557.6 2248.6L556.7 2252.5L555.9 2256.4L555 2260.3L554.2 2264.2L553.3 2268.1L552.4 2271.9L551.6 2275.8L550.8 2279.7L550.1 2283.6L549.4 2287.5L548.8 2291.4L548.2 2295.2L547.7 2299.1L547.3 2303L547.1 2306.9L546.9 2310.8L546.8 2314.7L546.9 2318.5L547.5 2322.4L548.4 2326.3L549.6 2330.2L551 2334.1L552.6 2338L554.3 2341.8L556 2345.7L557.7 2349.6L559.2 2353.5L560.6 2357.4L561.9 2361.3L562.9 2365.1L563.9 2369L564.6 2372.9L565.3 2376.8L565.8 2380.7L566.1 2384.6L567 2388.4Z" fill="#e58891" stroke="#d62d38" stroke-width="2" stroke-linejoin="round"/>
<path d="M617.5 2436L618.4 2432.7L618.7 2429.5L619.2 2426.3L619.8 2423.1L620.6 2419.8L621.5 2416.6L622.6 2413.4L623.8 2410.2L625.2 2407L626.7 2403.7L628.3 2400.5L630 2397.3L631.6 2394.1L633.2 2390.8L634.7 2387.6L635.9 2384.4L636.9 2381.2L637.5 2378L637.7 2374.7L637.6 2371.5L637.5 2368.3L637.2 2365.1L636.9 2361.8L636.4 2358.6L635.8 2355.4L635.2 2352.2L634.5 2349L633.8 2345.7L633 2342.5L632.2 2339.3L631.3 2336.1L630.5 2332.8L629.6 2329.6L628.7 2326.4L627.9 2323.2L627 2320L626.2 2316.7L625.4 2313.5L624.7 2310.3L624 2307.1L623.3 2303.8L622.7 2300.6L622.1 2297.4L621.6 2294.2L621.1 2290.9L620.6 2287.7L620.2 2284.5L619.8 2281.3L619.5 2278.1L619.2 2274.8L619 2271.6L618.7 2268.4L618.5 2265.2L618.3 2261.9L618.2 2258.7L618 2255.5L617.9 2252.3L617.8 2249.1L617.7 2245.8L617.5 2242.6L616.9 2242.6L616.7 2245.8L616.6 2249.1L616.5 2252.3L616.4 2255.5L616.2 2258.7L616.1 2261.9L615.9 2265.2L615.7 2268.4L615.4 2271.6L615.2 2274.8L614.9 2278.1L614.6 2281.3L614.2 2284.5L613.8 2287.7L613.3 2290.9L612.8 2294.2L612.3 2297.4L611.7 2300.6L611.1 2303.8L610.4 2307.1L609.7 2310.3L609 2313.5L608.2 2316.7L607.4 2320L606.5 2323.2L605.7 2326.4L604.8 2329.6L603.9 2332.8L603.1 2336.1L602.2 2339.3L601.4 2342.5L600.6 2345.7L599.9 2349L599.2 2352.2L598.6 2355.4L598 2358.6L597.5 2361.8L597.2 2365.1L596.9 2368.3L596.8 2371.5L596.7 2374.7L596.9 2378L597.5 2381.2L598.5 2384.4L599.7 2387.6L601.2 2390.8L602.8 2394.1L604.4 2397.3L606.1 2400.5L607.7 2403.7L609.2 2407L610.6 2410.2L611.8 2413.4L612.9 2416.6L613.8 2419.8L614.6 2423.1L615.2 2426.3L615.7 2429.5L616 2432.7L616.9 2436Z" fill="#93b3da" stroke="#4a82c6" stroke-width="2" stroke-linejoin="round"/>
<path d="M668 2429.1L668.8 2426.6L669 2424.1L669.3 2421.6L669.7 2419.1L670.1 2416.6L670.6 2414.2L671.1 2411.7L671.7 2409.2L672.5 2406.7L673.3 2404.2L674.2 2401.7L675.1 2399.3L676.2 2396.8L677.3 2394.3L678.4 2391.8L679.6 2389.3L680.8 2386.8L682 2384.3L683.2 2381.9L684.3 2379.4L685.3 2376.9L686.2 2374.4L687 2371.9L687.6 2369.4L688 2366.9L688.2 2364.5L688.2 2362L688 2359.5L687.7 2357L687.2 2354.5L686.6 2352L685.9 2349.6L685.1 2347.1L684.2 2344.6L683.2 2342.1L682.2 2339.6L681.1 2337.1L680 2334.6L679 2332.2L677.9 2329.7L676.9 2327.2L676 2324.7L675.1 2322.2L674.2 2319.7L673.4 2317.2L672.7 2314.8L672 2312.3L671.4 2309.8L670.9 2307.3L670.4 2304.8L670 2302.3L669.7 2299.9L669.3 2297.4L669.1 2294.9L668.8 2292.4L668.7 2289.9L668.5 2287.4L668.4 2284.9L668.2 2282.5L668 2280L667.4 2280L667.2 2282.5L667 2284.9L666.9 2287.4L666.7 2289.9L666.6 2292.4L666.3 2294.9L666.1 2297.4L665.7 2299.9L665.4 2302.3L665 2304.8L664.5 2307.3L664 2309.8L663.4 2312.3L662.7 2314.8L662 2317.2L661.2 2319.7L660.3 2322.2L659.4 2324.7L658.5 2327.2L657.5 2329.7L656.4 2332.2L655.4 2334.6L654.3 2337.1L653.2 2339.6L652.2 2342.1L651.2 2344.6L650.3 2347.1L649.5 2349.6L648.8 2352L648.2 2354.5L647.7 2357L647.4 2359.5L647.2 2362L647.2 2364.5L647.4 2366.9L647.8 2369.4L648.4 2371.9L649.2 2374.4L650.1 2376.9L651.1 2379.4L652.2 2381.9L653.4 2384.3L654.6 2386.8L655.8 2389.3L657 2391.8L658.1 2394.3L659.2 2396.8L660.3 2399.3L661.2 2401.7L662.1 2404.2L662.9 2406.7L663.7 2409.2L664.3 2411.7L664.8 2414.2L665.3 2416.6L665.7 2419.1L666.1 2421.6L666.4 2424.1L666.6 2426.6L667.4 2429.1Z" fill="#e58891" stroke="#d62d38" stroke-width="2" stroke-linejoin="round"/>
<path d="M717.9 2452L718.7 2447.7L719.1 2443.3L719.6 2439L720.2 2434.6L720.9 2430.3L721.7 2426L722.7 2421.6L723.9 2417.3L725.2 2412.9L726.6 2408.6L728.1 2404.3L729.7 2399.9L731.4 2395.6L733 2391.2L734.4 2386.9L735.8 2382.5L736.8 2378.2L737.6 2373.9L738 2369.5L738.1 2365.2L738 2360.8L737.8 2356.5L737.5 2352.1L737.1 2347.8L736.6 2343.5L736 2339.1L735.3 2334.8L734.6 2330.4L733.8 2326.1L733 2321.8L732.1 2317.4L731.2 2313.1L730.4 2308.7L729.5 2304.4L728.6 2300L727.7 2295.7L726.9 2291.4L726.1 2287L725.3 2282.7L724.6 2278.3L723.9 2274L723.3 2269.6L722.7 2265.3L722.1 2261L721.6 2256.6L721.1 2252.3L720.7 2247.9L720.3 2243.6L720 2239.3L719.7 2234.9L719.4 2230.6L719.1 2226.2L718.9 2221.9L718.7 2217.5L718.6 2213.2L718.4 2208.9L718.3 2204.5L718.2 2200.2L718.1 2195.8L717.9 2191.5L717.3 2191.5L717.1 2195.8L717 2200.2L716.9 2204.5L716.8 2208.9L716.6 2213.2L716.5 2217.5L716.3 2221.9L716.1 2226.2L715.8 2230.6L715.5 2234.9L715.2 2239.3L714.9 2243.6L714.5 2247.9L714.1 2252.3L713.6 2256.6L713.1 2261L712.5 2265.3L711.9 2269.6L711.3 2274L710.6 2278.3L709.9 2282.7L709.1 2287L708.3 2291.4L707.5 2295.7L706.6 2300L705.7 2304.4L704.8 2308.7L704 2313.1L703.1 2317.4L702.2 2321.8L701.4 2326.1L700.6 2330.4L699.9 2334.8L699.2 2339.1L698.6 2343.5L698.1 2347.8L697.7 2352.1L697.4 2356.5L697.2 2360.8L697.1 2365.2L697.2 2369.5L697.6 2373.9L698.4 2378.2L699.4 2382.5L700.8 2386.9L702.2 2391.2L703.8 2395.6L705.5 2399.9L707.1 2404.3L708.6 2408.6L710 2412.9L711.3 2417.3L712.5 2421.6L713.5 2426L714.3 2430.3L715 2434.6L715.6 2439L716.1 2443.3L716.5 2447.7L717.3 2452Z" fill="#93b3da" stroke="#4a82c6" stroke-width="2" stroke-linejoin="round"/>
<path d="M768.4 2454.3L769.3 2450.1L769.6 2445.9L770.1 2441.7L770.7 2437.5L771.5 2433.3L772.4 2429.1L773.5 2424.9L774.7 2420.7L776.1 2416.5L777.6 2412.3L779.3 2408.1L780.9 2403.9L782.6 2399.7L784.2 2395.5L785.7 2391.3L786.9 2387.1L787.8 2382.9L788.4 2378.7L788.6 2374.5L788.5 2370.3L788.4 2366.1L788.1 2361.9L787.7 2357.7L787.3 2353.5L786.7 2349.3L786.1 2345.1L785.4 2340.9L784.7 2336.7L783.9 2332.5L783 2328.3L782.2 2324.1L781.3 2319.9L780.5 2315.7L779.6 2311.5L778.7 2307.3L777.9 2303.1L777.1 2298.9L776.3 2294.7L775.6 2290.5L774.9 2286.3L774.2 2282.1L773.6 2277.9L773 2273.7L772.5 2269.5L772 2265.3L771.5 2261.1L771.1 2256.9L770.7 2252.7L770.4 2248.5L770.1 2244.3L769.8 2240.1L769.6 2235.9L769.4 2231.7L769.2 2227.5L769.1 2223.3L768.9 2219.1L768.8 2214.9L768.7 2210.7L768.6 2206.5L768.4 2202.3L767.8 2202.3L767.6 2206.5L767.5 2210.7L767.4 2214.9L767.3 2219.1L767.1 2223.3L767 2227.5L766.8 2231.7L766.6 2235.9L766.4 2240.1L766.1 2244.3L765.8 2248.5L765.5 2252.7L765.1 2256.9L764.7 2261.1L764.2 2265.3L763.7 2269.5L763.2 2273.7L762.6 2277.9L762 2282.1L761.3 2286.3L760.6 2290.5L759.9 2294.7L759.1 2298.9L758.3 2303.1L757.5 2307.3L756.6 2311.5L755.7 2315.7L754.9 2319.9L754 2324.1L753.2 2328.3L752.3 2332.5L751.5 2336.7L750.8 2340.9L750.1 2345.1L749.5 2349.3L748.9 2353.5L748.5 2357.7L748.1 2361.9L747.8 2366.1L747.7 2370.3L747.6 2374.5L747.8 2378.7L748.4 2382.9L749.3 2387.1L750.5 2391.3L752 2395.5L753.6 2399.7L755.3 2403.9L756.9 2408.1L758.6 2412.3L760.1 2416.5L761.5 2420.7L762.7 2424.9L763.8 2429.1L764.7 2433.3L765.5 2437.5L766.1 2441.7L766.6 2445.9L766.9 2450.1L767.8 2454.3Z" fill="#e58891" stroke="#d62d38" stroke-width="2" stroke-linejoin="round"/>
<path d="M818.3 2411.1L819.1 2408L819.4 2404.9L819.7 2401.9L820.1 2398.8L820.6 2395.7L821.1 2392.7L821.8 2389.6L822.5 2386.5L823.4 2383.5L824.3 2380.4L825.4 2377.3L826.5 2374.3L827.7 2371.2L829 2368.2L830.3 2365.1L831.6 2362L832.9 2359L834.1 2355.9L835.3 2352.8L836.3 2349.8L837.2 2346.7L837.8 2343.6L838.3 2340.6L838.5 2337.5L838.5 2334.5L838.3 2331.4L838 2328.3L837.6 2325.3L837 2322.2L836.4 2319.1L835.6 2316.1L834.8 2313L833.9 2309.9L832.9 2306.9L831.9 2303.8L830.9 2300.7L829.9 2297.7L829 2294.6L828 2291.6L827 2288.5L826.2 2285.4L825.3 2282.4L824.5 2279.3L823.8 2276.2L823.1 2273.2L822.4 2270.1L821.9 2267L821.4 2264L820.9 2260.9L820.5 2257.9L820.1 2254.8L819.8 2251.7L819.5 2248.7L819.3 2245.6L819.1 2242.5L818.9 2239.5L818.8 2236.4L818.6 2233.3L818.5 2230.3L818.3 2227.2L817.7 2227.2L817.5 2230.3L817.4 2233.3L817.2 2236.4L817.1 2239.5L816.9 2242.5L816.7 2245.6L816.5 2248.7L816.2 2251.7L815.9 2254.8L815.5 2257.9L815.1 2260.9L814.6 2264L814.1 2267L813.6 2270.1L812.9 2273.2L812.2 2276.2L811.5 2279.3L810.7 2282.4L809.8 2285.4L809 2288.5L808 2291.6L807 2294.6L806.1 2297.7L805.1 2300.7L804.1 2303.8L803.1 2306.9L802.1 2309.9L801.2 2313L800.4 2316.1L799.6 2319.1L799 2322.2L798.4 2325.3L798 2328.3L797.7 2331.4L797.5 2334.5L797.5 2337.5L797.7 2340.6L798.2 2343.6L798.8 2346.7L799.7 2349.8L800.7 2352.8L801.9 2355.9L803.1 2359L804.4 2362L805.7 2365.1L807 2368.2L808.3 2371.2L809.5 2374.3L810.6 2377.3L811.7 2380.4L812.6 2383.5L813.5 2386.5L814.2 2389.6L814.9 2392.7L815.4 2395.7L815.9 2398.8L816.3 2401.9L816.6 2404.9L816.9 2408L817.7 2411.1Z" fill="#93b3da" stroke="#4a82c6" stroke-width="2" stroke-linejoin="round"/>
<path d="M868.8 2405.2L869.6 2402L869.8 2398.9L870.1 2395.8L870.4 2392.7L870.8 2389.6L871.3 2386.5L871.8 2383.4L872.4 2380.2L873.1 2377.1L873.9 2374L874.7 2370.9L875.7 2367.8L876.7 2364.7L877.7 2361.6L878.9 2358.5L880 2355.3L881.2 2352.2L882.4 2349.1L883.5 2346L884.6 2342.9L885.7 2339.8L886.6 2336.7L887.4 2333.5L888.1 2330.4L888.6 2327.3L888.9 2324.2L889 2321.1L888.9 2318L888.7 2314.9L888.3 2311.8L887.7 2308.6L887 2305.5L886.2 2302.4L885.4 2299.3L884.4 2296.2L883.4 2293.1L882.3 2290L881.2 2286.9L880.1 2283.7L879.1 2280.6L878 2277.5L877.1 2274.4L876.1 2271.3L875.2 2268.2L874.4 2265.1L873.7 2261.9L873 2258.8L872.3 2255.7L871.8 2252.6L871.3 2249.5L870.9 2246.4L870.5 2243.3L870.2 2240.2L869.9 2237L869.7 2233.9L869.5 2230.8L869.3 2227.7L869.2 2224.6L869 2221.5L868.8 2218.4L868.2 2218.4L868 2221.5L867.8 2224.6L867.7 2227.7L867.5 2230.8L867.3 2233.9L867.1 2237L866.8 2240.2L866.5 2243.3L866.1 2246.4L865.7 2249.5L865.2 2252.6L864.7 2255.7L864 2258.8L863.3 2261.9L862.6 2265.1L861.8 2268.2L860.9 2271.3L859.9 2274.4L859 2277.5L857.9 2280.6L856.9 2283.7L855.8 2286.9L854.7 2290L853.6 2293.1L852.6 2296.2L851.6 2299.3L850.8 2302.4L850 2305.5L849.3 2308.6L848.7 2311.8L848.3 2314.9L848.1 2318L848 2321.1L848.1 2324.2L848.4 2327.3L848.9 2330.4L849.6 2333.5L850.4 2336.7L851.3 2339.8L852.4 2342.9L853.5 2346L854.6 2349.1L855.8 2352.2L857 2355.3L858.1 2358.5L859.3 2361.6L860.3 2364.7L861.3 2367.8L862.3 2370.9L863.1 2374L863.9 2377.1L864.6 2380.2L865.2 2383.4L865.7 2386.5L866.2 2389.6L866.6 2392.7L866.9 2395.8L867.2 2398.9L867.4 2402L868.2 2405.2Z" fill="#e58891" stroke="#d62d38" stroke-width="2" stroke-linejoin="round"/>
<path d="M918.7 2394.3L919.5 2392.3L919.8 2390.3L920.1 2388.3L920.5 2386.3L921 2384.2L921.6 2382.2L922.3 2380.2L923 2378.2L923.9 2376.2L924.9 2374.1L926 2372.1L927.1 2370.1L928.4 2368.1L929.7 2366L931 2364L932.3 2362L933.6 2360L934.8 2358L936 2355.9L937 2353.9L937.8 2351.9L938.4 2349.9L938.8 2347.9L938.9 2345.8L938.8 2343.8L938.6 2341.8L938.3 2339.8L937.8 2337.8L937.2 2335.7L936.5 2333.7L935.7 2331.7L934.9 2329.7L934 2327.7L933 2325.6L932.1 2323.6L931.1 2321.6L930.1 2319.6L929.1 2317.5L928.2 2315.5L927.2 2313.5L926.4 2311.5L925.5 2309.5L924.8 2307.4L924 2305.4L923.4 2303.4L922.7 2301.4L922.2 2299.4L921.7 2297.3L921.2 2295.3L920.8 2293.3L920.5 2291.3L920.2 2289.3L919.9 2287.2L919.7 2285.2L919.5 2283.2L919.3 2281.2L919.2 2279.2L919 2277.1L918.9 2275.1L918.7 2273.1L918.1 2273.1L917.9 2275.1L917.8 2277.1L917.6 2279.2L917.5 2281.2L917.3 2283.2L917.1 2285.2L916.9 2287.2L916.6 2289.3L916.3 2291.3L916 2293.3L915.6 2295.3L915.1 2297.3L914.6 2299.4L914.1 2301.4L913.4 2303.4L912.8 2305.4L912 2307.4L911.3 2309.5L910.4 2311.5L909.6 2313.5L908.6 2315.5L907.7 2317.5L906.7 2319.6L905.7 2321.6L904.7 2323.6L903.8 2325.6L902.8 2327.7L901.9 2329.7L901.1 2331.7L900.3 2333.7L899.6 2335.7L899 2337.8L898.5 2339.8L898.2 2341.8L898 2343.8L897.9 2345.8L898 2347.9L898.4 2349.9L899 2351.9L899.8 2353.9L900.8 2355.9L902 2358L903.2 2360L904.5 2362L905.8 2364L907.1 2366L908.4 2368.1L909.7 2370.1L910.8 2372.1L911.9 2374.1L912.9 2376.2L913.8 2378.2L914.5 2380.2L915.2 2382.2L915.8 2384.2L916.3 2386.3L916.7 2388.3L917 2390.3L917.3 2392.3L918.1 2394.3Z" fill="#93b3da" stroke="#4a82c6" stroke-width="2" stroke-linejoin="round"/>
<path d="M969.2 2386.1L970 2384.3L970.2 2382.5L970.5 2380.6L970.9 2378.8L971.3 2376.9L971.8 2375.1L972.4 2373.3L973 2371.4L973.8 2369.6L974.6 2367.7L975.5 2365.9L976.6 2364.1L977.6 2362.2L978.8 2360.4L980 2358.5L981.2 2356.7L982.4 2354.9L983.6 2353L984.8 2351.2L985.9 2349.3L986.9 2347.5L987.7 2345.7L988.4 2343.8L989 2342L989.3 2340.1L989.4 2338.3L989.3 2336.4L989.1 2334.6L988.7 2332.8L988.2 2330.9L987.5 2329.1L986.8 2327.2L985.9 2325.4L985 2323.6L984 2321.7L983 2319.9L981.9 2318L980.9 2316.2L979.8 2314.4L978.8 2312.5L977.8 2310.7L976.9 2308.8L976 2307L975.2 2305.2L974.4 2303.3L973.7 2301.5L973.1 2299.6L972.5 2297.8L972 2296L971.6 2294.1L971.2 2292.3L970.8 2290.4L970.5 2288.6L970.3 2286.8L970 2284.9L969.8 2283.1L969.7 2281.2L969.6 2279.4L969.4 2277.6L969.2 2275.7L968.6 2275.7L968.4 2277.6L968.2 2279.4L968.1 2281.2L968 2283.1L967.8 2284.9L967.5 2286.8L967.3 2288.6L967 2290.4L966.6 2292.3L966.2 2294.1L965.8 2296L965.3 2297.8L964.7 2299.6L964.1 2301.5L963.4 2303.3L962.6 2305.2L961.8 2307L960.9 2308.8L960 2310.7L959 2312.5L958 2314.4L956.9 2316.2L955.9 2318L954.8 2319.9L953.8 2321.7L952.8 2323.6L951.9 2325.4L951 2327.2L950.3 2329.1L949.6 2330.9L949.1 2332.8L948.7 2334.6L948.5 2336.4L948.4 2338.3L948.5 2340.1L948.8 2342L949.4 2343.8L950.1 2345.7L950.9 2347.5L951.9 2349.3L953 2351.2L954.2 2353L955.4 2354.9L956.6 2356.7L957.8 2358.5L959 2360.4L960.2 2362.2L961.2 2364.1L962.3 2365.9L963.2 2367.7L964 2369.6L964.8 2371.4L965.4 2373.3L966 2375.1L966.5 2376.9L966.9 2378.8L967.3 2380.6L967.6 2382.5L967.8 2384.3L968.6 2386.1Z" fill="#e58891" stroke="#d62d38" stroke-width="2" stroke-linejoin="round"/>
<path d="M1019.1 2405.8L1019.9 2403.3L1020.2 2400.8L1020.6 2398.3L1021 2395.8L1021.5 2393.2L1022.1 2390.7L1022.9 2388.2L1023.7 2385.7L1024.6 2383.2L1025.7 2380.7L1026.9 2378.2L1028.1 2375.7L1029.4 2373.1L1030.8 2370.6L1032.2 2368.1L1033.5 2365.6L1034.8 2363.1L1036.1 2360.6L1037.1 2358.1L1038 2355.6L1038.7 2353L1039.1 2350.5L1039.3 2348L1039.2 2345.5L1039.1 2343L1038.7 2340.5L1038.3 2338L1037.7 2335.5L1037.1 2332.9L1036.4 2330.4L1035.5 2327.9L1034.7 2325.4L1033.8 2322.9L1032.8 2320.4L1031.9 2317.9L1030.9 2315.4L1029.9 2312.8L1029 2310.3L1028.1 2307.8L1027.2 2305.3L1026.4 2302.8L1025.6 2300.3L1024.8 2297.8L1024.2 2295.3L1023.5 2292.8L1022.9 2290.2L1022.4 2287.7L1021.9 2285.2L1021.5 2282.7L1021.1 2280.2L1020.8 2277.7L1020.5 2275.2L1020.3 2272.7L1020 2270.1L1019.9 2267.6L1019.7 2265.1L1019.6 2262.6L1019.4 2260.1L1019.3 2257.6L1019.1 2255.1L1018.5 2255.1L1018.3 2257.6L1018.2 2260.1L1018 2262.6L1017.9 2265.1L1017.7 2267.6L1017.6 2270.1L1017.3 2272.7L1017.1 2275.2L1016.8 2277.7L1016.5 2280.2L1016.1 2282.7L1015.7 2285.2L1015.2 2287.7L1014.7 2290.2L1014.1 2292.8L1013.4 2295.3L1012.8 2297.8L1012 2300.3L1011.2 2302.8L1010.4 2305.3L1009.5 2307.8L1008.6 2310.3L1007.7 2312.8L1006.7 2315.4L1005.7 2317.9L1004.8 2320.4L1003.8 2322.9L1002.9 2325.4L1002.1 2327.9L1001.2 2330.4L1000.5 2332.9L999.9 2335.5L999.3 2338L998.9 2340.5L998.5 2343L998.4 2345.5L998.3 2348L998.5 2350.5L998.9 2353L999.6 2355.6L1000.5 2358.1L1001.5 2360.6L1002.8 2363.1L1004.1 2365.6L1005.4 2368.1L1006.8 2370.6L1008.2 2373.1L1009.5 2375.7L1010.7 2378.2L1011.9 2380.7L1013 2383.2L1013.9 2385.7L1014.7 2388.2L1015.5 2390.7L1016.1 2393.2L1016.6 2395.8L1017 2398.3L1017.4 2400.8L1017.7 2403.3L1018.5 2405.8Z" fill="#93b3da" stroke="#4a82c6" stroke-width="2" stroke-linejoin="round"/>
<path d="M1069.6 2393.7L1070.4 2391.8L1070.6 2389.9L1070.9 2388L1071.3 2386.1L1071.7 2384.3L1072.2 2382.4L1072.7 2380.5L1073.4 2378.6L1074.1 2376.7L1074.9 2374.8L1075.8 2373L1076.8 2371.1L1077.8 2369.2L1078.9 2367.3L1080.1 2365.4L1081.3 2363.5L1082.5 2361.6L1083.7 2359.8L1084.8 2357.9L1085.9 2356L1087 2354.1L1087.9 2352.2L1088.6 2350.3L1089.2 2348.5L1089.6 2346.6L1089.8 2344.7L1089.8 2342.8L1089.6 2340.9L1089.3 2339L1088.8 2337.2L1088.2 2335.3L1087.5 2333.4L1086.6 2331.5L1085.7 2329.6L1084.7 2327.7L1083.7 2325.8L1082.7 2324L1081.6 2322.1L1080.5 2320.2L1079.5 2318.3L1078.5 2316.4L1077.5 2314.5L1076.6 2312.7L1075.8 2310.8L1075 2308.9L1074.3 2307L1073.6 2305.1L1073 2303.2L1072.5 2301.4L1072 2299.5L1071.6 2297.6L1071.3 2295.7L1070.9 2293.8L1070.7 2291.9L1070.4 2290L1070.3 2288.2L1070.1 2286.3L1070 2284.4L1069.8 2282.5L1069.6 2280.6L1069 2280.6L1068.8 2282.5L1068.6 2284.4L1068.5 2286.3L1068.3 2288.2L1068.2 2290L1067.9 2291.9L1067.7 2293.8L1067.3 2295.7L1067 2297.6L1066.6 2299.5L1066.1 2301.4L1065.6 2303.2L1065 2305.1L1064.3 2307L1063.6 2308.9L1062.8 2310.8L1062 2312.7L1061.1 2314.5L1060.1 2316.4L1059.1 2318.3L1058.1 2320.2L1057 2322.1L1055.9 2324L1054.9 2325.8L1053.9 2327.7L1052.9 2329.6L1052 2331.5L1051.1 2333.4L1050.4 2335.3L1049.8 2337.2L1049.3 2339L1049 2340.9L1048.8 2342.8L1048.8 2344.7L1049 2346.6L1049.4 2348.5L1050 2350.3L1050.7 2352.2L1051.6 2354.1L1052.7 2356L1053.8 2357.9L1054.9 2359.8L1056.1 2361.6L1057.3 2363.5L1058.5 2365.4L1059.7 2367.3L1060.8 2369.2L1061.8 2371.1L1062.8 2373L1063.7 2374.8L1064.5 2376.7L1065.2 2378.6L1065.9 2380.5L1066.4 2382.4L1066.9 2384.3L1067.3 2386.1L1067.7 2388L1068 2389.9L1068.2 2391.8L1069 2393.7Z" fill="#e58891" stroke="#d62d38" stroke-width="2" stroke-linejoin="round"/>
<path d="M1119.5 2245.6L1120.2 2243.7L1120.5 2241.9L1120.7 2240L1121 2238.2L1121.3 2236.3L1121.7 2234.5L1122.2 2232.6L1122.7 2230.8L1123.3 2228.9L1123.9 2227L1124.7 2225.2L1125.4 2223.3L1126.3 2221.5L1127.2 2219.6L1128.1 2217.8L1129.2 2215.9L1130.2 2214.1L1131.3 2212.2L1132.4 2210.4L1133.4 2208.5L1134.5 2206.7L1135.5 2204.8L1136.4 2203L1137.3 2201.1L1138 2199.3L1138.7 2197.4L1139.2 2195.6L1139.5 2193.7L1139.7 2191.9L1139.7 2190L1139.5 2188.2L1139.1 2186.3L1138.6 2184.5L1137.9 2182.6L1137 2180.8L1136 2178.9L1135 2177.1L1133.9 2175.2L1132.7 2173.4L1131.5 2171.5L1130.4 2169.7L1129.2 2167.8L1128.1 2165.9L1127.1 2164.1L1126.1 2162.2L1125.2 2160.4L1124.4 2158.5L1123.7 2156.7L1123 2154.8L1122.4 2153L1121.9 2151.1L1121.4 2149.3L1121.1 2147.4L1120.7 2145.6L1120.5 2143.7L1120.2 2141.9L1120 2140L1119.9 2138.2L1119.8 2136.3L1119.5 2134.5L1118.9 2134.5L1118.6 2136.3L1118.5 2138.2L1118.4 2140L1118.2 2141.9L1117.9 2143.7L1117.7 2145.6L1117.3 2147.4L1117 2149.3L1116.5 2151.1L1116 2153L1115.4 2154.8L1114.7 2156.7L1114 2158.5L1113.2 2160.4L1112.3 2162.2L1111.3 2164.1L1110.3 2165.9L1109.2 2167.8L1108 2169.7L1106.9 2171.5L1105.7 2173.4L1104.5 2175.2L1103.4 2177.1L1102.4 2178.9L1101.4 2180.8L1100.5 2182.6L1099.8 2184.5L1099.3 2186.3L1098.9 2188.2L1098.7 2190L1098.7 2191.9L1098.9 2193.7L1099.2 2195.6L1099.7 2197.4L1100.4 2199.3L1101.1 2201.1L1102 2203L1102.9 2204.8L1103.9 2206.7L1105 2208.5L1106 2210.4L1107.1 2212.2L1108.2 2214.1L1109.2 2215.9L1110.3 2217.8L1111.2 2219.6L1112.1 2221.5L1113 2223.3L1113.7 2225.2L1114.5 2227L1115.1 2228.9L1115.7 2230.8L1116.2 2232.6L1116.7 2234.5L1117.1 2236.3L1117.4 2238.2L1117.7 2240L1117.9 2241.9L1118.2 2243.7L1118.9 2245.6Z" fill="#93b3da" stroke="#4a82c6" stroke-width="2" stroke-linejoin="round"/>
<path d="M1170 2225.9L1170.8 2224.5L1171 2223.1L1171.2 2221.8L1171.6 2220.4L1171.9 2219L1172.4 2217.6L1172.9 2216.2L1173.4 2214.8L1174.1 2213.5L1174.8 2212.1L1175.5 2210.7L1176.4 2209.3L1177.3 2207.9L1178.3 2206.6L1179.4 2205.2L1180.4 2203.8L1181.6 2202.4L1182.7 2201L1183.8 2199.6L1184.9 2198.3L1186 2196.9L1187 2195.5L1187.9 2194.1L1188.6 2192.7L1189.3 2191.4L1189.8 2190L1190.1 2188.6L1190.2 2187.2L1190.1 2185.8L1189.9 2184.4L1189.5 2183.1L1189 2181.7L1188.2 2180.3L1187.4 2178.9L1186.5 2177.5L1185.5 2176.2L1184.4 2174.8L1183.3 2173.4L1182.2 2172L1181.1 2170.6L1180 2169.2L1178.9 2167.9L1177.9 2166.5L1176.9 2165.1L1176.1 2163.7L1175.2 2162.3L1174.5 2161L1173.8 2159.6L1173.2 2158.2L1172.7 2156.8L1172.2 2155.4L1171.8 2154L1171.5 2152.7L1171.2 2151.3L1170.9 2149.9L1170.7 2148.5L1170.5 2147.1L1170.4 2145.8L1170.2 2144.4L1170 2143L1169.4 2143L1169.2 2144.4L1169 2145.8L1168.9 2147.1L1168.7 2148.5L1168.5 2149.9L1168.2 2151.3L1167.9 2152.7L1167.6 2154L1167.2 2155.4L1166.7 2156.8L1166.2 2158.2L1165.6 2159.6L1164.9 2161L1164.2 2162.3L1163.3 2163.7L1162.5 2165.1L1161.5 2166.5L1160.5 2167.9L1159.4 2169.2L1158.3 2170.6L1157.2 2172L1156.1 2173.4L1155 2174.8L1153.9 2176.2L1152.9 2177.5L1152 2178.9L1151.2 2180.3L1150.4 2181.7L1149.9 2183.1L1149.5 2184.4L1149.3 2185.8L1149.2 2187.2L1149.3 2188.6L1149.6 2190L1150.1 2191.4L1150.8 2192.7L1151.5 2194.1L1152.4 2195.5L1153.4 2196.9L1154.5 2198.3L1155.6 2199.6L1156.7 2201L1157.8 2202.4L1159 2203.8L1160 2205.2L1161.1 2206.6L1162.1 2207.9L1163 2209.3L1163.9 2210.7L1164.6 2212.1L1165.3 2213.5L1166 2214.8L1166.5 2216.2L1167 2217.6L1167.5 2219L1167.8 2220.4L1168.2 2221.8L1168.4 2223.1L1168.6 2224.5L1169.4 2225.9Z" fill="#e58891" stroke="#d62d38" stroke-width="2" stroke-linejoin="round"/>
<path d="M1219.9 2377L1220.7 2373.8L1220.9 2370.6L1221.2 2367.5L1221.6 2364.3L1222 2361.2L1222.5 2358L1223 2354.8L1223.6 2351.7L1224.4 2348.5L1225.2 2345.3L1226 2342.2L1227 2339L1228 2335.9L1229.1 2332.7L1230.3 2329.5L1231.5 2326.4L1232.7 2323.2L1233.9 2320L1235.1 2316.9L1236.2 2313.7L1237.2 2310.6L1238.1 2307.4L1238.9 2304.2L1239.5 2301.1L1239.9 2297.9L1240.1 2294.7L1240.1 2291.6L1239.9 2288.4L1239.6 2285.3L1239.2 2282.1L1238.6 2278.9L1237.8 2275.8L1237 2272.6L1236.1 2269.5L1235.1 2266.3L1234.1 2263.1L1233 2260L1232 2256.8L1230.9 2253.6L1229.9 2250.5L1228.8 2247.3L1227.9 2244.2L1227 2241L1226.1 2237.8L1225.3 2234.7L1224.6 2231.5L1223.9 2228.3L1223.3 2225.2L1222.8 2222L1222.3 2218.9L1221.9 2215.7L1221.6 2212.5L1221.2 2209.4L1221 2206.2L1220.8 2203L1220.6 2199.9L1220.4 2196.7L1220.3 2193.6L1220.1 2190.4L1219.9 2187.2L1219.3 2187.2L1219.1 2190.4L1218.9 2193.6L1218.8 2196.7L1218.6 2199.9L1218.4 2203L1218.2 2206.2L1218 2209.4L1217.6 2212.5L1217.3 2215.7L1216.9 2218.9L1216.4 2222L1215.9 2225.2L1215.3 2228.3L1214.6 2231.5L1213.9 2234.7L1213.1 2237.8L1212.2 2241L1211.3 2244.2L1210.4 2247.3L1209.3 2250.5L1208.3 2253.6L1207.2 2256.8L1206.2 2260L1205.1 2263.1L1204.1 2266.3L1203.1 2269.5L1202.2 2272.6L1201.4 2275.8L1200.6 2278.9L1200 2282.1L1199.6 2285.3L1199.3 2288.4L1199.1 2291.6L1199.1 2294.7L1199.3 2297.9L1199.7 2301.1L1200.3 2304.2L1201.1 2307.4L1202 2310.6L1203 2313.7L1204.1 2316.9L1205.3 2320L1206.5 2323.2L1207.7 2326.4L1208.9 2329.5L1210.1 2332.7L1211.2 2335.9L1212.2 2339L1213.2 2342.2L1214 2345.3L1214.8 2348.5L1215.6 2351.7L1216.2 2354.8L1216.7 2358L1217.2 2361.2L1217.6 2364.3L1218 2367.5L1218.3 2370.6L1218.5 2373.8L1219.3 2377Z" fill="#93b3da" stroke="#4a82c6" stroke-width="2" stroke-linejoin="round"/>
<path d="M1270.4 2361.9L1271.1 2359.3L1271.3 2356.7L1271.5 2354.1L1271.7 2351.5L1272 2348.9L1272.3 2346.3L1272.6 2343.7L1273 2341.1L1273.4 2338.4L1273.9 2335.8L1274.4 2333.2L1274.9 2330.6L1275.5 2328L1276.2 2325.4L1276.9 2322.8L1277.6 2320.2L1278.4 2317.6L1279.3 2315L1280.1 2312.4L1281 2309.8L1281.9 2307.2L1282.8 2304.6L1283.7 2302L1284.6 2299.4L1285.5 2296.8L1286.4 2294.2L1287.2 2291.6L1287.9 2288.9L1288.6 2286.3L1289.2 2283.7L1289.7 2281.1L1290.1 2278.5L1290.4 2275.9L1290.5 2273.3L1290.6 2270.7L1290.4 2268.1L1290 2265.5L1289.3 2262.9L1288.4 2260.3L1287.3 2257.7L1286 2255.1L1284.6 2252.5L1283.2 2249.9L1281.8 2247.3L1280.4 2244.7L1279.1 2242.1L1277.8 2239.5L1276.7 2236.8L1275.6 2234.2L1274.7 2231.6L1273.9 2229L1273.2 2226.4L1272.6 2223.8L1272.1 2221.2L1271.7 2218.6L1271.3 2216L1271.1 2213.4L1270.8 2210.8L1270.7 2208.2L1270.4 2205.6L1269.8 2205.6L1269.5 2208.2L1269.4 2210.8L1269.1 2213.4L1268.9 2216L1268.5 2218.6L1268.1 2221.2L1267.6 2223.8L1267 2226.4L1266.3 2229L1265.5 2231.6L1264.6 2234.2L1263.5 2236.8L1262.4 2239.5L1261.1 2242.1L1259.8 2244.7L1258.4 2247.3L1257 2249.9L1255.6 2252.5L1254.2 2255.1L1252.9 2257.7L1251.8 2260.3L1250.9 2262.9L1250.2 2265.5L1249.8 2268.1L1249.6 2270.7L1249.7 2273.3L1249.8 2275.9L1250.1 2278.5L1250.5 2281.1L1251 2283.7L1251.6 2286.3L1252.3 2288.9L1253 2291.6L1253.8 2294.2L1254.7 2296.8L1255.6 2299.4L1256.5 2302L1257.4 2304.6L1258.3 2307.2L1259.2 2309.8L1260.1 2312.4L1260.9 2315L1261.8 2317.6L1262.6 2320.2L1263.3 2322.8L1264 2325.4L1264.7 2328L1265.3 2330.6L1265.8 2333.2L1266.3 2335.8L1266.8 2338.4L1267.2 2341.1L1267.6 2343.7L1267.9 2346.3L1268.2 2348.9L1268.5 2351.5L1268.7 2354.1L1268.9 2356.7L1269.1 2359.3L1269.8 2361.9Z" fill="#e58891" stroke="#d62d38" stroke-width="2" stroke-linejoin="round"/>
<path d="M1320.3 2392.7L1321.1 2388.9L1321.3 2385.1L1321.7 2381.3L1322 2377.5L1322.5 2373.6L1323 2369.8L1323.6 2366L1324.3 2362.2L1325.1 2358.4L1326 2354.6L1327 2350.8L1328.1 2347L1329.2 2343.1L1330.4 2339.3L1331.6 2335.5L1332.9 2331.7L1334.2 2327.9L1335.4 2324.1L1336.6 2320.3L1337.6 2316.5L1338.6 2312.6L1339.4 2308.8L1340 2305L1340.3 2301.2L1340.5 2297.4L1340.5 2293.6L1340.3 2289.8L1339.9 2286L1339.4 2282.1L1338.8 2278.3L1338.1 2274.5L1337.3 2270.7L1336.4 2266.9L1335.5 2263.1L1334.5 2259.3L1333.5 2255.5L1332.5 2251.6L1331.4 2247.8L1330.4 2244L1329.5 2240.2L1328.5 2236.4L1327.6 2232.6L1326.8 2228.8L1326 2225L1325.3 2221.1L1324.6 2217.3L1324 2213.5L1323.5 2209.7L1323 2205.9L1322.6 2202.1L1322.2 2198.3L1321.9 2194.5L1321.6 2190.7L1321.3 2186.8L1321.1 2183L1320.9 2179.2L1320.8 2175.4L1320.6 2171.6L1320.5 2167.8L1320.3 2164L1319.7 2164L1319.5 2167.8L1319.4 2171.6L1319.2 2175.4L1319.1 2179.2L1318.9 2183L1318.7 2186.8L1318.4 2190.7L1318.1 2194.5L1317.8 2198.3L1317.4 2202.1L1317 2205.9L1316.5 2209.7L1316 2213.5L1315.4 2217.3L1314.7 2221.1L1314 2225L1313.2 2228.8L1312.4 2232.6L1311.5 2236.4L1310.5 2240.2L1309.6 2244L1308.6 2247.8L1307.5 2251.6L1306.5 2255.5L1305.5 2259.3L1304.5 2263.1L1303.6 2266.9L1302.7 2270.7L1301.9 2274.5L1301.2 2278.3L1300.6 2282.1L1300.1 2286L1299.7 2289.8L1299.5 2293.6L1299.5 2297.4L1299.7 2301.2L1300 2305L1300.6 2308.8L1301.4 2312.6L1302.4 2316.5L1303.4 2320.3L1304.6 2324.1L1305.8 2327.9L1307.1 2331.7L1308.4 2335.5L1309.6 2339.3L1310.8 2343.1L1311.9 2347L1313 2350.8L1314 2354.6L1314.9 2358.4L1315.7 2362.2L1316.4 2366L1317 2369.8L1317.5 2373.6L1318 2377.5L1318.3 2381.3L1318.7 2385.1L1318.9 2388.9L1319.7 2392.7Z" fill="#93b3da" stroke="#4a82c6" stroke-width="2" stroke-linejoin="round"/>
<path d="M1370.8 2379.6L1371.6 2375.9L1371.8 2372.3L1372 2368.6L1372.4 2364.9L1372.7 2361.2L1373.1 2357.6L1373.6 2353.9L1374.2 2350.2L1374.8 2346.6L1375.5 2342.9L1376.2 2339.2L1377.1 2335.5L1378 2331.9L1378.9 2328.2L1380 2324.5L1381 2320.9L1382.1 2317.2L1383.2 2313.5L1384.4 2309.9L1385.5 2306.2L1386.5 2302.5L1387.5 2298.8L1388.4 2295.2L1389.2 2291.5L1389.9 2287.8L1390.4 2284.2L1390.8 2280.5L1391 2276.8L1391 2273.2L1390.8 2269.5L1390.5 2265.8L1390 2262.1L1389.3 2258.5L1388.5 2254.8L1387.6 2251.1L1386.6 2247.5L1385.5 2243.8L1384.4 2240.1L1383.2 2236.5L1382.1 2232.8L1381 2229.1L1379.9 2225.4L1378.9 2221.8L1377.9 2218.1L1377 2214.4L1376.2 2210.8L1375.4 2207.1L1374.7 2203.4L1374.1 2199.7L1373.5 2196.1L1373.1 2192.4L1372.6 2188.7L1372.3 2185.1L1372 2181.4L1371.7 2177.7L1371.5 2174.1L1371.3 2170.4L1371.2 2166.7L1371.1 2163L1370.8 2159.4L1370.2 2159.4L1369.9 2163L1369.8 2166.7L1369.7 2170.4L1369.5 2174.1L1369.3 2177.7L1369 2181.4L1368.7 2185.1L1368.4 2188.7L1367.9 2192.4L1367.5 2196.1L1366.9 2199.7L1366.3 2203.4L1365.6 2207.1L1364.8 2210.8L1364 2214.4L1363.1 2218.1L1362.1 2221.8L1361.1 2225.4L1360 2229.1L1358.9 2232.8L1357.8 2236.5L1356.6 2240.1L1355.5 2243.8L1354.4 2247.5L1353.4 2251.1L1352.5 2254.8L1351.7 2258.5L1351 2262.1L1350.5 2265.8L1350.2 2269.5L1350 2273.2L1350 2276.8L1350.2 2280.5L1350.6 2284.2L1351.1 2287.8L1351.8 2291.5L1352.6 2295.2L1353.5 2298.8L1354.5 2302.5L1355.5 2306.2L1356.6 2309.9L1357.8 2313.5L1358.9 2317.2L1360 2320.9L1361 2324.5L1362.1 2328.2L1363 2331.9L1363.9 2335.5L1364.8 2339.2L1365.5 2342.9L1366.2 2346.6L1366.8 2350.2L1367.4 2353.9L1367.9 2357.6L1368.3 2361.2L1368.6 2364.9L1369 2368.6L1369.2 2372.3L1369.4 2375.9L1370.2 2379.6Z" fill="#e58891" stroke="#d62d38" stroke-width="2" stroke-linejoin="round"/>
<path d="M1420.7 2408.8L1421.5 2405.5L1421.9 2402.3L1422.4 2399.1L1422.9 2395.8L1423.6 2392.6L1424.5 2389.4L1425.5 2386.1L1426.6 2382.9L1427.9 2379.7L1429.3 2376.4L1430.8 2373.2L1432.4 2370L1434 2366.7L1435.6 2363.5L1437.1 2360.3L1438.4 2357L1439.5 2353.8L1440.3 2350.6L1440.8 2347.3L1440.9 2344.1L1440.8 2340.9L1440.6 2337.6L1440.3 2334.4L1439.9 2331.2L1439.4 2327.9L1438.8 2324.7L1438.2 2321.5L1437.4 2318.2L1436.7 2315L1435.8 2311.8L1435 2308.5L1434.1 2305.3L1433.2 2302.1L1432.3 2298.8L1431.5 2295.6L1430.6 2292.4L1429.8 2289.1L1429 2285.9L1428.2 2282.7L1427.5 2279.4L1426.8 2276.2L1426.1 2273L1425.5 2269.7L1424.9 2266.5L1424.4 2263.3L1423.9 2260L1423.5 2256.8L1423.1 2253.6L1422.8 2250.3L1422.5 2247.1L1422.2 2243.9L1421.9 2240.6L1421.7 2237.4L1421.5 2234.2L1421.4 2230.9L1421.2 2227.7L1421.1 2224.5L1421 2221.2L1420.9 2218L1420.7 2214.8L1420.1 2214.8L1419.9 2218L1419.8 2221.2L1419.7 2224.5L1419.6 2227.7L1419.4 2230.9L1419.3 2234.2L1419.1 2237.4L1418.9 2240.6L1418.6 2243.9L1418.3 2247.1L1418 2250.3L1417.7 2253.6L1417.3 2256.8L1416.9 2260L1416.4 2263.3L1415.9 2266.5L1415.3 2269.7L1414.7 2273L1414 2276.2L1413.3 2279.4L1412.6 2282.7L1411.8 2285.9L1411 2289.1L1410.2 2292.4L1409.3 2295.6L1408.5 2298.8L1407.6 2302.1L1406.7 2305.3L1405.8 2308.5L1405 2311.8L1404.1 2315L1403.4 2318.2L1402.6 2321.5L1402 2324.7L1401.4 2327.9L1400.9 2331.2L1400.5 2334.4L1400.2 2337.6L1400 2340.9L1399.9 2344.1L1400 2347.3L1400.5 2350.6L1401.3 2353.8L1402.4 2357L1403.7 2360.3L1405.2 2363.5L1406.8 2366.7L1408.4 2370L1410 2373.2L1411.5 2376.4L1412.9 2379.7L1414.2 2382.9L1415.3 2386.1L1416.3 2389.4L1417.2 2392.6L1417.9 2395.8L1418.4 2399.1L1418.9 2402.3L1419.3 2405.5L1420.1 2408.8Z" fill="#93b3da" stroke="#4a82c6" stroke-width="2" stroke-linejoin="round"/>
<path d="M1471.2 2387.1L1472 2384.4L1472.4 2381.7L1472.8 2379.1L1473.3 2376.4L1473.9 2373.7L1474.6 2371L1475.5 2368.3L1476.5 2365.6L1477.6 2362.9L1478.8 2360.2L1480.2 2357.5L1481.6 2354.8L1483.1 2352.1L1484.6 2349.4L1486.1 2346.7L1487.5 2344L1488.8 2341.4L1489.8 2338.7L1490.6 2336L1491.2 2333.3L1491.4 2330.6L1491.4 2327.9L1491.2 2325.2L1490.9 2322.5L1490.5 2319.8L1490 2317.1L1489.5 2314.4L1488.8 2311.7L1488 2309L1487.2 2306.4L1486.4 2303.7L1485.5 2301L1484.6 2298.3L1483.7 2295.6L1482.8 2292.9L1481.9 2290.2L1481 2287.5L1480.1 2284.8L1479.3 2282.1L1478.5 2279.4L1477.7 2276.7L1477 2274L1476.4 2271.3L1475.8 2268.7L1475.2 2266L1474.7 2263.3L1474.2 2260.6L1473.8 2257.9L1473.4 2255.2L1473.1 2252.5L1472.8 2249.8L1472.5 2247.1L1472.3 2244.4L1472.1 2241.7L1471.9 2239L1471.8 2236.3L1471.6 2233.7L1471.5 2231L1471.4 2228.3L1471.2 2225.6L1470.6 2225.6L1470.4 2228.3L1470.3 2231L1470.2 2233.7L1470 2236.3L1469.9 2239L1469.7 2241.7L1469.5 2244.4L1469.3 2247.1L1469 2249.8L1468.7 2252.5L1468.4 2255.2L1468 2257.9L1467.6 2260.6L1467.1 2263.3L1466.6 2266L1466 2268.7L1465.4 2271.3L1464.8 2274L1464.1 2276.7L1463.3 2279.4L1462.5 2282.1L1461.7 2284.8L1460.8 2287.5L1459.9 2290.2L1459 2292.9L1458.1 2295.6L1457.2 2298.3L1456.3 2301L1455.4 2303.7L1454.6 2306.4L1453.8 2309L1453 2311.7L1452.3 2314.4L1451.8 2317.1L1451.3 2319.8L1450.9 2322.5L1450.6 2325.2L1450.4 2327.9L1450.4 2330.6L1450.6 2333.3L1451.2 2336L1452 2338.7L1453 2341.4L1454.3 2344L1455.7 2346.7L1457.2 2349.4L1458.7 2352.1L1460.2 2354.8L1461.6 2357.5L1463 2360.2L1464.2 2362.9L1465.3 2365.6L1466.3 2368.3L1467.2 2371L1467.9 2373.7L1468.5 2376.4L1469 2379.1L1469.4 2381.7L1469.8 2384.4L1470.6 2387.1Z" fill="#e58891" stroke="#d62d38" stroke-width="2" stroke-linejoin="round"/>
<path d="M1521.1 2420.6L1521.9 2416L1522.3 2411.4L1522.8 2406.9L1523.3 2402.3L1524 2397.8L1524.8 2393.2L1525.8 2388.7L1527 2384.1L1528.2 2379.6L1529.6 2375L1531.1 2370.4L1532.7 2365.9L1534.3 2361.3L1535.9 2356.8L1537.4 2352.2L1538.7 2347.7L1539.8 2343.1L1540.7 2338.6L1541.2 2334L1541.3 2329.5L1541.2 2324.9L1541 2320.3L1540.7 2315.8L1540.3 2311.2L1539.9 2306.7L1539.3 2302.1L1538.6 2297.6L1537.9 2293L1537.1 2288.5L1536.3 2283.9L1535.4 2279.3L1534.6 2274.8L1533.7 2270.2L1532.8 2265.7L1531.9 2261.1L1531.1 2256.6L1530.2 2252L1529.4 2247.5L1528.6 2242.9L1527.9 2238.4L1527.2 2233.8L1526.5 2229.2L1525.9 2224.7L1525.4 2220.1L1524.8 2215.6L1524.4 2211L1523.9 2206.5L1523.5 2201.9L1523.2 2197.4L1522.9 2192.8L1522.6 2188.2L1522.4 2183.7L1522.1 2179.1L1521.9 2174.6L1521.8 2170L1521.6 2165.5L1521.5 2160.9L1521.4 2156.4L1521.3 2151.8L1521.1 2147.3L1520.5 2147.3L1520.3 2151.8L1520.2 2156.4L1520.1 2160.9L1520 2165.5L1519.8 2170L1519.7 2174.6L1519.5 2179.1L1519.2 2183.7L1519 2188.2L1518.7 2192.8L1518.4 2197.4L1518.1 2201.9L1517.7 2206.5L1517.2 2211L1516.8 2215.6L1516.2 2220.1L1515.7 2224.7L1515.1 2229.2L1514.4 2233.8L1513.7 2238.4L1513 2242.9L1512.2 2247.5L1511.4 2252L1510.5 2256.6L1509.7 2261.1L1508.8 2265.7L1507.9 2270.2L1507 2274.8L1506.2 2279.3L1505.3 2283.9L1504.5 2288.5L1503.7 2293L1503 2297.6L1502.3 2302.1L1501.7 2306.7L1501.3 2311.2L1500.9 2315.8L1500.6 2320.3L1500.4 2324.9L1500.3 2329.5L1500.4 2334L1500.9 2338.6L1501.8 2343.1L1502.9 2347.7L1504.2 2352.2L1505.7 2356.8L1507.3 2361.3L1508.9 2365.9L1510.5 2370.4L1512 2375L1513.4 2379.6L1514.6 2384.1L1515.8 2388.7L1516.8 2393.2L1517.6 2397.8L1518.3 2402.3L1518.8 2406.9L1519.3 2411.4L1519.7 2416L1520.5 2420.6Z" fill="#93b3da" stroke="#4a82c6" stroke-width="2" stroke-linejoin="round"/>
<path d="M1571.6 2422.2L1572.5 2417L1572.8 2411.8L1573.3 2406.6L1573.9 2401.4L1574.7 2396.2L1575.5 2391L1576.6 2385.8L1577.8 2380.6L1579.2 2375.4L1580.7 2370.3L1582.2 2365.1L1583.9 2359.9L1585.6 2354.7L1587.2 2349.5L1588.6 2344.3L1589.9 2339.1L1590.9 2333.9L1591.5 2328.7L1591.8 2323.5L1591.8 2318.3L1591.6 2313.1L1591.4 2307.9L1591 2302.7L1590.6 2297.5L1590 2292.3L1589.4 2287.1L1588.7 2282L1588 2276.8L1587.2 2271.6L1586.4 2266.4L1585.5 2261.2L1584.7 2256L1583.8 2250.8L1582.9 2245.6L1582.1 2240.4L1581.2 2235.2L1580.4 2230L1579.6 2224.8L1578.9 2219.6L1578.2 2214.4L1577.5 2209.2L1576.8 2204L1576.3 2198.8L1575.7 2193.7L1575.2 2188.5L1574.8 2183.3L1574.3 2178.1L1574 2172.9L1573.6 2167.7L1573.3 2162.5L1573.1 2157.3L1572.8 2152.1L1572.6 2146.9L1572.4 2141.7L1572.3 2136.5L1572.1 2131.3L1572 2126.1L1571.9 2120.9L1571.8 2115.7L1571.6 2110.5L1571 2110.5L1570.8 2115.7L1570.7 2120.9L1570.6 2126.1L1570.5 2131.3L1570.3 2136.5L1570.2 2141.7L1570 2146.9L1569.8 2152.1L1569.5 2157.3L1569.3 2162.5L1569 2167.7L1568.6 2172.9L1568.3 2178.1L1567.8 2183.3L1567.4 2188.5L1566.9 2193.7L1566.3 2198.8L1565.8 2204L1565.1 2209.2L1564.4 2214.4L1563.7 2219.6L1563 2224.8L1562.2 2230L1561.4 2235.2L1560.5 2240.4L1559.7 2245.6L1558.8 2250.8L1557.9 2256L1557.1 2261.2L1556.2 2266.4L1555.4 2271.6L1554.6 2276.8L1553.9 2282L1553.2 2287.1L1552.6 2292.3L1552 2297.5L1551.6 2302.7L1551.2 2307.9L1551 2313.1L1550.8 2318.3L1550.8 2323.5L1551.1 2328.7L1551.7 2333.9L1552.7 2339.1L1554 2344.3L1555.4 2349.5L1557 2354.7L1558.7 2359.9L1560.4 2365.1L1561.9 2370.3L1563.4 2375.4L1564.8 2380.6L1566 2385.8L1567.1 2391L1567.9 2396.2L1568.7 2401.4L1569.3 2406.6L1569.8 2411.8L1570.1 2417L1571 2422.2Z" fill="#e58891" stroke="#d62d38" stroke-width="2" stroke-linejoin="round"/>
<path d="M1621.5 2346.5L1622.2 2344.2L1622.4 2342L1622.7 2339.8L1623 2337.5L1623.3 2335.3L1623.7 2333L1624.1 2330.8L1624.6 2328.5L1625.1 2326.3L1625.8 2324L1626.4 2321.8L1627.2 2319.6L1628 2317.3L1628.8 2315.1L1629.8 2312.8L1630.7 2310.6L1631.7 2308.3L1632.8 2306.1L1633.8 2303.8L1634.9 2301.6L1635.9 2299.4L1636.9 2297.1L1637.9 2294.9L1638.7 2292.6L1639.6 2290.4L1640.2 2288.1L1640.8 2285.9L1641.3 2283.6L1641.6 2281.4L1641.7 2279.2L1641.7 2276.9L1641.4 2274.7L1641 2272.4L1640.4 2270.2L1639.6 2267.9L1638.7 2265.7L1637.7 2263.4L1636.5 2261.2L1635.4 2258.9L1634.2 2256.7L1633 2254.5L1631.8 2252.2L1630.6 2250L1629.6 2247.7L1628.5 2245.5L1627.6 2243.2L1626.7 2241L1625.9 2238.7L1625.2 2236.5L1624.6 2234.3L1624 2232L1623.5 2229.8L1623.1 2227.5L1622.8 2225.3L1622.5 2223L1622.3 2220.8L1622.1 2218.5L1621.9 2216.3L1621.8 2214.1L1621.5 2211.8L1620.9 2211.8L1620.6 2214.1L1620.5 2216.3L1620.3 2218.5L1620.1 2220.8L1619.9 2223L1619.6 2225.3L1619.3 2227.5L1618.9 2229.8L1618.4 2232L1617.8 2234.3L1617.2 2236.5L1616.5 2238.7L1615.7 2241L1614.8 2243.2L1613.9 2245.5L1612.8 2247.7L1611.8 2250L1610.6 2252.2L1609.4 2254.5L1608.2 2256.7L1607 2258.9L1605.9 2261.2L1604.7 2263.4L1603.7 2265.7L1602.8 2267.9L1602 2270.2L1601.4 2272.4L1601 2274.7L1600.7 2276.9L1600.7 2279.2L1600.8 2281.4L1601.1 2283.6L1601.6 2285.9L1602.2 2288.1L1602.8 2290.4L1603.7 2292.6L1604.5 2294.9L1605.5 2297.1L1606.5 2299.4L1607.5 2301.6L1608.6 2303.8L1609.6 2306.1L1610.7 2308.3L1611.7 2310.6L1612.6 2312.8L1613.6 2315.1L1614.4 2317.3L1615.2 2319.6L1616 2321.8L1616.6 2324L1617.3 2326.3L1617.8 2328.5L1618.3 2330.8L1618.7 2333L1619.1 2335.3L1619.4 2337.5L1619.7 2339.8L1620 2342L1620.2 2344.2L1620.9 2346.5Z" fill="#93b3da" stroke="#4a82c6" stroke-width="2" stroke-linejoin="round"/>
<path d="M1672 2348.5L1672.7 2346.2L1672.9 2344L1673.1 2341.8L1673.3 2339.5L1673.6 2337.3L1673.9 2335.1L1674.2 2332.9L1674.6 2330.6L1675 2328.4L1675.5 2326.2L1676 2323.9L1676.6 2321.7L1677.2 2319.5L1677.8 2317.3L1678.5 2315L1679.3 2312.8L1680.1 2310.6L1680.9 2308.3L1681.8 2306.1L1682.7 2303.9L1683.6 2301.7L1684.5 2299.4L1685.4 2297.2L1686.3 2295L1687.2 2292.8L1688 2290.5L1688.8 2288.3L1689.6 2286.1L1690.2 2283.8L1690.8 2281.6L1691.3 2279.4L1691.7 2277.2L1692 2274.9L1692.2 2272.7L1692.2 2270.5L1692 2268.2L1691.5 2266L1690.8 2263.8L1689.9 2261.6L1688.7 2259.3L1687.5 2257.1L1686.1 2254.9L1684.7 2252.6L1683.3 2250.4L1681.9 2248.2L1680.6 2246L1679.3 2243.7L1678.2 2241.5L1677.2 2239.3L1676.2 2237L1675.4 2234.8L1674.7 2232.6L1674.1 2230.4L1673.7 2228.1L1673.2 2225.9L1672.9 2223.7L1672.7 2221.4L1672.4 2219.2L1672.3 2217L1672 2214.8L1671.4 2214.8L1671.1 2217L1671 2219.2L1670.7 2221.4L1670.5 2223.7L1670.2 2225.9L1669.7 2228.1L1669.3 2230.4L1668.7 2232.6L1668 2234.8L1667.2 2237L1666.2 2239.3L1665.2 2241.5L1664.1 2243.7L1662.8 2246L1661.5 2248.2L1660.1 2250.4L1658.7 2252.6L1657.3 2254.9L1655.9 2257.1L1654.7 2259.3L1653.5 2261.6L1652.6 2263.8L1651.9 2266L1651.4 2268.2L1651.2 2270.5L1651.2 2272.7L1651.4 2274.9L1651.7 2277.2L1652.1 2279.4L1652.6 2281.6L1653.2 2283.8L1653.8 2286.1L1654.6 2288.3L1655.4 2290.5L1656.2 2292.8L1657.1 2295L1658 2297.2L1658.9 2299.4L1659.8 2301.7L1660.7 2303.9L1661.6 2306.1L1662.5 2308.3L1663.3 2310.6L1664.1 2312.8L1664.9 2315L1665.6 2317.3L1666.2 2319.5L1666.8 2321.7L1667.4 2323.9L1667.9 2326.2L1668.4 2328.4L1668.8 2330.6L1669.2 2332.9L1669.5 2335.1L1669.8 2337.3L1670.1 2339.5L1670.3 2341.8L1670.5 2344L1670.7 2346.2L1671.4 2348.5Z" fill="#e58891" stroke="#d62d38" stroke-width="2" stroke-linejoin="round"/>
<path d="M115.2 2252.2V2141.4" stroke="#3f74b8" stroke-width="1.4"/>
<rect x="112.9" y="2181.6" width="4.6" height="31.8" fill="#3f74b8" fill-opacity="0.9"/>
<path d="M165.7 2229.4V2142.7" stroke="#d22630" stroke-width="1.4"/>
<rect x="163.4" y="2177.6" width="4.6" height="24.4" fill="#d22630" fill-opacity="0.9"/>
<path d="M215.6 2322.4V2249.1" stroke="#3f74b8" stroke-width="1.4"/>
<rect x="213.3" y="2281.5" width="4.6" height="20.2" fill="#3f74b8" fill-opacity="0.9"/>
<path d="M266.1 2327.4V2228.1" stroke="#d22630" stroke-width="1.4"/>
<rect x="263.8" y="2270.4" width="4.6" height="27.6" fill="#d22630" fill-opacity="0.9"/>
<path d="M316 2369.9V2250.5" stroke="#3f74b8" stroke-width="1.4"/>
<rect x="313.7" y="2306.1" width="4.6" height="32.5" fill="#3f74b8" fill-opacity="0.9"/>
<path d="M366.5 2351.2V2239.3" stroke="#d22630" stroke-width="1.4"/>
<rect x="364.2" y="2286.3" width="4.6" height="31.2" fill="#d22630" fill-opacity="0.9"/>
<path d="M416.4 2410.4V2320.9" stroke="#3f74b8" stroke-width="1.4"/>
<rect x="414.1" y="2369.2" width="4.6" height="23.4" fill="#3f74b8" fill-opacity="0.9"/>
<path d="M466.9 2405.9V2309.7" stroke="#d22630" stroke-width="1.4"/>
<rect x="464.6" y="2359.6" width="4.6" height="25.5" fill="#d22630" fill-opacity="0.9"/>
<path d="M516.8 2373.5V2243.1" stroke="#3f74b8" stroke-width="1.4"/>
<rect x="514.5" y="2307.2" width="4.6" height="35" fill="#3f74b8" fill-opacity="0.9"/>
<path d="M567.3 2362.9V2203.4" stroke="#d22630" stroke-width="1.4"/>
<rect x="565" y="2289.8" width="4.6" height="41.7" fill="#d22630" fill-opacity="0.9"/>
<path d="M617.2 2414.5V2282.2" stroke="#3f74b8" stroke-width="1.4"/>
<rect x="614.9" y="2353.5" width="4.6" height="34.6" fill="#3f74b8" fill-opacity="0.9"/>
<path d="M667.7 2406V2304.9" stroke="#d22630" stroke-width="1.4"/>
<rect x="665.4" y="2349.9" width="4.6" height="27.8" fill="#d22630" fill-opacity="0.9"/>
<path d="M717.6 2422.2V2244.1" stroke="#3f74b8" stroke-width="1.4"/>
<rect x="715.3" y="2338.8" width="4.6" height="46.8" fill="#3f74b8" fill-opacity="0.9"/>
<path d="M768.1 2426.4V2254" stroke="#d22630" stroke-width="1.4"/>
<rect x="765.8" y="2347.1" width="4.6" height="45.1" fill="#d22630" fill-opacity="0.9"/>
<path d="M818 2384.9V2259.9" stroke="#3f74b8" stroke-width="1.4"/>
<rect x="815.7" y="2318.9" width="4.6" height="33.9" fill="#3f74b8" fill-opacity="0.9"/>
<path d="M868.5 2375.7V2249.1" stroke="#d22630" stroke-width="1.4"/>
<rect x="866.2" y="2304.5" width="4.6" height="34.9" fill="#d22630" fill-opacity="0.9"/>
<path d="M918.4 2377.4V2294.9" stroke="#3f74b8" stroke-width="1.4"/>
<rect x="916.1" y="2334.2" width="4.6" height="22.3" fill="#3f74b8" fill-opacity="0.9"/>
<path d="M968.9 2369.4V2294.5" stroke="#d22630" stroke-width="1.4"/>
<rect x="966.6" y="2328.3" width="4.6" height="20.5" fill="#d22630" fill-opacity="0.9"/>
<path d="M1018.8 2385.5V2282.9" stroke="#3f74b8" stroke-width="1.4"/>
<rect x="1016.5" y="2333" width="4.6" height="27.6" fill="#3f74b8" fill-opacity="0.9"/>
<path d="M1069.3 2376.2V2299.6" stroke="#d22630" stroke-width="1.4"/>
<rect x="1067" y="2333.8" width="4.6" height="21.1" fill="#d22630" fill-opacity="0.9"/>
<path d="M1119.2 2226.4V2151.4" stroke="#3f74b8" stroke-width="1.4"/>
<rect x="1116.9" y="2181.8" width="4.6" height="21.1" fill="#3f74b8" fill-opacity="0.9"/>
<path d="M1169.7 2212.3V2156.2" stroke="#d22630" stroke-width="1.4"/>
<rect x="1167.4" y="2179.9" width="4.6" height="15.6" fill="#d22630" fill-opacity="0.9"/>
<path d="M1219.6 2347.6V2219" stroke="#3f74b8" stroke-width="1.4"/>
<rect x="1217.3" y="2276.1" width="4.6" height="35.4" fill="#3f74b8" fill-opacity="0.9"/>
<path d="M1270.1 2330V2225.1" stroke="#d22630" stroke-width="1.4"/>
<rect x="1267.8" y="2260.4" width="4.6" height="30.5" fill="#d22630" fill-opacity="0.9"/>
<path d="M1320 2359.1V2203.8" stroke="#3f74b8" stroke-width="1.4"/>
<rect x="1317.7" y="2275.4" width="4.6" height="42.4" fill="#3f74b8" fill-opacity="0.9"/>
<path d="M1370.5 2342.9V2194" stroke="#d22630" stroke-width="1.4"/>
<rect x="1368.2" y="2256.3" width="4.6" height="41.5" fill="#d22630" fill-opacity="0.9"/>
<path d="M1420.4 2386.4V2253.8" stroke="#3f74b8" stroke-width="1.4"/>
<rect x="1418.1" y="2324" width="4.6" height="34.9" fill="#3f74b8" fill-opacity="0.9"/>
<path d="M1470.9 2367.2V2256.9" stroke="#d22630" stroke-width="1.4"/>
<rect x="1468.6" y="2313.4" width="4.6" height="29.3" fill="#d22630" fill-opacity="0.9"/>
<path d="M1520.8 2388.9V2202.1" stroke="#3f74b8" stroke-width="1.4"/>
<rect x="1518.5" y="2300.9" width="4.6" height="49.2" fill="#3f74b8" fill-opacity="0.9"/>
<path d="M1571.3 2387.3V2174.2" stroke="#d22630" stroke-width="1.4"/>
<rect x="1569" y="2288.6" width="4.6" height="55.8" fill="#d22630" fill-opacity="0.9"/>
<path d="M1621.2 2322.6V2231.8" stroke="#3f74b8" stroke-width="1.4"/>
<rect x="1618.9" y="2267.7" width="4.6" height="25.6" fill="#3f74b8" fill-opacity="0.9"/>
<path d="M1671.7 2321.3V2231.6" stroke="#d22630" stroke-width="1.4"/>
<rect x="1669.4" y="2261.8" width="4.6" height="26.1" fill="#d22630" fill-opacity="0.9"/>
<path d="M117.5 2216.2h0M114.7 2190.8h0M116.2 2212h0M112.7 2181.7h0M109.8 2196.8h0M115.1 2254.3h0M111.7 2193.6h0M112.1 2182.8h0M109.6 2211.8h0M122.6 2148.5h0M113.9 2176.7h0M109.8 2234.6h0M106.8 2197.7h0M110.1 2168.6h0M121.8 2216.9h0M112.3 2219.3h0M118.2 2199h0M110.3 2204.8h0M117.9 2215.1h0M114.3 2177.8h0M119.5 2183.6h0M115.7 2164.9h0M113 2184.8h0M111.2 2193.1h0M116.9 2220.5h0M121.2 2180.3h0M118.6 2172.3h0M114.8 2201.6h0M112.1 2199.1h0M122.2 2153h0M121.4 2237.3h0M108.8 2186.2h0M118.4 2197.4h0M120.1 2194.7h0M118.4 2212.1h0M123.6 2194h0M122 2214.9h0M110.6 2204.4h0M124.1 2204.7h0M112.1 2206.8h0M113 2227.6h0M123.8 2183.5h0M109.2 2188.2h0M113.3 2174.7h0M117.5 2201.1h0M111.1 2166.8h0M111 2175.9h0M120.5 2203.3h0M117.2 2177h0M119.6 2226.8h0M120.4 2183.4h0M121.9 2180.4h0M122.3 2209.9h0M121 2200.9h0M123.8 2227.2h0M115.2 2174.7h0M118.8 2185h0M115.4 2209.4h0M123.6 2195.5h0M118 2236.3h0M114 2179.8h0M118.2 2176.7h0M111.5 2200.6h0M108.5 2179.4h0M113.2 2195.9h0M108.7 2184.6h0M106.3 2187.9h0M107.9 2237.7h0M114.4 2189.7h0M119.9 2193.4h0M107.1 2201.1h0M117.7 2174.6h0M108.2 2223.2h0M115.4 2237h0M111.5 2218.5h0M114.2 2190.3h0M119 2195h0M113.6 2197.6h0M113.3 2216.6h0M119.3 2203h0M108.3 2195.3h0M112.5 2186.3h0M118.8 2183.1h0M121.2 2246.8h0M123.8 2227.6h0M110.8 2215.3h0M117.5 2209.6h0M111.8 2206.8h0M118.8 2202.5h0M121.4 2174.5h0M108.6 2196.5h0M112.4 2168.9h0M123.1 2192.4h0M112.5 2185.4h0M117.6 2206.3h0M120.9 2195.7h0M111.2 2227.6h0M120.3 2162.9h0M106.3 2206h0M112.3 2222.4h0M109.2 2226h0M112.4 2184.2h0M110 2192h0M106.7 2190h0M120.7 2196.6h0M109.3 2201.7h0M116.5 2230.4h0M116.2 2210.4h0M121.5 2180.7h0M121.4 2199.2h0M117.4 2202.3h0M109.2 2190.4h0M119.9 2224.6h0M108 2197.2h0M122.9 2175.7h0M111.8 2190.6h0M110.7 2188.8h0M110.1 2187.3h0M113.3 2210.2h0M120.4 2202.2h0M121.6 2180.5h0M119.6 2158.2h0M119.3 2206.6h0M110.6 2202.6h0M112 2195.2h0M111.7 2206.9h0M114 2185h0M121.9 2221.7h0M124.1 2187.7h0M107.7 2204.7h0M123.6 2188.5h0M122.7 2168.7h0M114.5 2209.4h0M118.7 2217h0M120.3 2213.8h0M109.6 2208.2h0M117.3 2170.2h0M123.9 2199.7h0M122 2208.3h0M122.6 2202.5h0M107.7 2214.3h0M119.1 2234.2h0M115 2170.8h0M122.6 2239.4h0M109.2 2232.7h0M116.1 2187.7h0M108.4 2247.6h0M120.7 2223.9h0M119.2 2198.7h0M106.8 2203.4h0M111.8 2182.3h0M108.7 2196.1h0M117.6 2214.8h0M117.5 2195.1h0M107.3 2181.4h0M123.3 2171.5h0M123.6 2240.2h0M114.1 2225.1h0M116.5 2184.8h0M112.7 2215h0M117.1 2180.8h0M113.4 2191.6h0M114.1 2181.8h0M119.7 2209h0M109.6 2207.2h0M111.6 2176.3h0M119.9 2227h0M110.2 2188.6h0M107.4 2209.3h0M122.6 2233.6h0M109.1 2188.2h0M113.6 2217.5h0M111.8 2171h0M110.9 2201.3h0M112.5 2185.8h0M115.9 2225.1h0M108.3 2212.6h0M115.8 2203.9h0M107.1 2191h0M107.6 2187.5h0M109.8 2216h0M110.5 2181.4h0M112.3 2188.5h0M111.4 2183h0M121.3 2195.4h0M118 2164.5h0M114.7 2169.8h0M120.1 2182.9h0M118.5 2203.9h0M111.9 2191.4h0M117.3 2190.2h0M119.6 2171h0M115.8 2177h0M119.7 2147.9h0M117.6 2183.2h0M122.9 2176.1h0M111 2224.6h0M118.3 2215.5h0M123.8 2181h0M115.7 2220h0M122.5 2200.6h0M107.9 2236.8h0M119.2 2213.3h0M111 2171.8h0M119.7 2175.1h0M113.8 2220.7h0M115.8 2200.5h0M110.7 2184h0M110.8 2190.2h0M121.8 2200.8h0M117.8 2197.6h0M117.5 2194.9h0M108.3 2233.4h0M111.5 2193h0M123.6 2185.6h0M109.9 2154.6h0M115.9 2202.7h0M118.7 2189.1h0M115.4 2192.8h0M116.2 2214.1h0M123.7 2185.6h0M120.3 2198.6h0M110.5 2202.9h0M113.9 2197.4h0M113.8 2202.2h0M118.5 2192.3h0M118.3 2177.4h0M110.9 2203.3h0M118.7 2183.1h0M114 2172.1h0M106.5 2178.9h0M111.5 2225.5h0M113 2191.1h0M109.7 2180.3h0M118.3 2188.5h0M124.1 2212.4h0M123 2197.2h0M117.5 2212h0M121.6 2204.7h0M115 2203.4h0M116.8 2218.3h0M122.3 2187.5h0M107.3 2220.1h0M112.7 2190.3h0M112.9 2186.6h0M112.3 2199.8h0M113.9 2166.2h0M107.2 2190.7h0M118.4 2204.1h0M123.4 2184.9h0M110.4 2199h0M109.5 2212h0M112.2 2239.3h0M120.5 2199.2h0M110.3 2193.2h0M120.1 2224.6h0M109.3 2216.1h0M116.9 2205.7h0M119.2 2212.6h0M118.3 2215h0M107.7 2191.3h0M123.4 2212.5h0M121.5 2196h0M114.9 2201.3h0M121.7 2212.9h0M117 2195.2h0M109.2 2210.5h0M113.3 2223.2h0M121 2193h0M114.5 2195.6h0M107 2246.2h0M109.2 2206.1h0M109.6 2203.7h0M116.7 2234.5h0M117.8 2174.9h0M114.3 2193.5h0M113.5 2172.2h0M123.5 2165.8h0M112.4 2186.6h0M118.3 2216.5h0M109.9 2189h0M115.5 2202.1h0M109.4 2229.7h0M108.2 2223.9h0M112.3 2182.3h0M108.3 2218.1h0M113.1 2221.1h0M118 2200.1h0M116.1 2202.8h0M120.5 2200.5h0M164.5 2190.4h0M173.7 2177.3h0M173.3 2175.7h0M189.9 2188.4h0M147.6 2196.6h0M167.3 2198.7h0M164.6 2193.9h0M152.7 2171.3h0M188.3 2165.5h0M146.5 2193.2h0M152.8 2221.4h0M140.9 2178.7h0M173.5 2190.9h0M174.2 2172.8h0M150.8 2173.8h0M188.5 2174.1h0M173 2196.9h0M149.6 2164h0M189.6 2195.7h0M184.8 2175.5h0M155.6 2191.8h0M185.4 2216.6h0M145.7 2180.2h0M157.5 2157.4h0M161.3 2173.1h0M190.3 2198h0M154.8 2201.5h0M159.5 2210.7h0M149.9 2160.8h0M182.9 2182.4h0M148.6 2153.5h0M184.5 2189.2h0M157.1 2176.2h0M168.4 2172.2h0M186 2152.6h0M153.1 2189.5h0M167.2 2204.4h0M173 2205.8h0M169.9 2177.6h0M160.7 2184.3h0M173.6 2176.6h0M155.7 2160.7h0M147.1 2215.8h0M139.2 2201.4h0M171.4 2161.1h0M169.7 2170.4h0M181.9 2190.2h0M147.2 2197.3h0M175 2190h0M163.2 2229.3h0M167.1 2211.7h0M183.6 2186.2h0M166.7 2198.3h0M162.2 2178.3h0M173.6 2185.1h0M146.7 2182.7h0M185.8 2176.1h0M166.6 2178.2h0M141 2184.6h0M164.7 2226.2h0M189.8 2169h0M191.6 2188h0M161.7 2149.8h0M153 2179h0M189.3 2173.5h0M154.1 2189.9h0M139.7 2202.3h0M152 2182.2h0M164.1 2202.9h0M175.1 2205.1h0M221.5 2308h0M223.1 2283.1h0M220.2 2301.3h0M223.6 2292.1h0M221.1 2290.5h0M215.1 2289.8h0M207.7 2279.1h0M209.6 2290.6h0M207.5 2294.1h0M223.3 2275.3h0M221.1 2281.2h0M222.9 2288.7h0M220.6 2290.9h0M214.8 2306.9h0M216.7 2287.7h0M207.1 2289.4h0M209.5 2293.8h0M213.8 2280.3h0M207.6 2314.3h0M212.3 2333.4h0M215.9 2304.5h0M209.5 2301.3h0M209.8 2307.5h0M208.1 2283.9h0M214.8 2307.3h0M221.7 2293.3h0M214.7 2307.1h0M219.3 2306.6h0M219.5 2290.6h0M221.1 2303.5h0M220.9 2274.6h0M215.6 2280.7h0M207.4 2259.8h0M209.6 2285.8h0M211.6 2281h0M212.7 2286.2h0M217.4 2260.7h0M215.6 2305.9h0M211.8 2294.5h0M209.6 2283.2h0M219.9 2288.5h0M224.5 2296.5h0M219.2 2292h0M209.1 2303.4h0M219.1 2286.3h0M221 2306.8h0M216.3 2279.9h0M218 2283.6h0M222.1 2306.1h0M215.2 2296h0M219.3 2281.2h0M209.6 2277.2h0M221.7 2277.8h0M216.9 2288.5h0M210 2276.4h0M217.8 2285h0M221.4 2295h0M214.6 2305.3h0M212.2 2300.2h0M219.4 2303.4h0M224.5 2287.4h0M223.9 2304.2h0M212.2 2288.7h0M215.3 2265.3h0M213.4 2292.4h0M209.2 2294.5h0M216.4 2277.3h0M211.8 2294.4h0M215.2 2291.3h0M221.5 2290.9h0M216.6 2296.1h0M224.4 2281.5h0M210.3 2292.7h0M209.9 2297.1h0M207.8 2300.3h0M219.3 2288.9h0M211.7 2275.9h0M210.5 2261.6h0M218.1 2269h0M224.4 2294.4h0M220.2 2272.5h0M223.8 2279.9h0M223.4 2304.3h0M216.1 2284.6h0M210.6 2308.2h0M220.4 2257.2h0M210.5 2310.6h0M207.9 2305.6h0M213.3 2289.5h0M219.9 2272.4h0M218 2299.7h0M214 2286.9h0M208.9 2294.3h0M209.7 2269.8h0M217.4 2272.5h0M215.5 2303.9h0M216.4 2278.9h0M220 2289.6h0M216.9 2265.8h0M222.2 2303.2h0M223.2 2273.7h0M215.9 2302.8h0M213.1 2294.3h0M215.7 2288.3h0M211.1 2290.9h0M209.8 2288.3h0M219.6 2292.6h0M214.5 2291.8h0M207 2294.6h0M213.7 2289.8h0M212.4 2287.2h0M207.7 2301h0M207 2288h0M217.6 2318h0M221.1 2303.5h0M221.7 2264.2h0M217.3 2297.7h0M210.7 2288.7h0M218.1 2302.7h0M211.4 2274.5h0M210.8 2285.1h0M212.5 2329.8h0M209 2281.2h0M208.6 2284.2h0M224.3 2305.2h0M208.1 2304.8h0M224.1 2311.7h0M219.1 2291.3h0M220 2299.5h0M208.6 2313h0M218.8 2263.8h0M210.2 2283.1h0M215.7 2287.5h0M214.8 2264h0M222.8 2293.4h0M208.4 2273h0M206.7 2276h0M217.1 2288.4h0M216.1 2287.6h0M218.3 2298.3h0M208.2 2299.5h0M213.3 2283.6h0M219.4 2282.6h0M217.3 2270.8h0M212.3 2290.1h0M206.7 2280.5h0M207.4 2289h0M222.7 2286.4h0M211.5 2288.7h0M207.9 2305h0M211.9 2267.4h0M210.4 2306.8h0M216.4 2268.2h0M207.5 2281.8h0M216.3 2304.1h0M218.2 2302.7h0M216.3 2289.6h0M217.3 2285.2h0M210.9 2299h0M213.6 2319.7h0M220.1 2296.9h0M211.7 2286.9h0M221.5 2299.6h0M210 2276.9h0M215.2 2287.1h0M222.7 2274.9h0M218.5 2295.4h0M211.6 2294.8h0M213.2 2288.3h0M211.7 2274.8h0M220.1 2300.4h0M213.2 2306.4h0M221.7 2302.1h0M219.1 2280.6h0M221.6 2272.5h0M216.1 2281.6h0M211.7 2296.6h0M219 2286.6h0M214.4 2314.6h0M207.5 2279h0M214.7 2275.1h0M210 2265.2h0M207.9 2286.7h0M211.4 2278.8h0M223.8 2291.5h0M218.6 2298.3h0M214.4 2275.8h0M217.1 2278.8h0M213.6 2295.2h0M216.7 2278.4h0M211.3 2301.2h0M222 2291.4h0M220.9 2307.5h0M214.6 2297.5h0M216.6 2294.6h0M213.3 2283.9h0M220.5 2302.2h0M221.6 2293.1h0M223.3 2308.7h0M208.5 2285.6h0M222.9 2291.9h0M210.5 2289.2h0M208.6 2307.6h0M214 2271.4h0M218.2 2291h0M208.7 2300.4h0M218.2 2280.3h0M224 2300.3h0M220.6 2257.5h0M221.5 2268.2h0M209.5 2309h0M212.7 2316.3h0M211 2296.5h0M213.3 2276.1h0M222.5 2281.6h0M224.5 2291.6h0M211.4 2291.3h0M216.7 2277.2h0M217.5 2273.4h0M224.1 2278.9h0M214.7 2284.4h0M208.7 2286.3h0M208.4 2263.9h0M209.2 2278.9h0M215.2 2306.2h0M208.3 2303.8h0M219.1 2288.2h0M210.1 2297.5h0M207.4 2268.2h0M219.6 2307h0M214.9 2268.7h0M220.2 2301.6h0M217 2283.8h0M213.5 2305.4h0M207.9 2288h0M222 2277.8h0M218.8 2274.2h0M211.3 2293.8h0M208.1 2284.9h0M217.9 2271.7h0M223.3 2289.9h0M220 2314.5h0M223.2 2312.1h0M224.5 2299.2h0M208.9 2282.8h0M209.9 2300.9h0M215 2280.4h0M208.6 2301.3h0M215.3 2280.4h0M221.3 2294.1h0M211.3 2293.1h0M221.3 2294.7h0M211.2 2294.4h0M221.3 2280.7h0M208 2277.7h0M208.7 2291.9h0M207.4 2288.8h0M217 2300.5h0M207 2307.9h0M219.1 2290.4h0M214.1 2284.4h0M222.9 2300.4h0M213.5 2283.8h0M221.6 2287.8h0M220.1 2313h0M213.3 2281.1h0M220.6 2285.8h0M217.4 2293.7h0M217.3 2293.1h0M214.3 2278.7h0M209.4 2305.3h0M216 2269.1h0M215.9 2287.5h0M214.4 2282.4h0M224.3 2274.9h0M209.7 2304.5h0M223 2287.7h0M216.7 2289.6h0M208.4 2292.2h0M216.7 2284.1h0M210 2276.5h0M215.5 2299.6h0M215.2 2283.8h0M220.5 2291.5h0M223 2288.1h0M207.9 2276.4h0M222.4 2300.2h0M223.5 2276.5h0M209.3 2270.1h0M208.1 2317h0M283.5 2285h0M268.2 2308.1h0M272.1 2300.7h0M272.2 2300.6h0M291.7 2275.4h0M255.4 2271.1h0M269.9 2224.8h0M278.8 2271.5h0M276.2 2287.6h0M288.3 2319.8h0M241.3 2307.8h0M282.1 2310.9h0M241.1 2279.8h0M256.2 2309.6h0M258.1 2289.3h0M282.4 2311.2h0M287.1 2262.9h0M269 2267.3h0M269.1 2261.7h0M275 2255.3h0M240.5 2237.7h0M259.2 2274.8h0M263.5 2306.2h0M241.7 2271.6h0M255.8 2300h0M254.2 2303.9h0M246 2301.8h0M249.3 2261.6h0M259.1 2268.5h0M274.8 2250.1h0M285.1 2279.8h0M256.3 2290.7h0M281.6 2273.3h0M277.6 2275.2h0M244.7 2260.7h0M249.9 2263.7h0M286.5 2241.1h0M246.7 2231.8h0M272.9 2273.7h0M270.6 2267h0M282.6 2285.1h0M281 2247.3h0M283.2 2296.7h0M246.5 2292h0M278.1 2280.4h0M287.5 2285.5h0M275 2285.9h0M290.8 2265.9h0M243.6 2248.1h0M264.3 2265.4h0M291.4 2275.1h0M255.4 2250.1h0M257.7 2247.5h0M255 2290.8h0M259.3 2269.2h0M262.4 2292.8h0M266.4 2283.3h0M253 2283.1h0M266.1 2328.9h0M289.3 2280.8h0M257.9 2277.1h0M252.6 2285.8h0M288.6 2266.3h0M277.4 2278.5h0M281.9 2295.8h0M288.6 2282.4h0M292.2 2319.1h0M255.5 2250.6h0M239.1 2280.1h0M278.9 2290.1h0M313.5 2311.1h0M318.7 2292.3h0M317.4 2316.2h0M317.6 2323.6h0M314.7 2330.1h0M314.5 2319.8h0M309.3 2311.5h0M318.6 2342.1h0M312.8 2305.1h0M312.1 2316.3h0M323.2 2310.9h0M314.5 2324.1h0M308.9 2287.9h0M318.2 2321.3h0M314.2 2330h0M313.9 2369.8h0M317.9 2304.5h0M316.1 2318h0M323.1 2314.3h0M312.4 2325.8h0M321.6 2332.5h0M322.2 2346.4h0M311.6 2324.5h0M307.3 2303.8h0M309.8 2325.3h0M316.6 2323.9h0M322.6 2299.4h0M315.4 2324.8h0M311.3 2319.1h0M317.6 2293.3h0M321.2 2349.2h0M323.7 2320.4h0M317 2322.4h0M310.5 2339.9h0M317 2324.3h0M316 2334.6h0M310.8 2300.4h0M308.8 2314.5h0M322.7 2308.2h0M312.1 2361.5h0M322.7 2320.2h0M317.2 2307.3h0M307 2325.9h0M323.3 2352.1h0M324.7 2310.7h0M310.3 2320.3h0M319.5 2324.6h0M307.8 2344.5h0M323.1 2334.1h0M309.5 2344.3h0M318.1 2293.9h0M320.5 2326.8h0M317.6 2317.9h0M322.9 2307.6h0M310.2 2357.7h0M324.5 2360.9h0M318.7 2280.2h0M309 2309.2h0M307.7 2279.7h0M310.8 2316.4h0M309.1 2321.8h0M313.9 2304.1h0M309.2 2330.9h0M312.3 2358.7h0M322.4 2288.9h0M319.6 2335.9h0M312.1 2310.7h0M309.2 2258.8h0M308.6 2306.1h0M312.6 2303.2h0M308.2 2318.5h0M309.5 2360.2h0M324.9 2312.1h0M312.9 2281.5h0M322 2295.7h0M308 2344.1h0M309.8 2313.7h0M307.9 2322.4h0M316.6 2288.8h0M322.7 2320.7h0M322.3 2337.3h0M313.6 2297.7h0M321.3 2314.6h0M314 2273.8h0M316.4 2318.8h0M312.1 2302.4h0M313 2313h0M318.5 2305h0M314 2281.9h0M310.6 2318h0M313.1 2315.6h0M307.7 2355.8h0M313.8 2330.4h0M323.5 2335h0M317.1 2276.9h0M311.8 2306.1h0M315.5 2344.2h0M316.6 2322.2h0M309.6 2356.7h0M316.8 2314.8h0M311.9 2308.6h0M309 2342.9h0M311.1 2350.6h0M313.1 2304.3h0M319.9 2330.5h0M307.9 2333.5h0M315.7 2299.9h0M317.4 2311.5h0M322.2 2361.2h0M309.5 2355.1h0M321 2340.9h0M313.1 2334.5h0M309.3 2325.4h0M319.1 2317.2h0M319.8 2306.4h0M324.9 2333.1h0M311.6 2307.1h0M319.7 2317.1h0M323.9 2327.8h0M316.6 2328.6h0M319.5 2330.5h0M309.2 2355.3h0M312.2 2297.1h0M314.1 2282.3h0M310.4 2325.6h0M309.1 2322.3h0M313.6 2304.1h0M318.6 2336h0M316.1 2296.9h0M316.3 2303.6h0M316.3 2296h0M320.5 2342.6h0M320.3 2321h0M313 2357.7h0M308.9 2325.6h0M309.5 2265.9h0M313.4 2328.3h0M314.6 2326.1h0M319.6 2315.8h0M308.8 2311.4h0M310.8 2315.2h0M320.4 2347.8h0M322.3 2319h0M311.8 2304.1h0M317 2335.7h0M316.9 2325.7h0M311.6 2334.8h0M315.9 2304h0M308 2328h0M323.9 2326.8h0M311.4 2303.5h0M323.3 2318h0M323.1 2305.8h0M314.4 2331.9h0M310 2299.8h0M312.2 2298.2h0M323.7 2336.6h0M308 2292.6h0M311.8 2327.9h0M311.8 2321.5h0M313.4 2314.2h0M324.7 2340.7h0M314.9 2281.9h0M323.5 2308.1h0M318.7 2294.5h0M307.1 2322.1h0M313.4 2338.3h0M313 2281.2h0M310.4 2323.4h0M311.2 2320.4h0M310.9 2342.7h0M323 2322.9h0M317.1 2298h0M315 2328.1h0M312.3 2360.9h0M318.3 2358.6h0M313.3 2311.7h0M307.4 2313h0M309.9 2323.9h0M321.5 2331.2h0M319.4 2316.8h0M319.5 2302h0M314.8 2327.5h0M318.1 2293.8h0M307.4 2307.5h0M318.4 2324.9h0M322.1 2301.9h0M318.1 2302.7h0M316.4 2296.9h0M319.5 2308.9h0M321.1 2315.8h0M314.4 2324h0M309 2357h0M318.4 2298.6h0M318.6 2358.2h0M323.9 2313.7h0M307.5 2312.2h0M317.4 2339.8h0M323.3 2310h0M307.8 2322.7h0M319.2 2340.5h0M318.6 2330.4h0M321.9 2319.4h0M316.7 2328.8h0M319.3 2342.2h0M321.2 2337.5h0M310.9 2331h0M307.2 2296.8h0M319.8 2312.7h0M309.9 2353.9h0M309.1 2284.3h0M309 2292h0M323.1 2307.9h0M322.9 2333.2h0M315.6 2277h0M320.1 2339h0M312.2 2328.5h0M309.1 2332.3h0M318 2315.5h0M311.9 2311h0M307.9 2333.2h0M320 2346.5h0M307.1 2308.5h0M318.9 2370.3h0M310.3 2297.7h0M312.1 2334.5h0M313.5 2294.7h0M320.4 2336.3h0M318.6 2304.2h0M308.4 2320.8h0M312.7 2324.8h0M316.7 2316.2h0M324.2 2292.2h0M314.9 2311.4h0M321.6 2325.5h0M321.8 2321.1h0M320.6 2311h0M311.5 2307.4h0M309.6 2330.4h0M321.3 2340.1h0M311 2319.2h0M315.9 2349.5h0M314.6 2312.5h0M318 2321.9h0M324 2319.1h0M311 2292.8h0M308.3 2302.1h0M320.9 2329.4h0M311.1 2347.2h0M317.1 2308.8h0M311.8 2316.8h0M322.5 2281.8h0M318.4 2300.6h0M321.7 2327h0M313.4 2348.3h0M310.6 2349h0M319.1 2327.8h0M310.3 2320.4h0M308.2 2326h0M324.8 2302.3h0M322.3 2307.1h0M308.7 2293.6h0M314.5 2299.2h0M308.5 2333.3h0M308.1 2307.4h0M317.7 2334.3h0M321.3 2321.1h0M324.3 2319.6h0M323.3 2339.7h0M314.1 2322.7h0M307.6 2323.2h0M318.9 2294.1h0M315.8 2290.6h0M309.2 2326.2h0M311.3 2292.6h0M310 2283.6h0M323.8 2303h0M312.8 2335.6h0M324.6 2311.4h0M317.3 2325.7h0M320 2335.2h0M321 2333.9h0M311.1 2330.3h0M322.2 2331.3h0M323.7 2290.5h0M308.7 2305.8h0M312.7 2316.9h0M311.7 2334.8h0M317.8 2340h0M321.1 2329.3h0M387.8 2271.9h0M340.2 2237.8h0M390.7 2285.2h0M340.9 2292.5h0M350.2 2278.5h0M343.3 2311.8h0M381.2 2310.1h0M351.3 2296.3h0M360.9 2237.3h0M359.8 2305.7h0M371 2311.1h0M383.6 2320.4h0M371.3 2303.7h0M346.7 2294.4h0M342.9 2267.5h0M376.2 2350.6h0M363.4 2334.1h0M366.5 2278.2h0M345.7 2269.4h0M352.9 2295.8h0M388.9 2315.3h0M391.5 2323.6h0M357.5 2320.5h0M362.3 2302h0M387.7 2280.1h0M382.3 2331h0M357.1 2272.6h0M377.7 2334.4h0M355.2 2344.3h0M346.6 2280.7h0M388.7 2265.1h0M359.7 2308.3h0M391.5 2306.6h0M386.6 2288.3h0M368.7 2300.6h0M389 2351h0M362 2317.5h0M366.6 2285.1h0M348 2310.3h0M340 2286h0M362.5 2312.5h0M346.9 2295.5h0M359.6 2291.9h0M365.8 2330h0M358.3 2323.4h0M380.4 2283.6h0M382 2312.7h0M365.4 2284h0M368.6 2287h0M392.7 2303.6h0M366.5 2315.2h0M364.1 2300.7h0M378.4 2299h0M341.4 2272.5h0M354 2304.9h0M350.3 2293.2h0M367.1 2281.5h0M340.7 2303.1h0M381 2303h0M380.9 2303h0M364.5 2328.6h0M388.9 2341h0M365.7 2283.8h0M360 2314.3h0M345 2304.4h0M361.5 2324.8h0M358.6 2285.2h0M378.2 2340.1h0M384.3 2355.9h0M345.3 2287h0M415.9 2377.1h0M411.6 2381.7h0M424.2 2346.4h0M407.5 2381h0M407.7 2356.1h0M409.3 2341.2h0M411.9 2364.5h0M411.4 2353.9h0M422.6 2376.6h0M411.2 2376.3h0M419.6 2393.3h0M418.8 2368.1h0M420.4 2384.8h0M407.6 2407.5h0M423.9 2367.9h0M415.9 2375.9h0M409 2363.5h0M421.1 2370.2h0M419.4 2399h0M413.7 2408.1h0M420.6 2366.6h0M415.4 2391.2h0M416.9 2393.5h0M415.6 2371h0M421.6 2369.9h0M422.2 2392.3h0M413.8 2375.8h0M423.8 2384.6h0M422.2 2366.4h0M420 2387.9h0M420 2349h0M415.2 2351.3h0M417.9 2353.1h0M421.6 2388.5h0M420.7 2357.7h0M415.3 2378.1h0M407.8 2365.1h0M417.2 2355h0M413.1 2388.7h0M413.4 2376.7h0M413.8 2373.2h0M415.7 2368.4h0M416.7 2382.5h0M421.9 2399h0M420.7 2409.7h0M414.5 2370.3h0M423.4 2370.9h0M412.4 2345.6h0M418.9 2378h0M420 2383.9h0M414.9 2375.9h0M420.3 2354h0M424 2376.7h0M420.3 2376.2h0M415.1 2358.9h0M409.4 2402.4h0M420.2 2385.2h0M418.2 2385.6h0M417 2389.4h0M408.2 2370.5h0M408 2381.1h0M409.5 2377.9h0M408.5 2368.7h0M425.3 2379.7h0M415.1 2380h0M423.4 2364.2h0M414.8 2385.4h0M422.5 2360h0M408 2361h0M410.8 2394.5h0M420.7 2368.7h0M417.5 2344.9h0M412.7 2360.2h0M409 2363.7h0M423 2381.4h0M417.4 2336.8h0M417.2 2386.4h0M416.9 2359.4h0M422.3 2342.9h0M410.1 2390.9h0M412.5 2389.1h0M413.5 2385.5h0M416.7 2339.6h0M410.9 2383h0M413 2381.2h0M409 2369.3h0M421 2381.2h0M407.5 2387.2h0M409.4 2401h0M409.7 2369.8h0M422.7 2369.7h0M410 2387.2h0M414.2 2345h0M417.9 2365.7h0M419.8 2387.8h0M415.4 2358h0M415.9 2379.3h0M409.2 2365h0M408.4 2364.4h0M425.1 2382.4h0M416.7 2363.6h0M420.9 2386.7h0M409.9 2385.5h0M418.8 2373.7h0M421.1 2388.3h0M417.2 2382h0M424.3 2391.4h0M425.1 2365h0M410.1 2391.7h0M411.9 2374.9h0M415.4 2371.7h0M409.9 2379.5h0M416.6 2377.6h0M412.2 2399.2h0M409.4 2393h0M410.6 2351.8h0M408.1 2355.9h0M412.4 2391.4h0M414.8 2399.6h0M418.6 2370.9h0M408.5 2370.3h0M422.7 2386.6h0M421.7 2371.5h0M420.5 2386.4h0M415.5 2388.2h0M409.2 2392h0M410.6 2367.4h0M413.2 2394.7h0M418.9 2383.8h0M425.4 2367.8h0M411.4 2394.6h0M422.9 2354.1h0M423.8 2385.1h0M421.8 2381.7h0M412.6 2374.9h0M419.6 2392.7h0M421.3 2372.5h0M422 2370.3h0M421.9 2379.4h0M425.2 2376.5h0M421.5 2395.2h0M415.2 2381.3h0M412.1 2373.8h0M409.5 2385.5h0M414.1 2384h0M421.9 2387.6h0M409.6 2377.2h0M424 2374.4h0M421.7 2363.5h0M409.7 2364.7h0M422 2380.7h0M419 2380.2h0M411.9 2362.7h0M416.1 2354.8h0M417.8 2378.4h0M413.9 2372h0M416.2 2388h0M408.7 2391.3h0M413.5 2370.3h0M421.1 2367.4h0M419.8 2372.5h0M424.1 2370.4h0M415.3 2379h0M417.4 2385.7h0M413.5 2398.7h0M423.9 2367.1h0M421 2371.3h0M418.8 2396.5h0M412.4 2350.2h0M419.6 2363h0M423.2 2360.7h0M416 2381.5h0M408.5 2400.3h0M413.7 2401.1h0M413.4 2395.1h0M407.7 2350.3h0M409.9 2366h0M413 2388.1h0M419.9 2378.3h0M425.2 2378.1h0M424.8 2381.8h0M417.1 2363.9h0M423.8 2376.7h0M418 2387.7h0M411.8 2346.1h0M418.4 2388.3h0M414.7 2386.5h0M423.9 2358.3h0M413.2 2366h0M407.8 2377.5h0M409.3 2380.6h0M419 2383.4h0M417.8 2389.7h0M415.9 2388.5h0M422.3 2368.8h0M420.7 2383.1h0M420.3 2382.5h0M412.5 2344.5h0M419.2 2349h0M420.5 2364.5h0M408.8 2405.4h0M408.1 2394.5h0M415.5 2376.9h0M419.1 2386h0M411.8 2394.7h0M412.5 2369.7h0M411.9 2382.4h0M417.9 2367h0M423.7 2384.6h0M408.3 2388.8h0M415.5 2383h0M412.9 2390.3h0M415.9 2373.2h0M408.5 2387.9h0M421 2381h0M419.9 2386.1h0M417.7 2371.4h0M408.3 2381.1h0M409.2 2374.2h0M412.5 2383.9h0M408.5 2375.5h0M412 2395.1h0M418.4 2380.8h0M424.2 2370h0M408.6 2354.9h0M410.1 2399.4h0M415.2 2397h0M420.8 2384.3h0M410 2380.1h0M415.2 2376.9h0M409.3 2403h0M425.1 2384.8h0M415.6 2392.7h0M416.4 2390.6h0M410.2 2380.7h0M411.5 2362.2h0M417.3 2386.1h0M410.8 2384.4h0M410.5 2401.1h0M407.9 2370.1h0M410 2336.7h0M417.8 2386.3h0M414.2 2390.5h0M412.5 2387.3h0M414.1 2389.5h0M408.9 2363.6h0M412.4 2375.6h0M421.2 2393.9h0M417.1 2371.3h0M422.1 2353.5h0M410.9 2356h0M424.9 2385.8h0M424.8 2398.9h0M410 2394.6h0M413.2 2388.8h0M423.3 2402.8h0M411.4 2394.3h0M417.5 2378.4h0M420.1 2387.9h0M408.6 2362.3h0M416.2 2372.6h0M423.3 2368.8h0M418.2 2385.2h0M423.4 2374.5h0M422.4 2381.4h0M416 2356.4h0M409.3 2394h0M421.8 2384.5h0M423.9 2373h0M420.8 2383.4h0M421.6 2391.2h0M420.5 2373.8h0M414.7 2368.5h0M412.4 2382.5h0M410.2 2373.8h0M417.9 2362.8h0M420.9 2378.6h0M423.3 2376.9h0M418.7 2386.5h0M421.3 2362.8h0M414 2383.6h0M410.5 2362.5h0M415.6 2371.6h0M414.6 2394.9h0M412.9 2364.8h0M418.3 2384.6h0M416.7 2383.1h0M410.8 2398h0M423.8 2389.2h0M420.8 2357.5h0M459.6 2359.1h0M467.7 2361.2h0M457.6 2390.1h0M463.6 2390.4h0M458.3 2385.2h0M442.5 2373.3h0M458.8 2370.3h0M489.2 2364.6h0M444.5 2375.8h0M481 2388.4h0M450.4 2348.3h0M475.3 2320.4h0M445.9 2401.6h0M464.1 2351.2h0M459.2 2383.6h0M473.3 2348.4h0M445 2361.5h0M475.4 2405.1h0M476.7 2355.3h0M453.2 2372h0M442.2 2374.3h0M490 2302.2h0M465.4 2369.3h0M457.5 2412.4h0M481.7 2385h0M450.9 2370.5h0M492 2336.4h0M479.1 2390.1h0M442.2 2367.6h0M440 2324h0M462.2 2313.5h0M445.9 2372.3h0M464.3 2365.5h0M484.6 2377.3h0M464 2317.1h0M470.5 2352.3h0M439.9 2328.8h0M461.5 2369h0M486.3 2363.7h0M475 2339.9h0M445.4 2345.9h0M458.3 2349.4h0M458.6 2389.9h0M445.5 2376h0M472.1 2341h0M486 2397.6h0M483.4 2379h0M490.3 2338.4h0M441.6 2366.6h0M478.7 2404.5h0M471.3 2395.7h0M456.2 2376.2h0M441.3 2360.7h0M441.4 2372.5h0M450.9 2380.5h0M468.1 2358.2h0M456.8 2352.3h0M445.5 2354.9h0M483 2369h0M476.5 2399.7h0M453.8 2394.5h0M440 2396.8h0M472.9 2404.3h0M476.7 2360.7h0M481.9 2371.7h0M483 2380.5h0M461.4 2345.3h0M489.9 2375.7h0M447.8 2347.2h0M474.9 2359h0M511.9 2340.2h0M513 2341.1h0M516.8 2303.6h0M521.8 2310.6h0M514.3 2307h0M521.9 2356.5h0M519.4 2335.1h0M511.3 2309.1h0M515.5 2345.7h0M515.7 2289.2h0M517.9 2337.5h0M509.5 2313.2h0M513.9 2313.8h0M508.3 2325.1h0M508.2 2337.9h0M512.9 2317.6h0M517 2313.2h0M520.8 2338.3h0M510.1 2313.8h0M513.6 2290.8h0M514.9 2333.9h0M523 2340.6h0M520.1 2304.6h0M522.1 2330.1h0M516.1 2333.2h0M512.2 2313.1h0M510.6 2348.7h0M513.3 2308.6h0M509 2353.2h0M523.7 2317.3h0M516.9 2354.6h0M509.5 2317.1h0M511.7 2321.9h0M514.8 2328.8h0M514 2325.2h0M508.7 2318.5h0M525.2 2346.6h0M515.2 2296.4h0M524.9 2328.5h0M519.2 2299.8h0M522.1 2339.4h0M522.7 2331.2h0M516.3 2332.1h0M515.3 2273.3h0M511 2250.7h0M510.2 2351.1h0M518.8 2327.1h0M512.6 2314.4h0M513.5 2323.8h0M513.4 2315.3h0M523.1 2341.5h0M523.9 2307.4h0M514.2 2323.4h0M516.7 2330.4h0M512 2337.7h0M520.3 2341.9h0M518.8 2270.5h0M508.5 2337.4h0M523.8 2300h0M514.6 2289.8h0M511.1 2336.7h0M512.5 2327.1h0M524 2329.8h0M519.1 2316h0M513 2337.1h0M518.1 2350h0M522.2 2282.6h0M515.9 2322.3h0M520.1 2333.4h0M510.9 2347.9h0M525 2310.4h0M524 2324.9h0M509 2341.6h0M513 2297.6h0M523.6 2324.2h0M513.4 2313.4h0M524.4 2322.5h0M513.8 2332.4h0M509.8 2297h0M523.3 2318h0M513.9 2308.2h0M524.4 2336h0M520.9 2326.8h0M520.4 2295.9h0M523.4 2333.5h0M513.1 2314.2h0M514 2322.8h0M519.7 2334.2h0M510.4 2337.1h0M511.4 2326.5h0M509 2286.9h0M513.6 2306.4h0M513 2341.6h0M524.7 2315.6h0M510.8 2362h0M518.7 2322.3h0M513.3 2320.2h0M517.7 2326.6h0M513.3 2302.3h0M517.1 2347.2h0M509.3 2318.9h0M516.4 2328.7h0M520.9 2313.5h0M524 2312.6h0M516.5 2298.2h0M520 2320.4h0M520.9 2317h0M511.2 2334.3h0M521.6 2341.5h0M521.4 2341.7h0M519.5 2328.5h0M517.4 2309.5h0M523.4 2326.4h0M525.3 2345.5h0M522.2 2292.4h0M523.4 2299.2h0M514.3 2362.6h0M509.3 2330.2h0M522.5 2293.5h0M520.8 2305.5h0M522.8 2319.2h0M511.3 2326.1h0M523.2 2356.7h0M513.2 2324.2h0M518.6 2311.8h0M510.4 2324h0M516.3 2359.2h0M516.6 2340.9h0M515.2 2326.3h0M523.8 2339.2h0M510.7 2314.1h0M519.5 2293.6h0M523.3 2294.9h0M523.6 2311.1h0M512.1 2307.6h0M511.6 2274.5h0M508.1 2344.1h0M518 2286.1h0M508.8 2330.1h0M509.3 2337.8h0M523.8 2330h0M509.1 2320.4h0M524.1 2319.2h0M514 2354.5h0M508.7 2352.7h0M512.2 2312.5h0M522 2317.9h0M518.1 2324.9h0M508.8 2326.6h0M516.5 2328.1h0M517.1 2351.4h0M514.1 2325.7h0M510.1 2332.4h0M509.4 2338.4h0M523.7 2353.9h0M521.8 2335.6h0M520.5 2336.6h0M521.7 2304.2h0M518.5 2335.2h0M519.8 2306.9h0M522.5 2335.2h0M520.8 2355.5h0M512.5 2309.1h0M521.6 2312.8h0M521 2290.9h0M512.9 2343.7h0M515.8 2307.5h0M516.7 2315.6h0M523.6 2331.9h0M520.3 2312.3h0M522 2334.2h0M513 2329h0M524.9 2335.4h0M523.2 2337.1h0M519.1 2282.1h0M521.4 2291.4h0M523.1 2328h0M518.7 2287.7h0M515.4 2344.7h0M517.4 2314.9h0M509.5 2317h0M511.5 2344.8h0M517.9 2316.2h0M519.7 2306.7h0M525.3 2321.3h0M516.3 2320.9h0M523.1 2336.5h0M520.5 2280.9h0M519.4 2333.8h0M524.4 2346.5h0M522.1 2350.7h0M513.1 2341.7h0M524.4 2281.4h0M512.8 2340.6h0M511.1 2323.7h0M514.6 2306.4h0M515.8 2352.1h0M524.1 2332.5h0M513.2 2325.8h0M521 2326.2h0M522.8 2301.4h0M510.4 2333.5h0M523.1 2296.3h0M514.8 2278.4h0M513.3 2303.7h0M510.6 2349h0M520.7 2307.5h0M508 2320.8h0M521.9 2342.4h0M522.2 2315.3h0M509 2341.3h0M511.4 2333.6h0M521.1 2322.4h0M515 2345.8h0M509.4 2322.4h0M524.1 2331h0M525.1 2338.7h0M514.5 2332.2h0M510.2 2309.4h0M508.5 2317.1h0M520.2 2318.6h0M524.1 2292.5h0M508 2323.7h0M516.5 2319.7h0M514.1 2321.9h0M513.5 2318.6h0M509.8 2353.2h0M522.9 2344.6h0M516.8 2315.7h0M521 2318.9h0M525.5 2343.1h0M513.4 2329.5h0M525.5 2324.4h0M520.7 2333.7h0M522.2 2305.8h0M521.5 2299.2h0M516.3 2303.9h0M516.3 2371.3h0M520.4 2311.5h0M512.7 2310h0M514.5 2348.9h0M523.8 2332.9h0M510.6 2328.8h0M516.3 2314.3h0M514.5 2303.9h0M511.5 2319.5h0M523.2 2340h0M511.5 2278.6h0M520.8 2328.6h0M514.3 2370.3h0M512.3 2278h0M515.1 2353.3h0M510 2293.6h0M515.1 2352.1h0M512.6 2347.1h0M513.1 2336.4h0M523.8 2294.3h0M515.1 2322.2h0M510.9 2328.5h0M519.2 2293.4h0M519.3 2300.4h0M521.9 2301.7h0M524.5 2316.9h0M515.8 2326.7h0M519.8 2325.4h0M523.7 2349.9h0M520.1 2324h0M519 2300.7h0M517 2296h0M517.7 2333.7h0M519 2355.9h0M508.8 2278.6h0M522 2360.4h0M525.6 2303.6h0M508.8 2342.5h0M515 2317.6h0M521 2341h0M518.8 2350h0M517.1 2297h0M525 2325.2h0M523.3 2319.8h0M525.3 2315h0M523.1 2341.9h0M523.7 2334.1h0M511.9 2321.9h0M514 2309.2h0M525.6 2318.5h0M521 2294.2h0M508 2347.7h0M510.8 2288.7h0M566.4 2281.4h0M577.2 2291.6h0M551.8 2300.6h0M570.5 2334.8h0M568.8 2327.8h0M542.9 2321.2h0M592.6 2271.1h0M569.5 2330.2h0M560.7 2327.3h0M583.9 2284.1h0M592 2304.7h0M582.8 2332.7h0M562.4 2349.4h0M566.4 2326.9h0M569.9 2267.4h0M579.9 2311h0M575.3 2272.2h0M575.5 2301.3h0M570.2 2283.3h0M586.3 2324.2h0M570.6 2375h0M584.9 2306.6h0M564.1 2315.4h0M592.7 2266.9h0M590.7 2334.7h0M560.7 2252.7h0M557.3 2229.9h0M555.6 2332.4h0M585.4 2362.5h0M576.8 2230h0M590.7 2309.8h0M548.6 2312.2h0M563 2333.6h0M561.5 2300.4h0M565.8 2335.1h0M557.2 2293.3h0M587 2328h0M545.8 2298.6h0M573.1 2334.6h0M591 2253h0M584.2 2314.2h0M589.9 2311h0M559.4 2315.8h0M586.3 2307.2h0M548.8 2314.1h0M590 2307.8h0M586.5 2312.2h0M568.7 2371.5h0M561.5 2310.6h0M562.7 2265.3h0M544 2241.9h0M575.9 2283.8h0M546.4 2267.6h0M571.2 2295.5h0M552.2 2282.9h0M564.5 2305.1h0M584.6 2269.7h0M567.4 2265.4h0M556.8 2322.5h0M557.3 2254.8h0M575.2 2314h0M552.9 2262.6h0M591.1 2313.6h0M540.8 2311.9h0M566.3 2315.4h0M553.5 2298.9h0M581 2246.9h0M548.6 2286.1h0M543.8 2325.3h0M588.8 2268.9h0M614.9 2347.1h0M621.1 2372.4h0M612.5 2321.2h0M612.2 2362h0M623.5 2362.5h0M619.9 2408.3h0M624.3 2373.7h0M613.2 2395.2h0M618 2392.9h0M611.8 2380.3h0M617.3 2375.9h0M615.9 2399.8h0M611.4 2296.6h0M613.8 2341.4h0M613.3 2380.7h0M619.7 2366h0M620.7 2354h0M613.1 2352.2h0M624.2 2303.7h0M611.1 2352.1h0M620.1 2382.2h0M624.8 2369.3h0M622.3 2338h0M623.7 2337.5h0M619.9 2350.6h0M624.6 2390.1h0M625.7 2319.3h0M610.7 2354h0M625.5 2377.4h0M616.5 2357.5h0M617 2354.1h0M623.2 2358.5h0M617.6 2376.5h0M622.2 2373.6h0M621.6 2322.2h0M611.5 2412.9h0M615.3 2393.6h0M616.8 2367.1h0M622 2371.7h0M622 2397.3h0M618.5 2385.7h0M618.4 2361.4h0M619.1 2315.1h0M614.8 2297.1h0M615.1 2400.1h0M608.8 2349.6h0M614.3 2404.3h0M620.8 2370.8h0M618.6 2360.5h0M621.2 2391.7h0M616 2360.6h0M619.4 2333.9h0M620.5 2388.1h0M611.8 2364.7h0M613.1 2360.5h0M610.1 2397.5h0M620.2 2358.2h0M618.8 2377.3h0M611.2 2319.3h0M614.8 2344.2h0M620.3 2364.2h0M616.9 2376.6h0M618.2 2376.5h0M610.1 2365.2h0M614.2 2354.8h0M621.4 2387.6h0M614.2 2373.2h0M621.7 2387.2h0M617.3 2378.5h0M610 2353.7h0M620.3 2367.8h0M615.5 2375.2h0M625.5 2339h0M623.3 2358.6h0M620.6 2329.1h0M615.3 2367.1h0M623.1 2372.2h0M615.1 2349.3h0M619.1 2368.2h0M624.7 2362.2h0M623.4 2277.5h0M624.7 2364.3h0M620.8 2334.8h0M620.2 2392.1h0M622.8 2343.6h0M610.3 2333.6h0M613.6 2365.4h0M616.8 2375.1h0M621.5 2390h0M623.1 2356.2h0M611 2348.8h0M612.1 2368.5h0M608.8 2334.9h0M612.7 2364.3h0M616.2 2374.3h0M617 2350.4h0M614.7 2349.4h0M618.4 2389h0M609.8 2380.6h0M616.9 2382.4h0M620.2 2377.4h0M616.6 2362.5h0M625.9 2363.7h0M621.9 2380.6h0M609.3 2354.1h0M619 2346.8h0M622.3 2388.2h0M609.3 2369.9h0M611.3 2355.3h0M623.9 2391.1h0M616.9 2358.7h0M609.6 2330.4h0M615.7 2359.1h0M611.7 2353.9h0M619.4 2371h0M610.4 2354.4h0M617.4 2382.4h0M619.7 2369.7h0M624.6 2338.6h0M621.8 2362.5h0M620.5 2391.7h0M612.5 2398.2h0M610.6 2394.7h0M625.4 2329.7h0M624.7 2369.7h0M609.4 2329.5h0M621 2376.9h0M610.8 2370h0M613.5 2371.3h0M620.1 2376.7h0M609.7 2347.8h0M622.1 2331.6h0M608.3 2343.1h0M614.8 2376.4h0M608.4 2352.2h0M622.6 2367.4h0M614.3 2391.1h0M623.2 2371.7h0M621.5 2332h0M624 2374h0M623.9 2367h0M615.8 2374.4h0M612.5 2340.4h0M610.7 2384.2h0M622 2398.4h0M625.9 2347.3h0M622.4 2380.1h0M622.7 2326.3h0M617.6 2347.2h0M624.6 2359.9h0M609.8 2345.1h0M622.4 2399.4h0M612.5 2368.5h0M612.5 2376.5h0M623.6 2361.1h0M608.9 2374.8h0M623.1 2379.6h0M622.2 2328.8h0M620 2398h0M620 2349.5h0M613 2384.3h0M612.2 2384.6h0M617 2403h0M608.2 2339.4h0M619.2 2393.5h0M610.6 2359.3h0M614.1 2377.7h0M620.5 2321.8h0M624.6 2369.9h0M610.1 2372.3h0M619.8 2366.5h0M619.8 2373.8h0M609.7 2348.7h0M624.5 2371.8h0M623.3 2349.1h0M618.3 2375h0M617.5 2359.1h0M621.9 2387.9h0M624.6 2314.4h0M612.1 2352.1h0M615.7 2367.7h0M624.5 2360.4h0M610.4 2385.8h0M620.5 2363.9h0M608.9 2381.1h0M619.8 2390.8h0M616.5 2389.9h0M624.4 2377.9h0M610.9 2381.7h0M624.9 2376.4h0M618.7 2363.8h0M609.2 2383.3h0M611.4 2358.8h0M610.6 2358.6h0M613.5 2345.4h0M622.9 2332.2h0M618.9 2362.5h0M615.3 2319.9h0M620.1 2379.5h0M608.2 2332.9h0M609.7 2394.6h0M615.6 2383.9h0M619.2 2328.2h0M619.1 2383.1h0M610.8 2362.7h0M613.2 2310.9h0M610 2367.2h0M619.8 2401.4h0M614.1 2366.3h0M614.1 2357.3h0M623.8 2376.9h0M617.7 2379.4h0M611.2 2372.5h0M616.8 2320.1h0M611.7 2387.9h0M622.5 2359h0M613 2419.9h0M625.7 2373.3h0M611.7 2388h0M621.4 2364.2h0M609.5 2388.8h0M616.8 2371.6h0M608.7 2337.2h0M618.1 2359.8h0M619.5 2406.9h0M612.5 2366.1h0M624.8 2351.3h0M610.1 2351.5h0M618.6 2388.3h0M618.7 2356.4h0M622 2350.4h0M613.8 2405.7h0M608.3 2309.3h0M619.2 2366.7h0M620.2 2312.8h0M616.7 2311.6h0M613.2 2388h0M613.3 2378.8h0M612.7 2363h0M623.9 2336h0M616.4 2399.6h0M609.4 2378.1h0M619.9 2349.1h0M617.2 2373.2h0M615.5 2315.2h0M612.5 2349h0M624.2 2332.8h0M611 2329.7h0M612.1 2358.6h0M614.2 2381.6h0M613.7 2350.7h0M612.2 2384.7h0M620.4 2384.9h0M609.8 2329.4h0M620.8 2336.4h0M611.9 2351.2h0M619.7 2375.7h0M610.6 2350.2h0M618.5 2343.4h0M620.3 2337h0M611.7 2379.1h0M622.1 2382.4h0M625.8 2377.4h0M611.9 2385.2h0M611.4 2366.6h0M608.2 2342.7h0M619.9 2401.1h0M625.1 2324.4h0M611.9 2362.4h0M613.2 2373.2h0M622.4 2366.7h0M609.5 2378.1h0M608.4 2355.7h0M618.9 2354.4h0M618 2388.4h0M618.3 2379.5h0M619.9 2369.7h0M612.4 2371.2h0M624.6 2341.5h0M620.4 2378.1h0M624.5 2364.1h0M615 2380.1h0M612.5 2376.3h0M609.2 2358.7h0M620.9 2372.5h0M617 2335.9h0M612.4 2360.7h0M618.5 2376.6h0M619.8 2374.5h0M621.8 2322.5h0M684.6 2353.1h0M663.6 2387.1h0M665.3 2387h0M694.3 2365h0M654.3 2411.4h0M675 2368h0M659 2343.7h0M664.3 2400.3h0M674.2 2352.5h0M643 2362.3h0M682.3 2356.2h0M647.1 2368.2h0M676.4 2398.5h0M660.6 2365.8h0M691.1 2343.9h0M653.9 2356.9h0M652 2360.6h0M658.9 2388.4h0M680.2 2329.1h0M679.9 2330.6h0M651.2 2340.6h0M689.6 2348.9h0M680.1 2369.2h0M669 2397.3h0M663.2 2317.5h0M687.6 2349.7h0M676.6 2378.1h0M642.8 2387.4h0M664.5 2375.6h0M691.1 2366.8h0M671.7 2377.6h0M686.5 2372.7h0M691.9 2363.9h0M689.8 2336.9h0M662.6 2363.6h0M642.9 2332.3h0M640.9 2386h0M692.9 2364.1h0M664.6 2344.5h0M659.9 2398.2h0M647.4 2325.5h0M681.7 2369.2h0M686.3 2364h0M676.1 2326h0M664 2362.2h0M671.5 2398.1h0M679.3 2326.9h0M684 2401.2h0M640.7 2384.9h0M678.3 2368.5h0M643.9 2327.8h0M660.9 2365.5h0M678.6 2424.6h0M658.8 2341.1h0M672.8 2380.5h0M647.5 2332h0M682.8 2367.2h0M675.4 2390.7h0M645.1 2356.1h0M685.9 2364.3h0M678.5 2336.2h0M684.2 2342.4h0M687.2 2349.6h0M693 2351.6h0M658 2308.9h0M680.6 2364.1h0M694.6 2317.7h0M668.3 2347.7h0M656.2 2352h0M671.8 2350.8h0M716.7 2381h0M719.9 2346.9h0M710.5 2397.4h0M716.8 2321.3h0M725.1 2324.6h0M714 2309.8h0M723.6 2338.8h0M714.7 2342.3h0M715.8 2344.6h0M714.7 2360.5h0M709.5 2347.6h0M725.5 2310.7h0M713.4 2338.9h0M725.3 2382.3h0M710.5 2371.6h0M722.6 2347.1h0M718.1 2341.5h0M715.9 2402h0M720.7 2378.6h0M721 2343.7h0M726.2 2342.9h0M725.4 2342.5h0M725.3 2406.7h0M711.8 2391.8h0M716.2 2388.2h0M714.8 2324.1h0M712.4 2394.5h0M717.3 2368.6h0M713 2318.4h0M718.7 2381h0M725.6 2374.1h0M719.4 2340.7h0M721.1 2374.1h0M716 2376.6h0M712.4 2346.8h0M716.6 2338.5h0M718.9 2332.4h0M716.7 2374.6h0M720.4 2364.4h0M724.7 2369.4h0M713.7 2417.9h0M716.9 2334.7h0M720.4 2397h0M726.3 2291.2h0M715.3 2409.3h0M723.4 2281.9h0M711.1 2358.3h0M712.7 2369.3h0M710 2376h0M717.4 2383.8h0M721 2348.1h0M724.7 2365.5h0M711.9 2399.5h0M709.8 2382.7h0M720.9 2398.6h0M713.9 2385.4h0M724.1 2388.8h0M722.3 2322.5h0M714.3 2304.6h0M723.9 2416.4h0M726.1 2385.5h0M723 2375.6h0M724.2 2358h0M717.6 2314.4h0M720.6 2283h0M726.5 2315.7h0M724.4 2358.8h0M712.1 2318.4h0M714 2369.9h0M717.9 2362.6h0M714.4 2405.5h0M726 2377.9h0M712.5 2326h0M721.4 2355.5h0M713.7 2334.5h0M711.5 2391.6h0M723.8 2347h0M723.6 2326.5h0M714.4 2387.9h0M721.6 2358.6h0M709.2 2350.7h0M721.5 2391.5h0M718.1 2397.6h0M714.2 2327.1h0M724.7 2380.5h0M720.7 2381.1h0M710.5 2371.8h0M709.4 2334.1h0M709.5 2394h0M720.3 2366.5h0M724.5 2421.6h0M719.2 2353.1h0M723.9 2353.7h0M722.1 2358.3h0M709.6 2362h0M724.6 2335.6h0M725.9 2302.9h0M725.3 2368h0M711.9 2321.4h0M709.1 2286.9h0M713.9 2364.7h0M722.6 2377.8h0M712.2 2370.4h0M712.8 2320.5h0M719.4 2338.9h0M722.2 2352.7h0M725.1 2365.4h0M713.9 2368.8h0M713.1 2350.5h0M715.1 2341.6h0M724.1 2349.2h0M711.9 2351.7h0M721.9 2364.6h0M725.4 2339.5h0M724.5 2323.2h0M721.5 2398.5h0M721.2 2339h0M719.7 2338.1h0M710.7 2345.8h0M721 2375h0M719.1 2407.3h0M726 2364.3h0M722.9 2350.3h0M718.8 2316h0M709 2387.6h0M715.3 2328.4h0M724.4 2361.8h0M713.6 2310.4h0M713.2 2304.5h0M721.2 2360.9h0M713.7 2358.3h0M709.4 2389h0M720.1 2359.4h0M719.1 2311.6h0M726.6 2398.2h0M725.7 2369.5h0M722.4 2321.9h0M710 2331h0M725.7 2405.9h0M711.6 2410.7h0M710.9 2319.2h0M722.7 2322.7h0M714.7 2350.5h0M714.7 2360.7h0M718.9 2376.1h0M717.7 2376.2h0M723.3 2367.2h0M709.6 2379.9h0M726.3 2379.6h0M718.7 2360.6h0M719.6 2384.6h0M716.7 2355.3h0M723.3 2363h0M722.5 2389h0M712.3 2350.5h0M711.9 2344.8h0M716.2 2299.2h0M717.3 2375h0M721.9 2359.3h0M711.8 2368.6h0M717.2 2317.1h0M712.8 2374.9h0M724.3 2352.9h0M716.8 2358.8h0M721.5 2366.2h0M723.6 2346.4h0M715.2 2326.9h0M716.4 2357.4h0M722.4 2379.5h0M711.2 2359.1h0M708.8 2366h0M713.6 2370.9h0M724.4 2368.4h0M718.7 2390.8h0M710.3 2272.5h0M719.6 2324h0M713.9 2370h0M718.6 2302.1h0M717.2 2332.6h0M719.2 2308.7h0M726 2380.6h0M715.6 2394.4h0M718.1 2373.5h0M721.7 2342.7h0M725.2 2307.9h0M722.5 2360.6h0M708.7 2366h0M720.8 2388.1h0M719.9 2284.1h0M714.2 2404.3h0M710.8 2375.7h0M721.2 2372.5h0M715.7 2362.3h0M719.1 2292h0M720.3 2340.2h0M725.6 2337.5h0M715.9 2318.5h0M723.9 2353.7h0M709.5 2382.8h0M710.4 2385.1h0M714.4 2368.1h0M713.6 2316.8h0M717 2299.1h0M718.3 2336.4h0M723.5 2353.9h0M717.7 2381.4h0M723.3 2370.8h0M715.9 2386h0M713.2 2306h0M721.6 2337.3h0M719 2270.3h0M722 2359.6h0M724.1 2338.7h0M715 2347.5h0M714.5 2298.7h0M721.4 2351.3h0M711 2372.5h0M718.7 2334.8h0M724.3 2347.9h0M715.2 2379h0M713.6 2401.4h0M716.6 2378.6h0M714 2398.5h0M718 2382.2h0M720.1 2333.3h0M724.8 2386.8h0M717 2356.7h0M716.8 2362.9h0M716.5 2354.6h0M711.8 2323.9h0M719.3 2344.5h0M709.6 2344h0M723.7 2384.4h0M717.3 2350.7h0M716.7 2349.2h0M724.4 2348.8h0M721.4 2320.7h0M723.8 2352.8h0M710.8 2365.3h0M717.6 2339.6h0M709.3 2364h0M717.8 2387.4h0M719.4 2349.8h0M719.8 2421.8h0M719.8 2310h0M719.4 2378.8h0M717.8 2317.8h0M721.5 2350.1h0M708.8 2271.8h0M718.8 2389.2h0M716.1 2347.2h0M716.2 2359h0M721.4 2403.6h0M720.2 2316.2h0M726.1 2377.7h0M719.2 2352.5h0M714.6 2327.3h0M721.3 2279.7h0M715.2 2347.1h0M720.7 2365.1h0M724.7 2384.8h0M713.6 2323.3h0M724.4 2340.4h0M720.1 2346.6h0M713.9 2343.9h0M712.5 2309.8h0M714.3 2331.9h0M723.1 2392.2h0M712.7 2337.6h0M724.9 2327.6h0M722.3 2369.9h0M719 2380.3h0M713.1 2375.1h0M709.7 2352h0M710.7 2343.1h0M722.9 2369.3h0M723.2 2386.1h0M718.6 2403.1h0M725.1 2375.9h0M719.7 2286.7h0M720 2342.8h0M724.7 2321.5h0M721.2 2348.9h0M714.1 2333.9h0M726 2338.1h0M710.4 2342.6h0M721.8 2322h0M714.3 2382.8h0M724.4 2372.7h0M718.3 2353.7h0M764.5 2377.3h0M750.6 2403.4h0M742.5 2361h0M777.9 2333.2h0M748.9 2359.8h0M780.3 2356.9h0M751.8 2393.7h0M764.2 2386.4h0M756.9 2403.6h0M788 2328.9h0M767.7 2352.3h0M758.1 2386.8h0M785.6 2342.8h0M791.1 2334.3h0M749.7 2373h0M747.2 2260.8h0M779.8 2339.1h0M767.7 2347.6h0M770.9 2382.8h0M766.6 2349.1h0M766.3 2329h0M748 2340.7h0M752 2341.6h0M757.3 2347.5h0M747.7 2378.7h0M780.5 2333.2h0M783.2 2330.8h0M780 2367.8h0M760.7 2301h0M768.5 2375.7h0M781.3 2387.7h0M786.6 2387h0M744.2 2351.3h0M752.6 2387.2h0M749.2 2379.2h0M754.5 2362.5h0M786.6 2385h0M747.7 2352h0M766 2343.7h0M741.1 2416.1h0M786.5 2312.9h0M791.7 2337.8h0M756.4 2309.9h0M747.4 2383.6h0M790.9 2319.6h0M787.5 2392.1h0M773.5 2385.2h0M791.8 2377.5h0M773.6 2335.6h0M770.9 2270.9h0M770.1 2403.2h0M751.6 2440.4h0M772.1 2384.8h0M795.1 2349.7h0M758.7 2422.7h0M778 2363.4h0M783.2 2368.3h0M789.1 2382.7h0M791.8 2354.9h0M770 2395.5h0M792.3 2333.8h0M781.5 2383.8h0M753.5 2296.9h0M765.7 2338.6h0M783 2342.5h0M780.5 2363.4h0M743 2380.3h0M791.7 2386.2h0M787 2354.9h0M794.3 2353.7h0M814.7 2361.9h0M812.7 2348.4h0M814.7 2324.4h0M810 2334.5h0M812.6 2343.7h0M809.6 2336.1h0M810.5 2328h0M818.5 2338.7h0M823 2288.8h0M820.8 2312.4h0M816.4 2389.7h0M826 2319h0M823.1 2347.5h0M813.6 2321.3h0M812.1 2365.3h0M820.1 2336.7h0M811.5 2321.7h0M814.5 2343.7h0M809.4 2355.6h0M825.3 2333.2h0M825.6 2300.1h0M820.3 2327.2h0M825.8 2339.8h0M820.1 2313.7h0M826.8 2312.7h0M821.3 2324.5h0M826.4 2361.4h0M825.2 2341.6h0M812.5 2334.4h0M815.2 2308.9h0M822 2337.1h0M826.3 2320.4h0M814.2 2329.9h0M818.8 2301.2h0M809.6 2347.4h0M818.9 2320.5h0M817.7 2332.5h0M823.6 2319.3h0M810.9 2309.5h0M809.1 2344.8h0M810.6 2352.5h0M813.8 2328.6h0M819.4 2352.3h0M819.2 2316.2h0M817.8 2338.5h0M810.3 2347.6h0M815.3 2331h0M823.8 2336.4h0M813.7 2326.8h0M817 2364.1h0M818.5 2342.1h0M813.2 2348.5h0M813.4 2347h0M823 2356.4h0M812.6 2341.2h0M821.1 2342.8h0M814.4 2310.9h0M825.8 2373.3h0M823.6 2323h0M809.1 2311.1h0M822.6 2301.6h0M812.9 2313.4h0M820.9 2350h0M811.4 2320.5h0M826.7 2343.6h0M814.4 2326.1h0M816 2331.2h0M826.6 2285.6h0M817.4 2338.9h0M821 2371.9h0M821.4 2324.1h0M824.1 2349.9h0M822.6 2339h0M821.8 2339.7h0M826.9 2340.6h0M820.2 2368.3h0M824.4 2345.3h0M819.7 2339h0M809.7 2346.3h0M813.8 2329.6h0M825 2317.9h0M812.3 2308.3h0M813.3 2343.7h0M825.6 2319.3h0M821.7 2333.2h0M818.6 2298.6h0M810.3 2319.5h0M810.2 2344.4h0M810.1 2332.5h0M826.5 2360h0M813 2367.4h0M818.7 2286.1h0M818.2 2312.7h0M817.4 2316.8h0M823.5 2345.4h0M811.1 2344.2h0M823.5 2344.7h0M820.6 2341.1h0M810.2 2334.4h0M825.5 2310.6h0M811.1 2352.2h0M825.7 2350.2h0M815.6 2325.1h0M817.9 2265.8h0M812.2 2342h0M816.9 2283.7h0M813.5 2302.4h0M822.8 2330.9h0M813.5 2346.1h0M820.9 2344.4h0M824.7 2332.2h0M821.5 2325.8h0M812.5 2355.3h0M818.9 2304.4h0M812.4 2337.9h0M824 2331.9h0M813.2 2309.1h0M812.2 2321.5h0M812.6 2357.6h0M821.4 2335.5h0M818.4 2319.7h0M813.9 2343.7h0M823.9 2334.4h0M824.8 2321h0M823.7 2314.8h0M822.5 2343.5h0M821.2 2369.1h0M817.8 2352.7h0M823.1 2344h0M815.3 2333.3h0M825.9 2351.9h0M816 2305h0M812.8 2354.7h0M811.6 2335.9h0M810.9 2371.9h0M815.6 2362.6h0M818 2357.1h0M822.1 2339.3h0M815.4 2327.9h0M810.2 2327.8h0M821.5 2346.9h0M814.2 2345.3h0M825.5 2329.5h0M825.8 2338.2h0M822.8 2346.6h0M812 2317.5h0M815.3 2320.2h0M821.5 2335.3h0M811.9 2314h0M826.1 2333.6h0M818.5 2331.5h0M809.5 2318.4h0M818.1 2318.1h0M826 2320.6h0M817.5 2367h0M818.6 2341.5h0M811.9 2315.6h0M816.7 2363.4h0M820.5 2321.6h0M824.9 2335.4h0M814.9 2356h0M811.7 2353.3h0M816.1 2360h0M821.5 2300.2h0M809.5 2330h0M811.1 2344.4h0M812.5 2364h0M826.5 2314h0M820.9 2313.9h0M826 2322.4h0M812.4 2300.4h0M818.6 2360.3h0M821.6 2330.5h0M813 2312.6h0M825.4 2320.9h0M817.7 2339.3h0M811.9 2334.4h0M824.5 2333h0M812.9 2312h0M815.1 2352.3h0M822.4 2356h0M822.3 2300.5h0M815 2339.8h0M816.4 2297h0M826.2 2351.2h0M815.8 2332.8h0M813.5 2307.3h0M826.2 2327.1h0M824.5 2302.2h0M827 2384.5h0M824.9 2314.2h0M809.8 2290.2h0M822.1 2355.4h0M815.1 2351.5h0M814.2 2340.4h0M811.4 2332.1h0M818.2 2352.9h0M817.1 2324.9h0M810.1 2272.3h0M825.1 2287.1h0M823.5 2322.4h0M810.3 2328.5h0M816.6 2302.2h0M810.5 2330.5h0M815.9 2333.9h0M823.2 2313.9h0M825.9 2309.5h0M809.7 2288.7h0M815.4 2348.1h0M821.4 2338.3h0M825.1 2320.5h0M824.9 2362.3h0M819.6 2311.3h0M809.1 2362h0M813.4 2357.1h0M809.6 2344.3h0M814 2320.8h0M816.8 2332.8h0M810 2304h0M826.2 2344.2h0M820.9 2353.9h0M824 2338.1h0M810.5 2353.7h0M814.8 2327.6h0M817.4 2342.5h0M825.2 2338.3h0M819.1 2338.7h0M823.9 2313.8h0M812.9 2345h0M825.6 2354.3h0M812.8 2297.7h0M813.6 2343.5h0M825.7 2327h0M823.9 2354.7h0M809.1 2291.5h0M814.2 2322.4h0M811.5 2331.4h0M812.9 2342.6h0M826.2 2331.6h0M811.7 2374.9h0M818.7 2343.6h0M811.5 2309.8h0M815.2 2350.7h0M821.3 2293.3h0M821.6 2308.4h0M825.8 2350.8h0M824.2 2316.8h0M811.5 2309h0M822.4 2383.3h0M813.7 2328.2h0M809.1 2329h0M814 2353.7h0M810.3 2320h0M824.5 2307.3h0M811.4 2331.9h0M812.1 2360.5h0M809.8 2362.7h0M826.1 2333.6h0M811.8 2307.8h0M812.5 2312h0M811.7 2334.2h0M812.3 2319.1h0M811.5 2330.3h0M824.6 2344.7h0M819.2 2370.3h0M822.4 2327.9h0M822.8 2334.6h0M822.2 2302.4h0M812.3 2334.4h0M822.5 2335.8h0M826.9 2334.4h0M814.8 2342.6h0M811.4 2347.7h0M813.8 2334.7h0M812.5 2347.6h0M811.5 2344.6h0M814.1 2308.1h0M811.6 2350h0M813.6 2313.8h0M822.4 2312h0M820.3 2360.5h0M814.7 2313.2h0M815.8 2323.5h0M824.3 2301.8h0M822.3 2275.1h0M809 2339.9h0M810.5 2342h0M811 2324.7h0M815.6 2339.7h0M816.4 2344.8h0M882.7 2317.5h0M891.2 2290.8h0M877.5 2330.7h0M850.2 2290.8h0M881.9 2363.4h0M895.1 2285.8h0M846.1 2321.8h0M851.6 2297.6h0M869.6 2321.9h0M845.9 2355.1h0M881.8 2285h0M852.8 2241.2h0M891.6 2255.6h0M884.3 2324.4h0M855.5 2281.3h0M859.2 2311.7h0M886.6 2327.8h0M873.8 2361.8h0M872.7 2297.4h0M868.4 2333.8h0M872.8 2354.3h0M872 2315.9h0M844 2334.3h0M887.5 2309.2h0M895.1 2319.4h0M846.7 2332.1h0M884.4 2346.7h0M875.1 2350.2h0M846.3 2348.6h0M854.2 2322.2h0M850.8 2321.1h0M852.1 2313.2h0M846.2 2356.9h0M876.9 2328.5h0M852.2 2329.3h0M894.5 2318.3h0M847.5 2359.5h0M882.2 2288.5h0M882.5 2289.9h0M886.5 2275h0M889.5 2264.8h0M854.6 2296.8h0M865 2333.6h0M871.7 2308.7h0M879.9 2333.6h0M849.6 2261h0M895.5 2351.3h0M870.2 2330.7h0M842.8 2329.8h0M882.8 2357.3h0M862.5 2288.6h0M877.3 2316.9h0M863.5 2266.9h0M857.5 2334h0M868.2 2290.5h0M891 2305.8h0M882.4 2357h0M884.6 2305h0M844.2 2386.6h0M876.2 2340.9h0M853 2314.1h0M885.2 2258.3h0M877.1 2274.1h0M868.9 2350.8h0M884 2318.4h0M882.2 2354.9h0M847.4 2348.7h0M862 2327.4h0M890.1 2312.6h0M884 2329.8h0M918.2 2349.2h0M913.8 2349.6h0M921.9 2345.8h0M926.4 2344.8h0M914.3 2349.3h0M911.6 2325.6h0M913 2348.2h0M916 2333.7h0M921.7 2329.1h0M921.4 2363.1h0M926 2343.8h0M911.5 2338.8h0M926.9 2345.7h0M916.9 2336.1h0M916.6 2349h0M926.8 2339h0M923.2 2350.5h0M924.4 2350.8h0M923 2358.4h0M926 2341.5h0M921.1 2369.2h0M925.1 2344h0M927.1 2331.2h0M925.6 2327.4h0M927.2 2357h0M914.1 2340.1h0M926.2 2343.2h0M911.1 2355h0M922.2 2359.8h0M910.1 2349.1h0M923.7 2323.1h0M910.5 2347.9h0M924.9 2344.4h0M925.9 2345.3h0M910.3 2342.8h0M909.4 2361.2h0M923.3 2348.5h0M910.3 2346.4h0M918.3 2360.3h0M922.3 2353.7h0M921.6 2346.5h0M911.3 2356.2h0M910.8 2347.2h0M922.7 2349.3h0M926.2 2327.5h0M911.1 2328.1h0M925.1 2336.8h0M917.1 2360.9h0M910.9 2329.1h0M919 2341h0M914 2334.2h0M915.4 2340.4h0M923.6 2327.7h0M923.1 2358h0M923.2 2344h0M918.7 2344.2h0M915.1 2357.9h0M922.2 2368.2h0M917.5 2343.6h0M911.5 2322.1h0M920.4 2352.5h0M910 2375.7h0M921.8 2339h0M924.7 2365.7h0M910.9 2327.2h0M926.3 2320.4h0M911.8 2334.1h0M910.8 2330.1h0M911 2363.4h0M920.2 2340.8h0M922.6 2350.8h0M912.7 2360.6h0M924 2367.9h0M911.4 2343.3h0M919.4 2340.3h0M923.5 2367.6h0M916.6 2348.4h0M916 2346.1h0M921.5 2340.2h0M920.5 2350.2h0M909.6 2318.4h0M919.6 2343.1h0M920.6 2343.1h0M922.9 2365h0M915.6 2366h0M920.3 2344h0M925.4 2337.2h0M919.5 2334.8h0M927.1 2308.4h0M920 2328.4h0M923.7 2353.2h0M923 2343.7h0M920.3 2346.1h0M925.6 2334.9h0M910.1 2359.4h0M926.3 2348.4h0M926.6 2357.5h0M917.6 2344.1h0M919.8 2317h0M912.9 2344.6h0M915.5 2348.9h0M918.8 2352.3h0M923.6 2338.3h0M909.5 2333.9h0M913.7 2335.2h0M924.5 2323.1h0M911.5 2336.4h0M917.4 2333.2h0M924.8 2333.2h0M925.7 2339.4h0M923.7 2361.6h0M926.9 2338.4h0M911.6 2377.5h0M910.5 2358.1h0M915.2 2344.5h0M920.7 2334.2h0M923.1 2364.1h0M916.8 2365.7h0M927.2 2343.1h0M921 2345.7h0M921.9 2325.2h0M926.2 2382.6h0M920.9 2349.6h0M926.9 2355.9h0M912 2339.5h0M920.5 2345.1h0M917.3 2342.1h0M927.1 2355.5h0M913.7 2326.3h0M924.4 2341.6h0M916.4 2349h0M926.9 2320.8h0M926.4 2329.8h0M910.9 2359.7h0M925.8 2339.9h0M923.2 2348.7h0M924 2351.8h0M925.5 2351.3h0M922 2326.9h0M912.9 2345.2h0M914.7 2323.5h0M917.8 2342.4h0M917.6 2355.5h0M918.5 2332.8h0M922.1 2349.2h0M914.9 2346.8h0M916.8 2335.6h0M922.8 2331.9h0M917.5 2365.5h0M917.3 2353.3h0M918.9 2337.9h0M917.9 2356.1h0M926.1 2357.1h0M922.6 2357.6h0M916.8 2347.7h0M914.3 2340.3h0M917.6 2341.2h0M913.2 2353.1h0M918.5 2326.3h0M926.6 2360.9h0M913.7 2328.2h0M925 2356.8h0M914.5 2338.7h0M924.2 2355.4h0M924.1 2350.6h0M910.4 2343.1h0M922.1 2349h0M916.1 2370.6h0M915.2 2352.1h0M911.2 2365.4h0M917.4 2348.2h0M917.9 2350.2h0M912.2 2351.2h0M922.6 2325.8h0M912.8 2342h0M913.5 2337h0M920.3 2322.4h0M926.6 2341.9h0M913.6 2352.7h0M920 2359.6h0M922.4 2330.6h0M910.5 2338.4h0M917.7 2310.6h0M911.7 2339.7h0M923.3 2323.7h0M915.3 2330.4h0M911.3 2354.4h0M913.3 2320.7h0M912.4 2361.5h0M919.8 2362.9h0M911.8 2364.5h0M917.4 2332.2h0M922 2342.2h0M917.6 2359h0M914.4 2350.9h0M926.7 2347.4h0M920.6 2351.7h0M911.7 2326.5h0M918.7 2348.6h0M916.7 2352.2h0M913.9 2361.7h0M922.6 2360.4h0M926.8 2329.4h0M910.2 2328h0M916.3 2366.2h0M915.3 2355.3h0M914.9 2345h0M926.7 2353.9h0M922.9 2343.8h0M923.5 2361.7h0M919.5 2364.6h0M919.7 2337.1h0M915 2349.1h0M910 2356.1h0M917.8 2321.6h0M915.7 2346.2h0M916.2 2340.1h0M912.1 2327h0M923.8 2353.2h0M914 2351.3h0M916.4 2343h0M912.8 2358.6h0M925.8 2356.8h0M924 2331.9h0M920.6 2338.7h0M925.9 2361.7h0M915.3 2346.5h0M912.7 2324.9h0M915.9 2329.5h0M910.9 2377.9h0M912.1 2352.4h0M917.4 2345.8h0M912.9 2345.9h0M924.1 2317.8h0M918.6 2334.6h0M921.3 2360.2h0M921.1 2333.2h0M919.4 2346.4h0M913.5 2360.6h0M920.2 2309.1h0M918.2 2377.4h0M926.6 2324.5h0M920.9 2350.9h0M912.5 2352.1h0M909.6 2344.2h0M923 2360.9h0M914.2 2358.9h0M912.2 2325.6h0M916.5 2341h0M924.9 2329.2h0M915.8 2348.9h0M918 2357.9h0M919.5 2336.7h0M914.1 2336.5h0M925.3 2359.5h0M927.4 2357.3h0M913.2 2340.7h0M918.2 2344.3h0M927 2347.6h0M910.1 2356.7h0M918.1 2357h0M916.5 2345.1h0M911.1 2328.2h0M924.7 2353.3h0M927.3 2345.2h0M921 2340.9h0M922.6 2344.9h0M922.4 2352.7h0M919.7 2336.2h0M923.5 2336.4h0M910.9 2349.2h0M927.1 2348h0M927 2347.6h0M919.7 2346.1h0M921 2343.5h0M921.3 2348.4h0M913.1 2353.8h0M923.4 2369.2h0M911 2339.7h0M911.8 2351.6h0M918.6 2344.2h0M924.2 2328.2h0M916.9 2340.8h0M911.9 2336.9h0M922.8 2333.3h0M914.4 2359.5h0M911.3 2334.2h0M924.4 2327.4h0M917.2 2333.1h0M919.1 2344.5h0M953.3 2304.2h0M980.5 2336.5h0M981.8 2336.1h0M969.3 2330.5h0M942.7 2342.3h0M971.1 2364h0M976.6 2370.8h0M950.1 2342.7h0M978.5 2340.4h0M978 2327.8h0M952.4 2359.9h0M994.2 2352.7h0M964.7 2362.7h0M944.3 2359.5h0M967.1 2355.3h0M984.1 2339.5h0M954.5 2367.9h0M972.9 2328.2h0M972.8 2348.8h0M952.6 2330.3h0M978.7 2348.1h0M993 2339.4h0M986.7 2365.5h0M968.5 2319.2h0M993.6 2362h0M948.4 2328.8h0M975.2 2344.3h0M979 2356.5h0M952.4 2310.5h0M943.4 2350.2h0M980.4 2304.5h0M964.6 2339.4h0M985.7 2362.2h0M964.7 2336.5h0M978.3 2329.8h0M964.7 2323.9h0M979.7 2318.2h0M970.3 2308.5h0M983.6 2318.6h0M961.9 2356.6h0M977.2 2338.3h0M995.1 2334.8h0M987.2 2374.4h0M953.5 2293.6h0M967.6 2348.5h0M985.5 2319.3h0M975.1 2349.9h0M980.4 2291.1h0M974.3 2308.3h0M968.4 2328.5h0M975.6 2333h0M960.5 2337h0M962.8 2350.3h0M987.4 2334.9h0M985.1 2352.4h0M943.8 2321.9h0M962.4 2354.9h0M982.4 2313.2h0M988.1 2351.2h0M963.1 2339.7h0M994 2304.7h0M991.2 2358.4h0M978.6 2340.1h0M945 2334.7h0M981.7 2329.1h0M947.2 2298.1h0M985.1 2376.4h0M951.2 2315.5h0M971.2 2344.4h0M983.9 2324.3h0M1022.2 2342.9h0M1014.6 2331.1h0M1022.2 2337h0M1019.2 2343.5h0M1022 2333.7h0M1014.4 2346.2h0M1025.8 2341.5h0M1020.3 2339.9h0M1020.2 2359.7h0M1015.4 2361.7h0M1014.2 2347h0M1017.9 2359.5h0M1010 2299.9h0M1023.1 2323.9h0M1022.8 2359h0M1013.4 2361.8h0M1010.9 2349.7h0M1022.6 2347.5h0M1010.6 2335.9h0M1025.8 2308.5h0M1010.1 2337.4h0M1011.9 2339.8h0M1023.7 2347.9h0M1019.9 2334.6h0M1025.7 2333.7h0M1021.9 2335.7h0M1027.5 2346.4h0M1025.7 2344.9h0M1027.4 2355h0M1021.6 2318.4h0M1011.9 2364h0M1013 2346h0M1023.6 2369.1h0M1014.4 2367.1h0M1022 2351.5h0M1020.1 2335.8h0M1015.6 2353.9h0M1026.1 2291.1h0M1015.9 2334.6h0M1027.4 2344.2h0M1012.5 2324.5h0M1024.3 2348.5h0M1011.1 2357.7h0M1020.6 2344.6h0M1024.2 2353.9h0M1024.9 2316.8h0M1010.2 2331.7h0M1023.9 2332h0M1016.2 2317.4h0M1009.9 2328.6h0M1013.6 2327.7h0M1010.7 2357.6h0M1026.5 2333.1h0M1013.7 2351.8h0M1019.6 2345.3h0M1021.8 2357.4h0M1019.4 2337h0M1026.6 2311.9h0M1022.5 2350h0M1014.2 2332.3h0M1019.1 2340.3h0M1015.8 2340h0M1025.3 2349.5h0M1016.9 2343.8h0M1012.2 2356.2h0M1025.5 2342.2h0M1012.3 2347.8h0M1019.1 2347.4h0M1014.9 2334.3h0M1013.5 2356.9h0M1021 2330.2h0M1026.5 2355.2h0M1026.3 2342.2h0M1021 2335.1h0M1023 2337.2h0M1022.8 2327h0M1023.2 2349.6h0M1025.5 2331.4h0M1020.7 2336.2h0M1021 2337.9h0M1013.8 2345.2h0M1015.5 2329.2h0M1020 2340.5h0M1014.5 2350.9h0M1019.7 2359.5h0M1017.1 2314.3h0M1016.9 2340.2h0M1012 2384.2h0M1025.2 2366.5h0M1013.5 2335.8h0M1013.6 2356.3h0M1010.3 2326.8h0M1025.2 2351.6h0M1024 2366.1h0M1013.5 2346.9h0M1014.1 2353.2h0M1014.5 2354.5h0M1025.1 2361.2h0M1017.6 2376.5h0M1018.9 2348.5h0M1027.2 2343.4h0M1023.7 2352.9h0M1018.6 2302.2h0M1012.2 2342h0M1013.6 2317.4h0M1027.7 2332.6h0M1024.6 2324.2h0M1020.5 2342h0M1027.4 2334.4h0M1015.6 2315.4h0M1017.2 2357.3h0M1024.8 2352.1h0M1023.1 2345.5h0M1018.6 2303.7h0M1018.4 2316.7h0M1022 2328.5h0M1018.9 2365.2h0M1011.5 2359.3h0M1017.7 2355.3h0M1021.2 2346.2h0M1011.7 2342.1h0M1015.4 2347.3h0M1022.3 2360h0M1013.8 2336h0M1027.6 2317.8h0M1013.3 2355.4h0M1021.5 2336h0M1026.1 2356.5h0M1024.7 2338h0M1014.6 2340h0M1010.3 2317.3h0M1019 2346h0M1020.6 2323.9h0M1014.3 2338.6h0M1011.3 2349.6h0M1027.6 2366.5h0M1015.1 2347.8h0M1011.3 2355.4h0M1026.3 2346h0M1027.6 2346.2h0M1022.3 2350.4h0M1021.5 2356.7h0M1012.1 2337.1h0M1016.3 2338.6h0M1010.1 2329.2h0M1013.9 2328.5h0M1027.1 2308.8h0M1027.5 2312.9h0M1010.1 2363.5h0M1024.2 2343.1h0M1020.7 2352.2h0M1026.7 2342h0M1012.9 2343.3h0M1018.8 2336.8h0M1016.4 2369.5h0M1014.8 2371.8h0M1011.7 2364.1h0M1024.3 2323.6h0M1013 2328.4h0M1024.4 2350.9h0M1026.8 2375.6h0M1013 2346.2h0M1026.5 2348.2h0M1016.8 2326h0M1022.1 2361.5h0M1017.4 2316.5h0M1023.8 2301.1h0M1020.5 2337.4h0M1026 2364.3h0M1019 2340.5h0M1013.2 2382.6h0M1025.1 2340.3h0M1022 2323.4h0M1016.6 2352h0M1026.8 2322.8h0M1022.3 2349.1h0M1021.3 2339.9h0M1026.1 2348.2h0M1019.5 2340.9h0M1017.3 2327.4h0M1013.2 2335.5h0M1013.5 2312.6h0M1011.2 2357.8h0M1017 2368.9h0M1027.1 2329.1h0M1017 2290.6h0M1010.4 2324.1h0M1020 2304.4h0M1011.4 2343.8h0M1025.3 2306.8h0M1011.8 2353.8h0M1020.5 2334.2h0M1010.2 2348.2h0M1013.4 2336h0M1017.6 2360.1h0M1020.6 2330.8h0M1019.6 2354.3h0M1014.2 2316.9h0M1025.1 2329.8h0M1012.9 2311.2h0M1024.3 2347.8h0M1023.5 2358.8h0M1009.8 2353.9h0M1013.5 2339.7h0M1024.2 2336h0M1020.9 2345.8h0M1016.6 2333h0M1016.1 2327h0M1011 2315.8h0M1023.4 2359.5h0M1010 2359.5h0M1021.8 2333.7h0M1018 2343.6h0M1011.2 2342.8h0M1010.2 2294.1h0M1026.4 2319.1h0M1014.6 2336.4h0M1020.6 2343.7h0M1009.9 2324.9h0M1018.5 2342.6h0M1020.8 2354.4h0M1024.3 2360.7h0M1021.1 2363.6h0M1015.7 2346.2h0M1023 2339.5h0M1010.5 2356.2h0M1021.8 2344h0M1011.1 2344h0M1010.7 2347.9h0M1018.2 2336.9h0M1014.8 2342.5h0M1022.6 2317.5h0M1026.7 2336.6h0M1015.4 2354.8h0M1011.3 2387.5h0M1016.5 2337.8h0M1017.7 2309h0M1023.6 2323.4h0M1027.3 2351.6h0M1011 2368.6h0M1019.7 2357.1h0M1016.2 2326.4h0M1014.6 2329.2h0M1025.9 2338.8h0M1026.1 2350.1h0M1025.4 2324.4h0M1025.5 2343.3h0M1025.7 2347h0M1023.9 2345.1h0M1020.4 2360.6h0M1027.3 2330.9h0M1015.7 2335.5h0M1026.2 2346.4h0M1017.4 2359.2h0M1018.9 2365.8h0M1025.3 2331.6h0M1019 2347.7h0M1018.8 2335.3h0M1013.3 2348.3h0M1010.8 2329.8h0M1015.8 2367.4h0M1022.4 2365.1h0M1020 2332.9h0M1016.5 2341.5h0M1021 2305.3h0M1010.7 2333h0M1019.5 2347.9h0M1018.3 2361.9h0M1022.6 2351.7h0M1017.3 2356.3h0M1025.4 2312.8h0M1013.9 2361.8h0M1010.4 2341.8h0M1027.6 2330.4h0M1018.2 2300.9h0M1026.3 2349h0M1024.5 2358h0M1024.8 2352.3h0M1025.5 2366.5h0M1022.7 2368.5h0M1023.8 2355.9h0M1015.6 2322.9h0M1025.9 2358.6h0M1010 2296.2h0M1024.1 2341.4h0M1026.4 2350.7h0M1022.2 2338.6h0M1013.3 2327.2h0M1017.9 2356.1h0M1020.9 2359.8h0M1046.7 2359.7h0M1095.1 2345.9h0M1090.8 2362.1h0M1089.7 2329.9h0M1064.4 2335.7h0M1058 2332.3h0M1054 2357.9h0M1059.1 2327.7h0M1044.4 2341.6h0M1083.6 2359.8h0M1060.7 2340.1h0M1059.8 2362.3h0M1053.9 2343h0M1066.5 2337.6h0M1090.8 2335.6h0M1067.8 2326.5h0M1092.4 2314h0M1078.7 2318.1h0M1086.3 2347.7h0M1089.5 2281h0M1056.6 2339h0M1044.5 2351.5h0M1071.6 2335.9h0M1079.9 2347.1h0M1049.1 2345.5h0M1059.9 2325.8h0M1068.2 2300.9h0M1073.6 2358.4h0M1044.2 2340.9h0M1095.4 2333.8h0M1078.2 2323.6h0M1075.4 2335.4h0M1076.7 2335.9h0M1062 2336.3h0M1068.3 2333.9h0M1074.7 2315.3h0M1090.6 2356.9h0M1060.4 2338.8h0M1087.9 2362h0M1091.9 2326.3h0M1050.1 2341.2h0M1077.1 2348.6h0M1091.4 2323.7h0M1093.8 2341.1h0M1042.7 2339.9h0M1070.2 2307.8h0M1092.4 2332.4h0M1077.6 2356.9h0M1077.1 2330.9h0M1061.7 2357.2h0M1065.1 2361.3h0M1051.1 2362.5h0M1057.3 2386.9h0M1045 2310.6h0M1054.1 2344.9h0M1085.5 2331.7h0M1052 2365.6h0M1085.4 2351.1h0M1047.7 2354.1h0M1058.8 2318.8h0M1092.9 2341.1h0M1045.6 2366h0M1065.2 2334.8h0M1046.7 2313.4h0M1043.5 2333.4h0M1081.3 2341.8h0M1066.3 2346.1h0M1048.4 2350.5h0M1089.4 2335.1h0M1045.8 2332.3h0M1123.4 2216.6h0M1120.9 2202.5h0M1128 2205.2h0M1122.6 2190.2h0M1117.3 2183.9h0M1116.6 2179.8h0M1125.5 2209.9h0M1113.6 2203.9h0M1127.5 2164.8h0M1119.7 2179.6h0M1118.6 2227h0M1122.2 2188.6h0M1123.4 2185.5h0M1117.1 2182.2h0M1121.8 2172.1h0M1118.1 2189.2h0M1115.1 2196.7h0M1120.3 2207h0M1117.1 2183.6h0M1113.1 2188.3h0M1115.2 2198.4h0M1123.2 2180.1h0M1122.6 2216.9h0M1115.5 2191.2h0M1117.2 2201.5h0M1118 2190.2h0M1127.2 2192.7h0M1118.2 2198.9h0M1122.5 2187.5h0M1123.9 2186.1h0M1112.2 2196.6h0M1122.6 2198.6h0M1120 2189h0M1127.5 2195.8h0M1111.2 2181.1h0M1114.4 2192.5h0M1110.9 2189.2h0M1110.3 2199.1h0M1126.8 2192.6h0M1124.2 2202h0M1116.7 2198.2h0M1123.5 2193.4h0M1115.1 2187.1h0M1125.5 2206.1h0M1127.6 2202.2h0M1124.5 2178.3h0M1117.7 2213.5h0M1113.5 2191h0M1120.5 2180.5h0M1122.9 2189.8h0M1116.3 2190.6h0M1111.7 2219.3h0M1113.5 2192.5h0M1113.1 2199h0M1122.6 2207.4h0M1122 2195.3h0M1119.5 2186.8h0M1123.2 2186.6h0M1117.4 2185.4h0M1125.6 2182.1h0M1127 2199.8h0M1123.6 2198.4h0M1127.5 2200.7h0M1119 2222h0M1119.2 2203.1h0M1120.3 2187.1h0M1114.5 2193.4h0M1128.1 2230.5h0M1128 2192.7h0M1123.4 2181.2h0M1127 2191.7h0M1122.8 2217.2h0M1125.9 2184.9h0M1118.9 2185.5h0M1123.9 2181.5h0M1111.4 2205.3h0M1124.9 2192.7h0M1117.5 2182.3h0M1119.7 2185.7h0M1125.2 2220.5h0M1118.7 2207.4h0M1116.5 2172.8h0M1126.6 2206.3h0M1121.7 2206.2h0M1119 2186.7h0M1123.1 2191.2h0M1120.8 2176.9h0M1120.3 2200.6h0M1116.9 2178h0M1116.5 2177.4h0M1125 2176.6h0M1121.8 2196.2h0M1112.1 2174.4h0M1118 2212h0M1113.4 2195.1h0M1122.4 2205.1h0M1121.9 2169.7h0M1126.9 2183.1h0M1123.9 2184.4h0M1114.4 2183.9h0M1127.5 2186.2h0M1115.8 2181h0M1116.4 2197.7h0M1122.6 2216.6h0M1110.9 2208.5h0M1111.8 2190.9h0M1123.9 2183.4h0M1120.4 2193.3h0M1126.4 2184.8h0M1117.3 2182.4h0M1127 2179.5h0M1113.9 2186.8h0M1123 2226.5h0M1127.6 2190.1h0M1123.8 2171.5h0M1124.9 2198.5h0M1110.4 2193.3h0M1115.1 2200.9h0M1120.3 2189.7h0M1111.4 2197.5h0M1110.5 2198.6h0M1111.8 2196.4h0M1122.1 2203.8h0M1122.4 2189.6h0M1116.4 2207.6h0M1112.1 2208.6h0M1116.8 2192.2h0M1111.4 2185.3h0M1128.2 2218.9h0M1126.3 2182.3h0M1119 2216h0M1116.7 2207.8h0M1112.8 2177.4h0M1116.7 2189.2h0M1117.1 2201.3h0M1113.3 2179.9h0M1114.6 2188.2h0M1126.6 2198.4h0M1117.7 2185.8h0M1112.8 2182.4h0M1125 2204.1h0M1119.6 2166h0M1119.4 2191.4h0M1122.8 2178.6h0M1118.8 2207.5h0M1127.4 2206.8h0M1114.4 2205.2h0M1127.7 2177.5h0M1121.4 2203.6h0M1126.2 2197.7h0M1120.9 2176h0M1115.8 2196.3h0M1127.1 2161.6h0M1117.3 2196.8h0M1116.9 2191.5h0M1117.4 2187.3h0M1121.7 2185.8h0M1126.8 2186.3h0M1116.4 2203.9h0M1111.1 2184.1h0M1111.1 2171h0M1123.1 2183.8h0M1111.8 2204.9h0M1120.6 2190.3h0M1124.2 2194.4h0M1113.4 2188.1h0M1115.8 2164.3h0M1111.2 2173.4h0M1112.3 2202h0M1127.7 2194.3h0M1127.9 2195.8h0M1117.3 2186.2h0M1126.9 2182.8h0M1126.6 2188.7h0M1122.9 2191.9h0M1111.6 2197.2h0M1114.2 2187.7h0M1124.6 2194.6h0M1126.3 2176.3h0M1119 2189.6h0M1117.6 2179h0M1115.8 2191.5h0M1121.4 2192.6h0M1121.7 2197.9h0M1111.1 2184.1h0M1128.1 2210.8h0M1123.9 2185.9h0M1120.1 2208.3h0M1123.7 2204.1h0M1112.4 2187.9h0M1116 2209.2h0M1117.1 2179.7h0M1127.1 2195.7h0M1121.9 2171.2h0M1127.7 2206.5h0M1111.9 2179.8h0M1121.7 2187h0M1114.8 2187h0M1123.7 2194.5h0M1121.6 2226h0M1123.6 2193.7h0M1118.6 2193.8h0M1126.5 2195.2h0M1128 2190.6h0M1110.7 2195.4h0M1114.4 2186.2h0M1115 2199.4h0M1123 2159.3h0M1124.1 2176.3h0M1124 2182.6h0M1116.8 2184.1h0M1125.2 2211.8h0M1114.6 2202.9h0M1113.3 2177.3h0M1125.4 2189.7h0M1113.7 2183.1h0M1122.6 2207.7h0M1121.8 2167.8h0M1127.4 2183.2h0M1113.6 2185.8h0M1128.1 2186.6h0M1117.4 2177.3h0M1113.8 2197.6h0M1110.3 2183.6h0M1125.9 2189.1h0M1122.9 2202.4h0M1116.4 2207.7h0M1123.2 2213.9h0M1122.8 2185.2h0M1120.3 2185h0M1121.2 2159h0M1123.8 2172.2h0M1118 2202.4h0M1111.1 2184.6h0M1110.4 2203.3h0M1118.6 2201.6h0M1127.3 2184.6h0M1115.5 2198.9h0M1126.7 2174.1h0M1125.1 2189.1h0M1116.3 2207.2h0M1114 2223.7h0M1128 2187.1h0M1110.8 2189.1h0M1112.2 2208.2h0M1113.4 2184.8h0M1120.8 2199.2h0M1113.5 2188h0M1126.5 2192.3h0M1114.4 2179.2h0M1120.4 2194.9h0M1121.9 2202.2h0M1121.8 2217.2h0M1114.5 2193.7h0M1118.4 2201.1h0M1118.5 2189.7h0M1112.7 2192.3h0M1116.4 2196h0M1110.7 2197.3h0M1126.7 2197.9h0M1125.5 2197.9h0M1110.2 2191h0M1123 2186.3h0M1113 2185.7h0M1121.9 2177.5h0M1126.4 2187.4h0M1127 2190.9h0M1123.8 2174h0M1124.4 2182.4h0M1110.3 2202.7h0M1128.2 2213h0M1113.9 2175.6h0M1117.9 2192.4h0M1116 2178.6h0M1112.6 2179.1h0M1118.8 2190.8h0M1120.8 2190h0M1118 2175.3h0M1120.7 2194.5h0M1122.6 2202.4h0M1119.3 2185.7h0M1127.7 2177.7h0M1122.1 2180.6h0M1110.5 2156.4h0M1126 2196.2h0M1124 2183.2h0M1111.4 2206.9h0M1116.4 2189.4h0M1123.8 2181.6h0M1120.2 2175.8h0M1154.5 2195.8h0M1146.1 2199.5h0M1163.1 2195.7h0M1160.3 2204.3h0M1157.2 2186.7h0M1158.8 2183.4h0M1173 2180.4h0M1195.2 2174.1h0M1176.9 2162h0M1144.1 2186.2h0M1159.7 2208.2h0M1174.4 2194.8h0M1145.5 2191.1h0M1186.6 2163.4h0M1158 2217.7h0M1163.5 2209.7h0M1160.8 2167.9h0M1156.8 2202h0M1161.5 2200.4h0M1172.4 2204.8h0M1176.6 2197.3h0M1146.1 2183.6h0M1143.1 2193.2h0M1171 2191.5h0M1182.6 2175.6h0M1194.8 2164.4h0M1178.1 2177.2h0M1157.3 2195.6h0M1166.5 2177.5h0M1175.9 2195.6h0M1167.1 2172.9h0M1168.8 2162h0M1187.6 2174.1h0M1182.9 2209.8h0M1171.1 2212.9h0M1185.1 2196h0M1166.5 2156.6h0M1143.4 2188.5h0M1153.2 2187.6h0M1155.4 2155.9h0M1153.7 2171.4h0M1158 2187.5h0M1178.4 2188.8h0M1181.4 2186h0M1157.9 2180.5h0M1174.6 2182.9h0M1147.1 2186.6h0M1169.1 2194.7h0M1165.3 2159.9h0M1165.6 2167.3h0M1181.2 2208.8h0M1189.9 2179.5h0M1155.4 2201.3h0M1196.7 2206.8h0M1194.8 2189.4h0M1187.8 2159.9h0M1177.5 2183.4h0M1146.8 2169.3h0M1152 2195.1h0M1184.4 2192.7h0M1161.2 2188.4h0M1163.6 2190.1h0M1190.9 2176.9h0M1162.3 2186.2h0M1153.1 2204.4h0M1185 2211.2h0M1169.1 2188.1h0M1174.7 2186.8h0M1151.8 2191h0M1168.3 2195.4h0M1218.4 2253.2h0M1210.8 2303.2h0M1227.6 2268.6h0M1214.5 2284h0M1214.9 2294.1h0M1217 2260h0M1227.2 2288.3h0M1213.2 2287.9h0M1226.3 2291.1h0M1220.4 2239.2h0M1221.5 2287.1h0M1211.2 2323.8h0M1220.2 2293.2h0M1211.8 2308.8h0M1227.6 2320.5h0M1226.8 2301.9h0M1222.2 2295.9h0M1221.8 2301.6h0M1224.1 2302.3h0M1211.6 2303.2h0M1218.5 2324.1h0M1224.4 2318.1h0M1216.4 2278.8h0M1218.2 2262.2h0M1225.5 2295.5h0M1219.3 2272h0M1225.8 2296.1h0M1213.6 2285.6h0M1216.5 2304.9h0M1226.5 2315.1h0M1218.7 2257.3h0M1211.3 2271.5h0M1213 2291.5h0M1222.1 2275.9h0M1224 2289.3h0M1219.6 2280.7h0M1228 2313.3h0M1221.4 2311.1h0M1220.3 2257h0M1228.5 2303.7h0M1225.6 2266.1h0M1221.5 2289.7h0M1215.6 2273.9h0M1224.4 2283.9h0M1220.5 2240.4h0M1218.2 2285.5h0M1227.7 2268.5h0M1226.3 2294.4h0M1215.7 2272.5h0M1217.2 2266.6h0M1211.9 2265.1h0M1222.9 2309.4h0M1214.5 2297.6h0M1219.5 2291.6h0M1224.9 2306.1h0M1228.2 2276.4h0M1216.7 2290.3h0M1212.4 2305.8h0M1213.1 2292.9h0M1216.9 2307.3h0M1228.2 2263.1h0M1220.1 2314.1h0M1226.1 2306h0M1222.3 2277.3h0M1210.8 2314h0M1212.3 2280.9h0M1217.4 2298.6h0M1225.8 2301.2h0M1214.3 2288.6h0M1226.9 2309.1h0M1225.2 2322h0M1224.2 2282.4h0M1228.5 2302h0M1223.9 2296.1h0M1225.3 2336.5h0M1223.2 2264.2h0M1216.7 2309.8h0M1219.4 2273.7h0M1225.7 2300.4h0M1213.2 2302.8h0M1210.8 2274.8h0M1223.2 2316.4h0M1220.3 2311.5h0M1222.5 2310h0M1212 2284.9h0M1219.8 2270h0M1212.7 2280.6h0M1213.6 2310.5h0M1224.8 2317.8h0M1220.7 2287.4h0M1213.2 2300.1h0M1210.7 2281.1h0M1220.3 2299.4h0M1226.8 2342.6h0M1217.4 2305.2h0M1212.2 2286.6h0M1216.2 2316.9h0M1222.2 2279.7h0M1228 2312.1h0M1226 2288.9h0M1228.5 2314.4h0M1213.5 2308.1h0M1218.4 2297.9h0M1217 2309.8h0M1217.2 2311.4h0M1226 2304.8h0M1211.6 2291.9h0M1223.9 2286.2h0M1221.9 2284.6h0M1226.1 2281.7h0M1211.1 2278.5h0M1220.3 2298.6h0M1213 2266h0M1222.5 2308h0M1211.2 2292.1h0M1223.3 2303.6h0M1223.5 2327.3h0M1224.5 2309.2h0M1223.8 2337.2h0M1219.2 2309.8h0M1225.4 2310.8h0M1224.7 2292.1h0M1225.6 2266.5h0M1228 2280.5h0M1220.2 2284.4h0M1227.8 2299.4h0M1217.8 2303h0M1215.3 2284.2h0M1213.2 2313.1h0M1213.1 2296.1h0M1210.6 2280.3h0M1219.9 2306.5h0M1218.8 2282.9h0M1228.1 2267.4h0M1225.2 2284.3h0M1225.5 2299.4h0M1226.4 2308.1h0M1227.8 2279.9h0M1214.7 2297.1h0M1219.4 2292.4h0M1225 2275.7h0M1223.3 2277.4h0M1227.1 2304.1h0M1224.9 2315.1h0M1219.7 2269.3h0M1215 2303.7h0M1228.4 2317.8h0M1222.4 2318.1h0M1215.4 2279.8h0M1225.6 2324.5h0M1226.9 2310.6h0M1213.9 2318h0M1213.8 2315h0M1223.8 2295.8h0M1218.8 2274.7h0M1219.9 2294.3h0M1212.5 2296.4h0M1215.2 2324.3h0M1221.1 2290.8h0M1226.9 2283.4h0M1221.8 2247.4h0M1224.1 2307h0M1213.6 2296.1h0M1221.4 2244.4h0M1217.9 2316.4h0M1214 2291.1h0M1220 2272.8h0M1219.6 2300h0M1215.1 2304.9h0M1226.6 2293.5h0M1223.2 2303.3h0M1216.7 2308.6h0M1220.8 2302.3h0M1220.6 2263.6h0M1212.5 2286.9h0M1219.5 2271.5h0M1215.9 2269.1h0M1211.2 2318.1h0M1227.2 2301.4h0M1215.9 2281.1h0M1221.1 2275h0M1216.6 2302.5h0M1220.7 2292.7h0M1223.3 2272h0M1215.5 2289.8h0M1215.6 2229.6h0M1214.8 2262h0M1214.6 2258h0M1218.3 2256.8h0M1220.5 2305.5h0M1220.8 2268.6h0M1221.7 2312.9h0M1214.3 2327h0M1212.6 2263.7h0M1228.4 2279.5h0M1217.3 2298.3h0M1214.7 2311.4h0M1216.5 2241.7h0M1210.7 2291.9h0M1215.7 2302.4h0M1225 2268.9h0M1211.1 2280h0M1227 2320.6h0M1225.2 2284.8h0M1211 2298.9h0M1226.9 2266.3h0M1223.7 2305h0M1213.8 2266.9h0M1217.9 2283.4h0M1216.8 2297.7h0M1221.9 2310.8h0M1220.1 2272.6h0M1216.3 2320.5h0M1214.8 2327.5h0M1212.9 2251.6h0M1227.3 2327.5h0M1224.2 2298.6h0M1211.1 2270.2h0M1213.7 2316.5h0M1220.5 2270.3h0M1213.8 2280.9h0M1211.9 2260.9h0M1211 2306h0M1222.3 2310.7h0M1224.9 2312.8h0M1216.1 2302.2h0M1220.5 2239.8h0M1214.6 2326.1h0M1215.1 2248.9h0M1225.1 2308.6h0M1217.9 2250h0M1220.1 2239.6h0M1224.2 2297.1h0M1218.2 2271.7h0M1221.7 2275.2h0M1218.8 2260.9h0M1211.7 2282.1h0M1221.6 2285.6h0M1215.2 2238.9h0M1214.4 2273.3h0M1225.5 2252.4h0M1216.1 2333.3h0M1211.4 2312.3h0M1223.1 2310.1h0M1218.8 2279.7h0M1215.8 2323.2h0M1217.1 2286.4h0M1227.8 2297.9h0M1213.1 2294.4h0M1213.5 2303.1h0M1214.6 2306.3h0M1221.9 2311.7h0M1213.1 2282.7h0M1225 2283.5h0M1215.9 2299.5h0M1223.4 2312.5h0M1223.7 2297.9h0M1215.6 2328.6h0M1217.1 2340.3h0M1217.7 2251h0M1220.2 2279.1h0M1221.7 2280.6h0M1219.2 2287.7h0M1214.9 2294.7h0M1224.1 2291.4h0M1215.2 2313.8h0M1211.6 2267h0M1219.2 2279.1h0M1220.5 2293.8h0M1214 2287.1h0M1215.2 2310.6h0M1220.2 2269.9h0M1214.9 2279.3h0M1216.3 2232.9h0M1223.4 2293.7h0M1213.5 2226.3h0M1216.1 2288.8h0M1210.9 2293.8h0M1219.8 2275h0M1222.4 2292.3h0M1220 2298.2h0M1228.2 2272.4h0M1222.8 2268.7h0M1225.8 2258.9h0M1212.5 2304.1h0M1219.9 2290.9h0M1223.2 2275.4h0M1212 2330.6h0M1223.6 2298.1h0M1220.7 2320.8h0M1273.6 2334.1h0M1247.6 2273.4h0M1273.7 2287.1h0M1249.1 2247h0M1255.9 2309.3h0M1261.7 2261.2h0M1269.3 2282h0M1288.5 2251.2h0M1250.2 2290h0M1246.1 2268.9h0M1266.1 2256.6h0M1267.5 2237h0M1276.2 2209.8h0M1287.5 2292.4h0M1245.1 2286.8h0M1275.5 2294.5h0M1292.8 2269.6h0M1263.8 2274.7h0M1264.7 2300.2h0M1283 2338.8h0M1254.5 2287.6h0M1270.1 2253.9h0M1296.1 2320.2h0M1265.4 2275h0M1269.8 2276.9h0M1258.2 2260.3h0M1267.6 2258.4h0M1290.9 2275.9h0M1276.5 2275.5h0M1271.3 2264.4h0M1279.7 2270.6h0M1257.6 2272.5h0M1293.6 2319.7h0M1277.2 2289.2h0M1281.9 2275.7h0M1276.6 2310.4h0M1282.3 2235.8h0M1267.3 2270.9h0M1280.6 2243.8h0M1294.6 2271.2h0M1291.9 2278.8h0M1270.3 2320.4h0M1252.8 2293.1h0M1280.7 2268.9h0M1295.6 2252.2h0M1266.8 2300.4h0M1271.3 2291.2h0M1259.5 2296.4h0M1290.7 2297.3h0M1294.6 2305.6h0M1282.9 2258.1h0M1264.1 2258.7h0M1290 2278.6h0M1290.5 2245.8h0M1259.3 2303.3h0M1273.4 2216.8h0M1287.9 2285h0M1294.8 2297h0M1290 2242.6h0M1270.2 2232.4h0M1267.1 2259.6h0M1245.5 2265h0M1289.4 2297.6h0M1244.9 2244.7h0M1247.1 2269.7h0M1255.6 2269.5h0M1268.9 2285.2h0M1268.9 2296.9h0M1254.8 2322.1h0M1278.4 2267.8h0M1318.8 2264.3h0M1311.8 2269.2h0M1318.8 2272.1h0M1322.2 2280.3h0M1312.3 2286.6h0M1318.5 2278.4h0M1314.3 2253.2h0M1323.9 2273h0M1320.2 2292.7h0M1314.4 2304h0M1313.8 2272h0M1311.4 2308.9h0M1319.8 2307.3h0M1323 2344.6h0M1325.2 2329h0M1328.1 2261.3h0M1316.7 2332.6h0M1321.6 2292.3h0M1318.4 2325.5h0M1319.8 2308h0M1326.8 2238.4h0M1313.6 2265.5h0M1323.6 2270.3h0M1313.2 2208.3h0M1321.2 2293.8h0M1320.2 2258.8h0M1321.4 2264.6h0M1314.6 2300.1h0M1321.2 2307.3h0M1318.6 2311.2h0M1315.3 2304.4h0M1322.9 2284.6h0M1319.5 2300.7h0M1312.9 2245h0M1314.1 2262.8h0M1316.2 2277.6h0M1321.2 2231.2h0M1320.5 2311.6h0M1317.8 2300.6h0M1323.9 2303.5h0M1316.9 2317.9h0M1327.7 2305.4h0M1328.2 2302.8h0M1320.2 2248.6h0M1325.7 2241.6h0M1322.5 2293.5h0M1317 2254.4h0M1328 2311.8h0M1311.6 2275.4h0M1326.1 2256.3h0M1318.5 2307.7h0M1323.4 2302h0M1317.1 2327.7h0M1314.3 2297.1h0M1328.8 2301.8h0M1324 2297.2h0M1318.5 2252.7h0M1325.7 2256.4h0M1317.5 2325.2h0M1327.2 2324.3h0M1318.7 2304.6h0M1312.9 2326.8h0M1317.4 2290.9h0M1316.9 2284.8h0M1327.4 2272.3h0M1321.4 2280.2h0M1320 2290.2h0M1323.6 2272.2h0M1315.3 2310.5h0M1322.9 2323.9h0M1323.3 2259.1h0M1325.2 2298.1h0M1315.3 2300.3h0M1321.8 2285.5h0M1311.6 2274.1h0M1325.4 2292.5h0M1316 2299.1h0M1315.6 2273.2h0M1324.8 2266.1h0M1322.2 2333.3h0M1313.8 2285.9h0M1311.8 2306.1h0M1318.6 2318.3h0M1318.6 2325.8h0M1323.2 2312.1h0M1326.8 2283h0M1311.1 2281.2h0M1317 2322.9h0M1315.7 2308.6h0M1315.6 2281.2h0M1318.6 2286.6h0M1314.8 2269.3h0M1316.3 2293.3h0M1316.1 2271.7h0M1324.8 2305.8h0M1320 2288.8h0M1325 2262.9h0M1327.4 2314.2h0M1313 2287h0M1315 2251.8h0M1327.2 2291.4h0M1328.8 2309.2h0M1325.5 2284.8h0M1326.9 2292h0M1316.4 2291.3h0M1320.2 2284.1h0M1326.6 2283.4h0M1327.5 2287.2h0M1326.7 2283.6h0M1327.2 2323.1h0M1312.6 2299.2h0M1322 2278.7h0M1312.8 2259.5h0M1324 2285.6h0M1324.6 2271.9h0M1326.2 2314.9h0M1316 2291.5h0M1328.5 2309.2h0M1325.7 2258.4h0M1319.1 2277.2h0M1317.6 2276.3h0M1322.7 2301.7h0M1321.1 2303.8h0M1329 2274.3h0M1311.7 2298.4h0M1321.1 2274.6h0M1314.6 2292h0M1324.8 2244.4h0M1317.7 2281h0M1327.2 2305.1h0M1314 2265.1h0M1318.1 2274.8h0M1320.4 2274.5h0M1321.7 2299.7h0M1311.6 2320h0M1323.7 2270.7h0M1320.5 2308.3h0M1328.5 2330.6h0M1327.1 2291.2h0M1313.6 2288.2h0M1311.6 2286.3h0M1313.5 2289.6h0M1317.9 2289.4h0M1316.9 2297.5h0M1317.4 2319.5h0M1321.6 2254h0M1321.9 2287.6h0M1312.5 2249.5h0M1323.9 2248.4h0M1328 2296.8h0M1323.3 2260.5h0M1317 2286.8h0M1328.7 2338.8h0M1321.3 2316.8h0M1313.7 2296h0M1329 2350h0M1326.2 2314.1h0M1314.6 2292.9h0M1312.1 2287.7h0M1319.2 2292.3h0M1312.2 2340.5h0M1315.8 2277.7h0M1327.1 2320.2h0M1322.1 2278.2h0M1312 2317.5h0M1317.5 2296.9h0M1313.6 2271.8h0M1322 2286.8h0M1314.6 2271.8h0M1327.3 2336h0M1316.2 2264.4h0M1326.8 2293h0M1311.1 2298.3h0M1312.1 2309.9h0M1315.7 2324.3h0M1311.3 2361.4h0M1328.5 2312h0M1320.2 2356.5h0M1311 2305.2h0M1324.2 2253.4h0M1315.4 2326.9h0M1320 2311.6h0M1321.6 2245h0M1324 2258.4h0M1312.1 2270.1h0M1313.6 2343h0M1327.3 2301.6h0M1313.8 2281.3h0M1313.3 2214.8h0M1322.3 2312.6h0M1318.6 2318.7h0M1327 2308.4h0M1319.2 2275h0M1311.3 2296.1h0M1313.4 2285.1h0M1312.6 2309.4h0M1325.5 2294.6h0M1324.7 2309.5h0M1313.1 2302.3h0M1321.7 2295.3h0M1325.7 2333.9h0M1322 2279.6h0M1322.9 2295.2h0M1316.4 2292.9h0M1317.5 2310.8h0M1312 2277.2h0M1314.5 2301.3h0M1325.7 2252.2h0M1314.9 2284.7h0M1325 2303.5h0M1311.8 2303h0M1325.3 2293.2h0M1317.9 2261.8h0M1325 2250.7h0M1326.4 2273.8h0M1319 2252.5h0M1323.5 2277.1h0M1312.2 2301.1h0M1326.4 2304.8h0M1326.1 2275.3h0M1311.9 2312h0M1322.2 2351.5h0M1321 2311.6h0M1317.2 2301h0M1315.6 2293.4h0M1316.1 2289.3h0M1324.7 2303.1h0M1319.6 2252.7h0M1325.6 2306.1h0M1323 2241.4h0M1327.6 2330.7h0M1318.1 2320.7h0M1314.9 2287.3h0M1315.8 2313.7h0M1323.4 2249.3h0M1311.7 2306.1h0M1327.4 2250.6h0M1327.3 2273.7h0M1326.6 2324.9h0M1317.8 2292.9h0M1325.9 2278.3h0M1313 2249.6h0M1313.2 2319.1h0M1323 2264.2h0M1321.8 2209.5h0M1327.1 2310.3h0M1326.7 2279.6h0M1324.3 2285.1h0M1312.3 2276.9h0M1324.4 2312.5h0M1323.5 2312.2h0M1326.4 2325.7h0M1315.9 2280.4h0M1316.1 2332h0M1315 2252.1h0M1321.4 2336.1h0M1311.6 2283.4h0M1317.5 2314.3h0M1318.2 2245.8h0M1316.7 2249.7h0M1315.6 2291.6h0M1319.4 2282h0M1316.8 2308.7h0M1326.9 2263.6h0M1328 2304.5h0M1324.7 2301h0M1323 2292.6h0M1326 2310h0M1316.7 2319.9h0M1326.7 2300.5h0M1314.2 2255.8h0M1328 2252.1h0M1314.5 2290.3h0M1321.9 2252.8h0M1323.6 2291.1h0M1311.9 2289.2h0M1315.1 2312.9h0M1321 2303.8h0M1322.1 2285.4h0M1316.8 2264.3h0M1318.5 2288.7h0M1311.8 2347.9h0M1317.5 2328.7h0M1327.6 2255.4h0M1323.8 2359.1h0M1318.3 2268.7h0M1321.6 2258.7h0M1320.7 2307.7h0M1323.8 2332.8h0M1320.9 2237.1h0M1370 2205.4h0M1357.6 2298.6h0M1352.5 2215.7h0M1358.4 2259.6h0M1369.6 2262.9h0M1391.9 2324.3h0M1392.4 2308.8h0M1396.6 2256h0M1346 2291.8h0M1367 2286.6h0M1370.5 2279.9h0M1362.7 2263.1h0M1389.3 2304.6h0M1376.6 2317.4h0M1396.2 2274.5h0M1387.3 2331.5h0M1361.6 2329.1h0M1397.3 2309.4h0M1352.7 2314.3h0M1365.6 2210.7h0M1355.4 2313.5h0M1347.5 2290.9h0M1349.3 2269.9h0M1393.4 2270.8h0M1373 2276h0M1349.4 2319.2h0M1343.6 2241.7h0M1346.1 2293.1h0M1354.2 2237.6h0M1393 2261.9h0M1392.7 2243.2h0M1352.1 2286.6h0M1363 2310.6h0M1364 2299.8h0M1394.3 2305.7h0M1396.9 2305h0M1385.1 2225.3h0M1388.1 2292.6h0M1369.7 2245.5h0M1373.4 2263h0M1390.9 2281.6h0M1355.4 2279.1h0M1397.2 2309.3h0M1376.2 2261.5h0M1344.3 2277.2h0M1384.1 2270.2h0M1388.9 2280.6h0M1364.8 2256.8h0M1363.9 2305.3h0M1396.8 2220.9h0M1363.4 2294h0M1393.8 2314h0M1392.5 2254.1h0M1376.3 2328.8h0M1396.9 2339.1h0M1359 2253.9h0M1361.7 2349.9h0M1388.5 2307.1h0M1375 2225.4h0M1394.1 2248.1h0M1374.1 2231.9h0M1365.1 2217.5h0M1361.2 2282.4h0M1357.2 2288.7h0M1344.4 2270.3h0M1353.4 2260.5h0M1393.5 2275.5h0M1384.7 2306.9h0M1347 2297.3h0M1393.5 2326.6h0M1419 2312.9h0M1411.9 2336.8h0M1424.1 2366.2h0M1413 2329.9h0M1414.3 2343.2h0M1425.3 2355.4h0M1426.5 2338.3h0M1413.7 2304.2h0M1417.3 2351.8h0M1412.2 2331.4h0M1423.8 2329.9h0M1421.7 2347.9h0M1428.3 2322h0M1423.2 2322.1h0M1414 2310.6h0M1425.4 2345.1h0M1412.8 2305.8h0M1418.3 2312.1h0M1426.7 2347.9h0M1428.9 2332.2h0M1416.5 2317.7h0M1414.4 2353.7h0M1421.4 2333.8h0M1420.2 2306.8h0M1418.8 2342.1h0M1426.6 2329.3h0M1422.1 2351.8h0M1424.1 2289.7h0M1424.6 2318.8h0M1419.8 2321.7h0M1416 2348.8h0M1417.4 2349.4h0M1412.4 2357.3h0M1415.2 2340.1h0M1417.3 2328.8h0M1411.4 2359.2h0M1422.8 2299.1h0M1411.5 2320.6h0M1424.3 2361.2h0M1417.8 2345.1h0M1412.7 2333.5h0M1415.2 2321.8h0M1428.4 2318.8h0M1423.9 2322.1h0M1426.1 2339.3h0M1428.2 2275.5h0M1427.8 2330.1h0M1412.2 2349.9h0M1413.7 2360.7h0M1424.8 2332.1h0M1416.6 2344.6h0M1412.1 2337.1h0M1428.6 2323.1h0M1418.2 2357.1h0M1423 2355.3h0M1428.5 2363h0M1422.7 2346.4h0M1416.9 2323.5h0M1417.5 2351.1h0M1416.4 2350.5h0M1419.6 2346.9h0M1428.9 2346.1h0M1427.8 2350.2h0M1420.9 2350.7h0M1416.7 2302.2h0M1415.7 2368.1h0M1416.6 2347.2h0M1428.3 2336.1h0M1420.9 2359.2h0M1414.6 2306.6h0M1416.7 2332.1h0M1414.5 2331.4h0M1419.5 2302.2h0M1414.8 2346.7h0M1415.7 2306.2h0M1412.7 2378.5h0M1420.3 2315h0M1427.5 2309.1h0M1429.2 2353.9h0M1422.9 2327.7h0M1413.4 2318.7h0M1419 2344.8h0M1417.4 2318.7h0M1429 2325.3h0M1419.1 2355.8h0M1422.4 2325.6h0M1426 2296.6h0M1418.2 2290.1h0M1422.8 2351.5h0M1428.1 2328.9h0M1426.7 2264.5h0M1426.4 2354.1h0M1421 2342.9h0M1421.9 2320.2h0M1421.8 2335.4h0M1421.5 2303.7h0M1416.2 2340h0M1417.8 2350.5h0M1421.3 2326.7h0M1419 2360.3h0M1412 2327.4h0M1413.3 2348.5h0M1416.4 2340.4h0M1428.3 2324.7h0M1419.4 2339.8h0M1421.3 2344.4h0M1422.5 2344.2h0M1428.3 2284.5h0M1412.2 2296.8h0M1423.3 2312.9h0M1425.7 2345.9h0M1419.3 2318.9h0M1427.6 2280.4h0M1417.1 2342.9h0M1415.4 2345.1h0M1420.6 2343.4h0M1423 2336.3h0M1416.2 2368.6h0M1413.6 2341.8h0M1412.1 2316h0M1414.1 2302.7h0M1427.7 2355.2h0M1421.7 2289.3h0M1412.6 2339.7h0M1419.1 2338.2h0M1416.6 2327.4h0M1426.8 2350.8h0M1418.9 2347.4h0M1422 2364.6h0M1427.4 2332.5h0M1413.2 2259h0M1411.9 2321.6h0M1425.4 2347.6h0M1428.5 2353.9h0M1413.6 2326.2h0M1424.9 2279.7h0M1421.4 2341.3h0M1412.6 2371.6h0M1427.6 2360.5h0M1427.6 2353.3h0M1419.5 2322.2h0M1425.3 2343.7h0M1428 2319.2h0M1416.3 2317.5h0M1414.6 2351.1h0M1424.7 2339.3h0M1415.1 2349.3h0M1412.4 2373.4h0M1423.7 2359.8h0M1411.9 2318.2h0M1419 2306.9h0M1420.7 2336.7h0M1426.1 2326.9h0M1412.2 2326.8h0M1412.3 2344h0M1422.7 2357.1h0M1414.6 2378.1h0M1421.6 2323.3h0M1425.3 2344.1h0M1427.6 2320.5h0M1412.4 2311.5h0M1420.7 2347.9h0M1421.1 2325.9h0M1416.2 2347.2h0M1413.7 2344.6h0M1411.7 2319.1h0M1429.3 2324.3h0M1412.5 2346.1h0M1421.8 2327.7h0M1414.6 2355.5h0M1411.5 2352.3h0M1415.5 2357.6h0M1413 2360.3h0M1424.3 2324.1h0M1423.4 2344.8h0M1420.1 2342.5h0M1421.1 2327.9h0M1419.2 2300.5h0M1429.3 2358.3h0M1415.5 2320.4h0M1427.9 2333.7h0M1417.9 2300.7h0M1422.9 2318h0M1412.8 2351.2h0M1421.1 2332.1h0M1425.7 2324.1h0M1415 2337h0M1426.7 2344.2h0M1423.9 2321h0M1415.5 2311h0M1424.6 2317.8h0M1426 2344.8h0M1424.7 2360.2h0M1423.8 2362.5h0M1417.5 2335.1h0M1424.2 2353.4h0M1426.3 2327.9h0M1413.7 2312.3h0M1418.7 2336.2h0M1413.4 2317h0M1427.4 2344.5h0M1426.3 2331.4h0M1424.3 2334.2h0M1427.4 2337.9h0M1423.5 2356.8h0M1415.1 2350.5h0M1416.7 2318h0M1429.1 2294.3h0M1427.1 2329.8h0M1412.9 2345.9h0M1416.7 2333.7h0M1420.8 2342.4h0M1426.2 2332.5h0M1423.2 2355.5h0M1429.1 2324.2h0M1416.1 2306.6h0M1423.8 2328.1h0M1422.2 2347.1h0M1423 2329h0M1422.5 2347.6h0M1422.3 2322.3h0M1420.6 2346.4h0M1418.8 2299.9h0M1422 2334.5h0M1417.9 2341.6h0M1428.3 2361.7h0M1427.5 2338.4h0M1418.8 2309.9h0M1425.2 2352.1h0M1428.4 2320.3h0M1420.5 2361.4h0M1421.6 2333.8h0M1414.7 2306.8h0M1425.6 2345.1h0M1424.4 2333.9h0M1413.8 2348.2h0M1415.7 2363.9h0M1429.1 2303.8h0M1420.1 2381h0M1423.2 2323.3h0M1425.4 2333.7h0M1423.6 2310.4h0M1421.7 2354.5h0M1425.7 2320.7h0M1418 2373.5h0M1421.2 2277.4h0M1415.6 2339.2h0M1413.6 2323.8h0M1423.2 2326.3h0M1422.9 2289.7h0M1413.7 2354.1h0M1424.3 2358h0M1415.2 2338.1h0M1417.4 2357.5h0M1429.3 2279.6h0M1426.2 2336.8h0M1416.7 2317.6h0M1425.2 2382.3h0M1412.4 2307.2h0M1411.5 2363.2h0M1416.8 2384.7h0M1423.7 2346.7h0M1427.5 2351.2h0M1423.6 2346.7h0M1424 2313.4h0M1422.5 2355h0M1416.7 2357.7h0M1429.2 2337.5h0M1411.9 2306.5h0M1425.7 2359.6h0M1421.4 2272.7h0M1426.8 2329.7h0M1419 2323.5h0M1424.3 2265.3h0M1419 2360.9h0M1414.9 2313.3h0M1418.7 2336.6h0M1428.5 2323.6h0M1414.4 2310.6h0M1421.6 2303.7h0M1417.8 2363h0M1422.6 2340.5h0M1413.6 2363h0M1419.3 2359.5h0M1423 2360.3h0M1414 2338.2h0M1426.4 2312.4h0M1423.1 2315.4h0M1414.4 2316.9h0M1417.3 2340.8h0M1457.6 2336.3h0M1450.5 2340h0M1461.8 2294.7h0M1447 2350.9h0M1453.3 2357.9h0M1461.2 2342.2h0M1496.6 2349.9h0M1480.7 2312.6h0M1478.4 2325.3h0M1475.7 2337.1h0M1474.2 2341.7h0M1462 2326.5h0M1451.6 2285.4h0M1473.7 2317.1h0M1491.4 2320.1h0M1473.1 2322.1h0M1488.2 2362.6h0M1487.6 2293.3h0M1477.2 2338.4h0M1452.9 2325h0M1459.3 2329.5h0M1456 2299.1h0M1456.2 2338.8h0M1458.3 2288.7h0M1472 2286.1h0M1470.9 2306.8h0M1456.5 2324.9h0M1445.1 2330.5h0M1480.9 2325.7h0M1485.7 2291.7h0M1491.8 2320.7h0M1494.7 2335.5h0M1463.6 2316.7h0M1458.3 2350.3h0M1465.4 2334.3h0M1457.9 2291h0M1488.1 2365.1h0M1483.8 2290.8h0M1447.4 2321.1h0M1476.9 2332h0M1490.2 2282.3h0M1479.8 2310.5h0M1456.6 2351.3h0M1471.9 2332.7h0M1471.3 2334.9h0M1479.5 2260.8h0M1477.2 2334.5h0M1479.6 2340.7h0M1483.5 2290.8h0M1463 2290.5h0M1476.8 2362.9h0M1479.9 2312.3h0M1449.3 2333.9h0M1490.6 2309h0M1463.7 2332h0M1451.3 2307.6h0M1448 2310.8h0M1445.3 2373.2h0M1456.6 2348.2h0M1497.1 2325.7h0M1481 2310.2h0M1449.9 2318.5h0M1488.5 2353.1h0M1469.3 2345.6h0M1487.4 2330.9h0M1476.8 2333h0M1463.2 2265h0M1481.4 2322.4h0M1495.7 2285.1h0M1477.9 2288.9h0M1524.8 2365.4h0M1516.2 2351.1h0M1514.6 2320.7h0M1518.3 2300.2h0M1513.8 2299.8h0M1512.8 2310.3h0M1528.1 2309.2h0M1520.2 2312.9h0M1527.1 2285.7h0M1522.7 2365.3h0M1528 2279.3h0M1529.2 2323h0M1529 2304.3h0M1525.6 2289.6h0M1514 2253.4h0M1515.3 2307.5h0M1514.5 2353.2h0M1520.9 2326h0M1525.7 2352.3h0M1522.4 2347h0M1529.8 2341.9h0M1524.2 2303.7h0M1520.8 2313.2h0M1525.1 2253.1h0M1514.4 2283.9h0M1526.6 2327.4h0M1512.8 2344.2h0M1513.8 2323.2h0M1515.8 2327.4h0M1521.8 2333.9h0M1520.8 2342.2h0M1516.4 2322.7h0M1515.8 2328.6h0M1527.7 2315.8h0M1516.6 2285.3h0M1514.5 2323.4h0M1525.3 2380.7h0M1515.6 2324.4h0M1513.3 2320h0M1520.3 2293.6h0M1514.5 2351.4h0M1519.7 2343.2h0M1524.2 2253h0M1525.3 2329.5h0M1518.4 2246.8h0M1519.9 2319.8h0M1524.4 2358.8h0M1523.3 2298.6h0M1515.4 2288.5h0M1518.5 2251.9h0M1516.9 2298.9h0M1513.5 2322.6h0M1516.2 2329.2h0M1513.5 2307.7h0M1516.7 2299.9h0M1529 2345.1h0M1527 2275.4h0M1524 2292.7h0M1517.5 2317.2h0M1523.8 2252.6h0M1527 2314.5h0M1516.8 2350.2h0M1514.4 2314.8h0M1512.7 2308h0M1521.1 2255.6h0M1524.8 2358.5h0M1513.8 2284.8h0M1516.7 2389.6h0M1515.4 2339.4h0M1525.3 2336.1h0M1516.5 2314.3h0M1527.5 2243.5h0M1526.8 2320.7h0M1522.6 2258.3h0M1512.9 2299.8h0M1520.3 2368h0M1527.9 2298.5h0M1520.6 2357.7h0M1520.4 2308.6h0M1526.9 2333.9h0M1528.5 2318.6h0M1528.6 2317.9h0M1515.8 2312.8h0M1526.9 2336.7h0M1513.4 2268.3h0M1520.9 2273.7h0M1521.3 2294.5h0M1523.6 2308.1h0M1520.6 2302.8h0M1519 2365.7h0M1528.3 2314.1h0M1525.8 2332.5h0M1526.5 2293.3h0M1516.4 2314.7h0M1518.3 2341.8h0M1528 2332.4h0M1529.8 2326.4h0M1515.3 2356.3h0M1527.6 2287.8h0M1518.3 2309h0M1514.3 2351.5h0M1528.4 2371.1h0M1523.1 2291h0M1518.3 2312.2h0M1514.4 2323.1h0M1514.5 2342.9h0M1517.6 2301h0M1528.6 2231.5h0M1512.1 2361.6h0M1528.1 2302.5h0M1511.9 2277.3h0M1528.4 2274.5h0M1526.2 2334.6h0M1523.6 2338.5h0M1514.2 2352.4h0M1524 2263.1h0M1516.5 2295.4h0M1524.8 2312.6h0M1524 2304.7h0M1518.3 2273.6h0M1516.3 2281.9h0M1526.1 2347.3h0M1518.5 2298.4h0M1529.7 2307.8h0M1516.9 2273.3h0M1525.2 2317.4h0M1529.7 2327.7h0M1520.8 2291.6h0M1515.8 2371.3h0M1519.5 2305.3h0M1529.8 2309.7h0M1516.8 2283.5h0M1519.2 2293.8h0M1522.7 2298.1h0M1524.2 2327.8h0M1517.9 2295.9h0M1526.4 2319.9h0M1515.9 2280.4h0M1522.6 2272.3h0M1529.6 2262.4h0M1516.4 2278.6h0M1525.9 2324.3h0M1520.5 2340.7h0M1514.2 2326.3h0M1523.7 2337.8h0M1517.3 2338.6h0M1512.5 2336.5h0M1527 2326.4h0M1512.4 2344h0M1518.5 2331h0M1516.1 2350.7h0M1528.9 2248.1h0M1512.2 2305.4h0M1528.7 2298.1h0M1516.2 2360.5h0M1517.3 2332.3h0M1529.7 2292h0M1512.1 2362.1h0M1529.3 2255.4h0M1516.3 2331.2h0M1522.5 2257.1h0M1512.2 2276.7h0M1512.9 2329.7h0M1528.5 2353.8h0M1512 2357.9h0M1515.3 2311.7h0M1524.5 2300.1h0M1523 2348.4h0M1522 2297.7h0M1521.4 2320h0M1520.7 2334.3h0M1527.8 2344.7h0M1512.8 2326.5h0M1528 2290.1h0M1526.3 2306.5h0M1516.6 2299.9h0M1517.1 2338.6h0M1522.8 2258.1h0M1521.5 2296.5h0M1525.4 2330h0M1529.4 2337.2h0M1520.7 2332.6h0M1518.4 2295.5h0M1516.1 2315.2h0M1515.7 2344.5h0M1524 2318h0M1515.8 2276.3h0M1523.5 2298h0M1521.3 2359.4h0M1520.9 2351.5h0M1524.8 2330.6h0M1512.2 2311.6h0M1528 2330.7h0M1514.6 2329.9h0M1515 2260h0M1525.9 2339.1h0M1513 2307.2h0M1524.8 2363.5h0M1524.4 2315h0M1512.9 2319.1h0M1520.4 2323.6h0M1516.6 2254.1h0M1517.7 2312.9h0M1528 2317.6h0M1513.4 2299.1h0M1524.8 2317.1h0M1527.8 2298.2h0M1520.4 2358.9h0M1523.3 2323.4h0M1527.2 2365.1h0M1521.5 2334.2h0M1523.7 2337.5h0M1517.2 2333.1h0M1526.9 2295.1h0M1514.5 2283.8h0M1518.9 2278.2h0M1527.5 2330.9h0M1523.6 2303.8h0M1511.8 2320.9h0M1529.1 2308.5h0M1516.6 2370.6h0M1513.8 2356.2h0M1524.9 2347.5h0M1515.5 2313.8h0M1518.5 2405.3h0M1519.9 2370.1h0M1520.4 2304.4h0M1519.6 2328.6h0M1513.8 2290.3h0M1520.9 2292.6h0M1528.5 2235.8h0M1528 2261.3h0M1515.2 2316.6h0M1517.7 2229.8h0M1527.3 2338h0M1527.8 2257.1h0M1523.4 2301.9h0M1522.2 2349.3h0M1524.9 2311.2h0M1528.1 2309.1h0M1528.1 2324.2h0M1517.4 2345.4h0M1520.5 2336.3h0M1526.7 2315.6h0M1518.8 2249.5h0M1516.9 2324.1h0M1526.8 2322.5h0M1521.4 2331.6h0M1511.9 2319.2h0M1518.9 2358.1h0M1516.7 2312.4h0M1524.6 2375.8h0M1519.8 2382.4h0M1516.9 2388.4h0M1519.2 2325.9h0M1522.4 2328.9h0M1526.5 2299.5h0M1525.2 2329.3h0M1525.9 2365.1h0M1526.3 2243.6h0M1521.5 2276.6h0M1527.8 2339.3h0M1515.7 2334.7h0M1526.3 2301.2h0M1519.5 2291.4h0M1525.8 2277.4h0M1514.4 2329.5h0M1522.6 2312.9h0M1523.8 2319.6h0M1527.1 2328.7h0M1527 2336.1h0M1527.9 2298.3h0M1519.1 2289.7h0M1527.1 2316h0M1529.7 2326.7h0M1515.4 2318.2h0M1522.2 2296.9h0M1518.1 2296.4h0M1513.4 2343.7h0M1515.3 2307.6h0M1524.7 2320.6h0M1522.3 2341.1h0M1523.1 2334.8h0M1511.9 2329.8h0M1516.2 2312.8h0M1518 2275h0M1516.4 2343h0M1515.5 2254h0M1525.5 2251.6h0M1529.4 2368.3h0M1592.2 2323.2h0M1571.1 2354.2h0M1583 2299.9h0M1553.4 2228.5h0M1567.4 2170.8h0M1568.1 2281h0M1551.2 2367.5h0M1563.2 2393.5h0M1564.3 2279.8h0M1557.8 2241.7h0M1583.3 2288.3h0M1578.1 2250.5h0M1564.6 2339h0M1595.2 2254.7h0M1577.3 2336.1h0M1580.1 2307.7h0M1592.9 2341.3h0M1596.3 2316.3h0M1583.1 2297.5h0M1548.5 2340h0M1578.6 2315.1h0M1555 2313.1h0M1579.3 2281.8h0M1564.7 2320.7h0M1594.2 2266.7h0M1580.3 2261h0M1594.4 2329.7h0M1597.2 2261.5h0M1580.6 2319.2h0M1594.5 2293.9h0M1560.6 2223.2h0M1560.1 2301.3h0M1586.4 2319.3h0M1545.2 2273.7h0M1569.6 2292.6h0M1585.9 2335.1h0M1566 2321h0M1545.7 2271.8h0M1548.4 2297.4h0M1551.6 2297h0M1588.9 2348.5h0M1571.8 2287.7h0M1555.4 2314.1h0M1560.3 2244.1h0M1547.2 2379.8h0M1579.6 2301.9h0M1581.7 2261.2h0M1563.7 2323.5h0M1550.5 2241.5h0M1587.4 2282.6h0M1552.1 2319.6h0M1566.3 2332.3h0M1566.9 2307.7h0M1559.6 2254.1h0M1566.5 2352.7h0M1564.9 2287.4h0M1584.8 2267.5h0M1572.9 2340.9h0M1561.5 2269.8h0M1579.1 2319.5h0M1559.5 2326.7h0M1579.1 2227h0M1568.6 2306.2h0M1548.9 2359.3h0M1580.8 2154.1h0M1582.7 2205.7h0M1544.3 2296h0M1545.5 2322.3h0M1596.4 2209h0M1581.8 2327.4h0M1612.4 2305.4h0M1619.6 2278.9h0M1626.5 2301.5h0M1622.6 2264.3h0M1623.4 2292.6h0M1616.8 2290.3h0M1613.7 2273.7h0M1621.4 2308h0M1622.6 2296.5h0M1627 2261.6h0M1629.5 2287.3h0M1614.9 2262.4h0M1621.7 2309.7h0M1622.2 2297.4h0M1618.9 2281.2h0M1617.3 2273h0M1624.3 2295.9h0M1627.9 2273.2h0M1613.3 2265.3h0M1615.3 2261.4h0M1619.1 2309.6h0M1621.5 2290.3h0M1627.8 2293.6h0M1617.3 2267.8h0M1629.6 2302.4h0M1630.2 2274h0M1622.1 2284.6h0M1614.5 2252.6h0M1622.1 2268.1h0M1623.3 2291.4h0M1617.2 2297.4h0M1629.5 2269.7h0M1626.2 2277.1h0M1619.6 2296.4h0M1620.1 2271.3h0M1627.5 2265.5h0M1620.7 2290.3h0M1620.5 2298.1h0M1615.7 2282.5h0M1625.9 2287.9h0M1612.5 2255.6h0M1615.7 2297h0M1616.6 2282.9h0M1622.2 2297.9h0M1614.9 2298.3h0M1620.7 2297.8h0M1614.7 2275.8h0M1620 2284h0M1619.1 2282.5h0M1621.1 2273.2h0M1621.9 2255.9h0M1623.6 2266.7h0M1619.3 2285.7h0M1615.3 2317.7h0M1616.8 2255.4h0M1629.8 2278.5h0M1629 2283.5h0M1626.4 2290.6h0M1617.9 2269.5h0M1622 2257.1h0M1626.2 2271.2h0M1628.1 2287.2h0M1617.5 2262.6h0M1616.8 2279.2h0M1627.4 2296.3h0M1618.5 2299.4h0M1616.3 2267.5h0M1627.2 2262.8h0M1625.5 2265.9h0M1614.8 2318.7h0M1623.4 2280h0M1622.6 2297.8h0M1628.2 2290.2h0M1624.9 2311.9h0M1629.6 2293.4h0M1620 2248.8h0M1627.1 2296.3h0M1622.3 2314.9h0M1620.3 2295.4h0M1613.9 2257.5h0M1627.3 2285.4h0M1622.3 2277.1h0M1616.1 2289.1h0M1615.1 2254.7h0M1615.2 2290.7h0M1613.4 2271h0M1628.6 2287.3h0M1617.9 2267.4h0M1624.8 2280.2h0M1617.7 2265.4h0M1617.5 2281.1h0M1629.1 2283.8h0M1615 2282.9h0M1612.4 2287.7h0M1617.1 2253.1h0M1629.1 2286.7h0M1620.9 2291.3h0M1616.2 2278.2h0M1624.5 2280.8h0M1627.3 2257.9h0M1615.6 2286.7h0M1615.2 2260.5h0M1627 2310.8h0M1618 2272.8h0M1614.8 2289.9h0M1629.8 2264h0M1629.3 2262.5h0M1621.8 2297.8h0M1615.9 2269.3h0M1613.2 2275h0M1612.4 2282.6h0M1623.9 2279.2h0M1623.6 2253.4h0M1613.8 2292.8h0M1615.3 2271.3h0M1618.7 2287.2h0M1621.3 2308h0M1616.6 2267.2h0M1619.1 2252.5h0M1616.1 2281h0M1629.4 2291h0M1626.9 2289.2h0M1620.3 2293.1h0M1616.5 2300.8h0M1612.4 2281.3h0M1619.4 2280.6h0M1614.1 2289.7h0M1617.8 2280.2h0M1620 2300.1h0M1625.7 2283.1h0M1619 2271.5h0M1629.3 2298.3h0M1617.9 2278.3h0M1623.1 2278.1h0M1614.1 2282h0M1620.6 2282.8h0M1615.1 2284.5h0M1614 2264.8h0M1626.2 2281.6h0M1620.9 2262.7h0M1621 2244.8h0M1621.8 2294.1h0M1627.3 2248.8h0M1620.6 2277.9h0M1614.2 2266.2h0M1625.6 2265.1h0M1629.9 2307.6h0M1617.5 2290.5h0M1624 2264.7h0M1613.7 2298h0M1619.3 2263.3h0M1630.1 2267.5h0M1616.2 2262.2h0M1616.8 2280.2h0M1612.3 2286.8h0M1625.7 2286.7h0M1617.4 2290.9h0M1621.2 2258.7h0M1625.7 2301h0M1612.3 2250.1h0M1613 2264.4h0M1622.4 2278.6h0M1615.4 2289.2h0M1613.8 2275.3h0M1619 2293.2h0M1625 2276.6h0M1613.2 2272.7h0M1615.2 2268.5h0M1620.8 2249.9h0M1620.4 2289.1h0M1612.4 2315.7h0M1613.6 2291.4h0M1616.2 2258.8h0M1612.5 2273.7h0M1627.4 2278.1h0M1616.6 2265.4h0M1621.2 2260.4h0M1613.2 2274.2h0M1617.4 2268.7h0M1619.8 2294.7h0M1625 2252.2h0M1615 2293.1h0M1624.2 2285.8h0M1613.5 2320.6h0M1622.5 2291.6h0M1628.2 2265.9h0M1628.4 2282.8h0M1626.9 2292.5h0M1615 2281.6h0M1621.6 2263.5h0M1627.1 2281.1h0M1621.3 2285.4h0M1627.8 2254.8h0M1616.1 2288h0M1617 2270.8h0M1615.2 2291.7h0M1623.6 2282h0M1622.6 2276.8h0M1614.7 2273h0M1620.9 2263h0M1625.4 2251.3h0M1624.7 2290.6h0M1625.6 2295.2h0M1628.5 2282.3h0M1627.7 2268.9h0M1622 2306h0M1629.8 2280.5h0M1623.6 2302.9h0M1620.8 2277.2h0M1616.4 2249.7h0M1627.4 2275.9h0M1618.4 2311.2h0M1620.5 2294.5h0M1623.3 2299.8h0M1618.5 2256.1h0M1616.6 2239.5h0M1613.2 2257.7h0M1617.6 2273.5h0M1627.5 2279.5h0M1615.3 2286.2h0M1626.4 2266.3h0M1629.5 2291.2h0M1625.3 2263.3h0M1629.9 2277.2h0M1620.1 2279.1h0M1619.1 2267.7h0M1628.9 2251.6h0M1617.8 2270.1h0M1614.1 2289h0M1626.7 2290.6h0M1622.4 2285.6h0M1622.4 2287.5h0M1625 2264.2h0M1619.5 2262.8h0M1629.9 2281.3h0M1618.6 2266h0M1628 2257.1h0M1628.4 2269.9h0M1616.9 2258.3h0M1613.4 2281.2h0M1623.4 2289.2h0M1621.8 2266.3h0M1629.1 2279.5h0M1625.5 2291.8h0M1615.4 2275.2h0M1627.8 2262.3h0M1625.7 2275.1h0M1614.1 2268.2h0M1621.6 2295.4h0M1624.1 2262.9h0M1617.9 2260.5h0M1626.9 2282.9h0M1628.4 2296.3h0M1615.4 2302.3h0M1620 2273.1h0M1621.7 2261.7h0M1622.2 2291.9h0M1620.6 2271.3h0M1615.4 2297.8h0M1627 2280.5h0M1616 2252.7h0M1615.1 2268.1h0M1624.4 2266h0M1621.9 2251.3h0M1626 2267.8h0M1628.7 2262.3h0M1623.2 2294.2h0M1624 2262.4h0M1622.6 2286.3h0M1623.6 2252h0M1627 2289.2h0M1613.4 2267.3h0M1622.6 2272.9h0M1619.6 2286.9h0M1614.2 2309.4h0M1618.3 2267.8h0M1623.3 2311.2h0M1629.2 2269.4h0M1630.1 2286.3h0M1618 2299.8h0M1620.7 2275.5h0M1615.1 2300.3h0M1622.3 2286.6h0M1621.1 2261.6h0M1616.3 2275.9h0M1626.5 2286.5h0M1624.2 2303.2h0M1627.1 2287h0M1617.9 2289.4h0M1630 2284.9h0M1681.5 2247.9h0M1651.1 2246.4h0M1691.9 2259.9h0M1671.8 2260.6h0M1665.5 2251.7h0M1647.1 2296.3h0M1691.1 2271.2h0M1670.3 2270h0M1690.5 2283.2h0M1696.1 2287.2h0M1654.6 2251.4h0M1658.2 2278.6h0M1684.7 2317.4h0M1670.1 2310.1h0M1667.5 2272.3h0M1656.1 2257h0M1685.8 2274.2h0M1658.7 2298.9h0M1676.1 2334.7h0M1661.2 2302.4h0M1679.9 2254.3h0M1682.9 2308.5h0M1689.2 2303.5h0M1663.6 2250.5h0M1658.6 2252.5h0M1675.3 2338.6h0M1661.2 2239.2h0M1683.5 2272.9h0M1668.3 2275.6h0M1677.9 2280h0M1678.4 2272.4h0M1678.5 2244.5h0M1681.5 2270.6h0M1646.6 2328.8h0M1671.2 2252.6h0M1678.1 2288.7h0M1698.2 2302.7h0M1670.8 2242.3h0M1678 2308.2h0M1695.5 2312.2h0M1689.4 2265h0M1652.2 2301.8h0M1650.3 2295h0M1649.7 2256.6h0M1698.2 2272.1h0M1688.6 2243.2h0M1669.2 2243.5h0M1671.3 2250.1h0M1698.7 2265.2h0M1692.2 2285.1h0M1679.3 2271.9h0M1691.8 2259.5h0M1698.3 2257.3h0M1672.6 2250.2h0M1693.1 2264.6h0M1694.3 2290.1h0M1662.7 2323.3h0M1665.4 2274.7h0M1692.7 2306.1h0M1656.6 2275.1h0M1663.8 2289.7h0M1668.9 2253.5h0M1651.7 2259.9h0M1689.7 2268.2h0M1673.3 2265.5h0M1666.7 2263.6h0M1660.7 2309.4h0M1665.6 2283.9h0M1684.4 2254h0M1647.7 2266.1h0" stroke="#000" stroke-width="3.1" stroke-linecap="round"/>
<path d="M67.5 2064.3H1712.3V2469M67.5 2469H1712.3M75.6 2064.3V2469" fill="none" stroke="#000" stroke-width="2.3"/>
<text x="62.7" y="2420" font-size="16.6" text-anchor="end">2</text>
<text x="62.7" y="2354.46" font-size="16.6" text-anchor="end">4</text>
<text x="62.7" y="2288.92" font-size="16.6" text-anchor="end">6</text>
<text x="62.7" y="2223.38" font-size="16.6" text-anchor="end">8</text>
<text x="62.7" y="2157.84" font-size="16.6" text-anchor="end">10</text>
<text x="62.7" y="2092.3" font-size="16.6" text-anchor="end">12</text>
<text x="140.2" y="2494" font-size="16.6" text-anchor="middle">BGN</text>
<text x="138.2" y="2090.3" font-size="19" text-anchor="middle">**</text>
<text x="240.6" y="2494" font-size="16.6" text-anchor="middle">TREM2</text>
<text x="238.6" y="2090.3" font-size="19" text-anchor="middle">*</text>
<text x="341" y="2494" font-size="16.6" text-anchor="middle">FAP</text>
<text x="339" y="2090.3" font-size="19" text-anchor="middle">****</text>
<text x="441.4" y="2494" font-size="16.6" text-anchor="middle">OLR1</text>
<text x="439.4" y="2090.3" font-size="19" text-anchor="middle">***</text>
<text x="541.8" y="2494" font-size="16.6" text-anchor="middle">COMP</text>
<text x="539.8" y="2090.3" font-size="19" text-anchor="middle">***</text>
<text x="642.2" y="2494" font-size="16.6" text-anchor="middle">NOX4</text>
<text x="640.2" y="2090.3" font-size="19" text-anchor="middle">***</text>
<text x="742.6" y="2494" font-size="16.6" text-anchor="middle">CTHRC1</text>
<text x="740.6" y="2090.3" font-size="19" text-anchor="middle">*</text>
<text x="843" y="2494" font-size="16.6" text-anchor="middle">INHBA</text>
<text x="841" y="2090.3" font-size="19" text-anchor="middle">*</text>
<text x="943.4" y="2494" font-size="16.6" text-anchor="middle">MSR1</text>
<text x="941.4" y="2090.3" font-size="19" text-anchor="middle">*</text>
<text x="1043.8" y="2494" font-size="16.6" text-anchor="middle">ITGBL1</text>
<text x="1041.8" y="2090.3" font-size="19" text-anchor="middle">*</text>
<text x="1144.2" y="2494" font-size="16.6" text-anchor="middle">COL1A1</text>
<text x="1142.2" y="2090.3" font-size="19" text-anchor="middle">**</text>
<text x="1244.6" y="2494" font-size="16.6" text-anchor="middle">RCN3</text>
<text x="1242.6" y="2090.3" font-size="19" text-anchor="middle">**</text>
<text x="1345" y="2494" font-size="16.6" text-anchor="middle">ASPN</text>
<text x="1343" y="2090.3" font-size="19" text-anchor="middle">**</text>
<text x="1445.4" y="2494" font-size="16.6" text-anchor="middle">MS4A14</text>
<text x="1443.4" y="2090.3" font-size="19" text-anchor="middle">*</text>
<text x="1545.8" y="2494" font-size="16.6" text-anchor="middle">SPP1</text>
<text x="1543.8" y="2090.3" font-size="19" text-anchor="middle">*</text>
<text x="1646.2" y="2494" font-size="16.6" text-anchor="middle">THBS2</text>
<text x="1644.2" y="2090.3" font-size="19" text-anchor="middle">****</text>
<path d="M68.5 2414H75.6M68.5 2348.5H75.6M68.5 2282.9H75.6M68.5 2217.4H75.6M68.5 2151.8H75.6M68.5 2086.3H75.6M140.2 2469v7M240.6 2469v7M341 2469v7M441.4 2469v7M541.8 2469v7M642.2 2469v7M742.6 2469v7M843 2469v7M943.4 2469v7M1043.8 2469v7M1144.2 2469v7M1244.6 2469v7M1345 2469v7M1445.4 2469v7M1545.8 2469v7M1646.2 2469v7" stroke="#000" stroke-width="2"/>
<text x="37" y="2237.7" font-size="16.6" text-anchor="middle" transform="rotate(-90 37 2237.7)">Genes expression</text>
<text x="28" y="2058.7" font-size="36.5">J</text>
<text x="1727" y="2079" font-size="16.6">BRC</text>
<circle cx="1734.4" cy="2098.6" r="9" fill="#4a80c4"/>
<circle cx="1734.4" cy="2127.7" r="9" fill="#da282d"/>
<text x="1748.5" y="2106.7" font-size="16.6">NO</text>
<text x="1748.5" y="2135.5" font-size="16.6">YES</text>
</svg>
</body></html>
